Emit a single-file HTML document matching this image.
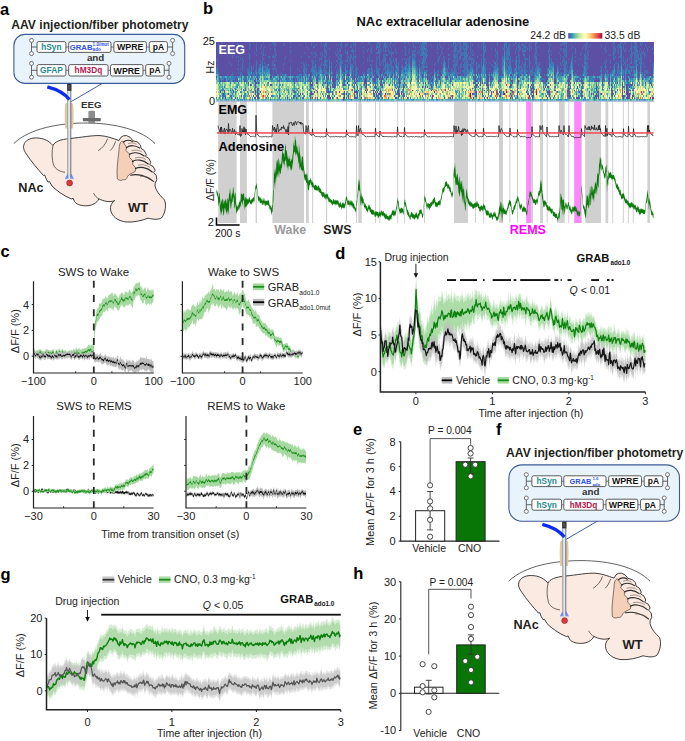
<!DOCTYPE html>
<html><head><meta charset="utf-8"><style>
html,body{margin:0;padding:0;background:#fff;width:685px;height:741px;overflow:hidden}
svg{display:block}
text{font-family:"Liberation Sans",sans-serif}
</style></head><body>
<svg width="685" height="741" viewBox="0 0 685 741">
<text x="0" y="14.6" font-size="16.5" font-weight="bold" fill="#000">a</text><text x="11.3" y="28.6" font-size="12.1" font-weight="bold" fill="#231f20">AAV injection/fiber photometry</text><line x1="102.5" y1="83.3" x2="71.2" y2="101.6" stroke="#2b4f9c" stroke-width="0.9"/><rect x="13.9" y="34.4" width="170.8" height="49" rx="11" fill="#e8f3fc" stroke="#3c5a98" stroke-width="1.1"/><line x1="65.9" y1="47" x2="68.7" y2="47" stroke="#555" stroke-width="0.8"/><line x1="111" y1="47" x2="113.9" y2="47" stroke="#555" stroke-width="0.8"/><line x1="146.4" y1="47" x2="149.3" y2="47" stroke="#555" stroke-width="0.8"/><line x1="31.5" y1="40.4" x2="31.5" y2="53.6" stroke="#555" stroke-width="0.9"/><line x1="31.5" y1="47" x2="37" y2="47" stroke="#555" stroke-width="0.9"/><circle cx="31.5" cy="40.4" r="2" fill="#fff" stroke="#555" stroke-width="0.8"/><circle cx="31.5" cy="53.6" r="2" fill="#fff" stroke="#555" stroke-width="0.8"/><line x1="172.6" y1="40.4" x2="172.6" y2="53.6" stroke="#555" stroke-width="0.9"/><line x1="167.1" y1="47" x2="172.6" y2="47" stroke="#555" stroke-width="0.9"/><circle cx="172.6" cy="40.4" r="2" fill="#fff" stroke="#555" stroke-width="0.8"/><circle cx="172.6" cy="53.6" r="2" fill="#fff" stroke="#555" stroke-width="0.8"/><rect x="37" y="41.6" width="28.9" height="10.8" rx="1.8" fill="#fff" stroke="#4a4a4a" stroke-width="0.9"/><rect x="68.7" y="41.6" width="42.3" height="10.8" rx="1.8" fill="#fff" stroke="#4a4a4a" stroke-width="0.9"/><rect x="113.9" y="41.6" width="32.5" height="10.8" rx="1.8" fill="#fff" stroke="#4a4a4a" stroke-width="0.9"/><rect x="149.3" y="41.6" width="18.1" height="10.8" rx="1.8" fill="#fff" stroke="#4a4a4a" stroke-width="0.9"/><text x="51.4" y="49.8" font-size="8.3" font-weight="bold" text-anchor="middle" fill="#1d8a8e">hSyn</text><text x="69.8" y="49.8" font-size="7.7" font-weight="bold" fill="#2b4ff0">GRAB</text><text x="92.6" y="46" font-size="4.6" font-weight="bold" fill="#2b4ff0">1.0/mut</text><text x="92.6" y="51" font-size="4.6" font-weight="bold" fill="#2b4ff0">ado</text><text x="130.2" y="50.2" font-size="8.8" font-weight="bold" text-anchor="middle" fill="#111">WPRE</text><text x="158.4" y="50" font-size="8.5" font-weight="bold" text-anchor="middle" fill="#111">pA</text><text x="95.6" y="61" font-size="9.8" font-weight="bold" text-anchor="middle" fill="#333">and</text><line x1="65.9" y1="70.3" x2="68.7" y2="70.3" stroke="#555" stroke-width="0.8"/><line x1="108.1" y1="70.3" x2="110.5" y2="70.3" stroke="#555" stroke-width="0.8"/><line x1="143" y1="70.3" x2="145.7" y2="70.3" stroke="#555" stroke-width="0.8"/><line x1="31.5" y1="63.4" x2="31.5" y2="77.2" stroke="#555" stroke-width="0.9"/><line x1="31.5" y1="70.3" x2="37" y2="70.3" stroke="#555" stroke-width="0.9"/><circle cx="31.5" cy="63.4" r="2" fill="#fff" stroke="#555" stroke-width="0.8"/><circle cx="31.5" cy="77.2" r="2" fill="#fff" stroke="#555" stroke-width="0.8"/><line x1="169" y1="63.4" x2="169" y2="77.2" stroke="#555" stroke-width="0.9"/><line x1="163.5" y1="70.3" x2="169" y2="70.3" stroke="#555" stroke-width="0.9"/><circle cx="169" cy="63.4" r="2" fill="#fff" stroke="#555" stroke-width="0.8"/><circle cx="169" cy="77.2" r="2" fill="#fff" stroke="#555" stroke-width="0.8"/><rect x="37" y="64.6" width="28.9" height="11.4" rx="1.8" fill="#fff" stroke="#4a4a4a" stroke-width="0.9"/><rect x="68.7" y="64.6" width="39.4" height="11.4" rx="1.8" fill="#fff" stroke="#4a4a4a" stroke-width="0.9"/><rect x="110.5" y="64.6" width="32.5" height="11.4" rx="1.8" fill="#fff" stroke="#4a4a4a" stroke-width="0.9"/><rect x="145.7" y="64.6" width="18.5" height="11.4" rx="1.8" fill="#fff" stroke="#4a4a4a" stroke-width="0.9"/><text x="51.4" y="73.3" font-size="8.3" font-weight="bold" text-anchor="middle" fill="#1d8a8e">GFAP</text><text x="88.4" y="73.3" font-size="8.3" font-weight="bold" text-anchor="middle" fill="#b5174e">hM3Dq</text><text x="126.8" y="73.6" font-size="8.8" font-weight="bold" text-anchor="middle" fill="#111">WPRE</text><text x="155" y="73.4" font-size="8.5" font-weight="bold" text-anchor="middle" fill="#111">pA</text><g transform="translate(0,0)"><path d="M13.7,143.6 C30,128 60,123 86,123 C115,123 142,130 155,143.6" fill="none" stroke="#3a3a3a" stroke-width="0.8"/><path d="M23.5,147.3 C23.5,142 28,138.6 34,138 C41,137.5 48,139.5 53,145.5 C55,141.5 60,139.5 70,138.5 C82,137.3 92,135.3 100,135.6 C107,136 113,138.5 119,140.5 L121,137.2 Q123,135.2 126.5,135.6 Q130.5,136.5 133,140.8 Q137.8,141 140.6,145.2 L141,148.4 Q145,149.6 146.2,154.4 L145.6,156.4 Q149.8,157.6 150.8,162.4 L149.6,164.6 Q154,165.6 155.2,170.4 L153.6,172.6 Q157.2,174.6 156.8,179.6 L155.2,183 L155,186 C157,193 161,196 164.5,200 C166.5,205 165.5,212 162,217.5 C158,220.5 152,219 148,218.2 C142,220.5 134,222.5 126,222 C119,221 114,218 111.5,213 C109.5,208 110.5,203.5 114.7,200.6 C110,202.5 104,201.5 98.9,198.8 C97,203 92,205.8 85.8,205.8 C80,205.8 76,204 74.5,201.5 L73.1,198.3 L71.5,199 C64,196 57,191 52,186 L49.5,181.7 L48,182 C46.5,180 45.5,177.5 44.7,175 L43.5,175.5 C38,169.5 31,161 27,155 C24.5,151.5 23.5,149 23.5,147.3 Z" fill="#fbeae1" stroke="#2a2a2a" stroke-width="0.9"/><path d="M120.5,142.5 C122,140.5 124,141 124.3,144 L127,147.6 L125.6,150.3 L130,154.3 L129.3,157.2 L133.2,161.2 L132.6,164.3 L136,168.3 L135.2,171.5 C131.5,173.5 128.5,174.5 127.5,176.5 C127,179 125,180.5 123,179.5 C121.5,181 119,180.5 117.3,178.8 C116.3,170 118,160 118.8,152 C119.2,148 119,145 120.5,142.5 Z" fill="#f6cfb8" stroke="#2d2d2d" stroke-width="0.6"/><path d="M123.3,142.2 C126,139.6 130,139.8 132.4,141.6" fill="none" stroke="#2d2d2d" stroke-width="1.15" stroke-linecap="round"/><path d="M126.3,147.6 C130,144.8 135.5,145.2 139.6,148" fill="none" stroke="#2d2d2d" stroke-width="1.15" stroke-linecap="round"/><path d="M129.3,154.4 C133,151.8 139,152.2 144.2,156" fill="none" stroke="#2d2d2d" stroke-width="1.15" stroke-linecap="round"/><path d="M132.4,161.4 C136.5,159 143,159.6 148.3,164" fill="none" stroke="#2d2d2d" stroke-width="1.15" stroke-linecap="round"/><path d="M135.4,168.6 C140,166.2 147,167.2 152.3,172" fill="none" stroke="#2d2d2d" stroke-width="1.15" stroke-linecap="round"/><path d="M130.6,175.2 C137,173.6 146,175.2 153.6,181.4" fill="none" stroke="#2d2d2d" stroke-width="1.15" stroke-linecap="round"/><path d="M128,143.6 C131,142.4 134,142.8 136.5,144.4" fill="none" stroke="#6a5a55" stroke-width="0.6"/><path d="M131.5,150.8 C135,149.4 139,150 141.8,151.8" fill="none" stroke="#6a5a55" stroke-width="0.6"/><path d="M135,158 C139,156.6 143,157.4 146,159.6" fill="none" stroke="#6a5a55" stroke-width="0.6"/><path d="M138,165.2 C142,164 146.5,164.8 150,167.4" fill="none" stroke="#6a5a55" stroke-width="0.6"/><path d="M140,176.4 C145,176 149,177.4 152,179.6" fill="none" stroke="#6a5a55" stroke-width="0.6"/><path d="M53,145.5 C51.5,152 52,160 53.5,165 C56,170 60,171.5 65,172.3" fill="none" stroke="#2d2d2d" stroke-width="0.7"/><path d="M93.6,193.1 C95,196 97,198 98.9,198.8" fill="none" stroke="#2d2d2d" stroke-width="0.7"/><path d="M107.5,138.7 C106,144 102,148.5 98.2,150.6" fill="none" stroke="#2d2d2d" stroke-width="0.7"/><path d="M115.6,141.3 C114.5,145 112.5,148.5 110.2,150.6" fill="none" stroke="#2d2d2d" stroke-width="0.7"/><path d="M65.2,104 C64.5,110 64.6,121 65.3,128.5 L73,128.5 C73.7,121 73.8,110 73,104 C71,101.8 67.2,101.8 65.2,104 Z" fill="#e2c79f"/><rect x="67.6" y="84" width="3.2" height="93" fill="#dbe8f6"/><line x1="67.6" y1="84" x2="67.6" y2="177" stroke="#8a8a8a" stroke-width="0.7"/><line x1="70.8" y1="84" x2="70.8" y2="177" stroke="#3a3a3a" stroke-width="0.7"/><line x1="68.1" y1="128" x2="68.1" y2="176" stroke="#caa878" stroke-width="0.6"/><rect x="67.2" y="83.8" width="4.2" height="7" fill="#2e2e2e"/><rect x="68.3" y="85" width="2" height="4.5" fill="#555"/><path d="M64.8,179 L67.6,173.4 L68.8,178.6 Z M74,179 L71.2,173.4 L70,178.6 Z" fill="#5577f2" opacity="0.8"/><circle cx="69.6" cy="183" r="2.9" fill="#e23a3a" stroke="#7a1a1a" stroke-width="0.6"/><path d="M47.3,86.8 C56,89 64,92.5 69.4,99.5" fill="none" stroke="#0b2cf2" stroke-width="3.3"/></g><text x="91.3" y="108.2" font-size="9.7" font-weight="bold" text-anchor="middle" fill="#333">EEG</text><rect x="88.4" y="110.7" width="6.6" height="13" rx="1.2" fill="#8c8c8c"/><rect x="82.8" y="117.9" width="18" height="3.4" rx="0.8" fill="#6a6a6a"/><text x="18.3" y="191.6" font-size="12.7" font-weight="bold" fill="#231f20">NAc</text><text x="127.9" y="212.1" font-size="13" font-weight="bold" fill="#231f20">WT</text><text x="496" y="435.3" font-size="16.5" font-weight="bold" fill="#000">f</text><text x="506.1" y="457.4" font-size="12.1" font-weight="bold" fill="#231f20">AAV injection/fiber photometry</text><line x1="597.6" y1="521" x2="566.2" y2="539.3" stroke="#2b4f9c" stroke-width="0.9"/><rect x="508.9" y="464.9" width="170.6" height="56.3" rx="13" fill="#e8f3fc" stroke="#3c5a98" stroke-width="1.1"/><line x1="561.6" y1="481.2" x2="563.8" y2="481.2" stroke="#555" stroke-width="0.8"/><line x1="606" y1="481.2" x2="608.7" y2="481.2" stroke="#555" stroke-width="0.8"/><line x1="641.5" y1="481.2" x2="644.2" y2="481.2" stroke="#555" stroke-width="0.8"/><line x1="526.3" y1="474.6" x2="526.3" y2="487.8" stroke="#555" stroke-width="0.9"/><line x1="526.3" y1="481.2" x2="531.8" y2="481.2" stroke="#555" stroke-width="0.9"/><circle cx="526.3" cy="474.6" r="2" fill="#fff" stroke="#555" stroke-width="0.8"/><circle cx="526.3" cy="487.8" r="2" fill="#fff" stroke="#555" stroke-width="0.8"/><line x1="667.5" y1="474.6" x2="667.5" y2="487.8" stroke="#555" stroke-width="0.9"/><line x1="662" y1="481.2" x2="667.5" y2="481.2" stroke="#555" stroke-width="0.9"/><circle cx="667.5" cy="474.6" r="2" fill="#fff" stroke="#555" stroke-width="0.8"/><circle cx="667.5" cy="487.8" r="2" fill="#fff" stroke="#555" stroke-width="0.8"/><rect x="531.9" y="475.8" width="29.7" height="10.8" rx="1.8" fill="#fff" stroke="#4a4a4a" stroke-width="0.9"/><rect x="563.8" y="475.8" width="42.2" height="10.8" rx="1.8" fill="#fff" stroke="#4a4a4a" stroke-width="0.9"/><rect x="608.7" y="475.8" width="32.8" height="10.8" rx="1.8" fill="#fff" stroke="#4a4a4a" stroke-width="0.9"/><rect x="644.2" y="475.8" width="18.6" height="10.8" rx="1.8" fill="#fff" stroke="#4a4a4a" stroke-width="0.9"/><text x="546.7" y="484.1" font-size="8.3" font-weight="bold" text-anchor="middle" fill="#1d8a8e">hSyn</text><text x="569.6" y="484.2" font-size="7.4" font-weight="bold" fill="#2b4ff0">GRAB</text><text x="592.4" y="480.4" font-size="4.4" font-weight="bold" fill="#2b4ff0">1.0</text><text x="592.4" y="485.8" font-size="4.4" font-weight="bold" fill="#2b4ff0">ado</text><text x="625.1" y="484.4" font-size="8.8" font-weight="bold" text-anchor="middle" fill="#111">WPRE</text><text x="653.5" y="484.2" font-size="8.5" font-weight="bold" text-anchor="middle" fill="#111">pA</text><text x="590.7" y="495.3" font-size="9.8" font-weight="bold" text-anchor="middle" fill="#333">and</text><line x1="561.6" y1="504.7" x2="563.8" y2="504.7" stroke="#555" stroke-width="0.8"/><line x1="603.2" y1="504.7" x2="606" y2="504.7" stroke="#555" stroke-width="0.8"/><line x1="637.9" y1="504.7" x2="640.6" y2="504.7" stroke="#555" stroke-width="0.8"/><line x1="526.3" y1="498" x2="526.3" y2="511.4" stroke="#555" stroke-width="0.9"/><line x1="526.3" y1="504.7" x2="531.8" y2="504.7" stroke="#555" stroke-width="0.9"/><circle cx="526.3" cy="498" r="2" fill="#fff" stroke="#555" stroke-width="0.8"/><circle cx="526.3" cy="511.4" r="2" fill="#fff" stroke="#555" stroke-width="0.8"/><line x1="664.2" y1="498" x2="664.2" y2="511.4" stroke="#555" stroke-width="0.9"/><line x1="658.7" y1="504.7" x2="664.2" y2="504.7" stroke="#555" stroke-width="0.9"/><circle cx="664.2" cy="498" r="2" fill="#fff" stroke="#555" stroke-width="0.8"/><circle cx="664.2" cy="511.4" r="2" fill="#fff" stroke="#555" stroke-width="0.8"/><rect x="531.9" y="499.2" width="29.7" height="11" rx="1.8" fill="#fff" stroke="#4a4a4a" stroke-width="0.9"/><rect x="563.8" y="499.2" width="39.4" height="11" rx="1.8" fill="#fff" stroke="#4a4a4a" stroke-width="0.9"/><rect x="606" y="499.2" width="31.9" height="11" rx="1.8" fill="#fff" stroke="#4a4a4a" stroke-width="0.9"/><rect x="640.6" y="499.2" width="19.4" height="11" rx="1.8" fill="#fff" stroke="#4a4a4a" stroke-width="0.9"/><text x="546.7" y="507.6" font-size="8.3" font-weight="bold" text-anchor="middle" fill="#1d8a8e">hSyn</text><text x="583.5" y="507.6" font-size="8.3" font-weight="bold" text-anchor="middle" fill="#b5174e">hM3Dq</text><text x="622" y="507.9" font-size="8.8" font-weight="bold" text-anchor="middle" fill="#111">WPRE</text><text x="650.3" y="507.7" font-size="8.5" font-weight="bold" text-anchor="middle" fill="#111">pA</text><g transform="translate(495,437.6)"><path d="M13.7,143.6 C30,128 60,123 86,123 C115,123 142,130 155,143.6" fill="none" stroke="#3a3a3a" stroke-width="0.8"/><path d="M23.5,147.3 C23.5,142 28,138.6 34,138 C41,137.5 48,139.5 53,145.5 C55,141.5 60,139.5 70,138.5 C82,137.3 92,135.3 100,135.6 C107,136 113,138.5 119,140.5 L121,137.2 Q123,135.2 126.5,135.6 Q130.5,136.5 133,140.8 Q137.8,141 140.6,145.2 L141,148.4 Q145,149.6 146.2,154.4 L145.6,156.4 Q149.8,157.6 150.8,162.4 L149.6,164.6 Q154,165.6 155.2,170.4 L153.6,172.6 Q157.2,174.6 156.8,179.6 L155.2,183 L155,186 C157,193 161,196 164.5,200 C166.5,205 165.5,212 162,217.5 C158,220.5 152,219 148,218.2 C142,220.5 134,222.5 126,222 C119,221 114,218 111.5,213 C109.5,208 110.5,203.5 114.7,200.6 C110,202.5 104,201.5 98.9,198.8 C97,203 92,205.8 85.8,205.8 C80,205.8 76,204 74.5,201.5 L73.1,198.3 L71.5,199 C64,196 57,191 52,186 L49.5,181.7 L48,182 C46.5,180 45.5,177.5 44.7,175 L43.5,175.5 C38,169.5 31,161 27,155 C24.5,151.5 23.5,149 23.5,147.3 Z" fill="#fbeae1" stroke="#2a2a2a" stroke-width="0.9"/><path d="M120.5,142.5 C122,140.5 124,141 124.3,144 L127,147.6 L125.6,150.3 L130,154.3 L129.3,157.2 L133.2,161.2 L132.6,164.3 L136,168.3 L135.2,171.5 C131.5,173.5 128.5,174.5 127.5,176.5 C127,179 125,180.5 123,179.5 C121.5,181 119,180.5 117.3,178.8 C116.3,170 118,160 118.8,152 C119.2,148 119,145 120.5,142.5 Z" fill="#f6cfb8" stroke="#2d2d2d" stroke-width="0.6"/><path d="M123.3,142.2 C126,139.6 130,139.8 132.4,141.6" fill="none" stroke="#2d2d2d" stroke-width="1.15" stroke-linecap="round"/><path d="M126.3,147.6 C130,144.8 135.5,145.2 139.6,148" fill="none" stroke="#2d2d2d" stroke-width="1.15" stroke-linecap="round"/><path d="M129.3,154.4 C133,151.8 139,152.2 144.2,156" fill="none" stroke="#2d2d2d" stroke-width="1.15" stroke-linecap="round"/><path d="M132.4,161.4 C136.5,159 143,159.6 148.3,164" fill="none" stroke="#2d2d2d" stroke-width="1.15" stroke-linecap="round"/><path d="M135.4,168.6 C140,166.2 147,167.2 152.3,172" fill="none" stroke="#2d2d2d" stroke-width="1.15" stroke-linecap="round"/><path d="M130.6,175.2 C137,173.6 146,175.2 153.6,181.4" fill="none" stroke="#2d2d2d" stroke-width="1.15" stroke-linecap="round"/><path d="M128,143.6 C131,142.4 134,142.8 136.5,144.4" fill="none" stroke="#6a5a55" stroke-width="0.6"/><path d="M131.5,150.8 C135,149.4 139,150 141.8,151.8" fill="none" stroke="#6a5a55" stroke-width="0.6"/><path d="M135,158 C139,156.6 143,157.4 146,159.6" fill="none" stroke="#6a5a55" stroke-width="0.6"/><path d="M138,165.2 C142,164 146.5,164.8 150,167.4" fill="none" stroke="#6a5a55" stroke-width="0.6"/><path d="M140,176.4 C145,176 149,177.4 152,179.6" fill="none" stroke="#6a5a55" stroke-width="0.6"/><path d="M53,145.5 C51.5,152 52,160 53.5,165 C56,170 60,171.5 65,172.3" fill="none" stroke="#2d2d2d" stroke-width="0.7"/><path d="M93.6,193.1 C95,196 97,198 98.9,198.8" fill="none" stroke="#2d2d2d" stroke-width="0.7"/><path d="M107.5,138.7 C106,144 102,148.5 98.2,150.6" fill="none" stroke="#2d2d2d" stroke-width="0.7"/><path d="M115.6,141.3 C114.5,145 112.5,148.5 110.2,150.6" fill="none" stroke="#2d2d2d" stroke-width="0.7"/><path d="M65.2,104 C64.5,110 64.6,121 65.3,128.5 L73,128.5 C73.7,121 73.8,110 73,104 C71,101.8 67.2,101.8 65.2,104 Z" fill="#e2c79f"/><rect x="67.6" y="84" width="3.2" height="93" fill="#dbe8f6"/><line x1="67.6" y1="84" x2="67.6" y2="177" stroke="#8a8a8a" stroke-width="0.7"/><line x1="70.8" y1="84" x2="70.8" y2="177" stroke="#3a3a3a" stroke-width="0.7"/><line x1="68.1" y1="128" x2="68.1" y2="176" stroke="#caa878" stroke-width="0.6"/><rect x="67.2" y="83.8" width="4.2" height="7" fill="#2e2e2e"/><rect x="68.3" y="85" width="2" height="4.5" fill="#555"/><path d="M64.8,179 L67.6,173.4 L68.8,178.6 Z M74,179 L71.2,173.4 L70,178.6 Z" fill="#5577f2" opacity="0.8"/><circle cx="69.6" cy="183" r="2.9" fill="#e23a3a" stroke="#7a1a1a" stroke-width="0.6"/><path d="M47.3,86.8 C56,89 64,92.5 69.4,99.5" fill="none" stroke="#0b2cf2" stroke-width="3.3"/></g><text x="513.4" y="629" font-size="12.7" font-weight="bold" fill="#231f20">NAc</text><text x="622.6" y="649.2" font-size="13" font-weight="bold" fill="#231f20">WT</text><text x="203" y="14" font-size="16.5" font-weight="bold" fill="#000">b</text><text x="442.9" y="26.3" font-size="12.9" font-weight="bold" text-anchor="middle" fill="#111">NAc extracellular adenosine</text><text x="566" y="38.6" font-size="10.4" text-anchor="end" fill="#222">24.2 dB</text><defs><linearGradient id="cb" x1="0" x2="1" y1="0" y2="0"><stop offset="0.00" stop-color="#5e4fa2"/><stop offset="0.10" stop-color="#3288bd"/><stop offset="0.20" stop-color="#66c2a5"/><stop offset="0.30" stop-color="#abdda4"/><stop offset="0.40" stop-color="#e6f598"/><stop offset="0.50" stop-color="#ffffbf"/><stop offset="0.60" stop-color="#fee08b"/><stop offset="0.70" stop-color="#fdae61"/><stop offset="0.80" stop-color="#f46d43"/><stop offset="0.90" stop-color="#d53e4f"/><stop offset="1.00" stop-color="#9e0142"/></linearGradient></defs><rect x="568.2" y="33.1" width="34.1" height="5.5" fill="url(#cb)"/><text x="604.5" y="38.6" font-size="10.4" fill="#222">33.5 dB</text><rect x="218.2" y="101.3" width="18.4" height="121.7" fill="#d0d0d0"/><rect x="240" y="101.3" width="6.9" height="121.7" fill="#d0d0d0"/><rect x="255.6" y="101.3" width="1.4" height="121.7" fill="#d0d0d0"/><rect x="272.4" y="101.3" width="31.6" height="121.7" fill="#d0d0d0"/><rect x="306" y="101.3" width="2.8" height="121.7" fill="#d0d0d0"/><rect x="312.1" y="101.3" width="1.1" height="121.7" fill="#d0d0d0"/><rect x="326" y="101.3" width="1.1" height="121.7" fill="#d0d0d0"/><rect x="346" y="101.3" width="1" height="121.7" fill="#d0d0d0"/><rect x="356" y="101.3" width="1" height="121.7" fill="#d0d0d0"/><rect x="358.3" y="101.3" width="3.4" height="121.7" fill="#d0d0d0"/><rect x="375" y="101.3" width="1" height="121.7" fill="#d0d0d0"/><rect x="379.3" y="101.3" width="1" height="121.7" fill="#d0d0d0"/><rect x="397.2" y="101.3" width="1" height="121.7" fill="#d0d0d0"/><rect x="404.1" y="101.3" width="1" height="121.7" fill="#d0d0d0"/><rect x="424" y="101.3" width="1" height="121.7" fill="#d0d0d0"/><rect x="454" y="101.3" width="14" height="121.7" fill="#d0d0d0"/><rect x="475" y="101.3" width="1" height="121.7" fill="#d0d0d0"/><rect x="483.1" y="101.3" width="1" height="121.7" fill="#d0d0d0"/><rect x="499" y="101.3" width="4" height="121.7" fill="#d0d0d0"/><rect x="509.4" y="101.3" width="1" height="121.7" fill="#d0d0d0"/><rect x="517" y="101.3" width="1" height="121.7" fill="#d0d0d0"/><rect x="531" y="101.3" width="2" height="121.7" fill="#d0d0d0"/><rect x="540.1" y="101.3" width="2.9" height="121.7" fill="#d0d0d0"/><rect x="546.7" y="101.3" width="1" height="121.7" fill="#d0d0d0"/><rect x="559" y="101.3" width="5.7" height="121.7" fill="#d0d0d0"/><rect x="568.3" y="101.3" width="1" height="121.7" fill="#d0d0d0"/><rect x="581.1" y="101.3" width="0.9" height="121.7" fill="#d0d0d0"/><rect x="585.2" y="101.3" width="15.8" height="121.7" fill="#d0d0d0"/><rect x="605.5" y="101.3" width="2.7" height="121.7" fill="#d0d0d0"/><rect x="612.2" y="101.3" width="1" height="121.7" fill="#d0d0d0"/><rect x="622.8" y="101.3" width="1" height="121.7" fill="#d0d0d0"/><rect x="627.9" y="101.3" width="1" height="121.7" fill="#d0d0d0"/><rect x="632.8" y="101.3" width="1" height="121.7" fill="#d0d0d0"/><rect x="647.4" y="101.3" width="2.6" height="121.7" fill="#d0d0d0"/><rect x="526.1" y="101.3" width="4.9" height="121.7" fill="#ff88fc"/><rect x="574.2" y="101.3" width="6.8" height="121.7" fill="#ff88fc"/><rect x="216" y="42" width="438" height="59.3" fill="#5b50a3"/><g shape-rendering="crispEdges"><path fill="#85cba1" d="M414 69.7h1v2h-1zM262 73.6h1v2h-1zM320 73.6h1v2h-1zM340 73.6h1v2h-1zM415 73.6h1v2h-1zM539 73.6h1v2h-1zM548 73.6h1v2h-1zM553 73.6h1v2h-1zM640 73.6h1v2h-1zM250 75.6h1v2h-1zM398 75.6h1v2h-1zM406 75.6h1v2h-1zM434 75.6h1v2h-1zM444 75.6h1v2h-1zM477 75.6h1v2h-1zM495 75.6h1v2h-1zM566 75.6h1v2h-1zM321 77.6h1v2h-1zM331 77.6h1v2h-1zM371 77.6h1v2h-1zM378 77.6h1v2h-1zM408 77.6h2v2h-2zM415 77.6h1v2h-1zM419 77.6h1v2h-1zM426 77.6h1v2h-1zM464 77.6h1v2h-1zM470 77.6h1v2h-1zM497 77.6h1v2h-1zM503 77.6h1v2h-1zM529 77.6h1v2h-1zM538 77.6h1v2h-1zM550 77.6h1v2h-1zM557 77.6h1v2h-1zM565 77.6h1v2h-1zM614 77.6h1v2h-1zM265 79.6h1v2h-1zM268 79.6h1v2h-1zM313 79.6h1v2h-1zM315 79.6h1v2h-1zM353 79.6h1v2h-1zM386 79.6h1v2h-1zM439 79.6h1v2h-1zM443 79.6h1v2h-1zM454 79.6h1v2h-1zM464 79.6h1v2h-1zM467 79.6h1v2h-1zM471 79.6h1v2h-1zM493 79.6h1v2h-1zM497 79.6h1v2h-1zM535 79.6h1v2h-1zM539 79.6h1v2h-1zM553 79.6h1v2h-1zM584 79.6h1v2h-1zM653 79.6h1v2h-1zM216 81.5h1v2h-1zM224 81.5h1v2h-1zM236 81.5h1v2h-1zM262 81.5h1v2h-1zM277 81.5h1v2h-1zM295 81.5h1v2h-1zM298 81.5h1v2h-1zM303 81.5h1v2h-1zM318 81.5h1v2h-1zM320 81.5h1v2h-1zM322 81.5h1v2h-1zM359 81.5h1v2h-1zM387 81.5h1v2h-1zM405 81.5h1v2h-1zM407 81.5h1v2h-1zM416 81.5h1v2h-1zM420 81.5h1v2h-1zM422 81.5h1v2h-1zM448 81.5h1v2h-1zM507 81.5h1v2h-1zM519 81.5h1v2h-1zM530 81.5h1v2h-1zM534 81.5h2v2h-2zM595 81.5h1v2h-1zM652 81.5h1v2h-1zM219 83.5h1v2h-1zM221 83.5h1v2h-1zM229 83.5h1v2h-1zM246 83.5h1v2h-1zM259 83.5h1v2h-1zM266 83.5h1v2h-1zM277 83.5h1v2h-1zM283 83.5h1v2h-1zM296 83.5h2v2h-2zM318 83.5h1v2h-1zM326 83.5h1v2h-1zM361 83.5h1v2h-1zM367 83.5h1v2h-1zM388 83.5h1v2h-1zM398 83.5h1v2h-1zM411 83.5h1v2h-1zM417 83.5h1v2h-1zM445 83.5h1v2h-1zM465 83.5h1v2h-1zM479 83.5h1v2h-1zM483 83.5h1v2h-1zM522 83.5h1v2h-1zM527 83.5h1v2h-1zM547 83.5h1v2h-1zM556 83.5h1v2h-1zM565 83.5h1v2h-1zM580 83.5h1v2h-1zM591 83.5h1v2h-1zM593 83.5h1v2h-1zM601 83.5h1v2h-1zM604 83.5h1v2h-1zM230 85.5h1v2h-1zM232 85.5h1v2h-1zM250 85.5h1v2h-1zM253 85.5h1v2h-1zM258 85.5h1v2h-1zM287 85.5h1v2h-1zM298 85.5h1v2h-1zM303 85.5h1v2h-1zM345 85.5h2v2h-2zM352 85.5h1v2h-1zM362 85.5h1v2h-1zM377 85.5h1v2h-1zM394 85.5h1v2h-1zM429 85.5h1v2h-1zM433 85.5h1v2h-1zM447 85.5h1v2h-1zM491 85.5h1v2h-1zM501 85.5h1v2h-1zM513 85.5h1v2h-1zM523 85.5h1v2h-1zM527 85.5h1v2h-1zM534 85.5h1v2h-1zM541 85.5h1v2h-1zM549 85.5h1v2h-1zM558 85.5h1v2h-1zM594 85.5h1v2h-1zM598 85.5h1v2h-1zM613 85.5h1v2h-1zM619 85.5h1v2h-1zM638 85.5h1v2h-1zM644 85.5h1v2h-1zM649 85.5h1v2h-1zM232 87.5h1v2h-1zM239 87.5h1v2h-1zM278 87.5h1v2h-1zM299 87.5h1v2h-1zM303 87.5h1v2h-1zM309 87.5h1v2h-1zM392 87.5h1v2h-1zM399 87.5h2v2h-2zM405 87.5h1v2h-1zM407 87.5h2v2h-2zM438 87.5h1v2h-1zM450 87.5h1v2h-1zM500 87.5h1v2h-1zM547 87.5h1v2h-1zM560 87.5h1v2h-1zM591 87.5h1v2h-1zM619 87.5h1v2h-1zM649 87.5h1v2h-1zM235 89.4h1v2h-1zM248 89.4h1v2h-1zM286 89.4h1v2h-1zM291 89.4h1v2h-1zM384 89.4h1v2h-1zM450 89.4h1v2h-1zM494 89.4h1v2h-1zM515 89.4h1v2h-1zM544 89.4h1v2h-1zM606 89.4h1v2h-1zM608 89.4h1v2h-1zM218 91.4h1v2h-1zM228 91.4h1v2h-1zM234 91.4h1v2h-1zM272 91.4h1v2h-1zM281 91.4h1v2h-1zM289 91.4h1v2h-1zM300 91.4h1v2h-1zM302 91.4h1v2h-1zM312 91.4h1v2h-1zM386 91.4h1v2h-1zM411 91.4h1v2h-1zM447 91.4h1v2h-1zM502 91.4h1v2h-1zM514 91.4h1v2h-1zM530 91.4h1v2h-1zM561 91.4h2v2h-2zM219 93.4h1v2h-1zM231 93.4h1v2h-1zM233 93.4h1v2h-1zM289 93.4h1v2h-1zM292 93.4h1v2h-1zM360 93.4h1v2h-1zM375 93.4h1v2h-1zM402 93.4h1v2h-1zM408 93.4h1v2h-1zM463 93.4h1v2h-1zM484 93.4h1v2h-1zM559 93.4h1v2h-1zM578 93.4h1v2h-1zM584 93.4h1v2h-1zM635 93.4h1v2h-1zM637 93.4h2v2h-2zM307 95.4h1v2h-1zM317 95.4h1v2h-1zM364 95.4h1v2h-1zM375 95.4h1v2h-1zM401 95.4h1v2h-1zM438 95.4h1v2h-1zM461 95.4h1v2h-1zM528 95.4h1v2h-1zM539 95.4h1v2h-1zM548 95.4h1v2h-1zM550 95.4h1v2h-1zM563 95.4h1v2h-1zM600 95.4h1v2h-1zM634 95.4h1v2h-1zM218 97.3h1v2h-1zM227 97.3h1v2h-1zM272 97.3h1v2h-1zM274 97.3h1v2h-1zM288 97.3h1v2h-1zM292 97.3h1v2h-1zM295 97.3h1v2h-1zM376 97.3h1v2h-1zM414 97.3h1v2h-1zM474 97.3h2v2h-2zM493 97.3h1v2h-1zM503 97.3h2v2h-2zM518 97.3h1v2h-1zM523 97.3h1v2h-1zM525 97.3h1v2h-1zM554 97.3h1v2h-1zM560 97.3h1v2h-1zM592 97.3h1v2h-1zM615 97.3h1v2h-1zM216 99.3h1v2h-1zM248 99.3h1v2h-1zM254 99.3h1v2h-1zM269 99.3h1v2h-1zM313 99.3h1v2h-1zM340 99.3h1v2h-1zM395 99.3h2v2h-2zM477 99.3h1v2h-1zM483 99.3h1v2h-1zM553 99.3h1v2h-1zM570 99.3h1v2h-1zM617 99.3h1v2h-1zM621 99.3h1v2h-1zM638 99.3h1v2h-1zM651 99.3h1v2h-1z"/><path fill="#3f85bd" d="M425 42h1v2h-1zM377 46h1v2h-1zM504 46h1v2h-1zM424 47.9h1v2h-1zM483 47.9h1v2h-1zM621 49.9h1v2h-1zM423 51.9h1v2h-1zM621 53.9h1v2h-1zM385 57.8h1v2h-1zM507 57.8h1v2h-1zM413 59.8h1v2h-1zM423 59.8h1v2h-1zM503 59.8h1v2h-1zM636 59.8h1v2h-1zM422 61.8h1v2h-1zM444 61.8h1v2h-1zM495 61.8h1v2h-1zM585 61.8h1v2h-1zM268 63.7h1v2h-1zM315 63.7h1v2h-1zM385 63.7h1v2h-1zM409 63.7h1v2h-1zM618 63.7h1v2h-1zM331 65.7h1v2h-1zM397 65.7h1v2h-1zM405 65.7h1v2h-1zM423 65.7h1v2h-1zM443 65.7h1v2h-1zM448 65.7h1v2h-1zM510 65.7h1v2h-1zM552 65.7h1v2h-1zM570 65.7h1v2h-1zM584 65.7h2v2h-2zM618 65.7h1v2h-1zM217 67.7h1v2h-1zM259 67.7h1v2h-1zM397 67.7h1v2h-1zM445 67.7h1v2h-1zM482 67.7h1v2h-1zM515 67.7h1v2h-1zM537 67.7h3v2h-3zM550 67.7h1v2h-1zM640 67.7h1v2h-1zM351 69.7h1v2h-1zM395 69.7h1v2h-1zM410 69.7h1v2h-1zM434 69.7h1v2h-1zM445 69.7h1v2h-1zM467 69.7h1v2h-1zM482 69.7h1v2h-1zM506 69.7h2v2h-2zM511 69.7h1v2h-1zM564 69.7h1v2h-1zM248 71.7h1v2h-1zM316 71.7h1v2h-1zM321 71.7h1v2h-1zM325 71.7h1v2h-1zM341 71.7h1v2h-1zM388 71.7h1v2h-1zM390 71.7h1v2h-1zM397 71.7h1v2h-1zM417 71.7h1v2h-1zM422 71.7h1v2h-1zM454 71.7h1v2h-1zM469 71.7h1v2h-1zM481 71.7h2v2h-2zM485 71.7h1v2h-1zM570 71.7h1v2h-1zM605 71.7h1v2h-1zM613 71.7h1v2h-1zM617 71.7h1v2h-1zM620 71.7h1v2h-1zM634 71.7h1v2h-1zM355 73.6h1v2h-1zM378 73.6h1v2h-1zM390 73.6h1v2h-1zM425 73.6h1v2h-1zM474 73.6h1v2h-1zM482 73.6h1v2h-1zM534 73.6h1v2h-1zM536 73.6h1v2h-1zM566 73.6h1v2h-1zM573 73.6h1v2h-1zM584 73.6h1v2h-1zM613 73.6h1v2h-1zM620 73.6h1v2h-1zM219 75.6h1v2h-1zM223 75.6h2v2h-2zM229 75.6h1v2h-1zM318 75.6h1v2h-1zM332 75.6h1v2h-1zM407 75.6h1v2h-1zM476 75.6h1v2h-1zM515 75.6h1v2h-1zM548 75.6h1v2h-1zM567 75.6h1v2h-1zM592 75.6h1v2h-1zM222 77.6h1v2h-1zM231 77.6h2v2h-2zM248 77.6h1v2h-1zM276 77.6h1v2h-1zM299 77.6h1v2h-1zM348 77.6h1v2h-1zM392 77.6h1v2h-1zM417 77.6h1v2h-1zM459 77.6h1v2h-1zM534 77.6h1v2h-1zM616 77.6h1v2h-1zM645 77.6h1v2h-1zM241 79.6h1v2h-1zM281 79.6h1v2h-1zM295 79.6h1v2h-1zM361 79.6h1v2h-1zM437 79.6h1v2h-1zM455 79.6h1v2h-1zM330 81.5h1v2h-1zM343 81.5h1v2h-1zM353 81.5h1v2h-1zM651 81.5h1v2h-1zM248 83.5h1v2h-1zM348 83.5h1v2h-1zM405 83.5h1v2h-1zM545 83.5h1v2h-1zM354 85.5h1v2h-1zM395 85.5h1v2h-1zM398 85.5h1v2h-1zM624 85.5h1v2h-1zM630 85.5h1v2h-1zM330 87.5h1v2h-1zM480 87.5h1v2h-1zM598 87.5h1v2h-1zM634 87.5h1v2h-1zM233 89.4h1v2h-1zM245 89.4h1v2h-1zM309 89.4h1v2h-1zM316 89.4h1v2h-1zM399 89.4h1v2h-1zM488 91.4h1v2h-1zM279 93.4h1v2h-1zM527 93.4h1v2h-1zM298 95.4h1v2h-1zM216 97.3h1v2h-1zM388 97.3h1v2h-1zM226 99.3h1v2h-1zM378 99.3h1v2h-1zM457 99.3h1v2h-1zM606 99.3h1v2h-1zM636 99.3h1v2h-1z"/><path fill="#ffcb77" d="M409 85.5h1v2h-1zM494 85.5h1v2h-1zM367 87.5h1v2h-1zM389 87.5h1v2h-1zM391 87.5h1v2h-1zM263 89.4h1v2h-1zM290 89.4h1v2h-1zM349 89.4h1v2h-1zM391 89.4h1v2h-1zM413 89.4h1v2h-1zM460 89.4h1v2h-1zM481 89.4h1v2h-1zM495 89.4h1v2h-1zM552 89.4h1v2h-1zM566 89.4h1v2h-1zM625 89.4h1v2h-1zM637 89.4h1v2h-1zM269 91.4h1v2h-1zM340 91.4h1v2h-1zM415 91.4h1v2h-1zM508 91.4h1v2h-1zM515 91.4h1v2h-1zM642 91.4h1v2h-1zM250 93.4h1v2h-1zM314 93.4h1v2h-1zM355 93.4h1v2h-1zM429 93.4h1v2h-1zM216 95.4h1v2h-1zM408 95.4h1v2h-1zM427 95.4h1v2h-1zM447 95.4h1v2h-1zM471 95.4h1v2h-1zM440 97.3h1v2h-1zM618 97.3h1v2h-1zM631 97.3h1v2h-1z"/><path fill="#f5f5af" d="M260 81.5h1v2h-1zM413 81.5h2v2h-2zM461 81.5h1v2h-1zM541 81.5h1v2h-1zM572 81.5h1v2h-1zM631 81.5h1v2h-1zM640 81.5h1v2h-1zM262 83.5h1v2h-1zM385 83.5h1v2h-1zM408 83.5h1v2h-1zM454 83.5h1v2h-1zM472 83.5h1v2h-1zM504 83.5h1v2h-1zM585 83.5h2v2h-2zM262 85.5h1v2h-1zM304 85.5h2v2h-2zM388 85.5h1v2h-1zM390 85.5h1v2h-1zM393 85.5h1v2h-1zM414 85.5h1v2h-1zM443 85.5h2v2h-2zM466 85.5h1v2h-1zM468 85.5h1v2h-1zM489 85.5h1v2h-1zM505 85.5h1v2h-1zM550 85.5h1v2h-1zM585 85.5h1v2h-1zM639 85.5h1v2h-1zM641 85.5h1v2h-1zM653 85.5h1v2h-1zM301 87.5h1v2h-1zM342 87.5h1v2h-1zM362 87.5h1v2h-1zM384 87.5h1v2h-1zM419 87.5h1v2h-1zM421 87.5h1v2h-1zM439 87.5h1v2h-1zM442 87.5h2v2h-2zM446 87.5h1v2h-1zM466 87.5h1v2h-1zM489 87.5h1v2h-1zM535 87.5h1v2h-1zM572 87.5h1v2h-1zM635 87.5h1v2h-1zM644 87.5h1v2h-1zM260 89.4h1v2h-1zM264 89.4h1v2h-1zM363 89.4h1v2h-1zM393 89.4h1v2h-1zM411 89.4h1v2h-1zM414 89.4h2v2h-2zM432 89.4h1v2h-1zM463 89.4h1v2h-1zM467 89.4h1v2h-1zM469 89.4h1v2h-1zM477 89.4h1v2h-1zM491 89.4h1v2h-1zM508 89.4h2v2h-2zM519 89.4h1v2h-1zM634 89.4h1v2h-1zM636 89.4h1v2h-1zM305 91.4h1v2h-1zM308 91.4h1v2h-1zM345 91.4h1v2h-1zM385 91.4h1v2h-1zM414 91.4h1v2h-1zM425 91.4h1v2h-1zM441 91.4h1v2h-1zM516 91.4h1v2h-1zM573 91.4h1v2h-1zM631 91.4h1v2h-1zM639 91.4h1v2h-1zM645 91.4h1v2h-1zM647 91.4h1v2h-1zM216 93.4h1v2h-1zM240 93.4h1v2h-1zM315 93.4h2v2h-2zM331 93.4h1v2h-1zM383 93.4h1v2h-1zM412 93.4h1v2h-1zM417 93.4h1v2h-1zM445 93.4h1v2h-1zM454 93.4h1v2h-1zM471 93.4h1v2h-1zM486 93.4h1v2h-1zM507 93.4h1v2h-1zM537 93.4h2v2h-2zM554 93.4h1v2h-1zM571 93.4h1v2h-1zM623 93.4h1v2h-1zM645 93.4h1v2h-1zM260 95.4h1v2h-1zM282 95.4h1v2h-1zM336 95.4h1v2h-1zM372 95.4h1v2h-1zM407 95.4h1v2h-1zM435 95.4h1v2h-1zM466 95.4h1v2h-1zM486 95.4h1v2h-1zM559 95.4h1v2h-1zM620 95.4h1v2h-1zM642 95.4h1v2h-1zM242 97.3h1v2h-1zM269 97.3h1v2h-1zM318 97.3h1v2h-1zM341 97.3h1v2h-1zM406 97.3h1v2h-1zM418 97.3h1v2h-1zM429 97.3h1v2h-1zM434 97.3h1v2h-1zM478 97.3h1v2h-1zM509 97.3h1v2h-1zM559 97.3h1v2h-1z"/><path fill="#ffaf5b" d="M653 83.5h1v2h-1zM539 89.4h1v2h-1zM216 91.4h1v2h-1zM388 91.4h1v2h-1zM443 91.4h1v2h-1zM446 91.4h1v2h-1zM489 91.4h1v2h-1zM604 93.4h1v2h-1zM389 95.4h1v2h-1zM651 95.4h1v2h-1zM350 97.3h1v2h-1zM438 97.3h1v2h-1z"/><path fill="#f5ffbd" d="M306 81.5h1v2h-1zM350 81.5h1v2h-1zM495 83.5h1v2h-1zM451 85.5h1v2h-1zM529 85.5h1v2h-1zM385 87.5h1v2h-1zM409 87.5h1v2h-1zM426 87.5h1v2h-1zM452 87.5h1v2h-1zM507 87.5h1v2h-1zM551 87.5h1v2h-1zM601 87.5h1v2h-1zM216 89.4h1v2h-1zM236 89.4h1v2h-1zM324 89.4h1v2h-1zM375 89.4h1v2h-1zM641 89.4h1v2h-1zM217 91.4h1v2h-1zM349 91.4h1v2h-1zM416 91.4h1v2h-1zM440 91.4h1v2h-1zM636 91.4h1v2h-1zM252 93.4h1v2h-1zM262 93.4h1v2h-1zM340 93.4h1v2h-1zM437 93.4h1v2h-1zM442 93.4h1v2h-1zM534 93.4h1v2h-1zM546 93.4h1v2h-1zM564 93.4h1v2h-1zM252 95.4h1v2h-1zM316 95.4h1v2h-1zM434 95.4h1v2h-1zM436 95.4h1v2h-1zM492 95.4h1v2h-1zM535 95.4h1v2h-1zM575 95.4h1v2h-1zM616 95.4h1v2h-1zM238 97.3h1v2h-1zM253 97.3h1v2h-1zM313 97.3h1v2h-1zM363 97.3h1v2h-1zM399 97.3h1v2h-1zM514 97.3h1v2h-1zM556 97.3h1v2h-1zM580 97.3h1v2h-1zM613 97.3h1v2h-1z"/><path fill="#cbe7a1" d="M504 73.6h1v2h-1zM340 77.6h1v2h-1zM483 77.6h1v2h-1zM508 77.6h1v2h-1zM551 77.6h1v2h-1zM413 79.6h1v2h-1zM472 79.6h1v2h-1zM503 79.6h1v2h-1zM506 79.6h1v2h-1zM621 79.6h1v2h-1zM242 81.5h1v2h-1zM280 81.5h2v2h-2zM299 81.5h1v2h-1zM341 81.5h1v2h-1zM349 81.5h1v2h-1zM362 81.5h1v2h-1zM371 81.5h1v2h-1zM421 81.5h1v2h-1zM424 81.5h1v2h-1zM465 81.5h2v2h-2zM471 81.5h2v2h-2zM489 81.5h1v2h-1zM494 81.5h3v2h-3zM536 81.5h1v2h-1zM551 81.5h1v2h-1zM553 81.5h1v2h-1zM590 81.5h1v2h-1zM593 81.5h1v2h-1zM618 81.5h1v2h-1zM621 81.5h1v2h-1zM223 83.5h1v2h-1zM226 83.5h2v2h-2zM249 83.5h1v2h-1zM284 83.5h1v2h-1zM287 83.5h1v2h-1zM291 83.5h1v2h-1zM303 83.5h1v2h-1zM316 83.5h1v2h-1zM339 83.5h1v2h-1zM372 83.5h1v2h-1zM383 83.5h1v2h-1zM442 83.5h1v2h-1zM471 83.5h1v2h-1zM481 83.5h1v2h-1zM503 83.5h1v2h-1zM505 83.5h1v2h-1zM507 83.5h1v2h-1zM524 83.5h3v2h-3zM534 83.5h1v2h-1zM541 83.5h1v2h-1zM552 83.5h1v2h-1zM566 83.5h1v2h-1zM575 83.5h1v2h-1zM578 83.5h1v2h-1zM584 83.5h1v2h-1zM623 83.5h1v2h-1zM644 83.5h1v2h-1zM648 83.5h1v2h-1zM227 85.5h1v2h-1zM238 85.5h1v2h-1zM252 85.5h1v2h-1zM275 85.5h1v2h-1zM300 85.5h1v2h-1zM308 85.5h1v2h-1zM316 85.5h1v2h-1zM324 85.5h1v2h-1zM329 85.5h1v2h-1zM391 85.5h1v2h-1zM411 85.5h1v2h-1zM420 85.5h1v2h-1zM479 85.5h1v2h-1zM535 85.5h1v2h-1zM566 85.5h1v2h-1zM573 85.5h1v2h-1zM576 85.5h1v2h-1zM586 85.5h1v2h-1zM618 85.5h1v2h-1zM642 85.5h1v2h-1zM647 85.5h1v2h-1zM216 87.5h1v2h-1zM221 87.5h1v2h-1zM238 87.5h1v2h-1zM242 87.5h1v2h-1zM252 87.5h1v2h-1zM256 87.5h1v2h-1zM265 87.5h1v2h-1zM332 87.5h1v2h-1zM363 87.5h1v2h-1zM390 87.5h1v2h-1zM402 87.5h1v2h-1zM481 87.5h1v2h-1zM508 87.5h1v2h-1zM514 87.5h1v2h-1zM536 87.5h1v2h-1zM545 87.5h1v2h-1zM579 87.5h1v2h-1zM600 87.5h1v2h-1zM623 87.5h1v2h-1zM638 87.5h1v2h-1zM313 89.4h2v2h-2zM321 89.4h1v2h-1zM335 89.4h1v2h-1zM344 89.4h1v2h-1zM346 89.4h1v2h-1zM379 89.4h1v2h-1zM404 89.4h1v2h-1zM423 89.4h1v2h-1zM502 89.4h1v2h-1zM545 89.4h1v2h-1zM553 89.4h1v2h-1zM570 89.4h1v2h-1zM590 89.4h1v2h-1zM610 89.4h1v2h-1zM643 89.4h1v2h-1zM246 91.4h1v2h-1zM274 91.4h1v2h-1zM309 91.4h1v2h-1zM320 91.4h1v2h-1zM374 91.4h1v2h-1zM383 91.4h1v2h-1zM400 91.4h1v2h-1zM421 91.4h1v2h-1zM432 91.4h1v2h-1zM448 91.4h2v2h-2zM490 91.4h1v2h-1zM534 91.4h1v2h-1zM543 91.4h1v2h-1zM555 91.4h1v2h-1zM584 91.4h1v2h-1zM600 91.4h1v2h-1zM604 91.4h3v2h-3zM613 91.4h1v2h-1zM617 91.4h1v2h-1zM629 91.4h1v2h-1zM234 93.4h1v2h-1zM242 93.4h1v2h-1zM253 93.4h1v2h-1zM263 93.4h1v2h-1zM273 93.4h1v2h-1zM293 93.4h1v2h-1zM364 93.4h1v2h-1zM367 93.4h1v2h-1zM370 93.4h1v2h-1zM466 93.4h1v2h-1zM499 93.4h1v2h-1zM514 93.4h1v2h-1zM520 93.4h1v2h-1zM566 93.4h1v2h-1zM573 93.4h1v2h-1zM278 95.4h1v2h-1zM288 95.4h1v2h-1zM308 95.4h1v2h-1zM313 95.4h1v2h-1zM321 95.4h1v2h-1zM338 95.4h1v2h-1zM382 95.4h1v2h-1zM387 95.4h1v2h-1zM397 95.4h1v2h-1zM431 95.4h1v2h-1zM473 95.4h1v2h-1zM480 95.4h1v2h-1zM536 95.4h1v2h-1zM577 95.4h1v2h-1zM615 95.4h1v2h-1zM641 95.4h1v2h-1zM648 95.4h1v2h-1zM271 97.3h1v2h-1zM273 97.3h1v2h-1zM280 97.3h1v2h-1zM284 97.3h1v2h-1zM299 97.3h1v2h-1zM304 97.3h1v2h-1zM345 97.3h1v2h-1zM413 97.3h1v2h-1zM415 97.3h1v2h-1zM443 97.3h1v2h-1zM445 97.3h1v2h-1zM457 97.3h1v2h-1zM480 97.3h1v2h-1zM520 97.3h1v2h-1zM583 97.3h1v2h-1zM587 97.3h1v2h-1zM591 97.3h1v2h-1zM601 97.3h1v2h-1z"/><path fill="#e7f593" d="M419 79.6h1v2h-1zM270 81.5h1v2h-1zM290 81.5h1v2h-1zM340 81.5h1v2h-1zM385 81.5h1v2h-1zM411 81.5h1v2h-1zM447 81.5h1v2h-1zM456 81.5h1v2h-1zM458 81.5h1v2h-1zM463 81.5h1v2h-1zM503 81.5h1v2h-1zM585 81.5h1v2h-1zM606 81.5h1v2h-1zM623 81.5h1v2h-1zM234 83.5h1v2h-1zM241 83.5h1v2h-1zM265 83.5h1v2h-1zM362 83.5h1v2h-1zM387 83.5h1v2h-1zM455 83.5h1v2h-1zM460 83.5h1v2h-1zM485 83.5h1v2h-1zM508 83.5h1v2h-1zM562 83.5h1v2h-1zM605 83.5h1v2h-1zM216 85.5h1v2h-1zM264 85.5h1v2h-1zM280 85.5h1v2h-1zM290 85.5h1v2h-1zM301 85.5h1v2h-1zM385 85.5h1v2h-1zM389 85.5h1v2h-1zM413 85.5h1v2h-1zM463 85.5h2v2h-2zM561 85.5h1v2h-1zM300 87.5h1v2h-1zM319 87.5h1v2h-1zM324 87.5h1v2h-1zM350 87.5h1v2h-1zM414 87.5h1v2h-1zM441 87.5h1v2h-1zM453 87.5h1v2h-1zM494 87.5h1v2h-1zM511 87.5h1v2h-1zM525 87.5h2v2h-2zM575 87.5h1v2h-1zM617 87.5h1v2h-1zM217 89.4h1v2h-1zM268 89.4h1v2h-1zM340 89.4h1v2h-1zM420 89.4h1v2h-1zM426 89.4h1v2h-1zM446 89.4h1v2h-1zM454 89.4h1v2h-1zM485 89.4h1v2h-1zM498 89.4h1v2h-1zM522 89.4h1v2h-1zM534 89.4h1v2h-1zM604 89.4h1v2h-1zM621 89.4h1v2h-1zM651 89.4h2v2h-2zM226 91.4h1v2h-1zM239 91.4h1v2h-1zM262 91.4h1v2h-1zM285 91.4h1v2h-1zM392 91.4h1v2h-1zM444 91.4h1v2h-1zM464 91.4h1v2h-1zM466 91.4h1v2h-1zM487 91.4h1v2h-1zM571 91.4h1v2h-1zM260 93.4h1v2h-1zM267 93.4h1v2h-1zM305 93.4h1v2h-1zM308 93.4h1v2h-1zM330 93.4h1v2h-1zM337 93.4h1v2h-1zM351 93.4h1v2h-1zM413 93.4h1v2h-1zM421 93.4h1v2h-1zM457 93.4h1v2h-1zM464 93.4h1v2h-1zM481 93.4h1v2h-1zM525 93.4h1v2h-1zM557 93.4h1v2h-1zM583 93.4h1v2h-1zM616 93.4h1v2h-1zM618 93.4h1v2h-1zM620 93.4h2v2h-2zM634 93.4h1v2h-1zM259 95.4h1v2h-1zM268 95.4h1v2h-1zM302 95.4h1v2h-1zM306 95.4h1v2h-1zM358 95.4h1v2h-1zM421 95.4h1v2h-1zM439 95.4h1v2h-1zM449 95.4h1v2h-1zM467 95.4h1v2h-1zM484 95.4h1v2h-1zM610 95.4h1v2h-1zM619 95.4h1v2h-1zM353 97.3h1v2h-1zM508 97.3h1v2h-1zM548 97.3h1v2h-1zM552 97.3h1v2h-1zM616 97.3h1v2h-1zM633 97.3h1v2h-1zM639 97.3h1v2h-1z"/><path fill="#d9f5a1" d="M413 75.6h1v2h-1zM413 77.6h1v2h-1zM506 77.6h1v2h-1zM636 77.6h1v2h-1zM340 79.6h1v2h-1zM483 79.6h1v2h-1zM551 79.6h1v2h-1zM227 81.5h1v2h-1zM240 81.5h1v2h-1zM266 81.5h1v2h-1zM288 81.5h1v2h-1zM368 81.5h1v2h-1zM408 81.5h1v2h-1zM443 81.5h1v2h-1zM457 81.5h1v2h-1zM527 81.5h1v2h-1zM539 81.5h1v2h-1zM564 81.5h1v2h-1zM587 81.5h1v2h-1zM605 81.5h1v2h-1zM607 81.5h1v2h-1zM614 81.5h1v2h-1zM638 81.5h1v2h-1zM216 83.5h2v2h-2zM231 83.5h1v2h-1zM242 83.5h1v2h-1zM252 83.5h1v2h-1zM288 83.5h1v2h-1zM295 83.5h1v2h-1zM301 83.5h1v2h-1zM306 83.5h1v2h-1zM315 83.5h1v2h-1zM393 83.5h1v2h-1zM407 83.5h1v2h-1zM409 83.5h1v2h-1zM419 83.5h1v2h-1zM424 83.5h1v2h-1zM451 83.5h1v2h-1zM466 83.5h1v2h-1zM496 83.5h1v2h-1zM513 83.5h1v2h-1zM529 83.5h1v2h-1zM548 83.5h1v2h-1zM559 83.5h1v2h-1zM599 83.5h1v2h-1zM284 85.5h1v2h-1zM320 85.5h1v2h-1zM358 85.5h1v2h-1zM434 85.5h1v2h-1zM442 85.5h1v2h-1zM465 85.5h1v2h-1zM469 85.5h1v2h-1zM472 85.5h1v2h-1zM481 85.5h1v2h-1zM496 85.5h1v2h-1zM508 85.5h1v2h-1zM514 85.5h2v2h-2zM537 85.5h1v2h-1zM542 85.5h1v2h-1zM551 85.5h1v2h-1zM553 85.5h1v2h-1zM588 85.5h1v2h-1zM590 85.5h1v2h-1zM605 85.5h1v2h-1zM646 85.5h1v2h-1zM217 87.5h1v2h-1zM243 87.5h1v2h-1zM275 87.5h1v2h-1zM352 87.5h1v2h-1zM417 87.5h1v2h-1zM435 87.5h1v2h-1zM460 87.5h1v2h-1zM467 87.5h1v2h-1zM498 87.5h1v2h-1zM515 87.5h1v2h-1zM558 87.5h1v2h-1zM585 87.5h1v2h-1zM603 87.5h1v2h-1zM629 87.5h1v2h-1zM646 87.5h1v2h-1zM650 87.5h2v2h-2zM653 87.5h1v2h-1zM337 89.4h1v2h-1zM343 89.4h1v2h-1zM345 89.4h1v2h-1zM364 89.4h1v2h-1zM401 89.4h1v2h-1zM430 89.4h1v2h-1zM453 89.4h1v2h-1zM528 89.4h1v2h-1zM538 89.4h1v2h-1zM550 89.4h1v2h-1zM229 91.4h1v2h-1zM238 91.4h1v2h-1zM261 91.4h1v2h-1zM319 91.4h1v2h-1zM322 91.4h1v2h-1zM338 91.4h1v2h-1zM351 91.4h1v2h-1zM378 91.4h1v2h-1zM394 91.4h1v2h-1zM412 91.4h1v2h-1zM505 91.4h1v2h-1zM537 91.4h1v2h-1zM564 91.4h1v2h-1zM590 91.4h1v2h-1zM607 91.4h1v2h-1zM237 93.4h1v2h-1zM290 93.4h1v2h-1zM299 93.4h1v2h-1zM327 93.4h1v2h-1zM338 93.4h1v2h-1zM358 93.4h1v2h-1zM392 93.4h1v2h-1zM394 93.4h1v2h-1zM441 93.4h1v2h-1zM487 93.4h1v2h-1zM552 93.4h1v2h-1zM217 95.4h1v2h-1zM228 95.4h1v2h-1zM335 95.4h1v2h-1zM337 95.4h1v2h-1zM365 95.4h1v2h-1zM396 95.4h1v2h-1zM415 95.4h1v2h-1zM417 95.4h1v2h-1zM460 95.4h1v2h-1zM494 95.4h1v2h-1zM521 95.4h1v2h-1zM527 95.4h1v2h-1zM530 95.4h1v2h-1zM586 95.4h1v2h-1zM601 95.4h1v2h-1zM335 97.3h1v2h-1zM338 97.3h1v2h-1zM394 97.3h1v2h-1zM404 97.3h1v2h-1zM426 97.3h1v2h-1zM468 97.3h1v2h-1zM477 97.3h1v2h-1zM490 97.3h1v2h-1zM505 97.3h1v2h-1zM588 97.3h1v2h-1zM606 97.3h1v2h-1z"/><path fill="#69cba1" d="M413 71.7h1v2h-1zM345 73.6h1v2h-1zM367 73.6h1v2h-1zM419 73.6h1v2h-1zM424 73.6h1v2h-1zM443 73.6h1v2h-1zM485 73.6h1v2h-1zM636 73.6h1v2h-1zM276 75.6h1v2h-1zM281 75.6h1v2h-1zM349 75.6h1v2h-1zM393 75.6h1v2h-1zM415 75.6h2v2h-2zM443 75.6h1v2h-1zM539 75.6h1v2h-1zM636 75.6h1v2h-1zM387 77.6h1v2h-1zM407 77.6h1v2h-1zM435 77.6h1v2h-1zM449 77.6h1v2h-1zM484 77.6h1v2h-1zM563 77.6h1v2h-1zM644 77.6h1v2h-1zM216 79.6h1v2h-1zM263 79.6h1v2h-1zM350 79.6h1v2h-1zM371 79.6h1v2h-1zM395 79.6h1v2h-1zM404 79.6h2v2h-2zM407 79.6h1v2h-1zM459 79.6h1v2h-1zM466 79.6h1v2h-1zM473 79.6h1v2h-1zM484 79.6h1v2h-1zM548 79.6h1v2h-1zM565 79.6h1v2h-1zM220 81.5h1v2h-1zM261 81.5h1v2h-1zM293 81.5h1v2h-1zM302 81.5h1v2h-1zM438 81.5h1v2h-1zM576 81.5h1v2h-1zM222 83.5h1v2h-1zM272 83.5h1v2h-1zM438 83.5h1v2h-1zM448 83.5h1v2h-1zM619 83.5h1v2h-1zM643 83.5h1v2h-1zM233 85.5h1v2h-1zM241 85.5h1v2h-1zM278 85.5h1v2h-1zM440 85.5h1v2h-1zM450 85.5h1v2h-1zM539 85.5h1v2h-1zM569 85.5h1v2h-1zM595 85.5h1v2h-1zM615 85.5h1v2h-1zM244 87.5h1v2h-1zM246 87.5h1v2h-1zM274 87.5h1v2h-1zM280 87.5h1v2h-1zM335 87.5h1v2h-1zM510 87.5h1v2h-1zM630 87.5h1v2h-1zM241 89.4h1v2h-1zM256 89.4h1v2h-1zM357 89.4h1v2h-1zM435 89.4h1v2h-1zM452 89.4h1v2h-1zM540 89.4h1v2h-1zM561 89.4h1v2h-1zM563 89.4h1v2h-1zM602 89.4h1v2h-1zM613 89.4h1v2h-1zM219 91.4h1v2h-1zM232 91.4h1v2h-1zM248 91.4h1v2h-1zM323 91.4h1v2h-1zM417 91.4h1v2h-1zM559 91.4h1v2h-1zM565 91.4h1v2h-1zM648 91.4h1v2h-1zM282 93.4h1v2h-1zM320 93.4h1v2h-1zM335 93.4h1v2h-1zM407 93.4h1v2h-1zM428 93.4h1v2h-1zM432 93.4h1v2h-1zM449 93.4h1v2h-1zM478 93.4h1v2h-1zM502 93.4h1v2h-1zM606 93.4h1v2h-1zM648 93.4h1v2h-1zM232 95.4h1v2h-1zM234 95.4h1v2h-1zM275 95.4h2v2h-2zM312 95.4h1v2h-1zM346 95.4h1v2h-1zM355 95.4h1v2h-1zM443 95.4h1v2h-1zM496 95.4h1v2h-1zM541 95.4h1v2h-1zM228 97.3h1v2h-1zM241 97.3h1v2h-1zM246 97.3h1v2h-1zM366 97.3h1v2h-1zM431 97.3h1v2h-1zM489 97.3h1v2h-1zM219 99.3h1v2h-1zM223 99.3h1v2h-1zM236 99.3h1v2h-1zM247 99.3h1v2h-1zM256 99.3h1v2h-1zM267 99.3h1v2h-1zM282 99.3h1v2h-1zM307 99.3h1v2h-1zM309 99.3h1v2h-1zM316 99.3h1v2h-1zM331 99.3h1v2h-1zM379 99.3h1v2h-1zM394 99.3h1v2h-1zM425 99.3h1v2h-1zM434 99.3h2v2h-2zM453 99.3h1v2h-1zM505 99.3h1v2h-1zM527 99.3h1v2h-1zM574 99.3h1v2h-1zM592 99.3h1v2h-1zM607 99.3h1v2h-1zM629 99.3h1v2h-1z"/><path fill="#3f93bd" d="M504 51.9h1v2h-1zM504 53.9h1v2h-1zM412 59.8h1v2h-1zM413 61.8h1v2h-1zM571 61.8h1v2h-1zM413 63.7h2v2h-2zM443 63.7h1v2h-1zM483 63.7h1v2h-1zM549 63.7h1v2h-1zM621 63.7h1v2h-1zM262 65.7h1v2h-1zM329 65.7h1v2h-1zM396 65.7h1v2h-1zM409 65.7h1v2h-1zM483 65.7h1v2h-1zM503 65.7h1v2h-1zM508 65.7h1v2h-1zM516 65.7h1v2h-1zM553 65.7h1v2h-1zM571 65.7h1v2h-1zM636 65.7h1v2h-1zM653 65.7h1v2h-1zM260 67.7h1v2h-1zM329 67.7h1v2h-1zM405 67.7h1v2h-1zM419 67.7h1v2h-1zM497 67.7h1v2h-1zM502 67.7h2v2h-2zM548 67.7h1v2h-1zM571 67.7h2v2h-2zM614 67.7h1v2h-1zM653 67.7h1v2h-1zM268 69.7h1v2h-1zM320 69.7h1v2h-1zM341 69.7h1v2h-1zM350 69.7h1v2h-1zM409 69.7h1v2h-1zM483 69.7h1v2h-1zM495 69.7h3v2h-3zM505 69.7h1v2h-1zM537 69.7h2v2h-2zM550 69.7h1v2h-1zM552 69.7h1v2h-1zM557 69.7h1v2h-1zM613 69.7h1v2h-1zM640 69.7h1v2h-1zM256 71.7h1v2h-1zM259 71.7h1v2h-1zM266 71.7h1v2h-1zM268 71.7h2v2h-2zM371 71.7h1v2h-1zM387 71.7h1v2h-1zM402 71.7h1v2h-1zM405 71.7h3v2h-3zM410 71.7h1v2h-1zM434 71.7h1v2h-1zM483 71.7h1v2h-1zM493 71.7h2v2h-2zM497 71.7h1v2h-1zM506 71.7h1v2h-1zM538 71.7h2v2h-2zM558 71.7h1v2h-1zM614 71.7h1v2h-1zM625 71.7h1v2h-1zM218 73.6h1v2h-1zM249 73.6h1v2h-1zM285 73.6h1v2h-1zM308 73.6h1v2h-1zM324 73.6h1v2h-1zM336 73.6h1v2h-1zM403 73.6h2v2h-2zM406 73.6h1v2h-1zM417 73.6h1v2h-1zM448 73.6h1v2h-1zM451 73.6h1v2h-1zM468 73.6h1v2h-1zM489 73.6h1v2h-1zM505 73.6h1v2h-1zM512 73.6h1v2h-1zM516 73.6h1v2h-1zM601 73.6h1v2h-1zM644 73.6h1v2h-1zM239 75.6h2v2h-2zM249 75.6h1v2h-1zM280 75.6h1v2h-1zM283 75.6h1v2h-1zM285 75.6h2v2h-2zM288 75.6h1v2h-1zM291 75.6h1v2h-1zM296 75.6h1v2h-1zM298 75.6h1v2h-1zM301 75.6h1v2h-1zM308 75.6h1v2h-1zM315 75.6h1v2h-1zM322 75.6h1v2h-1zM327 75.6h1v2h-1zM343 75.6h1v2h-1zM358 75.6h1v2h-1zM363 75.6h1v2h-1zM366 75.6h1v2h-1zM369 75.6h1v2h-1zM381 75.6h1v2h-1zM392 75.6h1v2h-1zM396 75.6h1v2h-1zM400 75.6h1v2h-1zM402 75.6h1v2h-1zM405 75.6h1v2h-1zM408 75.6h1v2h-1zM417 75.6h1v2h-1zM421 75.6h1v2h-1zM442 75.6h1v2h-1zM454 75.6h1v2h-1zM458 75.6h1v2h-1zM461 75.6h1v2h-1zM463 75.6h2v2h-2zM489 75.6h1v2h-1zM503 75.6h1v2h-1zM511 75.6h1v2h-1zM514 75.6h1v2h-1zM523 75.6h1v2h-1zM527 75.6h1v2h-1zM551 75.6h2v2h-2zM557 75.6h1v2h-1zM560 75.6h1v2h-1zM573 75.6h1v2h-1zM578 75.6h1v2h-1zM601 75.6h1v2h-1zM604 75.6h1v2h-1zM634 75.6h1v2h-1zM641 75.6h1v2h-1zM643 75.6h1v2h-1zM216 77.6h1v2h-1zM221 77.6h1v2h-1zM228 77.6h1v2h-1zM265 77.6h1v2h-1zM297 77.6h1v2h-1zM307 77.6h2v2h-2zM338 77.6h1v2h-1zM349 77.6h1v2h-1zM363 77.6h1v2h-1zM376 77.6h1v2h-1zM400 77.6h1v2h-1zM420 77.6h1v2h-1zM437 77.6h1v2h-1zM451 77.6h1v2h-1zM468 77.6h1v2h-1zM481 77.6h1v2h-1zM493 77.6h1v2h-1zM498 77.6h1v2h-1zM558 77.6h2v2h-2zM561 77.6h1v2h-1zM613 77.6h1v2h-1zM631 77.6h1v2h-1zM643 77.6h1v2h-1zM651 77.6h1v2h-1zM226 79.6h1v2h-1zM247 79.6h1v2h-1zM259 79.6h1v2h-1zM271 79.6h1v2h-1zM290 79.6h1v2h-1zM303 79.6h1v2h-1zM322 79.6h1v2h-1zM349 79.6h1v2h-1zM368 79.6h2v2h-2zM372 79.6h1v2h-1zM384 79.6h1v2h-1zM392 79.6h1v2h-1zM400 79.6h1v2h-1zM417 79.6h1v2h-1zM422 79.6h1v2h-1zM451 79.6h1v2h-1zM479 79.6h1v2h-1zM492 79.6h1v2h-1zM501 79.6h1v2h-1zM540 79.6h1v2h-1zM556 79.6h1v2h-1zM560 79.6h2v2h-2zM588 79.6h1v2h-1zM593 79.6h1v2h-1zM607 79.6h1v2h-1zM615 79.6h2v2h-2zM628 79.6h1v2h-1zM632 79.6h1v2h-1zM648 79.6h1v2h-1zM650 79.6h2v2h-2zM246 81.5h1v2h-1zM257 81.5h1v2h-1zM304 81.5h1v2h-1zM324 81.5h1v2h-1zM328 81.5h1v2h-1zM337 81.5h1v2h-1zM339 81.5h1v2h-1zM342 81.5h1v2h-1zM390 81.5h1v2h-1zM429 81.5h1v2h-1zM433 81.5h1v2h-1zM437 81.5h1v2h-1zM488 81.5h1v2h-1zM518 81.5h1v2h-1zM581 81.5h1v2h-1zM612 81.5h1v2h-1zM629 81.5h1v2h-1zM639 81.5h1v2h-1zM642 81.5h1v2h-1zM264 83.5h1v2h-1zM294 83.5h1v2h-1zM328 83.5h1v2h-1zM337 83.5h1v2h-1zM363 83.5h1v2h-1zM368 83.5h1v2h-1zM394 83.5h1v2h-1zM397 83.5h1v2h-1zM404 83.5h1v2h-1zM406 83.5h1v2h-1zM418 83.5h1v2h-1zM425 83.5h1v2h-1zM432 83.5h2v2h-2zM499 83.5h1v2h-1zM589 83.5h1v2h-1zM612 83.5h1v2h-1zM642 83.5h1v2h-1zM236 85.5h1v2h-1zM279 85.5h1v2h-1zM294 85.5h1v2h-1zM302 85.5h1v2h-1zM311 85.5h2v2h-2zM326 85.5h1v2h-1zM348 85.5h1v2h-1zM370 85.5h1v2h-1zM436 85.5h1v2h-1zM511 85.5h1v2h-1zM520 85.5h1v2h-1zM554 85.5h1v2h-1zM631 85.5h1v2h-1zM222 87.5h1v2h-1zM241 87.5h1v2h-1zM344 87.5h1v2h-1zM348 87.5h1v2h-1zM376 87.5h1v2h-1zM380 87.5h1v2h-1zM431 87.5h2v2h-2zM594 87.5h1v2h-1zM221 89.4h1v2h-1zM228 89.4h1v2h-1zM284 89.4h1v2h-1zM310 89.4h1v2h-1zM326 89.4h1v2h-1zM372 89.4h1v2h-1zM416 89.4h1v2h-1zM436 89.4h1v2h-1zM455 89.4h1v2h-1zM457 89.4h1v2h-1zM530 89.4h1v2h-1zM543 89.4h1v2h-1zM569 89.4h1v2h-1zM580 89.4h1v2h-1zM629 89.4h1v2h-1zM648 89.4h1v2h-1zM240 91.4h1v2h-1zM247 91.4h1v2h-1zM271 91.4h1v2h-1zM279 91.4h1v2h-1zM293 91.4h1v2h-1zM298 91.4h1v2h-1zM361 91.4h1v2h-1zM403 91.4h1v2h-1zM459 91.4h1v2h-1zM486 91.4h1v2h-1zM501 91.4h1v2h-1zM578 91.4h1v2h-1zM594 91.4h2v2h-2zM235 93.4h1v2h-1zM244 93.4h1v2h-1zM248 93.4h1v2h-1zM297 93.4h1v2h-1zM307 93.4h1v2h-1zM342 93.4h1v2h-1zM381 93.4h1v2h-1zM404 93.4h1v2h-1zM424 93.4h1v2h-1zM427 93.4h1v2h-1zM436 93.4h1v2h-1zM456 93.4h1v2h-1zM474 93.4h1v2h-1zM547 93.4h1v2h-1zM563 93.4h1v2h-1zM589 93.4h1v2h-1zM273 95.4h1v2h-1zM280 95.4h1v2h-1zM287 95.4h1v2h-1zM304 95.4h1v2h-1zM309 95.4h1v2h-1zM373 95.4h1v2h-1zM459 95.4h1v2h-1zM491 95.4h1v2h-1zM514 95.4h1v2h-1zM561 95.4h1v2h-1zM580 95.4h1v2h-1zM219 97.3h1v2h-1zM237 97.3h1v2h-1zM259 97.3h1v2h-1zM268 97.3h1v2h-1zM285 97.3h1v2h-1zM291 97.3h1v2h-1zM365 97.3h1v2h-1zM379 97.3h1v2h-1zM417 97.3h1v2h-1zM436 97.3h1v2h-1zM568 97.3h1v2h-1zM593 97.3h1v2h-1zM622 97.3h1v2h-1zM634 97.3h1v2h-1zM238 99.3h1v2h-1zM241 99.3h1v2h-1zM252 99.3h1v2h-1zM255 99.3h1v2h-1zM274 99.3h1v2h-1zM277 99.3h1v2h-1zM287 99.3h1v2h-1zM328 99.3h1v2h-1zM344 99.3h1v2h-1zM350 99.3h1v2h-1zM373 99.3h1v2h-1zM376 99.3h1v2h-1zM380 99.3h1v2h-1zM406 99.3h1v2h-1zM411 99.3h2v2h-2zM422 99.3h1v2h-1zM424 99.3h1v2h-1zM429 99.3h1v2h-1zM433 99.3h1v2h-1zM442 99.3h1v2h-1zM450 99.3h1v2h-1zM454 99.3h1v2h-1zM469 99.3h1v2h-1zM479 99.3h1v2h-1zM488 99.3h3v2h-3zM499 99.3h1v2h-1zM523 99.3h1v2h-1zM541 99.3h1v2h-1zM547 99.3h1v2h-1zM550 99.3h1v2h-1zM556 99.3h2v2h-2zM559 99.3h1v2h-1zM588 99.3h1v2h-1zM599 99.3h1v2h-1zM603 99.3h2v2h-2zM611 99.3h2v2h-2zM619 99.3h1v2h-1zM625 99.3h1v2h-1zM627 99.3h1v2h-1zM643 99.3h1v2h-1zM645 99.3h1v2h-1z"/><path fill="#5bafaf" d="M412 65.7h1v2h-1zM340 67.7h1v2h-1zM414 67.7h1v2h-1zM444 67.7h1v2h-1zM553 69.7h1v2h-1zM571 69.7h1v2h-1zM262 71.7h1v2h-1zM350 71.7h1v2h-1zM396 71.7h1v2h-1zM408 71.7h2v2h-2zM516 71.7h1v2h-1zM636 71.7h1v2h-1zM216 73.6h2v2h-2zM342 73.6h1v2h-1zM368 73.6h1v2h-1zM442 73.6h1v2h-1zM493 73.6h1v2h-1zM496 73.6h1v2h-1zM529 73.6h1v2h-1zM564 73.6h1v2h-1zM612 73.6h1v2h-1zM621 73.6h1v2h-1zM220 75.6h1v2h-1zM255 75.6h1v2h-1zM284 75.6h1v2h-1zM290 75.6h1v2h-1zM292 75.6h1v2h-1zM303 75.6h1v2h-1zM331 75.6h1v2h-1zM350 75.6h1v2h-1zM361 75.6h1v2h-1zM364 75.6h1v2h-1zM373 75.6h1v2h-1zM420 75.6h1v2h-1zM466 75.6h1v2h-1zM483 75.6h1v2h-1zM493 75.6h1v2h-1zM496 75.6h1v2h-1zM508 75.6h1v2h-1zM520 75.6h1v2h-1zM575 75.6h1v2h-1zM585 75.6h1v2h-1zM587 75.6h1v2h-1zM610 75.6h1v2h-1zM650 75.6h1v2h-1zM653 75.6h1v2h-1zM240 77.6h1v2h-1zM254 77.6h1v2h-1zM269 77.6h1v2h-1zM282 77.6h1v2h-1zM290 77.6h1v2h-1zM314 77.6h1v2h-1zM350 77.6h1v2h-1zM362 77.6h1v2h-1zM384 77.6h1v2h-1zM393 77.6h1v2h-1zM402 77.6h1v2h-1zM405 77.6h1v2h-1zM441 77.6h1v2h-1zM454 77.6h2v2h-2zM496 77.6h1v2h-1zM501 77.6h1v2h-1zM524 77.6h1v2h-1zM526 77.6h1v2h-1zM552 77.6h1v2h-1zM601 77.6h1v2h-1zM606 77.6h1v2h-1zM620 77.6h1v2h-1zM629 77.6h1v2h-1zM634 77.6h1v2h-1zM649 77.6h1v2h-1zM252 79.6h1v2h-1zM280 79.6h1v2h-1zM306 79.6h1v2h-1zM319 79.6h1v2h-1zM337 79.6h1v2h-1zM342 79.6h1v2h-1zM396 79.6h1v2h-1zM420 79.6h1v2h-1zM448 79.6h1v2h-1zM458 79.6h1v2h-1zM465 79.6h1v2h-1zM489 79.6h1v2h-1zM513 79.6h1v2h-1zM550 79.6h1v2h-1zM562 79.6h2v2h-2zM601 79.6h1v2h-1zM605 79.6h1v2h-1zM610 79.6h1v2h-1zM620 79.6h1v2h-1zM622 79.6h1v2h-1zM646 79.6h1v2h-1zM252 81.5h2v2h-2zM336 81.5h1v2h-1zM352 81.5h1v2h-1zM357 81.5h1v2h-1zM379 81.5h1v2h-1zM382 81.5h1v2h-1zM431 81.5h1v2h-1zM444 81.5h1v2h-1zM477 81.5h1v2h-1zM499 81.5h1v2h-1zM546 81.5h1v2h-1zM589 81.5h1v2h-1zM616 81.5h1v2h-1zM220 83.5h1v2h-1zM225 83.5h1v2h-1zM245 83.5h1v2h-1zM268 83.5h1v2h-1zM323 83.5h1v2h-1zM384 83.5h1v2h-1zM400 83.5h1v2h-1zM402 83.5h1v2h-1zM423 83.5h1v2h-1zM521 83.5h1v2h-1zM557 83.5h1v2h-1zM624 83.5h1v2h-1zM639 83.5h1v2h-1zM221 85.5h1v2h-1zM343 85.5h1v2h-1zM401 85.5h1v2h-1zM423 85.5h1v2h-1zM490 85.5h1v2h-1zM492 85.5h1v2h-1zM557 85.5h1v2h-1zM574 85.5h1v2h-1zM591 85.5h1v2h-1zM616 85.5h1v2h-1zM219 87.5h1v2h-1zM225 87.5h1v2h-1zM286 87.5h1v2h-1zM292 87.5h1v2h-1zM365 87.5h1v2h-1zM373 87.5h1v2h-1zM425 87.5h1v2h-1zM465 87.5h1v2h-1zM518 87.5h1v2h-1zM527 87.5h1v2h-1zM589 87.5h1v2h-1zM597 87.5h1v2h-1zM614 87.5h2v2h-2zM250 89.4h1v2h-1zM274 89.4h1v2h-1zM296 89.4h1v2h-1zM361 89.4h1v2h-1zM382 89.4h1v2h-1zM421 89.4h2v2h-2zM449 89.4h1v2h-1zM476 89.4h1v2h-1zM512 89.4h1v2h-1zM594 89.4h1v2h-1zM607 89.4h1v2h-1zM236 91.4h1v2h-1zM256 91.4h1v2h-1zM331 91.4h1v2h-1zM346 91.4h2v2h-2zM370 91.4h1v2h-1zM406 91.4h1v2h-1zM442 91.4h1v2h-1zM539 91.4h1v2h-1zM550 91.4h1v2h-1zM593 91.4h1v2h-1zM225 93.4h1v2h-1zM259 93.4h1v2h-1zM294 93.4h1v2h-1zM465 93.4h1v2h-1zM469 93.4h1v2h-1zM597 93.4h1v2h-1zM649 93.4h1v2h-1zM247 95.4h1v2h-1zM360 95.4h1v2h-1zM406 95.4h1v2h-1zM425 95.4h1v2h-1zM462 95.4h1v2h-1zM488 95.4h1v2h-1zM572 95.4h1v2h-1zM591 95.4h1v2h-1zM643 95.4h1v2h-1zM652 95.4h1v2h-1zM239 97.3h1v2h-1zM270 97.3h1v2h-1zM359 97.3h1v2h-1zM562 97.3h1v2h-1zM567 97.3h1v2h-1zM571 97.3h1v2h-1zM642 97.3h1v2h-1zM227 99.3h1v2h-1zM261 99.3h3v2h-3zM271 99.3h2v2h-2zM275 99.3h2v2h-2zM279 99.3h1v2h-1zM291 99.3h1v2h-1zM295 99.3h1v2h-1zM297 99.3h1v2h-1zM303 99.3h1v2h-1zM311 99.3h2v2h-2zM319 99.3h2v2h-2zM330 99.3h1v2h-1zM341 99.3h1v2h-1zM352 99.3h1v2h-1zM355 99.3h1v2h-1zM368 99.3h1v2h-1zM382 99.3h1v2h-1zM386 99.3h1v2h-1zM391 99.3h1v2h-1zM397 99.3h1v2h-1zM409 99.3h1v2h-1zM417 99.3h4v2h-4zM438 99.3h1v2h-1zM441 99.3h1v2h-1zM449 99.3h1v2h-1zM452 99.3h1v2h-1zM463 99.3h2v2h-2zM467 99.3h1v2h-1zM474 99.3h1v2h-1zM480 99.3h1v2h-1zM484 99.3h1v2h-1zM487 99.3h1v2h-1zM493 99.3h1v2h-1zM498 99.3h1v2h-1zM500 99.3h1v2h-1zM509 99.3h1v2h-1zM524 99.3h1v2h-1zM526 99.3h1v2h-1zM530 99.3h1v2h-1zM536 99.3h1v2h-1zM538 99.3h1v2h-1zM563 99.3h1v2h-1zM582 99.3h1v2h-1zM586 99.3h1v2h-1zM598 99.3h1v2h-1zM605 99.3h1v2h-1zM608 99.3h1v2h-1zM614 99.3h1v2h-1zM616 99.3h1v2h-1zM628 99.3h1v2h-1zM650 99.3h1v2h-1z"/><path fill="#3185bd" d="M423 42h1v2h-1zM453 42h1v2h-1zM483 42h1v2h-1zM506 42h1v2h-1zM483 44h1v2h-1zM504 44h1v2h-1zM506 46h1v2h-1zM422 49.9h1v2h-1zM504 49.9h1v2h-1zM347 51.9h1v2h-1zM549 53.9h1v2h-1zM355 55.8h1v2h-1zM483 55.8h1v2h-1zM516 55.8h1v2h-1zM549 55.8h1v2h-1zM412 57.8h1v2h-1zM414 57.8h1v2h-1zM425 57.8h1v2h-1zM506 57.8h1v2h-1zM516 57.8h1v2h-1zM549 57.8h1v2h-1zM325 59.8h1v2h-1zM414 59.8h2v2h-2zM549 59.8h1v2h-1zM329 61.8h1v2h-1zM340 61.8h1v2h-1zM396 61.8h1v2h-1zM476 61.8h1v2h-1zM483 61.8h1v2h-1zM516 61.8h1v2h-1zM549 61.8h1v2h-1zM566 61.8h1v2h-1zM621 61.8h1v2h-1zM262 63.7h1v2h-1zM329 63.7h1v2h-1zM340 63.7h1v2h-1zM345 63.7h1v2h-1zM396 63.7h1v2h-1zM406 63.7h1v2h-1zM470 63.7h1v2h-1zM516 63.7h1v2h-1zM550 63.7h1v2h-1zM553 63.7h1v2h-1zM572 63.7h1v2h-1zM614 63.7h1v2h-1zM640 63.7h1v2h-1zM260 65.7h1v2h-1zM345 65.7h1v2h-1zM391 65.7h1v2h-1zM406 65.7h1v2h-1zM408 65.7h1v2h-1zM415 65.7h1v2h-1zM482 65.7h1v2h-1zM484 65.7h1v2h-1zM495 65.7h1v2h-1zM497 65.7h1v2h-1zM502 65.7h1v2h-1zM537 65.7h1v2h-1zM550 65.7h1v2h-1zM572 65.7h1v2h-1zM614 65.7h1v2h-1zM633 65.7h1v2h-1zM251 67.7h1v2h-1zM267 67.7h1v2h-1zM320 67.7h1v2h-1zM371 67.7h1v2h-1zM387 67.7h1v2h-1zM393 67.7h1v2h-1zM402 67.7h1v2h-1zM406 67.7h3v2h-3zM470 67.7h3v2h-3zM484 67.7h1v2h-1zM494 67.7h3v2h-3zM506 67.7h1v2h-1zM508 67.7h1v2h-1zM511 67.7h1v2h-1zM516 67.7h1v2h-1zM549 67.7h1v2h-1zM557 67.7h1v2h-1zM564 67.7h1v2h-1zM570 67.7h1v2h-1zM585 67.7h1v2h-1zM260 69.7h1v2h-1zM263 69.7h2v2h-2zM266 69.7h2v2h-2zM312 69.7h2v2h-2zM321 69.7h1v2h-1zM331 69.7h1v2h-1zM345 69.7h2v2h-2zM376 69.7h1v2h-1zM378 69.7h1v2h-1zM387 69.7h2v2h-2zM397 69.7h1v2h-1zM405 69.7h3v2h-3zM416 69.7h1v2h-1zM471 69.7h1v2h-1zM484 69.7h2v2h-2zM502 69.7h1v2h-1zM509 69.7h1v2h-1zM516 69.7h1v2h-1zM521 69.7h1v2h-1zM547 69.7h1v2h-1zM570 69.7h1v2h-1zM584 69.7h2v2h-2zM617 69.7h1v2h-1zM625 69.7h1v2h-1zM631 69.7h1v2h-1zM216 71.7h2v2h-2zM249 71.7h1v2h-1zM253 71.7h1v2h-1zM263 71.7h1v2h-1zM265 71.7h1v2h-1zM304 71.7h1v2h-1zM314 71.7h1v2h-1zM345 71.7h2v2h-2zM351 71.7h1v2h-1zM372 71.7h1v2h-1zM376 71.7h1v2h-1zM385 71.7h1v2h-1zM389 71.7h1v2h-1zM395 71.7h1v2h-1zM401 71.7h1v2h-1zM403 71.7h2v2h-2zM442 71.7h1v2h-1zM447 71.7h1v2h-1zM449 71.7h1v2h-1zM452 71.7h2v2h-2zM484 71.7h1v2h-1zM489 71.7h1v2h-1zM498 71.7h1v2h-1zM502 71.7h1v2h-1zM508 71.7h2v2h-2zM511 71.7h1v2h-1zM514 71.7h2v2h-2zM524 71.7h1v2h-1zM548 71.7h1v2h-1zM564 71.7h1v2h-1zM585 71.7h1v2h-1zM612 71.7h1v2h-1zM623 71.7h1v2h-1zM628 71.7h2v2h-2zM635 71.7h1v2h-1zM240 73.6h1v2h-1zM242 73.6h1v2h-1zM248 73.6h1v2h-1zM250 73.6h1v2h-1zM254 73.6h1v2h-1zM256 73.6h1v2h-1zM259 73.6h1v2h-1zM261 73.6h1v2h-1zM264 73.6h1v2h-1zM277 73.6h1v2h-1zM282 73.6h1v2h-1zM290 73.6h1v2h-1zM299 73.6h1v2h-1zM301 73.6h1v2h-1zM313 73.6h1v2h-1zM319 73.6h1v2h-1zM325 73.6h1v2h-1zM331 73.6h1v2h-1zM353 73.6h1v2h-1zM364 73.6h1v2h-1zM379 73.6h1v2h-1zM411 73.6h1v2h-1zM416 73.6h1v2h-1zM420 73.6h1v2h-1zM446 73.6h1v2h-1zM453 73.6h2v2h-2zM464 73.6h1v2h-1zM472 73.6h1v2h-1zM479 73.6h1v2h-1zM503 73.6h1v2h-1zM513 73.6h1v2h-1zM519 73.6h1v2h-1zM532 73.6h1v2h-1zM537 73.6h1v2h-1zM546 73.6h1v2h-1zM575 73.6h1v2h-1zM585 73.6h1v2h-1zM607 73.6h2v2h-2zM611 73.6h1v2h-1zM616 73.6h1v2h-1zM623 73.6h1v2h-1zM632 73.6h1v2h-1zM222 75.6h1v2h-1zM227 75.6h2v2h-2zM231 75.6h4v2h-4zM248 75.6h1v2h-1zM256 75.6h1v2h-1zM273 75.6h1v2h-1zM293 75.6h1v2h-1zM299 75.6h1v2h-1zM311 75.6h1v2h-1zM342 75.6h1v2h-1zM351 75.6h1v2h-1zM367 75.6h1v2h-1zM371 75.6h1v2h-1zM426 75.6h1v2h-1zM437 75.6h1v2h-1zM452 75.6h1v2h-1zM478 75.6h1v2h-1zM484 75.6h1v2h-1zM492 75.6h1v2h-1zM498 75.6h1v2h-1zM507 75.6h1v2h-1zM519 75.6h1v2h-1zM541 75.6h1v2h-1zM554 75.6h1v2h-1zM565 75.6h1v2h-1zM586 75.6h1v2h-1zM598 75.6h1v2h-1zM607 75.6h1v2h-1zM611 75.6h1v2h-1zM613 75.6h1v2h-1zM616 75.6h1v2h-1zM625 75.6h1v2h-1zM635 75.6h1v2h-1zM234 77.6h1v2h-1zM241 77.6h1v2h-1zM243 77.6h1v2h-1zM250 77.6h2v2h-2zM264 77.6h1v2h-1zM266 77.6h2v2h-2zM272 77.6h1v2h-1zM280 77.6h1v2h-1zM287 77.6h1v2h-1zM289 77.6h1v2h-1zM300 77.6h1v2h-1zM302 77.6h2v2h-2zM312 77.6h1v2h-1zM318 77.6h2v2h-2zM323 77.6h2v2h-2zM336 77.6h1v2h-1zM360 77.6h1v2h-1zM377 77.6h1v2h-1zM433 77.6h1v2h-1zM438 77.6h1v2h-1zM440 77.6h1v2h-1zM452 77.6h1v2h-1zM473 77.6h1v2h-1zM478 77.6h1v2h-1zM523 77.6h1v2h-1zM530 77.6h1v2h-1zM540 77.6h1v2h-1zM576 77.6h1v2h-1zM579 77.6h1v2h-1zM591 77.6h2v2h-2zM604 77.6h1v2h-1zM612 77.6h1v2h-1zM630 77.6h1v2h-1zM632 77.6h1v2h-1zM221 79.6h1v2h-1zM227 79.6h1v2h-1zM229 79.6h1v2h-1zM236 79.6h1v2h-1zM278 79.6h1v2h-1zM286 79.6h1v2h-1zM288 79.6h2v2h-2zM292 79.6h1v2h-1zM298 79.6h1v2h-1zM305 79.6h1v2h-1zM308 79.6h1v2h-1zM316 79.6h1v2h-1zM326 79.6h1v2h-1zM338 79.6h1v2h-1zM345 79.6h1v2h-1zM377 79.6h1v2h-1zM380 79.6h1v2h-1zM398 79.6h1v2h-1zM428 79.6h1v2h-1zM430 79.6h1v2h-1zM435 79.6h1v2h-1zM477 79.6h1v2h-1zM592 79.6h1v2h-1zM603 79.6h1v2h-1zM626 79.6h1v2h-1zM630 79.6h1v2h-1zM219 81.5h1v2h-1zM238 81.5h1v2h-1zM329 81.5h1v2h-1zM335 81.5h1v2h-1zM344 81.5h1v2h-1zM374 81.5h1v2h-1zM376 81.5h1v2h-1zM430 81.5h1v2h-1zM432 81.5h1v2h-1zM445 81.5h1v2h-1zM532 81.5h1v2h-1zM544 81.5h1v2h-1zM596 81.5h1v2h-1zM609 81.5h1v2h-1zM627 81.5h1v2h-1zM649 81.5h1v2h-1zM279 83.5h1v2h-1zM282 83.5h1v2h-1zM322 83.5h1v2h-1zM345 83.5h1v2h-1zM395 83.5h1v2h-1zM430 83.5h1v2h-1zM532 83.5h1v2h-1zM546 83.5h1v2h-1zM603 83.5h1v2h-1zM614 83.5h1v2h-1zM629 83.5h1v2h-1zM637 83.5h1v2h-1zM317 85.5h1v2h-1zM335 85.5h1v2h-1zM361 85.5h1v2h-1zM376 85.5h1v2h-1zM509 85.5h1v2h-1zM528 85.5h1v2h-1zM597 85.5h1v2h-1zM279 87.5h1v2h-1zM295 87.5h1v2h-1zM334 87.5h1v2h-1zM343 87.5h1v2h-1zM378 87.5h1v2h-1zM486 87.5h1v2h-1zM520 87.5h1v2h-1zM581 87.5h1v2h-1zM595 87.5h1v2h-1zM631 87.5h1v2h-1zM645 87.5h1v2h-1zM220 89.4h1v2h-1zM232 89.4h1v2h-1zM243 89.4h1v2h-1zM278 89.4h1v2h-1zM294 89.4h1v2h-1zM330 89.4h1v2h-1zM352 89.4h1v2h-1zM397 89.4h1v2h-1zM475 89.4h1v2h-1zM488 89.4h1v2h-1zM496 89.4h1v2h-1zM241 91.4h1v2h-1zM253 91.4h1v2h-1zM288 91.4h1v2h-1zM310 91.4h1v2h-1zM326 91.4h1v2h-1zM330 91.4h1v2h-1zM395 91.4h1v2h-1zM456 91.4h1v2h-1zM465 91.4h1v2h-1zM224 93.4h1v2h-1zM245 93.4h1v2h-1zM322 93.4h1v2h-1zM475 93.4h1v2h-1zM496 93.4h1v2h-1zM531 93.4h1v2h-1zM542 93.4h1v2h-1zM548 93.4h1v2h-1zM576 93.4h1v2h-1zM580 93.4h1v2h-1zM600 93.4h1v2h-1zM630 93.4h1v2h-1zM222 95.4h1v2h-1zM244 95.4h1v2h-1zM267 95.4h1v2h-1zM272 95.4h1v2h-1zM295 95.4h1v2h-1zM310 95.4h1v2h-1zM334 95.4h1v2h-1zM378 95.4h1v2h-1zM381 95.4h1v2h-1zM490 95.4h1v2h-1zM611 95.4h1v2h-1zM614 95.4h1v2h-1zM244 97.3h1v2h-1zM377 97.3h1v2h-1zM382 97.3h1v2h-1zM553 97.3h1v2h-1zM609 97.3h1v2h-1zM638 97.3h1v2h-1zM234 99.3h1v2h-1zM242 99.3h1v2h-1zM270 99.3h1v2h-1zM364 99.3h1v2h-1zM369 99.3h1v2h-1zM403 99.3h1v2h-1zM413 99.3h1v2h-1zM436 99.3h1v2h-1zM472 99.3h1v2h-1zM478 99.3h1v2h-1zM485 99.3h1v2h-1zM533 99.3h1v2h-1zM544 99.3h1v2h-1zM560 99.3h2v2h-2zM565 99.3h2v2h-2zM585 99.3h1v2h-1zM594 99.3h1v2h-1zM610 99.3h1v2h-1zM623 99.3h1v2h-1zM630 99.3h1v2h-1z"/><path fill="#3f77af" d="M249 42h1v2h-1zM263 42h1v2h-1zM311 42h1v2h-1zM325 42h1v2h-1zM341 42h1v2h-1zM355 42h1v2h-1zM369 42h1v2h-1zM378 42h1v2h-1zM384 42h2v2h-2zM405 42h1v2h-1zM420 42h1v2h-1zM455 42h1v2h-1zM463 42h1v2h-1zM466 42h1v2h-1zM470 42h1v2h-1zM497 42h1v2h-1zM515 42h1v2h-1zM548 42h1v2h-1zM562 42h4v2h-4zM613 42h1v2h-1zM621 42h1v2h-1zM642 42h1v2h-1zM249 44h1v2h-1zM321 44h1v2h-1zM325 44h2v2h-2zM338 44h1v2h-1zM341 44h1v2h-1zM345 44h2v2h-2zM379 44h1v2h-1zM384 44h2v2h-2zM393 44h1v2h-1zM413 44h1v2h-1zM421 44h1v2h-1zM424 44h1v2h-1zM453 44h1v2h-1zM455 44h1v2h-1zM460 44h1v2h-1zM464 44h3v2h-3zM509 44h1v2h-1zM518 44h1v2h-1zM522 44h1v2h-1zM529 44h1v2h-1zM535 44h1v2h-1zM550 44h1v2h-1zM566 44h1v2h-1zM620 44h1v2h-1zM631 44h1v2h-1zM635 44h2v2h-2zM313 46h1v2h-1zM324 46h1v2h-1zM345 46h1v2h-1zM351 46h1v2h-1zM363 46h1v2h-1zM376 46h1v2h-1zM379 46h1v2h-1zM384 46h2v2h-2zM390 46h1v2h-1zM405 46h1v2h-1zM413 46h1v2h-1zM421 46h2v2h-2zM424 46h1v2h-1zM437 46h1v2h-1zM440 46h1v2h-1zM454 46h2v2h-2zM470 46h1v2h-1zM484 46h2v2h-2zM518 46h2v2h-2zM524 46h2v2h-2zM617 46h1v2h-1zM619 46h1v2h-1zM631 46h1v2h-1zM635 46h2v2h-2zM249 47.9h1v2h-1zM256 47.9h1v2h-1zM274 47.9h1v2h-1zM371 47.9h1v2h-1zM376 47.9h1v2h-1zM378 47.9h1v2h-1zM380 47.9h1v2h-1zM385 47.9h1v2h-1zM422 47.9h2v2h-2zM425 47.9h2v2h-2zM442 47.9h1v2h-1zM448 47.9h1v2h-1zM455 47.9h1v2h-1zM460 47.9h1v2h-1zM463 47.9h4v2h-4zM470 47.9h1v2h-1zM485 47.9h1v2h-1zM495 47.9h1v2h-1zM507 47.9h2v2h-2zM516 47.9h1v2h-1zM519 47.9h2v2h-2zM529 47.9h1v2h-1zM535 47.9h1v2h-1zM549 47.9h1v2h-1zM613 47.9h1v2h-1zM615 47.9h1v2h-1zM630 47.9h2v2h-2zM634 47.9h1v2h-1zM636 47.9h1v2h-1zM652 47.9h1v2h-1zM256 49.9h1v2h-1zM290 49.9h1v2h-1zM324 49.9h1v2h-1zM340 49.9h1v2h-1zM345 49.9h1v2h-1zM351 49.9h3v2h-3zM355 49.9h1v2h-1zM367 49.9h1v2h-1zM379 49.9h1v2h-1zM415 49.9h1v2h-1zM425 49.9h1v2h-1zM454 49.9h2v2h-2zM457 49.9h1v2h-1zM464 49.9h1v2h-1zM466 49.9h1v2h-1zM472 49.9h1v2h-1zM483 49.9h3v2h-3zM495 49.9h1v2h-1zM506 49.9h1v2h-1zM522 49.9h1v2h-1zM524 49.9h1v2h-1zM536 49.9h1v2h-1zM549 49.9h1v2h-1zM564 49.9h1v2h-1zM566 49.9h1v2h-1zM605 49.9h1v2h-1zM613 49.9h1v2h-1zM615 49.9h1v2h-1zM618 49.9h1v2h-1zM631 49.9h1v2h-1zM635 49.9h2v2h-2zM242 51.9h1v2h-1zM275 51.9h1v2h-1zM315 51.9h1v2h-1zM338 51.9h1v2h-1zM353 51.9h1v2h-1zM377 51.9h1v2h-1zM393 51.9h1v2h-1zM396 51.9h1v2h-1zM405 51.9h1v2h-1zM412 51.9h1v2h-1zM421 51.9h2v2h-2zM424 51.9h1v2h-1zM426 51.9h1v2h-1zM437 51.9h1v2h-1zM464 51.9h3v2h-3zM468 51.9h1v2h-1zM497 51.9h1v2h-1zM506 51.9h2v2h-2zM523 51.9h1v2h-1zM535 51.9h1v2h-1zM566 51.9h1v2h-1zM575 51.9h1v2h-1zM587 51.9h1v2h-1zM613 51.9h2v2h-2zM631 51.9h1v2h-1zM635 51.9h1v2h-1zM642 51.9h1v2h-1zM653 51.9h1v2h-1zM249 53.9h1v2h-1zM256 53.9h1v2h-1zM263 53.9h1v2h-1zM273 53.9h1v2h-1zM326 53.9h1v2h-1zM340 53.9h2v2h-2zM379 53.9h1v2h-1zM386 53.9h1v2h-1zM391 53.9h1v2h-1zM412 53.9h3v2h-3zM421 53.9h1v2h-1zM423 53.9h4v2h-4zM448 53.9h1v2h-1zM454 53.9h1v2h-1zM460 53.9h1v2h-1zM464 53.9h1v2h-1zM466 53.9h2v2h-2zM483 53.9h1v2h-1zM497 53.9h1v2h-1zM507 53.9h3v2h-3zM523 53.9h2v2h-2zM564 53.9h1v2h-1zM613 53.9h1v2h-1zM620 53.9h1v2h-1zM630 53.9h1v2h-1zM635 53.9h1v2h-1zM637 53.9h2v2h-2zM640 53.9h1v2h-1zM644 53.9h1v2h-1zM249 55.8h1v2h-1zM269 55.8h1v2h-1zM272 55.8h1v2h-1zM313 55.8h1v2h-1zM324 55.8h2v2h-2zM340 55.8h2v2h-2zM348 55.8h1v2h-1zM353 55.8h1v2h-1zM412 55.8h1v2h-1zM423 55.8h1v2h-1zM443 55.8h1v2h-1zM455 55.8h2v2h-2zM460 55.8h1v2h-1zM465 55.8h2v2h-2zM477 55.8h1v2h-1zM497 55.8h1v2h-1zM502 55.8h1v2h-1zM507 55.8h2v2h-2zM535 55.8h2v2h-2zM566 55.8h1v2h-1zM572 55.8h1v2h-1zM575 55.8h1v2h-1zM613 55.8h1v2h-1zM615 55.8h1v2h-1zM620 55.8h1v2h-1zM630 55.8h2v2h-2zM637 55.8h1v2h-1zM242 57.8h1v2h-1zM325 57.8h1v2h-1zM339 57.8h1v2h-1zM347 57.8h1v2h-1zM350 57.8h1v2h-1zM379 57.8h1v2h-1zM383 57.8h1v2h-1zM390 57.8h1v2h-1zM409 57.8h1v2h-1zM413 57.8h1v2h-1zM457 57.8h1v2h-1zM464 57.8h1v2h-1zM466 57.8h1v2h-1zM468 57.8h1v2h-1zM470 57.8h1v2h-1zM473 57.8h1v2h-1zM484 57.8h1v2h-1zM497 57.8h1v2h-1zM502 57.8h1v2h-1zM510 57.8h1v2h-1zM519 57.8h1v2h-1zM525 57.8h1v2h-1zM527 57.8h1v2h-1zM529 57.8h1v2h-1zM536 57.8h1v2h-1zM571 57.8h2v2h-2zM584 57.8h2v2h-2zM631 57.8h1v2h-1zM634 57.8h1v2h-1zM636 57.8h1v2h-1zM638 57.8h3v2h-3zM238 59.8h1v2h-1zM262 59.8h1v2h-1zM274 59.8h1v2h-1zM315 59.8h1v2h-1zM324 59.8h1v2h-1zM326 59.8h1v2h-1zM341 59.8h1v2h-1zM347 59.8h1v2h-1zM350 59.8h1v2h-1zM383 59.8h2v2h-2zM390 59.8h2v2h-2zM396 59.8h1v2h-1zM406 59.8h1v2h-1zM409 59.8h1v2h-1zM419 59.8h1v2h-1zM424 59.8h2v2h-2zM453 59.8h1v2h-1zM457 59.8h1v2h-1zM463 59.8h1v2h-1zM466 59.8h2v2h-2zM483 59.8h1v2h-1zM496 59.8h1v2h-1zM505 59.8h1v2h-1zM518 59.8h2v2h-2zM529 59.8h1v2h-1zM536 59.8h1v2h-1zM551 59.8h1v2h-1zM563 59.8h1v2h-1zM566 59.8h1v2h-1zM571 59.8h1v2h-1zM585 59.8h1v2h-1zM610 59.8h1v2h-1zM623 59.8h1v2h-1zM631 59.8h1v2h-1zM635 59.8h1v2h-1zM637 59.8h1v2h-1zM641 59.8h1v2h-1zM249 61.8h1v2h-1zM262 61.8h1v2h-1zM264 61.8h1v2h-1zM324 61.8h1v2h-1zM331 61.8h1v2h-1zM341 61.8h1v2h-1zM350 61.8h1v2h-1zM355 61.8h1v2h-1zM376 61.8h1v2h-1zM379 61.8h1v2h-1zM385 61.8h1v2h-1zM387 61.8h1v2h-1zM390 61.8h1v2h-1zM398 61.8h1v2h-1zM405 61.8h2v2h-2zM408 61.8h1v2h-1zM415 61.8h1v2h-1zM423 61.8h2v2h-2zM426 61.8h1v2h-1zM435 61.8h1v2h-1zM464 61.8h1v2h-1zM473 61.8h1v2h-1zM481 61.8h1v2h-1zM484 61.8h1v2h-1zM486 61.8h1v2h-1zM494 61.8h1v2h-1zM497 61.8h1v2h-1zM505 61.8h1v2h-1zM508 61.8h1v2h-1zM515 61.8h1v2h-1zM519 61.8h1v2h-1zM522 61.8h1v2h-1zM529 61.8h1v2h-1zM536 61.8h1v2h-1zM551 61.8h3v2h-3zM560 61.8h1v2h-1zM564 61.8h1v2h-1zM584 61.8h1v2h-1zM604 61.8h1v2h-1zM610 61.8h1v2h-1zM624 61.8h1v2h-1zM631 61.8h1v2h-1zM634 61.8h1v2h-1zM639 61.8h2v2h-2zM653 61.8h1v2h-1zM238 63.7h1v2h-1zM242 63.7h1v2h-1zM256 63.7h1v2h-1zM259 63.7h1v2h-1zM267 63.7h1v2h-1zM274 63.7h1v2h-1zM283 63.7h1v2h-1zM304 63.7h1v2h-1zM306 63.7h1v2h-1zM312 63.7h1v2h-1zM321 63.7h1v2h-1zM323 63.7h3v2h-3zM331 63.7h1v2h-1zM352 63.7h1v2h-1zM370 63.7h1v2h-1zM376 63.7h1v2h-1zM383 63.7h1v2h-1zM387 63.7h1v2h-1zM389 63.7h1v2h-1zM395 63.7h1v2h-1zM398 63.7h1v2h-1zM407 63.7h1v2h-1zM422 63.7h2v2h-2zM426 63.7h1v2h-1zM448 63.7h1v2h-1zM453 63.7h3v2h-3zM463 63.7h2v2h-2zM466 63.7h2v2h-2zM479 63.7h1v2h-1zM481 63.7h1v2h-1zM496 63.7h1v2h-1zM502 63.7h2v2h-2zM506 63.7h2v2h-2zM509 63.7h2v2h-2zM515 63.7h1v2h-1zM518 63.7h1v2h-1zM524 63.7h2v2h-2zM529 63.7h1v2h-1zM551 63.7h2v2h-2zM564 63.7h2v2h-2zM605 63.7h1v2h-1zM625 63.7h1v2h-1zM627 63.7h1v2h-1zM249 65.7h1v2h-1zM251 65.7h1v2h-1zM259 65.7h1v2h-1zM263 65.7h2v2h-2zM304 65.7h1v2h-1zM314 65.7h1v2h-1zM319 65.7h2v2h-2zM324 65.7h1v2h-1zM326 65.7h1v2h-1zM347 65.7h1v2h-1zM351 65.7h1v2h-1zM353 65.7h1v2h-1zM356 65.7h1v2h-1zM371 65.7h1v2h-1zM384 65.7h2v2h-2zM387 65.7h2v2h-2zM392 65.7h1v2h-1zM398 65.7h1v2h-1zM401 65.7h2v2h-2zM410 65.7h1v2h-1zM416 65.7h1v2h-1zM421 65.7h1v2h-1zM424 65.7h1v2h-1zM445 65.7h1v2h-1zM454 65.7h1v2h-1zM460 65.7h1v2h-1zM465 65.7h1v2h-1zM472 65.7h1v2h-1zM476 65.7h1v2h-1zM481 65.7h1v2h-1zM493 65.7h1v2h-1zM496 65.7h1v2h-1zM509 65.7h1v2h-1zM519 65.7h1v2h-1zM524 65.7h1v2h-1zM532 65.7h1v2h-1zM557 65.7h1v2h-1zM565 65.7h1v2h-1zM588 65.7h1v2h-1zM600 65.7h1v2h-1zM605 65.7h1v2h-1zM613 65.7h1v2h-1zM620 65.7h1v2h-1zM630 65.7h3v2h-3zM635 65.7h1v2h-1zM242 67.7h1v2h-1zM266 67.7h1v2h-1zM268 67.7h1v2h-1zM272 67.7h1v2h-1zM304 67.7h1v2h-1zM313 67.7h1v2h-1zM315 67.7h1v2h-1zM321 67.7h1v2h-1zM324 67.7h1v2h-1zM331 67.7h1v2h-1zM339 67.7h1v2h-1zM352 67.7h1v2h-1zM355 67.7h2v2h-2zM368 67.7h2v2h-2zM376 67.7h1v2h-1zM379 67.7h1v2h-1zM385 67.7h1v2h-1zM396 67.7h1v2h-1zM398 67.7h1v2h-1zM403 67.7h1v2h-1zM410 67.7h2v2h-2zM417 67.7h1v2h-1zM420 67.7h1v2h-1zM423 67.7h1v2h-1zM434 67.7h1v2h-1zM449 67.7h1v2h-1zM454 67.7h1v2h-1zM464 67.7h1v2h-1zM466 67.7h1v2h-1zM485 67.7h1v2h-1zM498 67.7h1v2h-1zM505 67.7h1v2h-1zM510 67.7h1v2h-1zM521 67.7h2v2h-2zM524 67.7h1v2h-1zM529 67.7h1v2h-1zM535 67.7h1v2h-1zM540 67.7h1v2h-1zM547 67.7h1v2h-1zM560 67.7h1v2h-1zM586 67.7h1v2h-1zM605 67.7h1v2h-1zM617 67.7h1v2h-1zM622 67.7h1v2h-1zM626 67.7h2v2h-2zM631 67.7h1v2h-1zM216 69.7h1v2h-1zM255 69.7h1v2h-1zM258 69.7h1v2h-1zM269 69.7h1v2h-1zM304 69.7h1v2h-1zM306 69.7h1v2h-1zM311 69.7h1v2h-1zM314 69.7h1v2h-1zM316 69.7h1v2h-1zM319 69.7h1v2h-1zM324 69.7h1v2h-1zM326 69.7h1v2h-1zM339 69.7h1v2h-1zM349 69.7h1v2h-1zM353 69.7h1v2h-1zM355 69.7h2v2h-2zM367 69.7h1v2h-1zM369 69.7h1v2h-1zM371 69.7h2v2h-2zM377 69.7h1v2h-1zM385 69.7h2v2h-2zM391 69.7h1v2h-1zM421 69.7h2v2h-2zM424 69.7h1v2h-1zM426 69.7h1v2h-1zM438 69.7h1v2h-1zM451 69.7h1v2h-1zM454 69.7h1v2h-1zM463 69.7h2v2h-2zM466 69.7h1v2h-1zM468 69.7h1v2h-1zM473 69.7h1v2h-1zM476 69.7h1v2h-1zM481 69.7h1v2h-1zM510 69.7h1v2h-1zM514 69.7h1v2h-1zM522 69.7h1v2h-1zM530 69.7h3v2h-3zM540 69.7h1v2h-1zM558 69.7h1v2h-1zM566 69.7h1v2h-1zM569 69.7h1v2h-1zM600 69.7h1v2h-1zM607 69.7h1v2h-1zM612 69.7h1v2h-1zM618 69.7h2v2h-2zM622 69.7h1v2h-1zM626 69.7h1v2h-1zM628 69.7h1v2h-1zM633 69.7h1v2h-1zM238 71.7h1v2h-1zM247 71.7h1v2h-1zM250 71.7h1v2h-1zM258 71.7h1v2h-1zM306 71.7h1v2h-1zM313 71.7h1v2h-1zM315 71.7h1v2h-1zM317 71.7h1v2h-1zM326 71.7h2v2h-2zM336 71.7h1v2h-1zM338 71.7h1v2h-1zM347 71.7h1v2h-1zM353 71.7h1v2h-1zM364 71.7h1v2h-1zM377 71.7h1v2h-1zM382 71.7h1v2h-1zM384 71.7h1v2h-1zM391 71.7h1v2h-1zM421 71.7h1v2h-1zM435 71.7h1v2h-1zM458 71.7h1v2h-1zM460 71.7h1v2h-1zM463 71.7h2v2h-2zM467 71.7h2v2h-2zM473 71.7h1v2h-1zM478 71.7h1v2h-1zM507 71.7h1v2h-1zM518 71.7h2v2h-2zM522 71.7h1v2h-1zM529 71.7h1v2h-1zM532 71.7h1v2h-1zM534 71.7h1v2h-1zM540 71.7h1v2h-1zM547 71.7h1v2h-1zM566 71.7h1v2h-1zM568 71.7h1v2h-1zM583 71.7h1v2h-1zM607 71.7h1v2h-1zM618 71.7h1v2h-1zM626 71.7h1v2h-1zM633 71.7h1v2h-1zM637 71.7h1v2h-1zM639 71.7h1v2h-1zM642 71.7h1v2h-1zM646 71.7h1v2h-1zM231 73.6h2v2h-2zM278 73.6h1v2h-1zM280 73.6h1v2h-1zM284 73.6h1v2h-1zM304 73.6h1v2h-1zM317 73.6h1v2h-1zM323 73.6h1v2h-1zM328 73.6h1v2h-1zM338 73.6h2v2h-2zM358 73.6h1v2h-1zM369 73.6h1v2h-1zM374 73.6h1v2h-1zM382 73.6h1v2h-1zM388 73.6h1v2h-1zM418 73.6h1v2h-1zM421 73.6h1v2h-1zM429 73.6h1v2h-1zM438 73.6h2v2h-2zM456 73.6h2v2h-2zM461 73.6h1v2h-1zM488 73.6h1v2h-1zM523 73.6h2v2h-2zM544 73.6h1v2h-1zM560 73.6h2v2h-2zM563 73.6h1v2h-1zM580 73.6h1v2h-1zM582 73.6h1v2h-1zM593 73.6h1v2h-1zM602 73.6h1v2h-1zM604 73.6h1v2h-1zM633 73.6h1v2h-1zM637 73.6h1v2h-1zM642 73.6h1v2h-1zM244 75.6h1v2h-1zM246 75.6h1v2h-1zM282 75.6h1v2h-1zM295 75.6h1v2h-1zM305 75.6h1v2h-1zM316 75.6h1v2h-1zM324 75.6h1v2h-1zM334 75.6h1v2h-1zM337 75.6h1v2h-1zM344 75.6h1v2h-1zM346 75.6h1v2h-1zM352 75.6h1v2h-1zM355 75.6h2v2h-2zM388 75.6h1v2h-1zM390 75.6h1v2h-1zM423 75.6h1v2h-1zM425 75.6h1v2h-1zM430 75.6h1v2h-1zM474 75.6h1v2h-1zM486 75.6h1v2h-1zM499 75.6h2v2h-2zM526 75.6h1v2h-1zM534 75.6h1v2h-1zM547 75.6h1v2h-1zM589 75.6h1v2h-1zM591 75.6h1v2h-1zM596 75.6h1v2h-1zM615 75.6h1v2h-1zM620 75.6h1v2h-1zM637 75.6h1v2h-1zM642 75.6h1v2h-1zM647 75.6h2v2h-2zM220 77.6h1v2h-1zM223 77.6h1v2h-1zM233 77.6h1v2h-1zM246 77.6h1v2h-1zM271 77.6h1v2h-1zM295 77.6h1v2h-1zM298 77.6h1v2h-1zM311 77.6h1v2h-1zM347 77.6h1v2h-1zM358 77.6h2v2h-2zM364 77.6h1v2h-1zM394 77.6h1v2h-1zM401 77.6h1v2h-1zM431 77.6h1v2h-1zM479 77.6h1v2h-1zM522 77.6h1v2h-1zM533 77.6h1v2h-1zM542 77.6h2v2h-2zM575 77.6h1v2h-1zM599 77.6h1v2h-1zM623 77.6h1v2h-1zM219 79.6h1v2h-1zM232 79.6h1v2h-1zM239 79.6h1v2h-1zM287 79.6h1v2h-1zM300 79.6h1v2h-1zM307 79.6h1v2h-1zM312 79.6h1v2h-1zM330 79.6h1v2h-1zM343 79.6h1v2h-1zM356 79.6h1v2h-1zM394 79.6h1v2h-1zM410 79.6h1v2h-1zM429 79.6h1v2h-1zM510 79.6h1v2h-1zM541 79.6h1v2h-1zM544 79.6h1v2h-1zM591 79.6h1v2h-1zM608 79.6h1v2h-1zM611 79.6h1v2h-1zM381 81.5h1v2h-1zM383 81.5h1v2h-1zM398 81.5h1v2h-1zM423 81.5h1v2h-1zM474 81.5h1v2h-1zM498 81.5h1v2h-1zM628 81.5h1v2h-1zM333 83.5h1v2h-1zM352 83.5h1v2h-1zM373 83.5h1v2h-1zM392 83.5h1v2h-1zM632 83.5h1v2h-1zM645 83.5h1v2h-1zM237 85.5h1v2h-1zM332 85.5h1v2h-1zM374 85.5h1v2h-1zM475 85.5h1v2h-1zM487 85.5h1v2h-1zM581 85.5h2v2h-2zM596 85.5h1v2h-1zM254 87.5h1v2h-1zM313 87.5h1v2h-1zM577 87.5h1v2h-1zM237 89.4h1v2h-1zM374 89.4h1v2h-1zM474 89.4h1v2h-1zM482 89.4h1v2h-1zM627 89.4h1v2h-1zM632 89.4h1v2h-1zM235 91.4h1v2h-1zM295 91.4h1v2h-1zM500 91.4h1v2h-1zM611 91.4h1v2h-1zM222 93.4h1v2h-1zM232 93.4h1v2h-1zM268 93.4h1v2h-1zM354 93.4h1v2h-1zM357 93.4h1v2h-1zM359 93.4h1v2h-1zM374 93.4h1v2h-1zM397 93.4h1v2h-1zM568 93.4h1v2h-1zM224 95.4h1v2h-1zM256 95.4h1v2h-1zM293 95.4h1v2h-1zM403 95.4h1v2h-1zM422 95.4h1v2h-1zM597 95.4h1v2h-1zM222 97.3h1v2h-1zM320 97.3h1v2h-1zM398 97.3h1v2h-1zM403 97.3h1v2h-1zM573 97.3h1v2h-1zM244 99.3h1v2h-1zM289 99.3h1v2h-1zM317 99.3h1v2h-1zM374 99.3h1v2h-1zM540 99.3h1v2h-1zM639 99.3h1v2h-1zM644 99.3h1v2h-1zM652 99.3h1v2h-1z"/><path fill="#3f69af" d="M437 42h1v2h-1zM509 42h1v2h-1zM525 42h1v2h-1zM575 42h1v2h-1zM315 44h1v2h-1zM370 44h1v2h-1zM377 44h1v2h-1zM420 44h1v2h-1zM492 44h1v2h-1zM519 44h1v2h-1zM548 44h1v2h-1zM263 46h1v2h-1zM456 46h2v2h-2zM464 46h1v2h-1zM502 46h1v2h-1zM530 46h1v2h-1zM549 46h1v2h-1zM564 46h1v2h-1zM618 46h1v2h-1zM325 47.9h1v2h-1zM391 47.9h1v2h-1zM415 47.9h1v2h-1zM437 47.9h1v2h-1zM481 47.9h1v2h-1zM491 47.9h1v2h-1zM506 47.9h1v2h-1zM371 49.9h1v2h-1zM408 49.9h2v2h-2zM420 49.9h2v2h-2zM426 49.9h1v2h-1zM461 49.9h1v2h-1zM465 49.9h1v2h-1zM535 49.9h1v2h-1zM560 49.9h1v2h-1zM634 49.9h1v2h-1zM254 51.9h1v2h-1zM290 51.9h1v2h-1zM384 51.9h1v2h-1zM418 51.9h1v2h-1zM455 51.9h2v2h-2zM564 51.9h1v2h-1zM572 51.9h1v2h-1zM581 51.9h1v2h-1zM634 51.9h1v2h-1zM636 51.9h1v2h-1zM312 53.9h1v2h-1zM384 53.9h1v2h-1zM402 53.9h1v2h-1zM502 53.9h1v2h-1zM636 53.9h1v2h-1zM354 55.8h1v2h-1zM413 55.8h1v2h-1zM560 55.8h1v2h-1zM341 57.8h1v2h-1zM405 57.8h1v2h-1zM422 57.8h1v2h-1zM437 57.8h1v2h-1zM606 57.8h1v2h-1zM635 57.8h1v2h-1zM319 59.8h1v2h-1zM402 59.8h1v2h-1zM408 59.8h1v2h-1zM455 59.8h1v2h-1zM513 59.8h1v2h-1zM564 59.8h1v2h-1zM639 59.8h1v2h-1zM314 61.8h1v2h-1zM337 61.8h1v2h-1zM420 61.8h1v2h-1zM467 61.8h1v2h-1zM601 61.8h1v2h-1zM615 61.8h1v2h-1zM320 63.7h1v2h-1zM347 63.7h1v2h-1zM371 63.7h1v2h-1zM416 63.7h1v2h-1zM537 63.7h1v2h-1zM557 63.7h1v2h-1zM643 63.7h1v2h-1zM216 65.7h1v2h-1zM303 65.7h1v2h-1zM342 65.7h1v2h-1zM377 65.7h1v2h-1zM511 65.7h1v2h-1zM525 65.7h1v2h-1zM539 65.7h1v2h-1zM586 65.7h1v2h-1zM604 65.7h1v2h-1zM216 67.7h1v2h-1zM249 67.7h1v2h-1zM314 67.7h1v2h-1zM316 67.7h1v2h-1zM319 67.7h1v2h-1zM391 67.7h1v2h-1zM481 67.7h1v2h-1zM534 67.7h1v2h-1zM634 67.7h1v2h-1zM238 69.7h1v2h-1zM250 69.7h1v2h-1zM261 69.7h1v2h-1zM383 69.7h1v2h-1zM404 69.7h1v2h-1zM423 69.7h1v2h-1zM440 69.7h2v2h-2zM452 69.7h1v2h-1zM303 71.7h1v2h-1zM370 71.7h1v2h-1zM392 71.7h1v2h-1zM624 71.7h1v2h-1zM343 73.6h1v2h-1zM428 73.6h1v2h-1zM433 73.6h1v2h-1zM619 73.6h1v2h-1zM622 73.6h1v2h-1zM652 75.6h1v2h-1zM225 77.6h1v2h-1zM499 77.6h1v2h-1zM593 77.6h1v2h-1zM491 79.6h1v2h-1zM589 79.6h1v2h-1zM651 83.5h1v2h-1zM491 91.4h1v2h-1zM360 99.3h1v2h-1z"/><path fill="#5bbdaf" d="M504 61.8h1v2h-1zM504 65.7h1v2h-1zM413 67.7h1v2h-1zM340 69.7h1v2h-1zM415 71.7h1v2h-1zM444 71.7h1v2h-1zM551 71.7h3v2h-3zM621 71.7h1v2h-1zM267 73.6h1v2h-1zM402 73.6h1v2h-1zM408 73.6h1v2h-1zM473 73.6h1v2h-1zM481 73.6h1v2h-1zM483 73.6h1v2h-1zM495 73.6h1v2h-1zM497 73.6h1v2h-1zM568 73.6h1v2h-1zM261 75.6h1v2h-1zM263 75.6h1v2h-1zM267 75.6h1v2h-1zM312 75.6h1v2h-1zM341 75.6h1v2h-1zM441 75.6h1v2h-1zM457 75.6h1v2h-1zM467 75.6h1v2h-1zM494 75.6h1v2h-1zM537 75.6h1v2h-1zM563 75.6h1v2h-1zM574 75.6h1v2h-1zM242 77.6h1v2h-1zM263 77.6h1v2h-1zM268 77.6h1v2h-1zM304 77.6h1v2h-1zM485 77.6h1v2h-1zM509 77.6h1v2h-1zM521 77.6h1v2h-1zM539 77.6h1v2h-1zM562 77.6h1v2h-1zM584 77.6h1v2h-1zM586 77.6h1v2h-1zM610 77.6h1v2h-1zM217 79.6h1v2h-1zM242 79.6h1v2h-1zM256 79.6h1v2h-1zM270 79.6h1v2h-1zM275 79.6h1v2h-1zM314 79.6h1v2h-1zM320 79.6h1v2h-1zM329 79.6h1v2h-1zM347 79.6h1v2h-1zM385 79.6h1v2h-1zM388 79.6h1v2h-1zM457 79.6h1v2h-1zM460 79.6h1v2h-1zM525 79.6h1v2h-1zM578 79.6h1v2h-1zM600 79.6h1v2h-1zM629 79.6h1v2h-1zM631 79.6h1v2h-1zM644 79.6h1v2h-1zM235 81.5h1v2h-1zM307 81.5h1v2h-1zM386 81.5h1v2h-1zM392 81.5h1v2h-1zM446 81.5h1v2h-1zM449 81.5h1v2h-1zM452 81.5h1v2h-1zM493 81.5h1v2h-1zM500 81.5h1v2h-1zM505 81.5h1v2h-1zM540 81.5h1v2h-1zM561 81.5h1v2h-1zM565 81.5h1v2h-1zM594 81.5h1v2h-1zM630 81.5h1v2h-1zM634 81.5h1v2h-1zM643 81.5h1v2h-1zM230 83.5h1v2h-1zM258 83.5h1v2h-1zM338 83.5h1v2h-1zM357 83.5h1v2h-1zM544 83.5h1v2h-1zM594 83.5h1v2h-1zM620 83.5h1v2h-1zM638 83.5h1v2h-1zM239 85.5h1v2h-1zM281 85.5h1v2h-1zM309 85.5h1v2h-1zM364 85.5h1v2h-1zM380 85.5h1v2h-1zM418 85.5h1v2h-1zM482 85.5h1v2h-1zM499 85.5h1v2h-1zM565 85.5h1v2h-1zM608 85.5h1v2h-1zM248 87.5h1v2h-1zM273 87.5h1v2h-1zM293 87.5h1v2h-1zM311 87.5h1v2h-1zM346 87.5h1v2h-1zM543 87.5h1v2h-1zM259 89.4h1v2h-1zM267 89.4h1v2h-1zM360 89.4h1v2h-1zM418 89.4h1v2h-1zM458 89.4h1v2h-1zM576 89.4h1v2h-1zM592 89.4h1v2h-1zM614 89.4h1v2h-1zM230 91.4h1v2h-1zM244 91.4h1v2h-1zM296 91.4h1v2h-1zM463 91.4h1v2h-1zM474 91.4h1v2h-1zM511 91.4h1v2h-1zM528 91.4h1v2h-1zM546 91.4h1v2h-1zM580 91.4h1v2h-1zM591 91.4h1v2h-1zM616 91.4h1v2h-1zM630 91.4h1v2h-1zM227 93.4h1v2h-1zM230 93.4h1v2h-1zM276 93.4h1v2h-1zM288 93.4h1v2h-1zM325 93.4h1v2h-1zM382 93.4h1v2h-1zM440 93.4h1v2h-1zM582 93.4h1v2h-1zM641 93.4h1v2h-1zM274 95.4h1v2h-1zM296 95.4h1v2h-1zM311 95.4h1v2h-1zM347 95.4h1v2h-1zM540 95.4h1v2h-1zM594 95.4h1v2h-1zM607 95.4h1v2h-1zM638 95.4h1v2h-1zM224 97.3h1v2h-1zM230 97.3h1v2h-1zM278 97.3h1v2h-1zM311 97.3h1v2h-1zM360 97.3h1v2h-1zM423 97.3h1v2h-1zM427 97.3h1v2h-1zM455 97.3h1v2h-1zM561 97.3h1v2h-1zM636 97.3h1v2h-1zM217 99.3h1v2h-1zM230 99.3h1v2h-1zM239 99.3h1v2h-1zM250 99.3h2v2h-2zM264 99.3h1v2h-1zM281 99.3h1v2h-1zM284 99.3h1v2h-1zM299 99.3h1v2h-1zM318 99.3h1v2h-1zM327 99.3h1v2h-1zM332 99.3h1v2h-1zM356 99.3h2v2h-2zM371 99.3h1v2h-1zM389 99.3h1v2h-1zM393 99.3h1v2h-1zM410 99.3h1v2h-1zM414 99.3h1v2h-1zM430 99.3h1v2h-1zM491 99.3h1v2h-1zM514 99.3h1v2h-1zM518 99.3h1v2h-1zM521 99.3h1v2h-1zM531 99.3h1v2h-1zM542 99.3h1v2h-1zM576 99.3h1v2h-1zM589 99.3h1v2h-1zM601 99.3h1v2h-1zM609 99.3h1v2h-1zM620 99.3h1v2h-1zM624 99.3h1v2h-1zM634 99.3h1v2h-1z"/><path fill="#ffffbd" d="M412 81.5h1v2h-1zM506 81.5h1v2h-1zM524 81.5h1v2h-1zM529 81.5h1v2h-1zM552 81.5h1v2h-1zM563 81.5h1v2h-1zM260 83.5h1v2h-1zM249 85.5h1v2h-1zM336 85.5h1v2h-1zM350 85.5h1v2h-1zM367 85.5h1v2h-1zM408 85.5h1v2h-1zM485 85.5h1v2h-1zM536 85.5h1v2h-1zM556 85.5h1v2h-1zM571 85.5h2v2h-2zM260 87.5h1v2h-1zM316 87.5h1v2h-1zM393 87.5h1v2h-1zM415 87.5h1v2h-1zM449 87.5h1v2h-1zM493 87.5h1v2h-1zM505 87.5h1v2h-1zM516 87.5h1v2h-1zM610 87.5h1v2h-1zM620 87.5h1v2h-1zM643 87.5h1v2h-1zM242 89.4h1v2h-1zM262 89.4h1v2h-1zM301 89.4h1v2h-1zM319 89.4h1v2h-1zM323 89.4h1v2h-1zM342 89.4h1v2h-1zM362 89.4h1v2h-1zM368 89.4h1v2h-1zM387 89.4h1v2h-1zM427 89.4h1v2h-1zM525 89.4h1v2h-1zM542 89.4h1v2h-1zM571 89.4h1v2h-1zM575 89.4h1v2h-1zM616 89.4h1v2h-1zM638 89.4h1v2h-1zM650 89.4h1v2h-1zM372 91.4h1v2h-1zM384 91.4h1v2h-1zM498 91.4h1v2h-1zM523 91.4h1v2h-1zM538 91.4h1v2h-1zM619 91.4h1v2h-1zM621 91.4h1v2h-1zM264 93.4h1v2h-1zM334 93.4h1v2h-1zM430 93.4h1v2h-1zM485 93.4h1v2h-1zM493 93.4h1v2h-1zM515 93.4h1v2h-1zM585 93.4h1v2h-1zM218 95.4h1v2h-1zM270 95.4h1v2h-1zM305 95.4h1v2h-1zM322 95.4h1v2h-1zM342 95.4h1v2h-1zM362 95.4h1v2h-1zM392 95.4h1v2h-1zM409 95.4h1v2h-1zM414 95.4h1v2h-1zM424 95.4h1v2h-1zM503 95.4h1v2h-1zM507 95.4h1v2h-1zM522 95.4h1v2h-1zM606 95.4h1v2h-1zM608 95.4h1v2h-1zM631 95.4h1v2h-1zM217 97.3h1v2h-1zM256 97.3h1v2h-1zM261 97.3h1v2h-1zM264 97.3h1v2h-1zM290 97.3h1v2h-1zM334 97.3h1v2h-1zM351 97.3h2v2h-2zM393 97.3h1v2h-1zM430 97.3h1v2h-1zM437 97.3h1v2h-1zM446 97.3h1v2h-1zM485 97.3h1v2h-1zM495 97.3h1v2h-1zM526 97.3h1v2h-1zM539 97.3h1v2h-1zM566 97.3h1v2h-1zM572 97.3h1v2h-1zM610 97.3h1v2h-1z"/><path fill="#fff5af" d="M504 79.6h1v2h-1zM269 81.5h1v2h-1zM434 81.5h1v2h-1zM550 81.5h1v2h-1zM340 83.5h2v2h-2zM535 83.5h1v2h-1zM551 83.5h1v2h-1zM493 85.5h1v2h-1zM538 85.5h1v2h-1zM621 85.5h1v2h-1zM262 87.5h1v2h-1zM269 87.5h1v2h-1zM304 87.5h1v2h-1zM320 87.5h1v2h-1zM478 87.5h1v2h-1zM522 87.5h1v2h-1zM524 87.5h1v2h-1zM529 87.5h1v2h-1zM636 87.5h1v2h-1zM652 87.5h1v2h-1zM240 89.4h1v2h-1zM283 89.4h1v2h-1zM322 89.4h1v2h-1zM339 89.4h1v2h-1zM369 89.4h1v2h-1zM440 89.4h1v2h-1zM448 89.4h1v2h-1zM518 89.4h1v2h-1zM558 89.4h1v2h-1zM584 89.4h1v2h-1zM639 89.4h1v2h-1zM301 91.4h1v2h-1zM325 91.4h1v2h-1zM341 91.4h1v2h-1zM363 91.4h1v2h-1zM418 91.4h1v2h-1zM429 91.4h1v2h-1zM431 91.4h1v2h-1zM435 91.4h1v2h-1zM454 91.4h1v2h-1zM467 91.4h1v2h-1zM477 91.4h1v2h-1zM494 91.4h1v2h-1zM585 91.4h1v2h-1zM637 91.4h1v2h-1zM217 93.4h1v2h-1zM269 93.4h1v2h-1zM304 93.4h1v2h-1zM391 93.4h1v2h-1zM433 93.4h2v2h-2zM495 93.4h1v2h-1zM506 93.4h1v2h-1zM524 93.4h1v2h-1zM535 93.4h1v2h-1zM266 95.4h1v2h-1zM324 95.4h1v2h-1zM368 95.4h1v2h-1zM371 95.4h1v2h-1zM413 95.4h1v2h-1zM423 95.4h1v2h-1zM441 95.4h1v2h-1zM446 95.4h1v2h-1zM571 95.4h1v2h-1zM585 95.4h1v2h-1zM247 97.3h1v2h-1zM319 97.3h1v2h-1zM322 97.3h1v2h-1zM362 97.3h1v2h-1zM424 97.3h1v2h-1zM441 97.3h1v2h-1zM453 97.3h1v2h-1zM497 97.3h1v2h-1zM513 97.3h1v2h-1zM531 97.3h1v2h-1z"/><path fill="#e7f5a1" d="M412 79.6h1v2h-1zM636 79.6h1v2h-1zM640 79.6h1v2h-1zM264 81.5h1v2h-1zM275 81.5h1v2h-1zM284 81.5h1v2h-1zM415 81.5h1v2h-1zM460 81.5h1v2h-1zM467 81.5h1v2h-1zM479 81.5h1v2h-1zM653 81.5h1v2h-1zM269 83.5h1v2h-1zM319 83.5h2v2h-2zM350 83.5h1v2h-1zM386 83.5h1v2h-1zM434 83.5h1v2h-1zM443 83.5h1v2h-1zM458 83.5h1v2h-1zM464 83.5h1v2h-1zM467 83.5h1v2h-1zM478 83.5h1v2h-1zM509 83.5h1v2h-1zM515 83.5h1v2h-1zM537 83.5h1v2h-1zM542 83.5h1v2h-1zM564 83.5h1v2h-1zM600 83.5h1v2h-1zM606 83.5h1v2h-1zM217 85.5h1v2h-1zM226 85.5h1v2h-1zM231 85.5h1v2h-1zM276 85.5h1v2h-1zM297 85.5h1v2h-1zM314 85.5h1v2h-1zM319 85.5h1v2h-1zM338 85.5h1v2h-1zM349 85.5h1v2h-1zM368 85.5h1v2h-1zM386 85.5h1v2h-1zM452 85.5h1v2h-1zM455 85.5h1v2h-1zM502 85.5h1v2h-1zM524 85.5h1v2h-1zM552 85.5h1v2h-1zM575 85.5h1v2h-1zM584 85.5h1v2h-1zM250 87.5h1v2h-1zM267 87.5h2v2h-2zM281 87.5h1v2h-1zM322 87.5h1v2h-1zM387 87.5h1v2h-1zM406 87.5h1v2h-1zM423 87.5h1v2h-1zM427 87.5h1v2h-1zM447 87.5h1v2h-1zM490 87.5h1v2h-1zM492 87.5h1v2h-1zM565 87.5h1v2h-1zM606 87.5h1v2h-1zM621 87.5h1v2h-1zM218 89.4h1v2h-1zM252 89.4h1v2h-1zM273 89.4h1v2h-1zM347 89.4h1v2h-1zM465 89.4h1v2h-1zM507 89.4h1v2h-1zM523 89.4h1v2h-1zM564 89.4h1v2h-1zM600 89.4h1v2h-1zM649 89.4h1v2h-1zM227 91.4h1v2h-1zM334 91.4h1v2h-1zM337 91.4h1v2h-1zM365 91.4h1v2h-1zM427 91.4h1v2h-1zM433 91.4h1v2h-1zM495 91.4h1v2h-1zM525 91.4h1v2h-1zM544 91.4h1v2h-1zM239 93.4h1v2h-1zM270 93.4h1v2h-1zM301 93.4h1v2h-1zM319 93.4h1v2h-1zM339 93.4h1v2h-1zM365 93.4h1v2h-1zM418 93.4h1v2h-1zM508 93.4h1v2h-1zM526 93.4h1v2h-1zM558 93.4h1v2h-1zM614 93.4h1v2h-1zM292 95.4h1v2h-1zM314 95.4h1v2h-1zM383 95.4h1v2h-1zM388 95.4h1v2h-1zM418 95.4h1v2h-1zM442 95.4h1v2h-1zM477 95.4h2v2h-2zM523 95.4h1v2h-1zM544 95.4h1v2h-1zM547 95.4h1v2h-1zM553 95.4h1v2h-1zM592 95.4h1v2h-1zM604 95.4h2v2h-2zM221 97.3h1v2h-1zM251 97.3h1v2h-1zM325 97.3h1v2h-1zM331 97.3h1v2h-1zM339 97.3h1v2h-1zM342 97.3h1v2h-1zM373 97.3h1v2h-1zM387 97.3h1v2h-1zM390 97.3h1v2h-1zM416 97.3h1v2h-1zM454 97.3h1v2h-1zM462 97.3h1v2h-1zM464 97.3h1v2h-1zM488 97.3h1v2h-1zM498 97.3h1v2h-1zM536 97.3h1v2h-1zM545 97.3h1v2h-1zM602 97.3h1v2h-1zM619 97.3h1v2h-1zM621 97.3h1v2h-1z"/><path fill="#a1d9a1" d="M504 71.7h1v2h-1zM414 73.6h1v2h-1zM329 75.6h1v2h-1zM409 75.6h1v2h-1zM504 75.6h1v2h-1zM572 75.6h1v2h-1zM444 77.6h1v2h-1zM463 77.6h1v2h-1zM466 77.6h1v2h-1zM537 77.6h1v2h-1zM585 77.6h1v2h-1zM621 77.6h1v2h-1zM321 79.6h1v2h-1zM331 79.6h1v2h-1zM341 79.6h1v2h-1zM382 79.6h1v2h-1zM387 79.6h1v2h-1zM408 79.6h1v2h-1zM426 79.6h1v2h-1zM444 79.6h1v2h-1zM469 79.6h1v2h-1zM505 79.6h1v2h-1zM524 79.6h1v2h-1zM529 79.6h1v2h-1zM552 79.6h1v2h-1zM635 79.6h1v2h-1zM637 79.6h1v2h-1zM217 81.5h1v2h-1zM223 81.5h1v2h-1zM250 81.5h1v2h-1zM263 81.5h1v2h-1zM272 81.5h1v2h-1zM274 81.5h1v2h-1zM276 81.5h1v2h-1zM282 81.5h2v2h-2zM287 81.5h1v2h-1zM369 81.5h1v2h-1zM391 81.5h1v2h-1zM439 81.5h1v2h-1zM441 81.5h1v2h-1zM459 81.5h1v2h-1zM462 81.5h1v2h-1zM476 81.5h1v2h-1zM492 81.5h1v2h-1zM508 81.5h1v2h-1zM522 81.5h1v2h-1zM579 81.5h1v2h-1zM584 81.5h1v2h-1zM599 81.5h1v2h-1zM604 81.5h1v2h-1zM610 81.5h1v2h-1zM641 81.5h1v2h-1zM644 81.5h1v2h-1zM235 83.5h1v2h-1zM299 83.5h1v2h-1zM307 83.5h2v2h-2zM331 83.5h1v2h-1zM376 83.5h1v2h-1zM390 83.5h1v2h-1zM413 83.5h1v2h-1zM421 83.5h2v2h-2zM463 83.5h1v2h-1zM468 83.5h1v2h-1zM473 83.5h1v2h-1zM482 83.5h1v2h-1zM494 83.5h1v2h-1zM498 83.5h1v2h-1zM502 83.5h1v2h-1zM519 83.5h1v2h-1zM540 83.5h1v2h-1zM576 83.5h1v2h-1zM583 83.5h1v2h-1zM590 83.5h1v2h-1zM610 83.5h1v2h-1zM633 83.5h1v2h-1zM646 83.5h1v2h-1zM247 85.5h2v2h-2zM269 85.5h1v2h-1zM291 85.5h1v2h-1zM306 85.5h1v2h-1zM315 85.5h1v2h-1zM325 85.5h1v2h-1zM372 85.5h1v2h-1zM405 85.5h1v2h-1zM441 85.5h1v2h-1zM453 85.5h1v2h-1zM480 85.5h1v2h-1zM486 85.5h1v2h-1zM516 85.5h1v2h-1zM518 85.5h2v2h-2zM521 85.5h1v2h-1zM540 85.5h1v2h-1zM592 85.5h1v2h-1zM607 85.5h1v2h-1zM634 85.5h1v2h-1zM643 85.5h1v2h-1zM648 85.5h1v2h-1zM229 87.5h1v2h-1zM272 87.5h1v2h-1zM283 87.5h1v2h-1zM285 87.5h1v2h-1zM287 87.5h1v2h-1zM290 87.5h2v2h-2zM317 87.5h1v2h-1zM331 87.5h1v2h-1zM339 87.5h1v2h-1zM347 87.5h1v2h-1zM355 87.5h1v2h-1zM394 87.5h1v2h-1zM418 87.5h1v2h-1zM437 87.5h1v2h-1zM445 87.5h1v2h-1zM455 87.5h1v2h-1zM459 87.5h1v2h-1zM463 87.5h1v2h-1zM469 87.5h1v2h-1zM476 87.5h2v2h-2zM483 87.5h1v2h-1zM509 87.5h1v2h-1zM574 87.5h1v2h-1zM590 87.5h1v2h-1zM593 87.5h1v2h-1zM225 89.4h1v2h-1zM239 89.4h1v2h-1zM331 89.4h1v2h-1zM381 89.4h1v2h-1zM383 89.4h1v2h-1zM410 89.4h1v2h-1zM461 89.4h1v2h-1zM472 89.4h1v2h-1zM483 89.4h1v2h-1zM486 89.4h1v2h-1zM524 89.4h1v2h-1zM526 89.4h1v2h-1zM572 89.4h1v2h-1zM579 89.4h1v2h-1zM595 89.4h1v2h-1zM609 89.4h1v2h-1zM615 89.4h1v2h-1zM221 91.4h1v2h-1zM273 91.4h1v2h-1zM275 91.4h1v2h-1zM291 91.4h1v2h-1zM304 91.4h1v2h-1zM306 91.4h1v2h-1zM352 91.4h1v2h-1zM369 91.4h1v2h-1zM420 91.4h1v2h-1zM458 91.4h1v2h-1zM480 91.4h1v2h-1zM520 91.4h1v2h-1zM574 91.4h1v2h-1zM588 91.4h1v2h-1zM592 91.4h1v2h-1zM599 91.4h1v2h-1zM608 91.4h1v2h-1zM614 91.4h1v2h-1zM644 91.4h1v2h-1zM238 93.4h1v2h-1zM247 93.4h1v2h-1zM251 93.4h1v2h-1zM256 93.4h1v2h-1zM347 93.4h1v2h-1zM411 93.4h1v2h-1zM414 93.4h1v2h-1zM521 93.4h1v2h-1zM540 93.4h1v2h-1zM560 93.4h1v2h-1zM575 93.4h1v2h-1zM236 95.4h1v2h-1zM286 95.4h1v2h-1zM290 95.4h1v2h-1zM301 95.4h1v2h-1zM361 95.4h1v2h-1zM379 95.4h1v2h-1zM386 95.4h1v2h-1zM400 95.4h1v2h-1zM472 95.4h1v2h-1zM489 95.4h1v2h-1zM525 95.4h1v2h-1zM542 95.4h1v2h-1zM583 95.4h2v2h-2zM587 95.4h1v2h-1zM653 95.4h1v2h-1zM226 97.3h1v2h-1zM236 97.3h1v2h-1zM240 97.3h1v2h-1zM286 97.3h1v2h-1zM323 97.3h1v2h-1zM358 97.3h1v2h-1zM370 97.3h1v2h-1zM400 97.3h1v2h-1zM412 97.3h1v2h-1zM439 97.3h1v2h-1zM482 97.3h1v2h-1zM494 97.3h1v2h-1zM519 97.3h1v2h-1zM541 97.3h1v2h-1zM549 97.3h1v2h-1zM555 97.3h1v2h-1zM557 97.3h1v2h-1zM563 97.3h1v2h-1zM565 97.3h1v2h-1zM603 97.3h1v2h-1z"/><path fill="#77cba1" d="M504 67.7h1v2h-1zM412 69.7h1v2h-1zM504 69.7h1v2h-1zM340 71.7h1v2h-1zM414 71.7h1v2h-1zM329 73.6h1v2h-1zM509 73.6h1v2h-1zM572 73.6h1v2h-1zM266 75.6h1v2h-1zM269 75.6h1v2h-1zM321 75.6h1v2h-1zM389 75.6h1v2h-1zM516 75.6h1v2h-1zM217 77.6h1v2h-1zM259 77.6h1v2h-1zM315 77.6h1v2h-1zM329 77.6h1v2h-1zM389 77.6h1v2h-1zM434 77.6h1v2h-1zM460 77.6h1v2h-1zM471 77.6h1v2h-1zM505 77.6h1v2h-1zM515 77.6h1v2h-1zM518 77.6h1v2h-1zM548 77.6h1v2h-1zM566 77.6h1v2h-1zM619 77.6h1v2h-1zM641 77.6h1v2h-1zM249 79.6h1v2h-1zM264 79.6h1v2h-1zM324 79.6h1v2h-1zM351 79.6h1v2h-1zM370 79.6h1v2h-1zM378 79.6h2v2h-2zM391 79.6h1v2h-1zM401 79.6h1v2h-1zM425 79.6h1v2h-1zM434 79.6h1v2h-1zM445 79.6h1v2h-1zM447 79.6h1v2h-1zM452 79.6h1v2h-1zM494 79.6h1v2h-1zM509 79.6h1v2h-1zM558 79.6h1v2h-1zM566 79.6h1v2h-1zM570 79.6h1v2h-1zM613 79.6h1v2h-1zM625 79.6h1v2h-1zM639 79.6h1v2h-1zM641 79.6h1v2h-1zM643 79.6h1v2h-1zM251 81.5h1v2h-1zM273 81.5h1v2h-1zM291 81.5h2v2h-2zM345 81.5h2v2h-2zM361 81.5h1v2h-1zM393 81.5h1v2h-1zM402 81.5h1v2h-1zM481 81.5h1v2h-1zM509 81.5h1v2h-1zM516 81.5h1v2h-1zM520 81.5h1v2h-1zM526 81.5h1v2h-1zM603 81.5h1v2h-1zM620 81.5h1v2h-1zM648 81.5h1v2h-1zM239 83.5h1v2h-1zM247 83.5h1v2h-1zM256 83.5h1v2h-1zM261 83.5h1v2h-1zM274 83.5h1v2h-1zM286 83.5h1v2h-1zM293 83.5h1v2h-1zM305 83.5h1v2h-1zM314 83.5h1v2h-1zM324 83.5h1v2h-1zM329 83.5h1v2h-1zM336 83.5h1v2h-1zM359 83.5h1v2h-1zM378 83.5h1v2h-1zM401 83.5h1v2h-1zM410 83.5h1v2h-1zM439 83.5h1v2h-1zM450 83.5h1v2h-1zM462 83.5h1v2h-1zM491 83.5h1v2h-1zM512 83.5h1v2h-1zM588 83.5h1v2h-1zM618 83.5h1v2h-1zM652 83.5h1v2h-1zM225 85.5h1v2h-1zM244 85.5h1v2h-1zM246 85.5h1v2h-1zM261 85.5h1v2h-1zM272 85.5h1v2h-1zM288 85.5h1v2h-1zM293 85.5h1v2h-1zM295 85.5h1v2h-1zM299 85.5h1v2h-1zM313 85.5h1v2h-1zM328 85.5h1v2h-1zM356 85.5h1v2h-1zM360 85.5h1v2h-1zM383 85.5h1v2h-1zM396 85.5h1v2h-1zM410 85.5h1v2h-1zM430 85.5h1v2h-1zM449 85.5h1v2h-1zM477 85.5h1v2h-1zM512 85.5h1v2h-1zM526 85.5h1v2h-1zM531 85.5h1v2h-1zM593 85.5h1v2h-1zM599 85.5h1v2h-1zM617 85.5h1v2h-1zM220 87.5h1v2h-1zM227 87.5h2v2h-2zM231 87.5h1v2h-1zM251 87.5h1v2h-1zM276 87.5h2v2h-2zM314 87.5h1v2h-1zM318 87.5h1v2h-1zM325 87.5h1v2h-1zM374 87.5h1v2h-1zM440 87.5h1v2h-1zM473 87.5h2v2h-2zM495 87.5h2v2h-2zM541 87.5h1v2h-1zM546 87.5h1v2h-1zM555 87.5h1v2h-1zM588 87.5h1v2h-1zM599 87.5h1v2h-1zM231 89.4h1v2h-1zM246 89.4h1v2h-1zM280 89.4h1v2h-1zM289 89.4h1v2h-1zM300 89.4h1v2h-1zM308 89.4h1v2h-1zM311 89.4h1v2h-1zM329 89.4h1v2h-1zM334 89.4h1v2h-1zM348 89.4h1v2h-1zM355 89.4h1v2h-1zM359 89.4h1v2h-1zM406 89.4h1v2h-1zM428 89.4h1v2h-1zM438 89.4h1v2h-1zM466 89.4h1v2h-1zM468 89.4h1v2h-1zM547 89.4h1v2h-1zM593 89.4h1v2h-1zM251 91.4h1v2h-1zM259 91.4h1v2h-1zM283 91.4h2v2h-2zM292 91.4h1v2h-1zM333 91.4h1v2h-1zM358 91.4h1v2h-1zM364 91.4h1v2h-1zM376 91.4h1v2h-1zM405 91.4h1v2h-1zM407 91.4h1v2h-1zM507 91.4h1v2h-1zM510 91.4h1v2h-1zM521 91.4h1v2h-1zM540 91.4h1v2h-1zM552 91.4h1v2h-1zM558 91.4h1v2h-1zM577 91.4h1v2h-1zM620 91.4h1v2h-1zM635 91.4h1v2h-1zM246 93.4h1v2h-1zM280 93.4h1v2h-1zM285 93.4h1v2h-1zM296 93.4h1v2h-1zM303 93.4h1v2h-1zM317 93.4h1v2h-1zM345 93.4h1v2h-1zM388 93.4h1v2h-1zM431 93.4h1v2h-1zM435 93.4h1v2h-1zM447 93.4h1v2h-1zM458 93.4h1v2h-1zM522 93.4h1v2h-1zM555 93.4h1v2h-1zM562 93.4h1v2h-1zM570 93.4h1v2h-1zM574 93.4h1v2h-1zM592 93.4h1v2h-1zM646 93.4h1v2h-1zM221 95.4h1v2h-1zM239 95.4h1v2h-1zM331 95.4h2v2h-2zM395 95.4h1v2h-1zM428 95.4h1v2h-1zM450 95.4h1v2h-1zM457 95.4h1v2h-1zM474 95.4h1v2h-1zM501 95.4h1v2h-1zM516 95.4h1v2h-1zM545 95.4h1v2h-1zM558 95.4h1v2h-1zM573 95.4h1v2h-1zM588 95.4h1v2h-1zM220 97.3h1v2h-1zM245 97.3h1v2h-1zM275 97.3h1v2h-1zM277 97.3h1v2h-1zM282 97.3h1v2h-1zM298 97.3h1v2h-1zM326 97.3h1v2h-1zM456 97.3h1v2h-1zM458 97.3h1v2h-1zM460 97.3h1v2h-1zM492 97.3h1v2h-1zM499 97.3h1v2h-1zM501 97.3h1v2h-1zM229 99.3h1v2h-1zM253 99.3h1v2h-1zM259 99.3h1v2h-1zM288 99.3h1v2h-1zM293 99.3h1v2h-1zM305 99.3h1v2h-1zM323 99.3h1v2h-1zM325 99.3h1v2h-1zM336 99.3h1v2h-1zM339 99.3h1v2h-1zM353 99.3h1v2h-1zM361 99.3h1v2h-1zM363 99.3h1v2h-1zM375 99.3h1v2h-1zM405 99.3h1v2h-1zM421 99.3h1v2h-1zM426 99.3h1v2h-1zM444 99.3h1v2h-1zM466 99.3h1v2h-1zM476 99.3h1v2h-1zM486 99.3h1v2h-1zM497 99.3h1v2h-1zM508 99.3h1v2h-1zM516 99.3h2v2h-2zM520 99.3h1v2h-1zM537 99.3h1v2h-1zM549 99.3h1v2h-1zM555 99.3h1v2h-1zM573 99.3h1v2h-1zM590 99.3h1v2h-1zM597 99.3h1v2h-1zM613 99.3h1v2h-1zM626 99.3h1v2h-1zM648 99.3h1v2h-1z"/><path fill="#5bbda1" d="M217 75.6h1v2h-1zM253 75.6h1v2h-1zM385 77.6h1v2h-1zM472 77.6h1v2h-1zM588 77.6h1v2h-1zM523 79.6h1v2h-1zM634 79.6h1v2h-1zM382 87.5h1v2h-1zM550 87.5h1v2h-1zM478 89.4h1v2h-1zM410 91.4h1v2h-1zM570 91.4h1v2h-1zM309 93.4h1v2h-1zM511 93.4h1v2h-1zM624 97.3h1v2h-1zM232 99.3h1v2h-1zM390 99.3h1v2h-1zM400 99.3h1v2h-1zM575 99.3h1v2h-1zM579 99.3h1v2h-1z"/><path fill="#3f77bd" d="M326 42h1v2h-1zM390 42h1v2h-1zM422 42h1v2h-1zM424 42h1v2h-1zM464 42h1v2h-1zM535 42h2v2h-2zM566 42h1v2h-1zM634 42h1v2h-1zM636 42h1v2h-1zM640 42h1v2h-1zM261 44h1v2h-1zM324 44h1v2h-1zM423 44h1v2h-1zM472 44h1v2h-1zM506 44h1v2h-1zM618 44h1v2h-1zM249 46h1v2h-1zM423 46h1v2h-1zM466 46h1v2h-1zM483 46h1v2h-1zM566 46h1v2h-1zM620 46h2v2h-2zM634 46h1v2h-1zM329 47.9h1v2h-1zM405 47.9h1v2h-1zM421 47.9h1v2h-1zM454 47.9h1v2h-1zM504 47.9h1v2h-1zM527 47.9h1v2h-1zM575 47.9h1v2h-1zM620 47.9h1v2h-1zM635 47.9h1v2h-1zM640 47.9h1v2h-1zM378 49.9h1v2h-1zM385 49.9h1v2h-1zM423 49.9h1v2h-1zM508 49.9h1v2h-1zM525 49.9h1v2h-1zM529 49.9h1v2h-1zM548 49.9h1v2h-1zM637 49.9h1v2h-1zM325 51.9h1v2h-1zM376 51.9h1v2h-1zM378 51.9h2v2h-2zM483 51.9h1v2h-1zM508 51.9h2v2h-2zM618 51.9h1v2h-1zM621 51.9h1v2h-1zM422 53.9h1v2h-1zM465 53.9h1v2h-1zM506 53.9h1v2h-1zM566 53.9h1v2h-1zM584 53.9h1v2h-1zM610 53.9h1v2h-1zM425 55.8h2v2h-2zM454 55.8h1v2h-1zM464 55.8h1v2h-1zM510 55.8h1v2h-1zM529 55.8h1v2h-1zM585 55.8h1v2h-1zM621 55.8h1v2h-1zM636 55.8h1v2h-1zM641 55.8h1v2h-1zM249 57.8h1v2h-1zM340 57.8h1v2h-1zM396 57.8h1v2h-1zM423 57.8h1v2h-1zM483 57.8h1v2h-1zM503 57.8h1v2h-1zM508 57.8h1v2h-1zM524 57.8h1v2h-1zM535 57.8h1v2h-1zM551 57.8h1v2h-1zM614 57.8h1v2h-1zM621 57.8h1v2h-1zM627 57.8h1v2h-1zM312 59.8h1v2h-1zM329 59.8h1v2h-1zM336 59.8h1v2h-1zM340 59.8h1v2h-1zM393 59.8h1v2h-1zM444 59.8h1v2h-1zM502 59.8h1v2h-1zM509 59.8h1v2h-1zM572 59.8h1v2h-1zM621 59.8h1v2h-1zM256 61.8h1v2h-1zM391 61.8h1v2h-1zM409 61.8h1v2h-1zM443 61.8h1v2h-1zM466 61.8h1v2h-1zM471 61.8h1v2h-1zM502 61.8h2v2h-2zM506 61.8h1v2h-1zM525 61.8h1v2h-1zM535 61.8h1v2h-1zM572 61.8h1v2h-1zM618 61.8h1v2h-1zM636 61.8h1v2h-1zM641 61.8h1v2h-1zM260 63.7h1v2h-1zM326 63.7h1v2h-1zM350 63.7h2v2h-2zM388 63.7h1v2h-1zM408 63.7h1v2h-1zM415 63.7h1v2h-1zM419 63.7h1v2h-1zM434 63.7h1v2h-1zM476 63.7h1v2h-1zM485 63.7h1v2h-1zM495 63.7h1v2h-1zM570 63.7h1v2h-1zM585 63.7h1v2h-1zM637 63.7h1v2h-1zM653 63.7h1v2h-1zM256 65.7h1v2h-1zM266 65.7h2v2h-2zM312 65.7h1v2h-1zM376 65.7h1v2h-1zM419 65.7h1v2h-1zM426 65.7h1v2h-1zM455 65.7h1v2h-1zM466 65.7h2v2h-2zM471 65.7h1v2h-1zM494 65.7h1v2h-1zM505 65.7h1v2h-1zM518 65.7h1v2h-1zM529 65.7h1v2h-1zM538 65.7h1v2h-1zM564 65.7h1v2h-1zM256 67.7h1v2h-1zM263 67.7h1v2h-1zM265 67.7h1v2h-1zM269 67.7h1v2h-1zM306 67.7h1v2h-1zM312 67.7h1v2h-1zM341 67.7h1v2h-1zM351 67.7h1v2h-1zM404 67.7h1v2h-1zM467 67.7h1v2h-1zM476 67.7h1v2h-1zM518 67.7h1v2h-1zM525 67.7h1v2h-1zM532 67.7h1v2h-1zM565 67.7h2v2h-2zM601 67.7h1v2h-1zM633 67.7h1v2h-1zM217 69.7h1v2h-1zM251 69.7h1v2h-1zM256 69.7h1v2h-1zM265 69.7h1v2h-1zM303 69.7h1v2h-1zM315 69.7h1v2h-1zM338 69.7h1v2h-1zM347 69.7h1v2h-1zM396 69.7h1v2h-1zM398 69.7h1v2h-1zM401 69.7h1v2h-1zM403 69.7h1v2h-1zM425 69.7h1v2h-1zM447 69.7h1v2h-1zM453 69.7h1v2h-1zM469 69.7h1v2h-1zM493 69.7h1v2h-1zM508 69.7h1v2h-1zM515 69.7h1v2h-1zM524 69.7h2v2h-2zM535 69.7h2v2h-2zM539 69.7h1v2h-1zM548 69.7h1v2h-1zM565 69.7h1v2h-1zM601 69.7h1v2h-1zM620 69.7h1v2h-1zM623 69.7h1v2h-1zM635 69.7h1v2h-1zM255 71.7h1v2h-1zM261 71.7h1v2h-1zM312 71.7h1v2h-1zM318 71.7h1v2h-1zM328 71.7h1v2h-1zM342 71.7h1v2h-1zM349 71.7h1v2h-1zM355 71.7h2v2h-2zM367 71.7h3v2h-3zM386 71.7h1v2h-1zM398 71.7h1v2h-1zM411 71.7h1v2h-1zM426 71.7h1v2h-1zM441 71.7h1v2h-1zM446 71.7h1v2h-1zM451 71.7h1v2h-1zM466 71.7h1v2h-1zM476 71.7h1v2h-1zM517 71.7h1v2h-1zM520 71.7h2v2h-2zM535 71.7h2v2h-2zM556 71.7h1v2h-1zM565 71.7h1v2h-1zM601 71.7h1v2h-1zM619 71.7h1v2h-1zM622 71.7h1v2h-1zM644 71.7h1v2h-1zM252 73.6h1v2h-1zM263 73.6h1v2h-1zM270 73.6h1v2h-1zM300 73.6h1v2h-1zM306 73.6h1v2h-1zM346 73.6h1v2h-1zM371 73.6h1v2h-1zM383 73.6h1v2h-1zM391 73.6h1v2h-1zM395 73.6h1v2h-1zM466 73.6h1v2h-1zM484 73.6h1v2h-1zM508 73.6h1v2h-1zM527 73.6h1v2h-1zM576 73.6h1v2h-1zM586 73.6h1v2h-1zM614 73.6h1v2h-1zM618 73.6h1v2h-1zM630 73.6h1v2h-1zM238 75.6h1v2h-1zM251 75.6h2v2h-2zM287 75.6h1v2h-1zM294 75.6h1v2h-1zM302 75.6h1v2h-1zM307 75.6h1v2h-1zM359 75.6h1v2h-1zM386 75.6h1v2h-1zM395 75.6h1v2h-1zM435 75.6h1v2h-1zM450 75.6h1v2h-1zM501 75.6h1v2h-1zM510 75.6h1v2h-1zM530 75.6h1v2h-1zM579 75.6h1v2h-1zM590 75.6h1v2h-1zM629 75.6h1v2h-1zM646 75.6h1v2h-1zM651 75.6h1v2h-1zM227 77.6h1v2h-1zM229 77.6h2v2h-2zM244 77.6h1v2h-1zM270 77.6h1v2h-1zM281 77.6h1v2h-1zM285 77.6h1v2h-1zM291 77.6h2v2h-2zM353 77.6h1v2h-1zM372 77.6h1v2h-1zM383 77.6h1v2h-1zM398 77.6h1v2h-1zM422 77.6h1v2h-1zM428 77.6h1v2h-1zM446 77.6h1v2h-1zM477 77.6h1v2h-1zM590 77.6h1v2h-1zM234 79.6h1v2h-1zM257 79.6h1v2h-1zM297 79.6h1v2h-1zM302 79.6h1v2h-1zM309 79.6h1v2h-1zM359 79.6h1v2h-1zM474 79.6h1v2h-1zM482 79.6h1v2h-1zM580 79.6h1v2h-1zM604 79.6h1v2h-1zM624 79.6h1v2h-1zM230 81.5h1v2h-1zM268 81.5h1v2h-1zM323 81.5h1v2h-1zM397 81.5h1v2h-1zM435 81.5h1v2h-1zM450 81.5h1v2h-1zM478 81.5h1v2h-1zM486 81.5h1v2h-1zM543 81.5h1v2h-1zM615 81.5h1v2h-1zM251 83.5h1v2h-1zM403 83.5h1v2h-1zM609 83.5h1v2h-1zM224 85.5h1v2h-1zM310 85.5h1v2h-1zM353 85.5h1v2h-1zM432 85.5h1v2h-1zM474 85.5h1v2h-1zM530 85.5h1v2h-1zM568 85.5h1v2h-1zM570 85.5h1v2h-1zM602 85.5h1v2h-1zM499 87.5h1v2h-1zM544 87.5h1v2h-1zM602 87.5h1v2h-1zM628 87.5h1v2h-1zM633 87.5h1v2h-1zM222 89.4h1v2h-1zM276 89.4h1v2h-1zM328 89.4h1v2h-1zM617 89.4h1v2h-1zM493 91.4h1v2h-1zM518 91.4h1v2h-1zM348 93.4h1v2h-1zM425 93.4h1v2h-1zM225 95.4h1v2h-1zM377 95.4h1v2h-1zM578 95.4h1v2h-1zM266 97.3h1v2h-1zM302 97.3h1v2h-1zM327 97.3h1v2h-1zM410 97.3h1v2h-1zM584 97.3h1v2h-1zM280 99.3h1v2h-1zM351 99.3h1v2h-1zM367 99.3h1v2h-1zM437 99.3h1v2h-1zM583 99.3h1v2h-1z"/><path fill="#4d69af" d="M221 42h1v2h-1zM237 42h1v2h-1zM253 42h1v2h-1zM256 42h1v2h-1zM272 42h4v2h-4zM283 42h1v2h-1zM290 42h1v2h-1zM305 42h1v2h-1zM313 42h1v2h-1zM321 42h1v2h-1zM347 42h1v2h-1zM353 42h1v2h-1zM362 42h1v2h-1zM368 42h1v2h-1zM377 42h1v2h-1zM379 42h2v2h-2zM387 42h1v2h-1zM391 42h1v2h-1zM395 42h1v2h-1zM404 42h1v2h-1zM408 42h1v2h-1zM412 42h1v2h-1zM415 42h2v2h-2zM418 42h1v2h-1zM426 42h1v2h-1zM439 42h1v2h-1zM444 42h1v2h-1zM454 42h1v2h-1zM457 42h4v2h-4zM465 42h1v2h-1zM467 42h1v2h-1zM484 42h1v2h-1zM504 42h2v2h-2zM516 42h1v2h-1zM519 42h1v2h-1zM522 42h1v2h-1zM526 42h1v2h-1zM529 42h1v2h-1zM531 42h1v2h-1zM586 42h2v2h-2zM606 42h1v2h-1zM614 42h1v2h-1zM620 42h1v2h-1zM624 42h2v2h-2zM631 42h1v2h-1zM635 42h1v2h-1zM238 44h1v2h-1zM240 44h1v2h-1zM250 44h1v2h-1zM256 44h1v2h-1zM270 44h1v2h-1zM273 44h4v2h-4zM283 44h2v2h-2zM299 44h1v2h-1zM311 44h1v2h-1zM316 44h1v2h-1zM336 44h1v2h-1zM340 44h1v2h-1zM347 44h1v2h-1zM351 44h1v2h-1zM353 44h3v2h-3zM376 44h1v2h-1zM380 44h1v2h-1zM386 44h1v2h-1zM389 44h1v2h-1zM409 44h1v2h-1zM422 44h1v2h-1zM426 44h1v2h-1zM430 44h1v2h-1zM437 44h1v2h-1zM439 44h1v2h-1zM448 44h1v2h-1zM451 44h1v2h-1zM456 44h2v2h-2zM459 44h1v2h-1zM463 44h1v2h-1zM467 44h1v2h-1zM470 44h1v2h-1zM478 44h1v2h-1zM481 44h1v2h-1zM485 44h1v2h-1zM497 44h1v2h-1zM505 44h1v2h-1zM510 44h1v2h-1zM513 44h2v2h-2zM521 44h1v2h-1zM523 44h2v2h-2zM560 44h2v2h-2zM563 44h2v2h-2zM584 44h4v2h-4zM590 44h1v2h-1zM601 44h1v2h-1zM612 44h1v2h-1zM614 44h1v2h-1zM619 44h1v2h-1zM623 44h1v2h-1zM625 44h1v2h-1zM640 44h2v2h-2zM645 44h1v2h-1zM241 46h1v2h-1zM256 46h1v2h-1zM261 46h1v2h-1zM264 46h1v2h-1zM274 46h1v2h-1zM290 46h1v2h-1zM306 46h1v2h-1zM314 46h1v2h-1zM326 46h1v2h-1zM341 46h1v2h-1zM350 46h1v2h-1zM355 46h1v2h-1zM371 46h1v2h-1zM378 46h1v2h-1zM383 46h1v2h-1zM386 46h2v2h-2zM404 46h1v2h-1zM415 46h1v2h-1zM419 46h1v2h-1zM426 46h1v2h-1zM431 46h1v2h-1zM442 46h1v2h-1zM459 46h5v2h-5zM467 46h2v2h-2zM478 46h1v2h-1zM481 46h1v2h-1zM508 46h2v2h-2zM516 46h1v2h-1zM520 46h1v2h-1zM523 46h1v2h-1zM526 46h1v2h-1zM529 46h1v2h-1zM531 46h1v2h-1zM535 46h2v2h-2zM538 46h1v2h-1zM572 46h1v2h-1zM583 46h1v2h-1zM585 46h2v2h-2zM588 46h1v2h-1zM601 46h1v2h-1zM605 46h1v2h-1zM613 46h2v2h-2zM623 46h1v2h-1zM633 46h1v2h-1zM637 46h1v2h-1zM646 46h1v2h-1zM649 46h1v2h-1zM653 46h1v2h-1zM221 47.9h1v2h-1zM242 47.9h1v2h-1zM260 47.9h1v2h-1zM263 47.9h1v2h-1zM270 47.9h1v2h-1zM275 47.9h1v2h-1zM308 47.9h1v2h-1zM324 47.9h1v2h-1zM337 47.9h1v2h-1zM339 47.9h2v2h-2zM352 47.9h1v2h-1zM355 47.9h1v2h-1zM368 47.9h1v2h-1zM383 47.9h1v2h-1zM388 47.9h1v2h-1zM395 47.9h1v2h-1zM409 47.9h1v2h-1zM420 47.9h1v2h-1zM438 47.9h1v2h-1zM456 47.9h1v2h-1zM459 47.9h1v2h-1zM461 47.9h1v2h-1zM467 47.9h1v2h-1zM502 47.9h2v2h-2zM509 47.9h1v2h-1zM522 47.9h2v2h-2zM525 47.9h1v2h-1zM531 47.9h1v2h-1zM536 47.9h1v2h-1zM560 47.9h2v2h-2zM563 47.9h4v2h-4zM571 47.9h1v2h-1zM582 47.9h1v2h-1zM585 47.9h2v2h-2zM604 47.9h2v2h-2zM614 47.9h1v2h-1zM618 47.9h1v2h-1zM621 47.9h1v2h-1zM623 47.9h1v2h-1zM625 47.9h1v2h-1zM644 47.9h1v2h-1zM647 47.9h1v2h-1zM221 49.9h1v2h-1zM229 49.9h1v2h-1zM231 49.9h1v2h-1zM242 49.9h1v2h-1zM263 49.9h1v2h-1zM274 49.9h2v2h-2zM325 49.9h2v2h-2zM337 49.9h1v2h-1zM339 49.9h1v2h-1zM347 49.9h1v2h-1zM363 49.9h1v2h-1zM370 49.9h1v2h-1zM380 49.9h1v2h-1zM383 49.9h1v2h-1zM386 49.9h1v2h-1zM388 49.9h2v2h-2zM391 49.9h1v2h-1zM395 49.9h1v2h-1zM402 49.9h1v2h-1zM405 49.9h1v2h-1zM412 49.9h3v2h-3zM419 49.9h1v2h-1zM427 49.9h1v2h-1zM441 49.9h1v2h-1zM453 49.9h1v2h-1zM458 49.9h3v2h-3zM470 49.9h1v2h-1zM497 49.9h1v2h-1zM507 49.9h1v2h-1zM509 49.9h1v2h-1zM515 49.9h1v2h-1zM518 49.9h2v2h-2zM523 49.9h1v2h-1zM551 49.9h1v2h-1zM563 49.9h1v2h-1zM565 49.9h1v2h-1zM575 49.9h1v2h-1zM585 49.9h1v2h-1zM587 49.9h2v2h-2zM606 49.9h1v2h-1zM620 49.9h1v2h-1zM624 49.9h2v2h-2zM629 49.9h1v2h-1zM639 49.9h1v2h-1zM641 49.9h1v2h-1zM643 49.9h1v2h-1zM647 49.9h1v2h-1zM248 51.9h1v2h-1zM261 51.9h1v2h-1zM263 51.9h1v2h-1zM304 51.9h1v2h-1zM311 51.9h1v2h-1zM313 51.9h1v2h-1zM320 51.9h1v2h-1zM322 51.9h1v2h-1zM326 51.9h1v2h-1zM335 51.9h1v2h-1zM345 51.9h2v2h-2zM363 51.9h1v2h-1zM371 51.9h1v2h-1zM389 51.9h4v2h-4zM408 51.9h1v2h-1zM414 51.9h1v2h-1zM417 51.9h1v2h-1zM419 51.9h1v2h-1zM425 51.9h1v2h-1zM441 51.9h2v2h-2zM454 51.9h1v2h-1zM457 51.9h2v2h-2zM460 51.9h4v2h-4zM471 51.9h1v2h-1zM473 51.9h1v2h-1zM484 51.9h1v2h-1zM496 51.9h1v2h-1zM515 51.9h1v2h-1zM518 51.9h1v2h-1zM536 51.9h1v2h-1zM548 51.9h1v2h-1zM550 51.9h1v2h-1zM559 51.9h1v2h-1zM563 51.9h1v2h-1zM565 51.9h1v2h-1zM580 51.9h1v2h-1zM585 51.9h1v2h-1zM605 51.9h1v2h-1zM620 51.9h1v2h-1zM632 51.9h2v2h-2zM637 51.9h1v2h-1zM639 51.9h1v2h-1zM641 51.9h1v2h-1zM643 51.9h2v2h-2zM232 53.9h1v2h-1zM240 53.9h1v2h-1zM262 53.9h1v2h-1zM265 53.9h1v2h-1zM275 53.9h2v2h-2zM315 53.9h2v2h-2zM320 53.9h1v2h-1zM322 53.9h1v2h-1zM324 53.9h1v2h-1zM336 53.9h2v2h-2zM339 53.9h1v2h-1zM347 53.9h1v2h-1zM350 53.9h2v2h-2zM353 53.9h1v2h-1zM355 53.9h1v2h-1zM369 53.9h1v2h-1zM383 53.9h1v2h-1zM385 53.9h1v2h-1zM387 53.9h1v2h-1zM405 53.9h2v2h-2zM415 53.9h1v2h-1zM420 53.9h1v2h-1zM427 53.9h1v2h-1zM440 53.9h1v2h-1zM449 53.9h1v2h-1zM453 53.9h1v2h-1zM455 53.9h3v2h-3zM461 53.9h3v2h-3zM470 53.9h1v2h-1zM472 53.9h2v2h-2zM481 53.9h1v2h-1zM484 53.9h1v2h-1zM495 53.9h1v2h-1zM518 53.9h2v2h-2zM529 53.9h1v2h-1zM534 53.9h2v2h-2zM537 53.9h1v2h-1zM551 53.9h1v2h-1zM560 53.9h1v2h-1zM565 53.9h1v2h-1zM572 53.9h1v2h-1zM580 53.9h1v2h-1zM585 53.9h1v2h-1zM587 53.9h2v2h-2zM608 53.9h1v2h-1zM631 53.9h2v2h-2zM634 53.9h1v2h-1zM641 53.9h1v2h-1zM645 53.9h1v2h-1zM232 55.8h1v2h-1zM236 55.8h1v2h-1zM238 55.8h1v2h-1zM262 55.8h1v2h-1zM268 55.8h1v2h-1zM273 55.8h3v2h-3zM285 55.8h1v2h-1zM301 55.8h1v2h-1zM308 55.8h2v2h-2zM315 55.8h1v2h-1zM321 55.8h1v2h-1zM329 55.8h1v2h-1zM337 55.8h2v2h-2zM347 55.8h1v2h-1zM350 55.8h2v2h-2zM363 55.8h1v2h-1zM369 55.8h1v2h-1zM376 55.8h1v2h-1zM378 55.8h2v2h-2zM383 55.8h3v2h-3zM391 55.8h1v2h-1zM409 55.8h2v2h-2zM414 55.8h2v2h-2zM424 55.8h1v2h-1zM438 55.8h2v2h-2zM444 55.8h1v2h-1zM453 55.8h1v2h-1zM457 55.8h1v2h-1zM459 55.8h1v2h-1zM467 55.8h1v2h-1zM469 55.8h2v2h-2zM495 55.8h1v2h-1zM503 55.8h1v2h-1zM505 55.8h2v2h-2zM518 55.8h2v2h-2zM524 55.8h1v2h-1zM534 55.8h1v2h-1zM548 55.8h1v2h-1zM562 55.8h2v2h-2zM565 55.8h1v2h-1zM584 55.8h1v2h-1zM586 55.8h2v2h-2zM618 55.8h2v2h-2zM623 55.8h1v2h-1zM634 55.8h2v2h-2zM638 55.8h1v2h-1zM640 55.8h1v2h-1zM644 55.8h1v2h-1zM217 57.8h1v2h-1zM240 57.8h1v2h-1zM262 57.8h2v2h-2zM274 57.8h1v2h-1zM284 57.8h1v2h-1zM319 57.8h3v2h-3zM328 57.8h1v2h-1zM338 57.8h1v2h-1zM349 57.8h1v2h-1zM352 57.8h2v2h-2zM355 57.8h1v2h-1zM367 57.8h1v2h-1zM369 57.8h1v2h-1zM376 57.8h2v2h-2zM384 57.8h1v2h-1zM389 57.8h1v2h-1zM393 57.8h1v2h-1zM395 57.8h1v2h-1zM402 57.8h1v2h-1zM404 57.8h1v2h-1zM407 57.8h2v2h-2zM421 57.8h1v2h-1zM424 57.8h1v2h-1zM438 57.8h2v2h-2zM442 57.8h1v2h-1zM444 57.8h1v2h-1zM448 57.8h2v2h-2zM454 57.8h2v2h-2zM459 57.8h2v2h-2zM462 57.8h2v2h-2zM465 57.8h1v2h-1zM469 57.8h1v2h-1zM471 57.8h2v2h-2zM481 57.8h1v2h-1zM485 57.8h1v2h-1zM505 57.8h1v2h-1zM509 57.8h1v2h-1zM526 57.8h1v2h-1zM537 57.8h1v2h-1zM548 57.8h1v2h-1zM556 57.8h1v2h-1zM560 57.8h1v2h-1zM563 57.8h2v2h-2zM568 57.8h1v2h-1zM580 57.8h1v2h-1zM586 57.8h3v2h-3zM613 57.8h1v2h-1zM623 57.8h1v2h-1zM629 57.8h1v2h-1zM641 57.8h2v2h-2zM217 59.8h1v2h-1zM243 59.8h1v2h-1zM256 59.8h1v2h-1zM260 59.8h1v2h-1zM272 59.8h1v2h-1zM276 59.8h1v2h-1zM290 59.8h1v2h-1zM311 59.8h1v2h-1zM327 59.8h1v2h-1zM337 59.8h1v2h-1zM342 59.8h1v2h-1zM345 59.8h2v2h-2zM349 59.8h1v2h-1zM353 59.8h1v2h-1zM355 59.8h1v2h-1zM367 59.8h1v2h-1zM369 59.8h1v2h-1zM371 59.8h2v2h-2zM376 59.8h1v2h-1zM379 59.8h1v2h-1zM382 59.8h1v2h-1zM385 59.8h1v2h-1zM395 59.8h1v2h-1zM422 59.8h1v2h-1zM437 59.8h2v2h-2zM443 59.8h1v2h-1zM448 59.8h1v2h-1zM454 59.8h1v2h-1zM456 59.8h1v2h-1zM464 59.8h1v2h-1zM471 59.8h1v2h-1zM473 59.8h2v2h-2zM481 59.8h1v2h-1zM484 59.8h2v2h-2zM493 59.8h1v2h-1zM507 59.8h1v2h-1zM510 59.8h1v2h-1zM512 59.8h1v2h-1zM515 59.8h1v2h-1zM525 59.8h1v2h-1zM535 59.8h1v2h-1zM562 59.8h1v2h-1zM565 59.8h1v2h-1zM575 59.8h1v2h-1zM584 59.8h1v2h-1zM605 59.8h2v2h-2zM620 59.8h1v2h-1zM625 59.8h1v2h-1zM627 59.8h1v2h-1zM634 59.8h1v2h-1zM640 59.8h1v2h-1zM650 59.8h1v2h-1zM229 61.8h1v2h-1zM242 61.8h1v2h-1zM261 61.8h1v2h-1zM272 61.8h2v2h-2zM284 61.8h1v2h-1zM301 61.8h1v2h-1zM303 61.8h1v2h-1zM305 61.8h1v2h-1zM312 61.8h2v2h-2zM321 61.8h1v2h-1zM325 61.8h2v2h-2zM339 61.8h1v2h-1zM342 61.8h1v2h-1zM348 61.8h1v2h-1zM353 61.8h1v2h-1zM363 61.8h1v2h-1zM381 61.8h1v2h-1zM383 61.8h1v2h-1zM394 61.8h1v2h-1zM421 61.8h1v2h-1zM438 61.8h1v2h-1zM441 61.8h1v2h-1zM445 61.8h1v2h-1zM448 61.8h1v2h-1zM454 61.8h4v2h-4zM461 61.8h1v2h-1zM465 61.8h1v2h-1zM468 61.8h1v2h-1zM472 61.8h1v2h-1zM489 61.8h1v2h-1zM509 61.8h2v2h-2zM518 61.8h1v2h-1zM524 61.8h1v2h-1zM530 61.8h1v2h-1zM537 61.8h1v2h-1zM539 61.8h1v2h-1zM550 61.8h1v2h-1zM562 61.8h1v2h-1zM565 61.8h1v2h-1zM586 61.8h2v2h-2zM606 61.8h1v2h-1zM616 61.8h1v2h-1zM625 61.8h1v2h-1zM630 61.8h1v2h-1zM635 61.8h1v2h-1zM643 61.8h1v2h-1zM217 63.7h1v2h-1zM231 63.7h1v2h-1zM249 63.7h1v2h-1zM265 63.7h1v2h-1zM272 63.7h2v2h-2zM275 63.7h1v2h-1zM303 63.7h1v2h-1zM308 63.7h1v2h-1zM336 63.7h1v2h-1zM339 63.7h1v2h-1zM341 63.7h1v2h-1zM355 63.7h1v2h-1zM379 63.7h2v2h-2zM386 63.7h1v2h-1zM390 63.7h2v2h-2zM402 63.7h1v2h-1zM424 63.7h1v2h-1zM445 63.7h1v2h-1zM456 63.7h2v2h-2zM460 63.7h2v2h-2zM465 63.7h1v2h-1zM468 63.7h2v2h-2zM471 63.7h1v2h-1zM473 63.7h1v2h-1zM478 63.7h1v2h-1zM484 63.7h1v2h-1zM491 63.7h2v2h-2zM497 63.7h1v2h-1zM505 63.7h1v2h-1zM521 63.7h1v2h-1zM523 63.7h1v2h-1zM534 63.7h1v2h-1zM536 63.7h1v2h-1zM538 63.7h2v2h-2zM560 63.7h2v2h-2zM563 63.7h1v2h-1zM566 63.7h1v2h-1zM578 63.7h1v2h-1zM582 63.7h1v2h-1zM584 63.7h1v2h-1zM586 63.7h2v2h-2zM623 63.7h1v2h-1zM629 63.7h1v2h-1zM633 63.7h1v2h-1zM635 63.7h1v2h-1zM641 63.7h1v2h-1zM652 63.7h1v2h-1zM242 65.7h2v2h-2zM253 65.7h1v2h-1zM265 65.7h1v2h-1zM274 65.7h1v2h-1zM290 65.7h1v2h-1zM301 65.7h1v2h-1zM305 65.7h1v2h-1zM313 65.7h1v2h-1zM315 65.7h2v2h-2zM335 65.7h1v2h-1zM339 65.7h1v2h-1zM341 65.7h1v2h-1zM352 65.7h1v2h-1zM386 65.7h1v2h-1zM389 65.7h1v2h-1zM393 65.7h1v2h-1zM395 65.7h1v2h-1zM404 65.7h1v2h-1zM422 65.7h1v2h-1zM425 65.7h1v2h-1zM427 65.7h1v2h-1zM453 65.7h1v2h-1zM458 65.7h1v2h-1zM461 65.7h1v2h-1zM463 65.7h2v2h-2zM470 65.7h1v2h-1zM477 65.7h3v2h-3zM485 65.7h1v2h-1zM506 65.7h1v2h-1zM520 65.7h2v2h-2zM523 65.7h1v2h-1zM527 65.7h1v2h-1zM536 65.7h1v2h-1zM558 65.7h1v2h-1zM562 65.7h1v2h-1zM567 65.7h1v2h-1zM583 65.7h1v2h-1zM587 65.7h1v2h-1zM601 65.7h1v2h-1zM606 65.7h1v2h-1zM610 65.7h1v2h-1zM617 65.7h1v2h-1zM625 65.7h1v2h-1zM627 65.7h1v2h-1zM629 65.7h1v2h-1zM634 65.7h1v2h-1zM641 65.7h1v2h-1zM644 65.7h1v2h-1zM237 67.7h2v2h-2zM240 67.7h1v2h-1zM247 67.7h2v2h-2zM253 67.7h1v2h-1zM258 67.7h1v2h-1zM261 67.7h1v2h-1zM273 67.7h4v2h-4zM283 67.7h1v2h-1zM290 67.7h1v2h-1zM297 67.7h1v2h-1zM303 67.7h1v2h-1zM305 67.7h1v2h-1zM311 67.7h1v2h-1zM318 67.7h1v2h-1zM325 67.7h1v2h-1zM337 67.7h1v2h-1zM357 67.7h1v2h-1zM372 67.7h1v2h-1zM377 67.7h2v2h-2zM383 67.7h2v2h-2zM388 67.7h3v2h-3zM416 67.7h1v2h-1zM421 67.7h2v2h-2zM442 67.7h1v2h-1zM446 67.7h2v2h-2zM451 67.7h2v2h-2zM455 67.7h1v2h-1zM458 67.7h1v2h-1zM460 67.7h1v2h-1zM465 67.7h1v2h-1zM468 67.7h1v2h-1zM473 67.7h1v2h-1zM477 67.7h1v2h-1zM486 67.7h1v2h-1zM489 67.7h1v2h-1zM514 67.7h1v2h-1zM519 67.7h1v2h-1zM536 67.7h1v2h-1zM558 67.7h1v2h-1zM563 67.7h1v2h-1zM587 67.7h1v2h-1zM613 67.7h1v2h-1zM618 67.7h2v2h-2zM625 67.7h1v2h-1zM630 67.7h1v2h-1zM641 67.7h1v2h-1zM242 69.7h1v2h-1zM247 69.7h3v2h-3zM273 69.7h1v2h-1zM276 69.7h1v2h-1zM290 69.7h1v2h-1zM299 69.7h1v2h-1zM305 69.7h1v2h-1zM318 69.7h1v2h-1zM322 69.7h2v2h-2zM325 69.7h1v2h-1zM336 69.7h1v2h-1zM368 69.7h1v2h-1zM374 69.7h1v2h-1zM389 69.7h2v2h-2zM392 69.7h2v2h-2zM417 69.7h1v2h-1zM420 69.7h1v2h-1zM427 69.7h1v2h-1zM437 69.7h1v2h-1zM442 69.7h1v2h-1zM455 69.7h2v2h-2zM460 69.7h1v2h-1zM462 69.7h1v2h-1zM465 69.7h1v2h-1zM477 69.7h1v2h-1zM498 69.7h1v2h-1zM518 69.7h3v2h-3zM523 69.7h1v2h-1zM526 69.7h2v2h-2zM529 69.7h1v2h-1zM567 69.7h1v2h-1zM573 69.7h1v2h-1zM577 69.7h1v2h-1zM583 69.7h1v2h-1zM586 69.7h1v2h-1zM604 69.7h1v2h-1zM606 69.7h1v2h-1zM615 69.7h1v2h-1zM624 69.7h1v2h-1zM627 69.7h1v2h-1zM637 69.7h1v2h-1zM644 69.7h4v2h-4zM218 71.7h1v2h-1zM232 71.7h1v2h-1zM240 71.7h2v2h-2zM257 71.7h1v2h-1zM273 71.7h1v2h-1zM276 71.7h1v2h-1zM281 71.7h1v2h-1zM290 71.7h1v2h-1zM305 71.7h1v2h-1zM322 71.7h1v2h-1zM324 71.7h1v2h-1zM332 71.7h1v2h-1zM337 71.7h1v2h-1zM343 71.7h2v2h-2zM357 71.7h1v2h-1zM362 71.7h1v2h-1zM423 71.7h1v2h-1zM431 71.7h1v2h-1zM437 71.7h2v2h-2zM448 71.7h1v2h-1zM455 71.7h3v2h-3zM465 71.7h1v2h-1zM491 71.7h1v2h-1zM512 71.7h1v2h-1zM530 71.7h2v2h-2zM533 71.7h1v2h-1zM560 71.7h2v2h-2zM563 71.7h1v2h-1zM569 71.7h1v2h-1zM575 71.7h1v2h-1zM586 71.7h2v2h-2zM610 71.7h2v2h-2zM630 71.7h1v2h-1zM641 71.7h1v2h-1zM647 71.7h1v2h-1zM649 71.7h1v2h-1zM227 73.6h1v2h-1zM253 73.6h1v2h-1zM257 73.6h1v2h-1zM272 73.6h1v2h-1zM283 73.6h1v2h-1zM286 73.6h1v2h-1zM297 73.6h1v2h-1zM303 73.6h1v2h-1zM312 73.6h1v2h-1zM315 73.6h1v2h-1zM351 73.6h1v2h-1zM356 73.6h1v2h-1zM370 73.6h1v2h-1zM377 73.6h1v2h-1zM384 73.6h1v2h-1zM394 73.6h1v2h-1zM397 73.6h1v2h-1zM405 73.6h1v2h-1zM423 73.6h1v2h-1zM435 73.6h1v2h-1zM447 73.6h1v2h-1zM475 73.6h1v2h-1zM480 73.6h1v2h-1zM501 73.6h1v2h-1zM531 73.6h1v2h-1zM600 73.6h1v2h-1zM606 73.6h1v2h-1zM639 73.6h1v2h-1zM645 73.6h1v2h-1zM235 75.6h2v2h-2zM241 75.6h1v2h-1zM245 75.6h1v2h-1zM300 75.6h1v2h-1zM309 75.6h1v2h-1zM313 75.6h1v2h-1zM348 75.6h1v2h-1zM375 75.6h1v2h-1zM378 75.6h1v2h-1zM384 75.6h1v2h-1zM387 75.6h1v2h-1zM440 75.6h1v2h-1zM465 75.6h1v2h-1zM512 75.6h1v2h-1zM568 75.6h1v2h-1zM570 75.6h1v2h-1zM581 75.6h1v2h-1zM595 75.6h1v2h-1zM602 75.6h1v2h-1zM608 75.6h1v2h-1zM612 75.6h1v2h-1zM626 75.6h1v2h-1zM631 75.6h1v2h-1zM633 75.6h1v2h-1zM639 75.6h1v2h-1zM644 75.6h1v2h-1zM236 77.6h1v2h-1zM288 77.6h1v2h-1zM305 77.6h1v2h-1zM343 77.6h1v2h-1zM361 77.6h1v2h-1zM369 77.6h1v2h-1zM380 77.6h1v2h-1zM386 77.6h1v2h-1zM418 77.6h1v2h-1zM447 77.6h1v2h-1zM528 77.6h1v2h-1zM532 77.6h1v2h-1zM541 77.6h1v2h-1zM544 77.6h1v2h-1zM577 77.6h1v2h-1zM589 77.6h1v2h-1zM594 77.6h2v2h-2zM597 77.6h1v2h-1zM223 79.6h1v2h-1zM230 79.6h1v2h-1zM246 79.6h1v2h-1zM277 79.6h1v2h-1zM293 79.6h1v2h-1zM327 79.6h1v2h-1zM440 79.6h1v2h-1zM498 79.6h1v2h-1zM530 79.6h1v2h-1zM567 79.6h1v2h-1zM576 79.6h1v2h-1zM638 79.6h1v2h-1zM380 81.5h1v2h-1zM484 81.5h1v2h-1zM490 81.5h1v2h-1zM356 83.5h1v2h-1zM382 83.5h1v2h-1zM550 83.5h1v2h-1zM602 83.5h1v2h-1zM634 83.5h1v2h-1zM397 85.5h1v2h-1zM404 85.5h1v2h-1zM533 85.5h1v2h-1zM623 85.5h1v2h-1zM235 87.5h1v2h-1zM245 87.5h1v2h-1zM302 87.5h1v2h-1zM357 87.5h1v2h-1zM361 87.5h1v2h-1zM569 87.5h1v2h-1zM258 89.4h1v2h-1zM327 89.4h1v2h-1zM356 89.4h1v2h-1zM445 89.4h1v2h-1zM381 91.4h1v2h-1zM496 91.4h1v2h-1zM589 91.4h1v2h-1zM396 93.4h1v2h-1zM488 93.4h1v2h-1zM491 93.4h1v2h-1zM567 93.4h1v2h-1zM230 95.4h2v2h-2zM271 95.4h1v2h-1zM359 95.4h1v2h-1zM482 95.4h1v2h-1zM554 95.4h1v2h-1zM279 97.3h1v2h-1zM357 97.3h1v2h-1zM512 97.3h1v2h-1zM579 97.3h1v2h-1zM249 99.3h1v2h-1z"/><path fill="#69bda1" d="M504 63.7h1v2h-1zM412 67.7h1v2h-1zM413 69.7h1v2h-1zM549 69.7h1v2h-1zM549 71.7h1v2h-1zM572 71.7h1v2h-1zM269 73.6h1v2h-1zM396 73.6h1v2h-1zM401 73.6h1v2h-1zM409 73.6h1v2h-1zM426 73.6h1v2h-1zM434 73.6h1v2h-1zM471 73.6h1v2h-1zM476 73.6h1v2h-1zM506 73.6h1v2h-1zM514 73.6h1v2h-1zM526 73.6h1v2h-1zM242 75.6h1v2h-1zM247 75.6h1v2h-1zM314 75.6h1v2h-1zM460 75.6h1v2h-1zM469 75.6h1v2h-1zM472 75.6h1v2h-1zM497 75.6h1v2h-1zM505 75.6h1v2h-1zM521 75.6h1v2h-1zM524 75.6h2v2h-2zM540 75.6h1v2h-1zM550 75.6h1v2h-1zM564 75.6h1v2h-1zM249 77.6h1v2h-1zM256 77.6h1v2h-1zM273 77.6h2v2h-2zM306 77.6h1v2h-1zM355 77.6h1v2h-1zM368 77.6h1v2h-1zM388 77.6h1v2h-1zM406 77.6h1v2h-1zM410 77.6h1v2h-1zM469 77.6h1v2h-1zM511 77.6h1v2h-1zM571 77.6h1v2h-1zM248 79.6h1v2h-1zM251 79.6h1v2h-1zM269 79.6h1v2h-1zM304 79.6h1v2h-1zM339 79.6h1v2h-1zM390 79.6h1v2h-1zM409 79.6h1v2h-1zM424 79.6h1v2h-1zM427 79.6h1v2h-1zM441 79.6h1v2h-1zM485 79.6h1v2h-1zM508 79.6h1v2h-1zM521 79.6h1v2h-1zM586 79.6h1v2h-1zM623 79.6h1v2h-1zM241 81.5h1v2h-1zM247 81.5h1v2h-1zM254 81.5h1v2h-1zM297 81.5h1v2h-1zM309 81.5h1v2h-1zM313 81.5h1v2h-1zM331 81.5h1v2h-1zM403 81.5h1v2h-1zM418 81.5h1v2h-1zM469 81.5h1v2h-1zM514 81.5h1v2h-1zM521 81.5h1v2h-1zM523 81.5h1v2h-1zM547 81.5h1v2h-1zM557 81.5h1v2h-1zM567 81.5h1v2h-1zM218 83.5h1v2h-1zM224 83.5h1v2h-1zM244 83.5h1v2h-1zM292 83.5h1v2h-1zM317 83.5h1v2h-1zM346 83.5h1v2h-1zM369 83.5h1v2h-1zM426 83.5h1v2h-1zM428 83.5h2v2h-2zM539 83.5h1v2h-1zM573 83.5h1v2h-1zM220 85.5h1v2h-1zM235 85.5h1v2h-1zM254 85.5h1v2h-1zM257 85.5h1v2h-1zM339 85.5h1v2h-1zM342 85.5h1v2h-1zM378 85.5h2v2h-2zM400 85.5h1v2h-1zM402 85.5h1v2h-1zM407 85.5h1v2h-1zM417 85.5h1v2h-1zM419 85.5h1v2h-1zM498 85.5h1v2h-1zM589 85.5h1v2h-1zM603 85.5h1v2h-1zM611 85.5h1v2h-1zM632 85.5h1v2h-1zM645 85.5h1v2h-1zM226 87.5h1v2h-1zM236 87.5h1v2h-1zM284 87.5h1v2h-1zM288 87.5h1v2h-1zM297 87.5h1v2h-1zM345 87.5h1v2h-1zM359 87.5h1v2h-1zM379 87.5h1v2h-1zM424 87.5h1v2h-1zM479 87.5h1v2h-1zM562 87.5h2v2h-2zM578 87.5h1v2h-1zM612 87.5h1v2h-1zM648 87.5h1v2h-1zM219 89.4h1v2h-1zM303 89.4h1v2h-1zM407 89.4h1v2h-1zM441 89.4h1v2h-1zM480 89.4h1v2h-1zM532 89.4h1v2h-1zM598 89.4h1v2h-1zM222 91.4h1v2h-1zM250 91.4h1v2h-1zM335 91.4h1v2h-1zM359 91.4h1v2h-1zM457 91.4h1v2h-1zM575 91.4h1v2h-1zM221 93.4h1v2h-1zM241 93.4h1v2h-1zM328 93.4h1v2h-1zM333 93.4h1v2h-1zM461 93.4h1v2h-1zM480 93.4h1v2h-1zM235 95.4h1v2h-1zM246 95.4h1v2h-1zM248 95.4h1v2h-1zM297 95.4h1v2h-1zM300 95.4h1v2h-1zM356 95.4h1v2h-1zM458 95.4h1v2h-1zM510 95.4h1v2h-1zM512 95.4h1v2h-1zM543 95.4h1v2h-1zM576 95.4h1v2h-1zM232 97.3h1v2h-1zM461 97.3h1v2h-1zM465 97.3h1v2h-1zM511 97.3h1v2h-1zM218 99.3h1v2h-1zM221 99.3h1v2h-1zM243 99.3h1v2h-1zM266 99.3h1v2h-1zM273 99.3h1v2h-1zM286 99.3h1v2h-1zM294 99.3h1v2h-1zM301 99.3h1v2h-1zM304 99.3h1v2h-1zM324 99.3h1v2h-1zM326 99.3h1v2h-1zM333 99.3h1v2h-1zM337 99.3h1v2h-1zM347 99.3h1v2h-1zM354 99.3h1v2h-1zM362 99.3h1v2h-1zM366 99.3h1v2h-1zM372 99.3h1v2h-1zM383 99.3h1v2h-1zM404 99.3h1v2h-1zM415 99.3h1v2h-1zM427 99.3h1v2h-1zM440 99.3h1v2h-1zM443 99.3h1v2h-1zM445 99.3h1v2h-1zM458 99.3h1v2h-1zM460 99.3h1v2h-1zM462 99.3h1v2h-1zM470 99.3h1v2h-1zM473 99.3h1v2h-1zM495 99.3h2v2h-2zM510 99.3h2v2h-2zM534 99.3h1v2h-1zM539 99.3h1v2h-1zM548 99.3h1v2h-1zM569 99.3h1v2h-1zM572 99.3h1v2h-1zM580 99.3h1v2h-1zM632 99.3h2v2h-2zM646 99.3h1v2h-1z"/><path fill="#bde7a1" d="M412 73.6h2v2h-2zM262 75.6h1v2h-1zM414 75.6h1v2h-1zM262 77.6h1v2h-1zM345 77.6h1v2h-1zM412 77.6h1v2h-1zM443 77.6h1v2h-1zM564 77.6h1v2h-1zM572 77.6h1v2h-1zM262 79.6h1v2h-1zM267 79.6h1v2h-1zM393 79.6h1v2h-1zM557 79.6h1v2h-1zM571 79.6h2v2h-2zM226 81.5h1v2h-1zM228 81.5h2v2h-2zM232 81.5h1v2h-1zM243 81.5h1v2h-1zM245 81.5h1v2h-1zM278 81.5h1v2h-1zM285 81.5h1v2h-1zM300 81.5h1v2h-1zM319 81.5h1v2h-1zM351 81.5h1v2h-1zM388 81.5h1v2h-1zM395 81.5h1v2h-1zM426 81.5h1v2h-1zM451 81.5h1v2h-1zM483 81.5h1v2h-1zM528 81.5h1v2h-1zM542 81.5h1v2h-1zM562 81.5h1v2h-1zM573 81.5h1v2h-1zM588 81.5h1v2h-1zM597 81.5h1v2h-1zM600 81.5h1v2h-1zM240 83.5h1v2h-1zM243 83.5h1v2h-1zM263 83.5h1v2h-1zM275 83.5h1v2h-1zM278 83.5h1v2h-1zM281 83.5h1v2h-1zM321 83.5h1v2h-1zM325 83.5h1v2h-1zM379 83.5h1v2h-1zM416 83.5h1v2h-1zM420 83.5h1v2h-1zM437 83.5h1v2h-1zM453 83.5h1v2h-1zM456 83.5h2v2h-2zM461 83.5h1v2h-1zM530 83.5h1v2h-1zM558 83.5h1v2h-1zM607 83.5h1v2h-1zM613 83.5h1v2h-1zM650 83.5h1v2h-1zM228 85.5h1v2h-1zM242 85.5h1v2h-1zM251 85.5h1v2h-1zM259 85.5h1v2h-1zM267 85.5h1v2h-1zM270 85.5h1v2h-1zM273 85.5h1v2h-1zM277 85.5h1v2h-1zM347 85.5h1v2h-1zM355 85.5h1v2h-1zM392 85.5h1v2h-1zM421 85.5h1v2h-1zM458 85.5h4v2h-4zM473 85.5h1v2h-1zM503 85.5h1v2h-1zM522 85.5h1v2h-1zM546 85.5h1v2h-1zM559 85.5h1v2h-1zM562 85.5h1v2h-1zM600 85.5h1v2h-1zM610 85.5h1v2h-1zM247 87.5h1v2h-1zM337 87.5h1v2h-1zM353 87.5h1v2h-1zM372 87.5h1v2h-1zM401 87.5h1v2h-1zM404 87.5h1v2h-1zM420 87.5h1v2h-1zM464 87.5h1v2h-1zM491 87.5h1v2h-1zM502 87.5h1v2h-1zM540 87.5h1v2h-1zM542 87.5h1v2h-1zM553 87.5h1v2h-1zM586 87.5h1v2h-1zM604 87.5h1v2h-1zM613 87.5h1v2h-1zM616 87.5h1v2h-1zM625 87.5h1v2h-1zM642 87.5h1v2h-1zM647 87.5h1v2h-1zM229 89.4h1v2h-1zM266 89.4h1v2h-1zM277 89.4h1v2h-1zM282 89.4h1v2h-1zM307 89.4h1v2h-1zM312 89.4h1v2h-1zM332 89.4h1v2h-1zM405 89.4h1v2h-1zM429 89.4h1v2h-1zM471 89.4h1v2h-1zM473 89.4h1v2h-1zM516 89.4h1v2h-1zM520 89.4h1v2h-1zM537 89.4h1v2h-1zM551 89.4h1v2h-1zM582 89.4h1v2h-1zM588 89.4h1v2h-1zM623 89.4h1v2h-1zM653 89.4h1v2h-1zM237 91.4h1v2h-1zM245 91.4h1v2h-1zM276 91.4h1v2h-1zM297 91.4h1v2h-1zM313 91.4h1v2h-1zM396 91.4h1v2h-1zM445 91.4h1v2h-1zM452 91.4h1v2h-1zM478 91.4h1v2h-1zM484 91.4h1v2h-1zM583 91.4h1v2h-1zM602 91.4h2v2h-2zM638 91.4h1v2h-1zM218 93.4h1v2h-1zM220 93.4h1v2h-1zM243 93.4h1v2h-1zM277 93.4h1v2h-1zM281 93.4h1v2h-1zM287 93.4h1v2h-1zM324 93.4h1v2h-1zM352 93.4h1v2h-1zM386 93.4h1v2h-1zM443 93.4h1v2h-1zM532 93.4h1v2h-1zM565 93.4h1v2h-1zM594 93.4h1v2h-1zM609 93.4h1v2h-1zM226 95.4h1v2h-1zM237 95.4h1v2h-1zM281 95.4h1v2h-1zM285 95.4h1v2h-1zM318 95.4h1v2h-1zM320 95.4h1v2h-1zM349 95.4h1v2h-1zM353 95.4h1v2h-1zM366 95.4h1v2h-1zM411 95.4h2v2h-2zM448 95.4h1v2h-1zM455 95.4h1v2h-1zM463 95.4h1v2h-1zM498 95.4h1v2h-1zM502 95.4h1v2h-1zM602 95.4h1v2h-1zM636 95.4h2v2h-2zM645 95.4h1v2h-1zM234 97.3h1v2h-1zM309 97.3h1v2h-1zM316 97.3h1v2h-1zM321 97.3h1v2h-1zM389 97.3h1v2h-1zM392 97.3h1v2h-1zM405 97.3h1v2h-1zM428 97.3h1v2h-1zM451 97.3h1v2h-1zM463 97.3h1v2h-1zM546 97.3h1v2h-1zM599 97.3h1v2h-1zM607 97.3h1v2h-1zM614 97.3h1v2h-1zM644 97.3h1v2h-1z"/><path fill="#93cba1" d="M325 77.6h1v2h-1zM442 77.6h1v2h-1zM553 77.6h1v2h-1zM266 79.6h1v2h-1zM402 79.6h1v2h-1zM564 79.6h1v2h-1zM618 79.6h1v2h-1zM401 81.5h1v2h-1zM468 81.5h1v2h-1zM513 81.5h1v2h-1zM253 83.5h1v2h-1zM313 83.5h1v2h-1zM563 83.5h1v2h-1zM240 85.5h1v2h-1zM282 85.5h1v2h-1zM337 85.5h1v2h-1zM437 85.5h1v2h-1zM567 85.5h1v2h-1zM218 87.5h1v2h-1zM433 87.5h1v2h-1zM557 87.5h1v2h-1zM561 87.5h1v2h-1zM227 89.4h1v2h-1zM317 89.4h1v2h-1zM377 89.4h1v2h-1zM243 91.4h1v2h-1zM266 91.4h1v2h-1zM280 91.4h1v2h-1zM462 91.4h1v2h-1zM226 93.4h1v2h-1zM266 93.4h1v2h-1zM595 93.4h1v2h-1zM229 95.4h1v2h-1zM440 95.4h1v2h-1zM289 97.3h1v2h-1zM380 97.3h1v2h-1zM428 99.3h1v2h-1zM481 99.3h1v2h-1zM591 99.3h1v2h-1z"/><path fill="#93d9a1" d="M412 71.7h1v2h-1zM350 73.6h1v2h-1zM653 73.6h1v2h-1zM268 75.6h1v2h-1zM325 75.6h1v2h-1zM340 75.6h1v2h-1zM412 75.6h1v2h-1zM506 75.6h1v2h-1zM553 75.6h1v2h-1zM238 77.6h1v2h-1zM260 77.6h1v2h-1zM424 77.6h1v2h-1zM467 77.6h1v2h-1zM494 77.6h2v2h-2zM502 77.6h1v2h-1zM516 77.6h1v2h-1zM519 77.6h1v2h-1zM525 77.6h1v2h-1zM605 77.6h1v2h-1zM618 77.6h1v2h-1zM653 77.6h1v2h-1zM389 79.6h1v2h-1zM416 79.6h1v2h-1zM453 79.6h1v2h-1zM496 79.6h1v2h-1zM515 79.6h1v2h-1zM522 79.6h1v2h-1zM536 79.6h1v2h-1zM538 79.6h1v2h-1zM549 79.6h1v2h-1zM585 79.6h1v2h-1zM225 81.5h1v2h-1zM233 81.5h1v2h-1zM237 81.5h1v2h-1zM296 81.5h1v2h-1zM348 81.5h1v2h-1zM360 81.5h1v2h-1zM363 81.5h1v2h-1zM378 81.5h1v2h-1zM389 81.5h1v2h-1zM427 81.5h1v2h-1zM442 81.5h1v2h-1zM501 81.5h1v2h-1zM578 81.5h1v2h-1zM591 81.5h1v2h-1zM633 81.5h1v2h-1zM635 81.5h1v2h-1zM647 81.5h1v2h-1zM228 83.5h1v2h-1zM257 83.5h1v2h-1zM300 83.5h1v2h-1zM302 83.5h1v2h-1zM351 83.5h1v2h-1zM427 83.5h1v2h-1zM441 83.5h1v2h-1zM446 83.5h1v2h-1zM484 83.5h1v2h-1zM493 83.5h1v2h-1zM501 83.5h1v2h-1zM554 83.5h1v2h-1zM574 83.5h1v2h-1zM581 83.5h1v2h-1zM595 83.5h1v2h-1zM218 85.5h1v2h-1zM223 85.5h1v2h-1zM229 85.5h1v2h-1zM234 85.5h1v2h-1zM243 85.5h1v2h-1zM266 85.5h1v2h-1zM286 85.5h1v2h-1zM289 85.5h1v2h-1zM331 85.5h1v2h-1zM344 85.5h1v2h-1zM359 85.5h1v2h-1zM373 85.5h1v2h-1zM424 85.5h1v2h-1zM428 85.5h1v2h-1zM456 85.5h1v2h-1zM462 85.5h1v2h-1zM525 85.5h1v2h-1zM580 85.5h1v2h-1zM625 85.5h1v2h-1zM635 85.5h1v2h-1zM224 87.5h1v2h-1zM237 87.5h1v2h-1zM240 87.5h1v2h-1zM266 87.5h1v2h-1zM282 87.5h1v2h-1zM308 87.5h1v2h-1zM329 87.5h1v2h-1zM356 87.5h1v2h-1zM364 87.5h1v2h-1zM386 87.5h1v2h-1zM397 87.5h1v2h-1zM410 87.5h1v2h-1zM422 87.5h1v2h-1zM428 87.5h1v2h-1zM436 87.5h1v2h-1zM457 87.5h1v2h-1zM461 87.5h1v2h-1zM512 87.5h1v2h-1zM519 87.5h1v2h-1zM528 87.5h1v2h-1zM549 87.5h1v2h-1zM637 87.5h1v2h-1zM226 89.4h1v2h-1zM271 89.4h2v2h-2zM295 89.4h1v2h-1zM302 89.4h1v2h-1zM370 89.4h1v2h-1zM417 89.4h1v2h-1zM456 89.4h1v2h-1zM459 89.4h1v2h-1zM499 89.4h1v2h-1zM505 89.4h1v2h-1zM559 89.4h1v2h-1zM585 89.4h1v2h-1zM619 89.4h1v2h-1zM624 89.4h1v2h-1zM646 89.4h1v2h-1zM223 91.4h1v2h-1zM225 91.4h1v2h-1zM254 91.4h1v2h-1zM278 91.4h1v2h-1zM299 91.4h1v2h-1zM343 91.4h1v2h-1zM404 91.4h1v2h-1zM423 91.4h1v2h-1zM519 91.4h1v2h-1zM236 93.4h1v2h-1zM254 93.4h1v2h-1zM278 93.4h1v2h-1zM283 93.4h1v2h-1zM350 93.4h1v2h-1zM366 93.4h1v2h-1zM460 93.4h1v2h-1zM462 93.4h1v2h-1zM505 93.4h1v2h-1zM579 93.4h1v2h-1zM599 93.4h1v2h-1zM625 93.4h1v2h-1zM632 93.4h1v2h-1zM240 95.4h1v2h-1zM255 95.4h1v2h-1zM284 95.4h1v2h-1zM289 95.4h1v2h-1zM333 95.4h1v2h-1zM343 95.4h1v2h-1zM419 95.4h1v2h-1zM468 95.4h1v2h-1zM515 95.4h1v2h-1zM520 95.4h1v2h-1zM534 95.4h1v2h-1zM557 95.4h1v2h-1zM560 95.4h1v2h-1zM590 95.4h1v2h-1zM599 95.4h1v2h-1zM630 95.4h1v2h-1zM262 97.3h1v2h-1zM267 97.3h1v2h-1zM301 97.3h1v2h-1zM306 97.3h1v2h-1zM324 97.3h1v2h-1zM349 97.3h1v2h-1zM374 97.3h1v2h-1zM419 97.3h1v2h-1zM421 97.3h1v2h-1zM466 97.3h2v2h-2zM534 97.3h1v2h-1zM597 97.3h1v2h-1zM635 97.3h1v2h-1zM648 97.3h1v2h-1zM321 99.3h1v2h-1zM334 99.3h2v2h-2zM402 99.3h1v2h-1zM471 99.3h1v2h-1zM571 99.3h1v2h-1zM635 99.3h1v2h-1zM653 99.3h1v2h-1z"/><path fill="#afd9a1" d="M551 73.6h1v2h-1zM260 75.6h1v2h-1zM345 75.6h1v2h-1zM453 75.6h1v2h-1zM640 75.6h1v2h-1zM351 77.6h1v2h-1zM549 77.6h1v2h-1zM640 77.6h1v2h-1zM260 79.6h1v2h-1zM415 79.6h1v2h-1zM502 79.6h1v2h-1zM537 79.6h1v2h-1zM218 81.5h1v2h-1zM221 81.5h1v2h-1zM231 81.5h1v2h-1zM239 81.5h1v2h-1zM265 81.5h1v2h-1zM271 81.5h1v2h-1zM286 81.5h1v2h-1zM289 81.5h1v2h-1zM308 81.5h1v2h-1zM314 81.5h2v2h-2zM338 81.5h1v2h-1zM358 81.5h1v2h-1zM406 81.5h1v2h-1zM453 81.5h1v2h-1zM538 81.5h1v2h-1zM549 81.5h1v2h-1zM580 81.5h1v2h-1zM586 81.5h1v2h-1zM592 81.5h1v2h-1zM646 81.5h1v2h-1zM233 83.5h1v2h-1zM273 83.5h1v2h-1zM285 83.5h1v2h-1zM289 83.5h1v2h-1zM304 83.5h1v2h-1zM459 83.5h1v2h-1zM489 83.5h1v2h-1zM516 83.5h1v2h-1zM560 83.5h2v2h-2zM617 83.5h1v2h-1zM641 83.5h1v2h-1zM271 85.5h1v2h-1zM274 85.5h1v2h-1zM283 85.5h1v2h-1zM285 85.5h1v2h-1zM296 85.5h1v2h-1zM318 85.5h1v2h-1zM321 85.5h1v2h-1zM341 85.5h1v2h-1zM363 85.5h1v2h-1zM384 85.5h1v2h-1zM426 85.5h1v2h-1zM435 85.5h1v2h-1zM446 85.5h1v2h-1zM454 85.5h1v2h-1zM467 85.5h1v2h-1zM544 85.5h1v2h-1zM563 85.5h1v2h-1zM620 85.5h1v2h-1zM637 85.5h1v2h-1zM651 85.5h1v2h-1zM233 87.5h1v2h-1zM259 87.5h1v2h-1zM270 87.5h2v2h-2zM289 87.5h1v2h-1zM306 87.5h1v2h-1zM321 87.5h1v2h-1zM333 87.5h1v2h-1zM336 87.5h1v2h-1zM338 87.5h1v2h-1zM381 87.5h1v2h-1zM383 87.5h1v2h-1zM395 87.5h1v2h-1zM458 87.5h1v2h-1zM484 87.5h1v2h-1zM501 87.5h1v2h-1zM503 87.5h1v2h-1zM580 87.5h1v2h-1zM281 89.4h1v2h-1zM285 89.4h1v2h-1zM298 89.4h2v2h-2zM304 89.4h1v2h-1zM395 89.4h1v2h-1zM400 89.4h1v2h-1zM425 89.4h1v2h-1zM541 89.4h1v2h-1zM586 89.4h1v2h-1zM589 89.4h1v2h-1zM601 89.4h1v2h-1zM267 91.4h1v2h-1zM286 91.4h2v2h-2zM316 91.4h1v2h-1zM348 91.4h1v2h-1zM350 91.4h1v2h-1zM419 91.4h1v2h-1zM436 91.4h1v2h-1zM461 91.4h1v2h-1zM485 91.4h1v2h-1zM541 91.4h1v2h-1zM586 91.4h2v2h-2zM632 91.4h1v2h-1zM652 91.4h1v2h-1zM229 93.4h1v2h-1zM272 93.4h1v2h-1zM275 93.4h1v2h-1zM377 93.4h1v2h-1zM455 93.4h1v2h-1zM509 93.4h1v2h-1zM577 93.4h1v2h-1zM586 93.4h1v2h-1zM588 93.4h1v2h-1zM590 93.4h1v2h-1zM602 93.4h1v2h-1zM617 93.4h1v2h-1zM647 93.4h1v2h-1zM261 95.4h1v2h-1zM283 95.4h1v2h-1zM291 95.4h1v2h-1zM410 95.4h1v2h-1zM456 95.4h1v2h-1zM481 95.4h1v2h-1zM565 95.4h1v2h-1zM609 95.4h1v2h-1zM626 95.4h1v2h-1zM276 97.3h1v2h-1zM281 97.3h1v2h-1zM283 97.3h1v2h-1zM422 97.3h1v2h-1zM425 97.3h1v2h-1zM522 97.3h1v2h-1zM620 97.3h1v2h-1zM625 97.3h1v2h-1zM630 97.3h1v2h-1zM235 99.3h1v2h-1zM260 99.3h1v2h-1z"/><path fill="#4da1af" d="M504 59.8h1v2h-1zM414 61.8h1v2h-1zM412 63.7h1v2h-1zM340 65.7h1v2h-1zM413 65.7h1v2h-1zM621 65.7h1v2h-1zM409 67.7h1v2h-1zM415 67.7h1v2h-1zM443 67.7h1v2h-1zM483 67.7h1v2h-1zM552 67.7h2v2h-2zM621 67.7h1v2h-1zM329 69.7h1v2h-1zM419 69.7h1v2h-1zM503 69.7h1v2h-1zM551 69.7h1v2h-1zM653 69.7h1v2h-1zM251 71.7h1v2h-1zM260 71.7h1v2h-1zM264 71.7h1v2h-1zM267 71.7h1v2h-1zM329 71.7h1v2h-1zM419 71.7h1v2h-1zM424 71.7h1v2h-1zM443 71.7h1v2h-1zM445 71.7h1v2h-1zM470 71.7h2v2h-2zM496 71.7h1v2h-1zM503 71.7h1v2h-1zM505 71.7h1v2h-1zM510 71.7h1v2h-1zM537 71.7h1v2h-1zM550 71.7h1v2h-1zM571 71.7h1v2h-1zM640 71.7h1v2h-1zM260 73.6h1v2h-1zM305 73.6h1v2h-1zM309 73.6h1v2h-1zM337 73.6h1v2h-1zM381 73.6h1v2h-1zM387 73.6h1v2h-1zM407 73.6h1v2h-1zM410 73.6h1v2h-1zM437 73.6h1v2h-1zM450 73.6h1v2h-1zM452 73.6h1v2h-1zM467 73.6h1v2h-1zM469 73.6h1v2h-1zM478 73.6h1v2h-1zM494 73.6h1v2h-1zM515 73.6h1v2h-1zM522 73.6h1v2h-1zM535 73.6h1v2h-1zM538 73.6h1v2h-1zM552 73.6h1v2h-1zM557 73.6h1v2h-1zM635 73.6h1v2h-1zM221 75.6h1v2h-1zM226 75.6h1v2h-1zM265 75.6h1v2h-1zM277 75.6h2v2h-2zM306 75.6h1v2h-1zM320 75.6h1v2h-1zM323 75.6h1v2h-1zM338 75.6h1v2h-1zM347 75.6h1v2h-1zM368 75.6h1v2h-1zM372 75.6h1v2h-1zM379 75.6h1v2h-1zM385 75.6h1v2h-1zM401 75.6h1v2h-1zM404 75.6h1v2h-1zM449 75.6h1v2h-1zM451 75.6h1v2h-1zM459 75.6h1v2h-1zM468 75.6h1v2h-1zM481 75.6h1v2h-1zM485 75.6h1v2h-1zM522 75.6h1v2h-1zM528 75.6h1v2h-1zM549 75.6h1v2h-1zM556 75.6h1v2h-1zM558 75.6h1v2h-1zM561 75.6h1v2h-1zM571 75.6h1v2h-1zM577 75.6h1v2h-1zM584 75.6h1v2h-1zM593 75.6h1v2h-1zM597 75.6h1v2h-1zM600 75.6h1v2h-1zM605 75.6h2v2h-2zM614 75.6h1v2h-1zM617 75.6h3v2h-3zM649 75.6h1v2h-1zM275 77.6h1v2h-1zM283 77.6h1v2h-1zM301 77.6h1v2h-1zM313 77.6h1v2h-1zM322 77.6h1v2h-1zM357 77.6h1v2h-1zM370 77.6h1v2h-1zM390 77.6h1v2h-1zM397 77.6h1v2h-1zM403 77.6h1v2h-1zM416 77.6h1v2h-1zM445 77.6h1v2h-1zM453 77.6h1v2h-1zM456 77.6h2v2h-2zM513 77.6h1v2h-1zM556 77.6h1v2h-1zM560 77.6h1v2h-1zM567 77.6h1v2h-1zM600 77.6h1v2h-1zM607 77.6h1v2h-1zM635 77.6h1v2h-1zM639 77.6h1v2h-1zM647 77.6h1v2h-1zM652 77.6h1v2h-1zM218 79.6h1v2h-1zM231 79.6h1v2h-1zM240 79.6h1v2h-1zM258 79.6h1v2h-1zM272 79.6h1v2h-1zM274 79.6h1v2h-1zM283 79.6h1v2h-1zM299 79.6h1v2h-1zM301 79.6h1v2h-1zM318 79.6h1v2h-1zM325 79.6h1v2h-1zM352 79.6h1v2h-1zM355 79.6h1v2h-1zM362 79.6h2v2h-2zM383 79.6h1v2h-1zM397 79.6h1v2h-1zM406 79.6h1v2h-1zM442 79.6h1v2h-1zM446 79.6h1v2h-1zM461 79.6h1v2h-1zM463 79.6h1v2h-1zM478 79.6h1v2h-1zM507 79.6h1v2h-1zM520 79.6h1v2h-1zM526 79.6h2v2h-2zM531 79.6h1v2h-1zM534 79.6h1v2h-1zM573 79.6h3v2h-3zM587 79.6h1v2h-1zM590 79.6h1v2h-1zM617 79.6h1v2h-1zM619 79.6h1v2h-1zM642 79.6h1v2h-1zM234 81.5h1v2h-1zM244 81.5h1v2h-1zM267 81.5h1v2h-1zM279 81.5h1v2h-1zM332 81.5h1v2h-1zM356 81.5h1v2h-1zM372 81.5h1v2h-1zM377 81.5h1v2h-1zM396 81.5h1v2h-1zM419 81.5h1v2h-1zM436 81.5h1v2h-1zM491 81.5h1v2h-1zM556 81.5h1v2h-1zM566 81.5h1v2h-1zM569 81.5h1v2h-1zM613 81.5h1v2h-1zM619 81.5h1v2h-1zM624 81.5h3v2h-3zM238 83.5h1v2h-1zM254 83.5h1v2h-1zM267 83.5h1v2h-1zM276 83.5h1v2h-1zM342 83.5h1v2h-1zM360 83.5h1v2h-1zM396 83.5h1v2h-1zM447 83.5h1v2h-1zM500 83.5h1v2h-1zM649 83.5h1v2h-1zM245 85.5h1v2h-1zM307 85.5h1v2h-1zM406 85.5h1v2h-1zM448 85.5h1v2h-1zM579 85.5h1v2h-1zM583 85.5h1v2h-1zM609 85.5h1v2h-1zM234 87.5h1v2h-1zM255 87.5h1v2h-1zM296 87.5h1v2h-1zM307 87.5h1v2h-1zM360 87.5h1v2h-1zM448 87.5h1v2h-1zM462 87.5h1v2h-1zM530 87.5h1v2h-1zM554 87.5h1v2h-1zM573 87.5h1v2h-1zM576 87.5h1v2h-1zM624 87.5h1v2h-1zM632 87.5h1v2h-1zM251 89.4h1v2h-1zM254 89.4h1v2h-1zM287 89.4h1v2h-1zM333 89.4h1v2h-1zM366 89.4h1v2h-1zM394 89.4h1v2h-1zM424 89.4h1v2h-1zM462 89.4h1v2h-1zM501 89.4h1v2h-1zM548 89.4h1v2h-1zM597 89.4h1v2h-1zM277 91.4h1v2h-1zM321 91.4h1v2h-1zM360 91.4h1v2h-1zM379 91.4h1v2h-1zM399 91.4h1v2h-1zM455 91.4h1v2h-1zM576 91.4h1v2h-1zM291 93.4h1v2h-1zM298 93.4h1v2h-1zM313 93.4h1v2h-1zM329 93.4h1v2h-1zM349 93.4h1v2h-1zM459 93.4h1v2h-1zM498 93.4h1v2h-1zM501 93.4h1v2h-1zM512 93.4h1v2h-1zM561 93.4h1v2h-1zM233 95.4h1v2h-1zM243 95.4h1v2h-1zM277 95.4h1v2h-1zM430 95.4h1v2h-1zM579 95.4h1v2h-1zM589 95.4h1v2h-1zM646 95.4h1v2h-1zM223 97.3h1v2h-1zM229 97.3h1v2h-1zM294 97.3h1v2h-1zM297 97.3h1v2h-1zM381 97.3h1v2h-1zM401 97.3h1v2h-1zM408 97.3h1v2h-1zM420 97.3h1v2h-1zM476 97.3h1v2h-1zM502 97.3h1v2h-1zM533 97.3h1v2h-1zM558 97.3h1v2h-1zM570 97.3h1v2h-1zM574 97.3h1v2h-1zM585 97.3h1v2h-1zM590 97.3h1v2h-1zM600 97.3h1v2h-1zM612 97.3h1v2h-1zM220 99.3h1v2h-1zM222 99.3h1v2h-1zM225 99.3h1v2h-1zM231 99.3h1v2h-1zM246 99.3h1v2h-1zM257 99.3h2v2h-2zM265 99.3h1v2h-1zM283 99.3h1v2h-1zM292 99.3h1v2h-1zM300 99.3h1v2h-1zM306 99.3h1v2h-1zM314 99.3h2v2h-2zM329 99.3h1v2h-1zM338 99.3h1v2h-1zM345 99.3h2v2h-2zM358 99.3h2v2h-2zM365 99.3h1v2h-1zM370 99.3h1v2h-1zM381 99.3h1v2h-1zM384 99.3h1v2h-1zM387 99.3h1v2h-1zM392 99.3h1v2h-1zM399 99.3h1v2h-1zM439 99.3h1v2h-1zM447 99.3h2v2h-2zM451 99.3h1v2h-1zM455 99.3h1v2h-1zM459 99.3h1v2h-1zM465 99.3h1v2h-1zM468 99.3h1v2h-1zM475 99.3h1v2h-1zM492 99.3h1v2h-1zM503 99.3h2v2h-2zM506 99.3h2v2h-2zM512 99.3h2v2h-2zM515 99.3h1v2h-1zM522 99.3h1v2h-1zM525 99.3h1v2h-1zM528 99.3h1v2h-1zM535 99.3h1v2h-1zM543 99.3h1v2h-1zM552 99.3h1v2h-1zM568 99.3h1v2h-1zM577 99.3h2v2h-2zM584 99.3h1v2h-1zM587 99.3h1v2h-1zM595 99.3h1v2h-1zM600 99.3h1v2h-1zM631 99.3h1v2h-1zM641 99.3h1v2h-1z"/><path fill="#4dafaf" d="M414 65.7h1v2h-1zM636 67.7h1v2h-1zM262 69.7h1v2h-1zM415 69.7h1v2h-1zM443 69.7h2v2h-2zM572 69.7h1v2h-1zM636 69.7h1v2h-1zM331 71.7h1v2h-1zM495 71.7h1v2h-1zM557 71.7h1v2h-1zM653 71.7h1v2h-1zM265 73.6h1v2h-1zM268 73.6h1v2h-1zM321 73.6h1v2h-1zM389 73.6h1v2h-1zM393 73.6h1v2h-1zM445 73.6h1v2h-1zM470 73.6h1v2h-1zM567 73.6h1v2h-1zM571 73.6h1v2h-1zM605 73.6h1v2h-1zM634 73.6h1v2h-1zM641 73.6h1v2h-1zM225 75.6h1v2h-1zM243 75.6h1v2h-1zM264 75.6h1v2h-1zM289 75.6h1v2h-1zM304 75.6h1v2h-1zM336 75.6h1v2h-1zM383 75.6h1v2h-1zM424 75.6h1v2h-1zM448 75.6h1v2h-1zM471 75.6h1v2h-1zM509 75.6h1v2h-1zM536 75.6h1v2h-1zM538 75.6h1v2h-1zM562 75.6h1v2h-1zM588 75.6h1v2h-1zM594 75.6h1v2h-1zM599 75.6h1v2h-1zM623 75.6h1v2h-1zM218 77.6h1v2h-1zM239 77.6h1v2h-1zM247 77.6h1v2h-1zM253 77.6h1v2h-1zM278 77.6h1v2h-1zM284 77.6h1v2h-1zM341 77.6h1v2h-1zM367 77.6h1v2h-1zM395 77.6h1v2h-1zM421 77.6h1v2h-1zM423 77.6h1v2h-1zM425 77.6h1v2h-1zM465 77.6h1v2h-1zM482 77.6h1v2h-1zM489 77.6h1v2h-1zM514 77.6h1v2h-1zM527 77.6h1v2h-1zM535 77.6h2v2h-2zM573 77.6h2v2h-2zM580 77.6h1v2h-1zM587 77.6h1v2h-1zM617 77.6h1v2h-1zM633 77.6h1v2h-1zM637 77.6h1v2h-1zM648 77.6h1v2h-1zM238 79.6h1v2h-1zM243 79.6h1v2h-1zM250 79.6h1v2h-1zM253 79.6h1v2h-1zM261 79.6h1v2h-1zM276 79.6h1v2h-1zM336 79.6h1v2h-1zM346 79.6h1v2h-1zM376 79.6h1v2h-1zM421 79.6h1v2h-1zM423 79.6h1v2h-1zM438 79.6h1v2h-1zM449 79.6h1v2h-1zM456 79.6h1v2h-1zM481 79.6h1v2h-1zM514 79.6h1v2h-1zM606 79.6h1v2h-1zM614 79.6h1v2h-1zM645 79.6h1v2h-1zM647 79.6h1v2h-1zM652 79.6h1v2h-1zM222 81.5h1v2h-1zM326 81.5h1v2h-1zM417 81.5h1v2h-1zM533 81.5h1v2h-1zM598 81.5h1v2h-1zM236 83.5h1v2h-1zM298 83.5h1v2h-1zM309 83.5h1v2h-1zM365 83.5h1v2h-1zM435 83.5h1v2h-1zM469 83.5h1v2h-1zM518 83.5h1v2h-1zM555 83.5h1v2h-1zM570 83.5h1v2h-1zM608 83.5h1v2h-1zM625 83.5h1v2h-1zM256 85.5h1v2h-1zM445 85.5h1v2h-1zM633 85.5h1v2h-1zM430 87.5h1v2h-1zM487 87.5h1v2h-1zM592 87.5h1v2h-1zM607 87.5h1v2h-1zM275 89.4h1v2h-1zM562 89.4h1v2h-1zM603 89.4h1v2h-1zM258 91.4h1v2h-1zM527 91.4h1v2h-1zM556 91.4h1v2h-1zM596 91.4h1v2h-1zM633 91.4h1v2h-1zM650 91.4h1v2h-1zM326 93.4h1v2h-1zM395 93.4h1v2h-1zM406 93.4h1v2h-1zM530 93.4h1v2h-1zM541 93.4h1v2h-1zM543 93.4h1v2h-1zM545 93.4h1v2h-1zM550 93.4h1v2h-1zM219 95.4h1v2h-1zM251 95.4h1v2h-1zM303 95.4h1v2h-1zM340 95.4h1v2h-1zM444 95.4h1v2h-1zM485 95.4h1v2h-1zM562 95.4h1v2h-1zM593 95.4h1v2h-1zM603 95.4h1v2h-1zM625 95.4h1v2h-1zM307 97.3h1v2h-1zM333 97.3h1v2h-1zM449 97.3h1v2h-1zM459 97.3h1v2h-1zM471 97.3h1v2h-1zM500 97.3h1v2h-1zM530 97.3h1v2h-1zM582 97.3h1v2h-1zM224 99.3h1v2h-1zM233 99.3h1v2h-1zM245 99.3h1v2h-1zM268 99.3h1v2h-1zM285 99.3h1v2h-1zM290 99.3h1v2h-1zM298 99.3h1v2h-1zM302 99.3h1v2h-1zM308 99.3h1v2h-1zM322 99.3h1v2h-1zM349 99.3h1v2h-1zM377 99.3h1v2h-1zM385 99.3h1v2h-1zM388 99.3h1v2h-1zM407 99.3h2v2h-2zM446 99.3h1v2h-1zM456 99.3h1v2h-1zM482 99.3h1v2h-1zM501 99.3h2v2h-2zM545 99.3h1v2h-1zM551 99.3h1v2h-1zM554 99.3h1v2h-1zM562 99.3h1v2h-1zM564 99.3h1v2h-1zM581 99.3h1v2h-1zM596 99.3h1v2h-1zM615 99.3h1v2h-1zM622 99.3h1v2h-1zM640 99.3h1v2h-1z"/><path fill="#3fa1af" d="M504 57.8h1v2h-1zM412 61.8h1v2h-1zM444 65.7h1v2h-1zM549 65.7h1v2h-1zM408 69.7h1v2h-1zM472 69.7h1v2h-1zM621 69.7h1v2h-1zM425 71.7h1v2h-1zM472 71.7h1v2h-1zM316 73.6h1v2h-1zM341 73.6h1v2h-1zM372 73.6h1v2h-1zM444 73.6h1v2h-1zM491 73.6h1v2h-1zM547 73.6h1v2h-1zM550 73.6h1v2h-1zM565 73.6h1v2h-1zM583 73.6h1v2h-1zM218 75.6h1v2h-1zM230 75.6h1v2h-1zM272 75.6h1v2h-1zM275 75.6h1v2h-1zM319 75.6h1v2h-1zM362 75.6h1v2h-1zM403 75.6h1v2h-1zM411 75.6h1v2h-1zM479 75.6h1v2h-1zM482 75.6h1v2h-1zM502 75.6h1v2h-1zM535 75.6h1v2h-1zM576 75.6h1v2h-1zM628 75.6h1v2h-1zM226 77.6h1v2h-1zM320 77.6h1v2h-1zM448 77.6h1v2h-1zM458 77.6h1v2h-1zM461 77.6h2v2h-2zM476 77.6h1v2h-1zM507 77.6h1v2h-1zM512 77.6h1v2h-1zM520 77.6h1v2h-1zM625 77.6h1v2h-1zM273 79.6h1v2h-1zM284 79.6h1v2h-1zM323 79.6h1v2h-1zM360 79.6h1v2h-1zM367 79.6h1v2h-1zM411 79.6h1v2h-1zM433 79.6h1v2h-1zM462 79.6h1v2h-1zM468 79.6h1v2h-1zM519 79.6h1v2h-1zM547 79.6h1v2h-1zM559 79.6h1v2h-1zM583 79.6h1v2h-1zM633 79.6h1v2h-1zM354 81.5h1v2h-1zM485 81.5h1v2h-1zM611 81.5h1v2h-1zM637 81.5h1v2h-1zM237 83.5h1v2h-1zM280 83.5h1v2h-1zM330 83.5h1v2h-1zM349 83.5h1v2h-1zM377 83.5h1v2h-1zM492 83.5h1v2h-1zM543 83.5h1v2h-1zM616 83.5h1v2h-1zM219 85.5h1v2h-1zM222 85.5h1v2h-1zM438 85.5h2v2h-2zM500 85.5h1v2h-1zM614 85.5h1v2h-1zM628 85.5h1v2h-1zM223 87.5h1v2h-1zM230 87.5h1v2h-1zM294 87.5h1v2h-1zM377 87.5h1v2h-1zM567 87.5h1v2h-1zM583 87.5h1v2h-1zM587 87.5h1v2h-1zM292 89.4h1v2h-1zM402 89.4h1v2h-1zM587 89.4h1v2h-1zM591 89.4h1v2h-1zM231 91.4h1v2h-1zM307 91.4h1v2h-1zM422 91.4h1v2h-1zM295 93.4h1v2h-1zM356 93.4h1v2h-1zM615 93.4h1v2h-1zM323 95.4h1v2h-1zM325 95.4h1v2h-1zM402 95.4h1v2h-1zM483 95.4h1v2h-1zM531 95.4h1v2h-1zM243 97.3h1v2h-1zM250 97.3h1v2h-1zM300 97.3h1v2h-1zM397 97.3h1v2h-1zM515 97.3h2v2h-2zM521 97.3h1v2h-1zM542 97.3h1v2h-1zM595 97.3h1v2h-1zM611 97.3h1v2h-1zM228 99.3h1v2h-1zM237 99.3h1v2h-1zM278 99.3h1v2h-1zM310 99.3h1v2h-1zM342 99.3h1v2h-1zM348 99.3h1v2h-1zM398 99.3h1v2h-1zM416 99.3h1v2h-1zM423 99.3h1v2h-1zM431 99.3h1v2h-1zM461 99.3h1v2h-1zM529 99.3h1v2h-1zM558 99.3h1v2h-1zM567 99.3h1v2h-1zM593 99.3h1v2h-1zM602 99.3h1v2h-1zM647 99.3h1v2h-1zM649 99.3h1v2h-1z"/><path fill="#3fa1bd" d="M262 67.7h1v2h-1zM350 67.7h1v2h-1zM363 73.6h1v2h-1zM398 73.6h1v2h-1zM556 73.6h1v2h-1zM610 73.6h1v2h-1zM254 75.6h1v2h-1zM419 75.6h1v2h-1zM513 75.6h1v2h-1zM342 77.6h1v2h-1zM285 79.6h1v2h-1zM328 79.6h1v2h-1zM511 81.5h1v2h-1zM534 87.5h1v2h-1zM288 89.4h1v2h-1zM643 91.4h1v2h-1zM607 93.4h1v2h-1zM220 95.4h1v2h-1zM432 99.3h1v2h-1zM618 99.3h1v2h-1zM642 99.3h1v2h-1z"/><path fill="#3193bd" d="M504 55.8h1v2h-1zM516 59.8h1v2h-1zM444 63.7h1v2h-1zM571 63.7h1v2h-1zM636 63.7h1v2h-1zM350 65.7h1v2h-1zM551 65.7h1v2h-1zM640 65.7h1v2h-1zM345 67.7h1v2h-1zM509 67.7h1v2h-1zM551 67.7h1v2h-1zM584 67.7h1v2h-1zM259 69.7h1v2h-1zM402 69.7h1v2h-1zM470 69.7h1v2h-1zM494 69.7h1v2h-1zM614 69.7h1v2h-1zM629 69.7h1v2h-1zM634 69.7h1v2h-1zM319 71.7h2v2h-2zM378 71.7h1v2h-1zM393 71.7h1v2h-1zM416 71.7h1v2h-1zM420 71.7h1v2h-1zM525 71.7h1v2h-1zM584 71.7h1v2h-1zM266 73.6h1v2h-1zM314 73.6h1v2h-1zM322 73.6h1v2h-1zM492 73.6h1v2h-1zM498 73.6h1v2h-1zM507 73.6h1v2h-1zM521 73.6h1v2h-1zM525 73.6h1v2h-1zM549 73.6h1v2h-1zM559 73.6h1v2h-1zM625 73.6h1v2h-1zM237 75.6h1v2h-1zM258 75.6h2v2h-2zM274 75.6h1v2h-1zM297 75.6h1v2h-1zM360 75.6h1v2h-1zM410 75.6h1v2h-1zM432 75.6h1v2h-1zM455 75.6h1v2h-1zM462 75.6h1v2h-1zM559 75.6h1v2h-1zM252 77.6h1v2h-1zM261 77.6h1v2h-1zM277 77.6h1v2h-1zM326 77.6h1v2h-1zM339 77.6h1v2h-1zM396 77.6h1v2h-1zM582 77.6h2v2h-2zM646 77.6h1v2h-1zM282 79.6h1v2h-1zM291 79.6h1v2h-1zM358 79.6h1v2h-1zM403 79.6h1v2h-1zM528 79.6h1v2h-1zM259 81.5h1v2h-1zM305 81.5h1v2h-1zM373 81.5h1v2h-1zM510 81.5h1v2h-1zM440 83.5h1v2h-1zM520 83.5h1v2h-1zM598 83.5h1v2h-1zM323 85.5h1v2h-1zM381 85.5h1v2h-1zM478 85.5h1v2h-1zM652 85.5h1v2h-1zM548 87.5h1v2h-1zM223 89.4h1v2h-1zM354 89.4h1v2h-1zM392 89.4h1v2h-1zM402 91.4h1v2h-1zM387 93.4h1v2h-1zM613 93.4h1v2h-1zM245 95.4h1v2h-1zM252 97.3h1v2h-1zM581 97.3h1v2h-1zM589 97.3h1v2h-1zM240 99.3h1v2h-1zM296 99.3h1v2h-1zM401 99.3h1v2h-1zM494 99.3h1v2h-1zM519 99.3h1v2h-1zM532 99.3h1v2h-1zM546 99.3h1v2h-1zM637 99.3h1v2h-1z"/><path fill="#ffe7a1" d="M502 81.5h1v2h-1zM572 83.5h1v2h-1zM263 85.5h1v2h-1zM601 85.5h1v2h-1zM636 85.5h1v2h-1zM264 87.5h1v2h-1zM315 87.5h1v2h-1zM413 87.5h1v2h-1zM416 87.5h1v2h-1zM639 87.5h1v2h-1zM306 89.4h1v2h-1zM325 89.4h1v2h-1zM353 89.4h1v2h-1zM437 89.4h1v2h-1zM503 89.4h1v2h-1zM560 89.4h1v2h-1zM635 89.4h1v2h-1zM282 91.4h1v2h-1zM408 91.4h1v2h-1zM450 91.4h1v2h-1zM469 91.4h1v2h-1zM542 91.4h1v2h-1zM554 91.4h1v2h-1zM618 91.4h1v2h-1zM448 93.4h1v2h-1zM453 93.4h1v2h-1zM467 93.4h1v2h-1zM479 93.4h1v2h-1zM490 93.4h1v2h-1zM523 93.4h1v2h-1zM553 93.4h1v2h-1zM605 93.4h1v2h-1zM640 93.4h1v2h-1zM227 95.4h1v2h-1zM367 95.4h1v2h-1zM369 95.4h1v2h-1zM391 95.4h1v2h-1zM426 95.4h1v2h-1zM437 95.4h1v2h-1zM524 95.4h1v2h-1zM639 95.4h1v2h-1zM447 97.3h1v2h-1zM551 97.3h1v2h-1zM608 97.3h1v2h-1z"/><path fill="#afe7a1" d="M470 75.6h1v2h-1zM529 75.6h1v2h-1zM391 77.6h1v2h-1zM414 79.6h1v2h-1zM470 79.6h1v2h-1zM516 79.6h1v2h-1zM311 81.5h1v2h-1zM321 81.5h1v2h-1zM515 81.5h1v2h-1zM531 81.5h1v2h-1zM537 81.5h1v2h-1zM559 81.5h2v2h-2zM577 81.5h1v2h-1zM232 83.5h1v2h-1zM353 83.5h1v2h-1zM358 83.5h1v2h-1zM370 83.5h1v2h-1zM374 83.5h1v2h-1zM414 83.5h1v2h-1zM474 83.5h1v2h-1zM567 83.5h1v2h-1zM587 83.5h1v2h-1zM592 83.5h1v2h-1zM597 83.5h1v2h-1zM615 83.5h1v2h-1zM621 83.5h1v2h-1zM369 85.5h1v2h-1zM507 85.5h1v2h-1zM650 85.5h1v2h-1zM305 87.5h1v2h-1zM370 87.5h1v2h-1zM456 87.5h1v2h-1zM513 87.5h1v2h-1zM571 87.5h1v2h-1zM608 87.5h1v2h-1zM234 89.4h1v2h-1zM389 89.4h1v2h-1zM529 89.4h1v2h-1zM573 89.4h1v2h-1zM599 89.4h1v2h-1zM242 91.4h1v2h-1zM268 91.4h1v2h-1zM560 91.4h1v2h-1zM646 91.4h1v2h-1zM284 93.4h1v2h-1zM306 93.4h1v2h-1zM587 93.4h1v2h-1zM608 93.4h1v2h-1zM465 95.4h1v2h-1zM518 95.4h1v2h-1zM552 95.4h1v2h-1zM647 95.4h1v2h-1zM314 97.3h1v2h-1zM347 97.3h1v2h-1zM527 97.3h1v2h-1zM605 97.3h1v2h-1zM617 97.3h1v2h-1z"/><path fill="#f5ffaf" d="M249 81.5h1v2h-1zM409 81.5h1v2h-1zM464 81.5h1v2h-1zM525 81.5h1v2h-1zM575 81.5h1v2h-1zM412 83.5h1v2h-1zM444 83.5h1v2h-1zM514 83.5h1v2h-1zM571 83.5h1v2h-1zM268 85.5h1v2h-1zM457 85.5h1v2h-1zM471 85.5h1v2h-1zM495 85.5h1v2h-1zM506 85.5h1v2h-1zM323 87.5h1v2h-1zM468 87.5h1v2h-1zM618 87.5h1v2h-1zM513 89.4h1v2h-1zM557 89.4h1v2h-1zM605 89.4h1v2h-1zM353 91.4h1v2h-1zM391 91.4h1v2h-1zM524 91.4h1v2h-1zM529 91.4h1v2h-1zM563 91.4h1v2h-1zM610 91.4h1v2h-1zM438 93.4h1v2h-1zM444 93.4h1v2h-1zM489 93.4h1v2h-1zM518 93.4h1v2h-1zM603 93.4h1v2h-1zM644 93.4h1v2h-1zM652 93.4h1v2h-1zM330 95.4h1v2h-1zM341 95.4h1v2h-1zM405 95.4h1v2h-1zM556 95.4h1v2h-1zM233 97.3h1v2h-1zM433 97.3h1v2h-1zM491 97.3h1v2h-1zM538 97.3h1v2h-1zM645 97.3h2v2h-2z"/><path fill="#ffe793" d="M504 77.6h1v2h-1zM367 81.5h1v2h-1zM470 83.5h1v2h-1zM538 83.5h1v2h-1zM635 83.5h1v2h-1zM260 85.5h1v2h-1zM371 85.5h1v2h-1zM412 85.5h1v2h-1zM415 85.5h1v2h-1zM497 85.5h1v2h-1zM263 87.5h1v2h-1zM341 87.5h1v2h-1zM351 87.5h1v2h-1zM369 87.5h1v2h-1zM434 87.5h1v2h-1zM444 87.5h1v2h-1zM451 87.5h1v2h-1zM504 87.5h1v2h-1zM506 87.5h1v2h-1zM552 87.5h1v2h-1zM556 87.5h1v2h-1zM564 87.5h1v2h-1zM265 89.4h1v2h-1zM270 89.4h1v2h-1zM305 89.4h1v2h-1zM320 89.4h1v2h-1zM336 89.4h1v2h-1zM419 89.4h1v2h-1zM451 89.4h1v2h-1zM464 89.4h1v2h-1zM479 89.4h1v2h-1zM583 89.4h1v2h-1zM318 91.4h1v2h-1zM342 91.4h1v2h-1zM368 91.4h1v2h-1zM371 91.4h1v2h-1zM389 91.4h2v2h-2zM438 91.4h2v2h-2zM451 91.4h1v2h-1zM472 91.4h1v2h-1zM566 91.4h1v2h-1zM601 91.4h1v2h-1zM623 91.4h1v2h-1zM653 91.4h1v2h-1zM265 93.4h1v2h-1zM393 93.4h1v2h-1zM405 93.4h1v2h-1zM410 93.4h1v2h-1zM415 93.4h1v2h-1zM450 93.4h1v2h-1zM483 93.4h1v2h-1zM619 93.4h1v2h-1zM631 93.4h1v2h-1zM650 93.4h1v2h-1zM238 95.4h1v2h-1zM250 95.4h1v2h-1zM319 95.4h1v2h-1zM345 95.4h1v2h-1zM393 95.4h1v2h-1zM429 95.4h1v2h-1zM487 95.4h1v2h-1zM493 95.4h1v2h-1zM504 95.4h1v2h-1zM526 95.4h1v2h-1zM537 95.4h2v2h-2zM574 95.4h1v2h-1zM613 95.4h1v2h-1zM248 97.3h1v2h-1zM260 97.3h1v2h-1zM305 97.3h1v2h-1zM371 97.3h1v2h-1zM442 97.3h1v2h-1zM472 97.3h1v2h-1zM507 97.3h1v2h-1zM524 97.3h1v2h-1zM540 97.3h1v2h-1zM543 97.3h2v2h-2z"/><path fill="#ffcb85" d="M238 89.4h1v2h-1z"/><path fill="#fff5a1" d="M415 83.5h1v2h-1zM497 83.5h1v2h-1zM340 85.5h1v2h-1zM470 85.5h1v2h-1zM564 85.5h1v2h-1zM523 87.5h1v2h-1zM253 89.4h1v2h-1zM269 89.4h1v2h-1zM492 89.4h1v2h-1zM556 89.4h1v2h-1zM618 89.4h1v2h-1zM631 89.4h1v2h-1zM645 89.4h1v2h-1zM367 91.4h1v2h-1zM413 91.4h1v2h-1zM460 91.4h1v2h-1zM522 91.4h1v2h-1zM625 91.4h1v2h-1zM249 93.4h1v2h-1zM274 93.4h1v2h-1zM321 93.4h1v2h-1zM400 93.4h1v2h-1zM451 93.4h1v2h-1zM468 93.4h1v2h-1zM643 93.4h1v2h-1zM242 95.4h1v2h-1zM254 95.4h1v2h-1zM269 95.4h1v2h-1zM617 95.4h1v2h-1zM383 97.3h1v2h-1zM411 97.3h1v2h-1zM435 97.3h1v2h-1zM586 97.3h1v2h-1zM643 97.3h1v2h-1z"/><path fill="#d9e7a1" d="M621 75.6h1v2h-1zM414 77.6h1v2h-1zM495 79.6h1v2h-1zM455 81.5h1v2h-1zM571 81.5h1v2h-1zM636 81.5h1v2h-1zM347 83.5h1v2h-1zM449 83.5h1v2h-1zM292 85.5h1v2h-1zM351 85.5h1v2h-1zM560 85.5h1v2h-1zM411 87.5h1v2h-1zM247 89.4h1v2h-1zM447 89.4h1v2h-1zM303 91.4h1v2h-1zM430 91.4h1v2h-1zM483 91.4h1v2h-1zM609 91.4h1v2h-1zM318 93.4h1v2h-1zM544 93.4h1v2h-1zM610 93.4h1v2h-1zM651 93.4h1v2h-1zM391 97.3h1v2h-1zM537 97.3h1v2h-1z"/><path fill="#ffbd77" d="M442 89.4h2v2h-2zM426 91.4h1v2h-1zM473 91.4h1v2h-1zM640 91.4h1v2h-1zM423 93.4h1v2h-1zM439 93.4h1v2h-1zM492 93.4h1v2h-1zM390 95.4h1v2h-1zM249 97.3h1v2h-1zM369 97.3h1v2h-1zM469 97.3h1v2h-1z"/><path fill="#f5693f" d="M265 91.4h1v2h-1zM481 91.4h1v2h-1zM513 93.4h1v2h-1zM642 93.4h1v2h-1zM249 95.4h1v2h-1zM420 95.4h1v2h-1zM497 95.4h1v2h-1zM637 97.3h1v2h-1zM640 97.3h1v2h-1z"/><path fill="#ffd985" d="M497 81.5h1v2h-1zM504 81.5h1v2h-1zM636 83.5h1v2h-1zM483 85.5h1v2h-1zM249 87.5h1v2h-1zM253 87.5h1v2h-1zM340 87.5h1v2h-1zM388 87.5h1v2h-1zM454 87.5h1v2h-1zM497 87.5h1v2h-1zM640 87.5h1v2h-1zM341 89.4h1v2h-1zM350 89.4h1v2h-1zM439 89.4h1v2h-1zM504 89.4h1v2h-1zM521 89.4h1v2h-1zM535 89.4h1v2h-1zM640 89.4h1v2h-1zM642 89.4h1v2h-1zM249 91.4h1v2h-1zM270 91.4h1v2h-1zM315 91.4h1v2h-1zM509 91.4h1v2h-1zM362 93.4h2v2h-2zM372 93.4h1v2h-1zM416 93.4h1v2h-1zM420 93.4h1v2h-1zM422 93.4h1v2h-1zM494 93.4h1v2h-1zM636 93.4h1v2h-1zM264 95.4h1v2h-1zM454 95.4h1v2h-1zM513 95.4h1v2h-1zM519 95.4h1v2h-1zM566 95.4h1v2h-1zM635 95.4h1v2h-1zM644 95.4h1v2h-1zM481 97.3h1v2h-1zM483 97.3h1v2h-1zM535 97.3h1v2h-1zM564 97.3h1v2h-1zM641 97.3h1v2h-1zM649 97.3h1v2h-1zM651 97.3h1v2h-1z"/><path fill="#ffa15b" d="M265 85.5h1v2h-1zM249 89.4h1v2h-1zM386 97.3h1v2h-1z"/><path fill="#e75b4d" d="M497 89.4h1v2h-1zM252 91.4h1v2h-1zM336 91.4h1v2h-1zM384 95.4h1v2h-1zM451 95.4h1v2h-1zM469 95.4h1v2h-1zM495 95.4h1v2h-1zM506 95.4h1v2h-1zM470 97.3h1v2h-1z"/><path fill="#f5a15b" d="M385 89.4h1v2h-1zM390 89.4h1v2h-1zM489 89.4h1v2h-1zM437 91.4h1v2h-1zM468 91.4h1v2h-1zM535 91.4h1v2h-1zM572 91.4h1v2h-1zM261 93.4h1v2h-1zM353 93.4h1v2h-1zM556 93.4h1v2h-1zM416 95.4h1v2h-1zM618 95.4h1v2h-1zM385 97.3h1v2h-1zM486 97.3h1v2h-1zM604 97.3h1v2h-1z"/><path fill="#ffbd69" d="M640 85.5h1v2h-1zM470 87.5h1v2h-1zM261 89.4h1v2h-1zM386 89.4h1v2h-1zM514 89.4h1v2h-1zM565 89.4h1v2h-1zM324 91.4h1v2h-1zM393 91.4h1v2h-1zM409 91.4h1v2h-1zM424 91.4h1v2h-1zM470 91.4h1v2h-1zM651 91.4h1v2h-1zM323 93.4h1v2h-1zM352 95.4h1v2h-1zM363 95.4h1v2h-1zM453 95.4h1v2h-1zM508 95.4h1v2h-1zM551 95.4h1v2h-1zM621 95.4h1v2h-1zM640 95.4h1v2h-1zM372 97.3h1v2h-1zM384 97.3h1v2h-1zM402 97.3h1v2h-1z"/><path fill="#fff5bd" d="M470 81.5h1v2h-1zM640 83.5h1v2h-1zM416 85.5h1v2h-1zM504 85.5h1v2h-1zM261 87.5h1v2h-1zM349 87.5h1v2h-1zM471 87.5h1v2h-1zM566 87.5h1v2h-1zM641 87.5h1v2h-1zM318 89.4h1v2h-1zM577 89.4h1v2h-1zM644 89.4h1v2h-1zM387 91.4h1v2h-1zM553 91.4h1v2h-1zM368 93.4h1v2h-1zM529 93.4h1v2h-1zM551 93.4h1v2h-1zM572 93.4h1v2h-1zM326 95.4h1v2h-1zM370 95.4h1v2h-1zM650 95.4h1v2h-1zM409 97.3h1v2h-1zM575 97.3h1v2h-1z"/><path fill="#f5774d" d="M336 93.4h1v2h-1zM409 93.4h1v2h-1zM262 95.4h1v2h-1zM265 95.4h1v2h-1zM350 95.4h1v2h-1zM385 95.4h1v2h-1zM509 95.4h1v2h-1zM479 97.3h1v2h-1z"/><path fill="#f5935b" d="M315 89.4h1v2h-1zM388 89.4h1v2h-1zM408 89.4h1v2h-1zM444 89.4h1v2h-1zM390 93.4h1v2h-1zM653 93.4h1v2h-1zM263 97.3h1v2h-1zM506 97.3h1v2h-1z"/><path fill="#cb3f4d" d="M371 89.4h1v2h-1zM536 89.4h1v2h-1zM263 95.4h1v2h-1z"/><path fill="#f5854d" d="M351 89.4h1v2h-1zM620 89.4h1v2h-1zM263 91.4h1v2h-1zM551 91.4h1v2h-1zM341 93.4h1v2h-1zM426 93.4h1v2h-1zM446 93.4h1v2h-1zM339 95.4h1v2h-1zM336 97.3h1v2h-1zM364 97.3h1v2h-1zM367 97.3h1v2h-1z"/><path fill="#ffe785" d="M485 87.5h1v2h-1zM264 91.4h1v2h-1zM453 91.4h1v2h-1zM368 97.3h1v2h-1z"/><path fill="#f5934d" d="M409 89.4h1v2h-1zM433 89.4h1v2h-1zM265 97.3h1v2h-1z"/><path fill="#f5f5a1" d="M301 81.5h1v2h-1zM454 81.5h1v2h-1zM290 83.5h1v2h-1zM355 83.5h1v2h-1zM371 83.5h1v2h-1zM391 83.5h1v2h-1zM536 83.5h1v2h-1zM549 83.5h1v2h-1zM553 83.5h1v2h-1zM577 83.5h1v2h-1zM647 83.5h1v2h-1zM322 85.5h1v2h-1zM484 85.5h1v2h-1zM604 85.5h1v2h-1zM606 85.5h1v2h-1zM358 87.5h1v2h-1zM368 87.5h1v2h-1zM371 87.5h1v2h-1zM412 87.5h1v2h-1zM521 87.5h1v2h-1zM539 87.5h1v2h-1zM559 87.5h1v2h-1zM584 87.5h1v2h-1zM605 87.5h1v2h-1zM396 89.4h1v2h-1zM493 89.4h1v2h-1zM647 89.4h1v2h-1zM290 91.4h1v2h-1zM362 91.4h1v2h-1zM382 91.4h1v2h-1zM634 91.4h1v2h-1zM271 93.4h1v2h-1zM286 93.4h1v2h-1zM369 93.4h1v2h-1zM384 93.4h1v2h-1zM452 93.4h1v2h-1zM477 93.4h1v2h-1zM516 93.4h1v2h-1zM539 93.4h1v2h-1zM624 93.4h1v2h-1zM351 95.4h1v2h-1zM445 95.4h1v2h-1zM464 95.4h1v2h-1zM555 95.4h1v2h-1zM564 95.4h1v2h-1zM649 95.4h1v2h-1zM647 97.3h1v2h-1z"/><path fill="#ffaf69" d="M538 87.5h1v2h-1zM434 89.4h1v2h-1zM428 91.4h1v2h-1zM471 91.4h1v2h-1zM492 91.4h1v2h-1zM504 91.4h1v2h-1zM371 93.4h1v2h-1zM639 93.4h1v2h-1zM315 95.4h1v2h-1zM479 95.4h1v2h-1zM505 95.4h1v2h-1zM308 97.3h1v2h-1z"/><path fill="#e74d4d" d="M367 89.4h1v2h-1zM470 89.4h1v2h-1zM479 91.4h1v2h-1zM315 97.3h1v2h-1zM529 97.3h1v2h-1z"/><path fill="#d9f593" d="M601 81.5h1v2h-1zM523 83.5h1v2h-1zM387 85.5h1v2h-1zM578 85.5h1v2h-1zM587 85.5h1v2h-1zM537 87.5h1v2h-1zM338 89.4h1v2h-1zM545 91.4h1v2h-1zM340 97.3h1v2h-1z"/><path fill="#af154d" d="M506 91.4h1v2h-1zM536 91.4h1v2h-1zM385 93.4h1v2h-1z"/><path fill="#d94d4d" d="M506 89.4h1v2h-1zM497 91.4h1v2h-1zM513 91.4h1v2h-1zM389 93.4h1v2h-1zM433 95.4h1v2h-1zM448 97.3h1v2h-1z"/><path fill="#a1073f" d="M434 91.4h1v2h-1zM470 93.4h1v2h-1zM504 93.4h1v2h-1zM536 93.4h1v2h-1zM470 95.4h1v2h-1z"/><path fill="#cb314d" d="M641 91.4h1v2h-1zM497 93.4h1v2h-1z"/><path fill="#d93f4d" d="M506 83.5h1v2h-1z"/><path fill="#f5773f" d="M519 93.4h1v2h-1z"/><path fill="#bd234d" d="M529 95.4h1v2h-1zM652 97.3h1v2h-1z"/></g><rect x="216" y="100.6" width="438" height="0.9" fill="#a9c4e4"/><text x="218.6" y="54" font-size="12.5" font-weight="bold" fill="#fff">EEG</text><text x="215" y="45.3" font-size="11" text-anchor="end" fill="#111">25</text><text x="215" y="105.2" font-size="11" text-anchor="end" fill="#111">0</text><text transform="translate(213.5,67) rotate(-90)" font-size="10.5" text-anchor="middle" fill="#222">Hz</text><text x="218.6" y="113.6" font-size="12.5" font-weight="bold" fill="#000">EMG</text><polyline points="218,125.5 218.5,128.4 219,129.2 219.5,131 220,132.2 220.5,127.4 221,133.4 221.5,126.9 222,130.1 222.5,131.8 223,133.3 223.5,130.3 224,130.2 224.5,128.1 225,134.1 225.5,130.5 226,129.9 226.5,128.9 227,130.3 227.5,129.8 228,133.7 228.5,123.5 229,131.8 229.5,129.5 230,129.1 230.5,129.5 231,131.5 231.5,133.3 232,132.7 232.5,128.3 233,132.2 233.5,132 234,132.2 234.5,129.5 235,132.3 235.5,134.6 236,131.6 236.5,132.9 237,134 237.5,134.2 238,134.9 238.5,134.7 239,135.1 239.5,135.3 240,125.5 240.5,136.5 241,135.3 241.5,135.5 242,128.4 242.5,131.8 243,130.3 243.5,132.1 244,126.7 244.5,132 245,128.4 245.5,134.8 246,129.1 246.5,131.6 247,132.8 247.5,134.2 248,133.9 248.5,134.5 249,134.9 249.5,135.3 250,136 250.5,136.7 251,136.4 251.5,136.6 252,136.9 252.5,136.4 253,136.6 253.5,136.2 254,136.6 254.5,136.8 255,136.7 255.5,136.7 256,115.2 256.5,128 257,133.8 257.5,134.8 258,134.5 258.5,135.7 259,136.1 259.5,136.6 260,136.9 260.5,136.7 261,136.7 261.5,136.9 262,136.8 262.5,136.7 263,136.7 263.5,136.7 264,136.7 264.5,136.6 265,136.5 265.5,136.2 266,136.7 266.5,136.7 267,136.9 267.5,136.8 268,136.9 268.5,137 269,136.7 269.5,136.5 270,136.9 270.5,136.6 271,136.6 271.5,137 272,136.8 272.5,125.5 273,128.3 273.5,130.4 274,128.6 274.5,127.1 275,132.1 275.5,130.2 276,128.6 276.5,133 277,127.4 277.5,124.1 278,127.3 278.5,131.6 279,131.6 279.5,130.1 280,129.1 280.5,128.9 281,130.1 281.5,126.9 282,127.9 282.5,127.5 283,128.5 283.5,125.6 284,128.5 284.5,127.7 285,129.7 285.5,129.9 286,133.4 286.5,129.4 287,129.8 287.5,133.7 288,126.5 288.5,134.8 289,122.7 289.5,123.1 290,123.4 290.5,122.4 291,122.7 291.5,122.1 292,124.9 292.5,125.7 293,124.3 293.5,122.7 294,125.5 294.5,123.4 295,121.7 295.5,121.2 296,123.4 296.5,124.8 297,122.4 297.5,122 298,122.4 298.5,121.7 299,122.1 299.5,123.1 300,122.1 300.5,124.2 301,122.1 301.5,124.3 302,124.1 302.5,123.4 303,123.7 303.5,130.5 304,132.8 304.5,133.6 305,134 305.5,134.1 306,125.5 306.5,128.2 307,132.8 307.5,128.9 308,127.6 308.5,125.5 309,133.3 309.5,133.9 310,133.7 310.5,134.5 311,134.4 311.5,135.4 312,135.5 312.5,128.8 313,134 313.5,134.9 314,134.9 314.5,135.5 315,136.3 315.5,136.8 316,136.7 316.5,136.5 317,136.4 317.5,136.9 318,136.9 318.5,136.6 319,137 319.5,136.7 320,136.8 320.5,137 321,136.6 321.5,136.5 322,136.4 322.5,136.8 323,136.8 323.5,136.9 324,136.8 324.5,136.7 325,136.9 325.5,136.5 326,136.8 326.5,128.5 327,134.1 327.5,134.5 328,134.9 328.5,135.8 329,136.2 329.5,136.7 330,137.1 330.5,136.9 331,136.7 331.5,136.7 332,136.5 332.5,136.7 333,136.7 333.5,136.7 334,136.6 334.5,136.8 335,136.7 335.5,136.4 336,136.6 336.5,136.5 337,136.4 337.5,136.7 338,136.9 338.5,136.5 339,136.3 339.5,136.7 340,137.3 340.5,136.6 341,136.8 341.5,136.6 342,136.9 342.5,137 343,136.7 343.5,136.9 344,136.5 344.5,136.7 345,136.4 345.5,136.7 346,136.6 346.5,129.9 347,134.4 347.5,134.5 348,134.9 348.5,135.5 349,136 349.5,136.5 350,136.6 350.5,136.8 351,136.7 351.5,136.7 352,137 352.5,136.6 353,136.8 353.5,136.9 354,136.8 354.5,136.8 355,136.7 355.5,137.1 356,136.7 356.5,125.7 357,134.5 357.5,134.7 358,135.8 358.5,125.5 359,132 359.5,132 360,128.9 360.5,128.3 361,130.4 361.5,133.1 362,133.5 362.5,134.4 363,134.1 363.5,134.7 364,134.8 364.5,135.8 365,136.5 365.5,136.4 366,136.7 366.5,137.2 367,136.4 367.5,136.4 368,136.9 368.5,136.8 369,136.3 369.5,136.7 370,136.8 370.5,136.4 371,136.9 371.5,136.4 372,136.9 372.5,136.7 373,136.6 373.5,136.4 374,136.6 374.5,136.7 375,136.7 375.5,128.2 376,134.3 376.5,134.4 377,135.4 377.5,135.6 378,136 378.5,136.7 379,136.9 379.5,137 380,131 380.5,134 381,134.8 381.5,135.2 382,135.9 382.5,136.2 383,137 383.5,136.3 384,137 384.5,136.6 385,136.5 385.5,136.6 386,136.7 386.5,136.5 387,136.4 387.5,136.6 388,136.9 388.5,136.8 389,137 389.5,136.6 390,136.6 390.5,136.6 391,136.7 391.5,136.8 392,137.1 392.5,136.8 393,136.7 393.5,137 394,136.5 394.5,136.4 395,136.8 395.5,136.7 396,136.7 396.5,136.9 397,136.6 397.5,126.9 398,134.1 398.5,134.7 399,135.2 399.5,135.6 400,136.7 400.5,136.2 401,136.9 401.5,136.4 402,136.7 402.5,137.2 403,136.6 403.5,136.4 404,137 404.5,127.5 405,134.1 405.5,134.6 406,134.8 406.5,135.3 407,136.4 407.5,136.9 408,136.5 408.5,136.8 409,136.6 409.5,136.8 410,136.6 410.5,136.6 411,137 411.5,136.5 412,136.5 412.5,136.8 413,136.6 413.5,136.6 414,136.7 414.5,137.1 415,136.5 415.5,136.6 416,136.7 416.5,136.5 417,136.7 417.5,136.8 418,136.5 418.5,136.9 419,136.5 419.5,136.7 420,136.8 420.5,137.3 421,136.4 421.5,136.8 422,137.2 422.5,136.6 423,136.9 423.5,136.7 424,136.4 424.5,129.6 425,134.1 425.5,134.1 426,135 426.5,135.7 427,136.4 427.5,136.7 428,137 428.5,136.8 429,136.6 429.5,136.7 430,136.6 430.5,137.2 431,136.7 431.5,136.7 432,136.6 432.5,136.6 433,136.8 433.5,136.6 434,136.5 434.5,136.6 435,136.6 435.5,136.7 436,136.6 436.5,136.7 437,136.6 437.5,136.9 438,136.7 438.5,136.6 439,136.8 439.5,136.7 440,136.4 440.5,136.7 441,137 441.5,136.8 442,136.9 442.5,136.6 443,136.4 443.5,136.6 444,137 444.5,136.5 445,136.5 445.5,136.9 446,136.6 446.5,136.7 447,136.8 447.5,136.7 448,136.6 448.5,136.8 449,136.6 449.5,136.7 450,136.8 450.5,136.5 451,136.7 451.5,136.5 452,136.8 452.5,136.8 453,136.9 453.5,136.9 454,125.5 454.5,129 455,131.6 455.5,133.6 456,126 456.5,134 457,129.8 457.5,131.9 458,131.8 458.5,126.5 459,129.8 459.5,131.4 460,131.4 460.5,132 461,131.1 461.5,135.6 462,129.9 462.5,134.7 463,128.5 463.5,131.6 464,131 464.5,128.6 465,129.9 465.5,129.3 466,132.4 466.5,132.5 467,129.8 467.5,129.7 468,132.4 468.5,133.2 469,134.1 469.5,133.9 470,135.1 470.5,135.1 471,135.8 471.5,136 472,136.4 472.5,136.7 473,136.8 473.5,136.5 474,136.7 474.5,136.6 475,136.4 475.5,129.3 476,134 476.5,134.7 477,134.5 477.5,135.8 478,135.7 478.5,136.9 479,136.9 479.5,136.8 480,136.7 480.5,136.4 481,136.7 481.5,136.8 482,136.6 482.5,136.5 483,136.9 483.5,128 484,134.2 484.5,134.5 485,135.2 485.5,135.7 486,136.2 486.5,136.8 487,136.4 487.5,136.7 488,136.8 488.5,136.5 489,137 489.5,136.3 490,136.8 490.5,136.3 491,136.4 491.5,136.4 492,136.8 492.5,136.6 493,136.6 493.5,136.5 494,136.4 494.5,136.5 495,136.5 495.5,136.6 496,136.6 496.5,136.2 497,136.6 497.5,136.9 498,136.6 498.5,136.7 499,125.5 499.5,130.5 500,132.9 500.5,130.9 501,128.9 501.5,128.6 502,130.1 502.5,131.5 503,133.3 503.5,133.3 504,134 504.5,134.5 505,134.7 505.5,135.4 506,136.1 506.5,136.5 507,136.6 507.5,136.9 508,136.3 508.5,136.8 509,136.7 509.5,136.6 510,128 510.5,134.8 511,134.7 511.5,135 512,135.4 512.5,135.9 513,136.6 513.5,136.6 514,136.6 514.5,136.9 515,137.1 515.5,136.8 516,136.3 516.5,136.9 517,136.6 517.5,129.6 518,133.2 518.5,134.5 519,134.7 519.5,135.6 520,136.1 520.5,136.8 521,137.1 521.5,136.1 522,136.5 522.5,136.6 523,136.8 523.5,136.7 524,136.8 524.5,136.4 525,136.6 525.5,136.8 526,137.5 526.5,137.9 527,137.4 527.5,137.8 528,137.8 528.5,137.5 529,137.9 529.5,137.1 530,137.6 530.5,137.6 531,136.9 531.5,136.5 532,126.6 532.5,133.7 533,134.9 533.5,134.9 534,135.6 534.5,136.1 535,136.6 535.5,136.9 536,136.6 536.5,136.5 537,136.7 537.5,136.7 538,136.5 538.5,136.8 539,136.7 539.5,136.8 540,125.5 540.5,129.1 541,129.8 541.5,128.8 542,126.2 542.5,125.4 543,133.2 543.5,133.5 544,133.8 544.5,134.2 545,134.7 545.5,135.6 546,136.2 546.5,136.8 547,127 547.5,134 548,134.6 548.5,135 549,135.3 549.5,136.8 550,136.7 550.5,136.5 551,136.6 551.5,136.8 552,137 552.5,136.4 553,136.6 553.5,136.8 554,136.6 554.5,136.6 555,137.1 555.5,136.5 556,136.8 556.5,136.6 557,136.7 557.5,136.2 558,136.9 558.5,136.6 559,125.5 559.5,128.7 560,131.5 560.5,133.2 561,130.2 561.5,130.5 562,132.4 562.5,134 563,134.6 563.5,134.5 564,125.6 564.5,133.2 565,133.6 565.5,134.3 566,134.2 566.5,134.8 567,135.3 567.5,135.3 568,136.9 568.5,136.6 569,125.5 569.5,133.7 570,134.5 570.5,134.6 571,135.7 571.5,136 572,136.7 572.5,136.3 573,136.9 573.5,136.4 574,137.6 574.5,137.8 575,137.5 575.5,137.6 576,137.8 576.5,137.6 577,137.4 577.5,137.7 578,137.6 578.5,137.5 579,137.7 579.5,137.4 580,137.4 580.5,137.5 581,136.2 581.5,128.6 582,134.1 582.5,134.6 583,135.1 583.5,135.6 584,136.3 584.5,136.7 585,125.5 585.5,128 586,127.6 586.5,128.1 587,130 587.5,128.9 588,127.1 588.5,126.5 589,130 589.5,126.6 590,130 590.5,130 591,130 591.5,125.8 592,128.9 592.5,127.5 593,127.3 593.5,127.9 594,130 594.5,124.9 595,129.7 595.5,130 596,129.5 596.5,127.7 597,130 597.5,130 598,130 598.5,125.7 599,130 599.5,124.9 600,130 600.5,128.6 601,133.5 601.5,133.5 602,133.7 602.5,134.4 603,134.7 603.5,136 604,135.8 604.5,136.1 605,136.5 605.5,125.5 606,136.5 606.5,129.5 607,128.3 607.5,135.6 608,132.5 608.5,133.8 609,134.2 609.5,134.5 610,135.1 610.5,134.3 611,135.6 611.5,136.3 612,136.8 612.5,128.7 613,133.9 613.5,134.6 614,134.9 614.5,135.4 615,135.8 615.5,136.9 616,137.1 616.5,136.8 617,136.6 617.5,137 618,136.5 618.5,136.9 619,136.8 619.5,136.5 620,136.5 620.5,136.6 621,136.8 621.5,137 622,136.7 622.5,137.1 623,136.9 623.5,128.7 624,133.8 624.5,134.4 625,135.5 625.5,135.6 626,136.2 626.5,136.7 627,136.9 627.5,136.6 628,136.5 628.5,126.2 629,133.9 629.5,134.9 630,135.3 630.5,135.6 631,136.1 631.5,137.1 632,136.5 632.5,136.6 633,136.6 633.5,128.6 634,134.2 634.5,134.5 635,134.4 635.5,136.2 636,136.5 636.5,137.1 637,136.5 637.5,136.7 638,136.7 638.5,136.8 639,136.4 639.5,136.8 640,136.8 640.5,136.6 641,136.2 641.5,136.6 642,136.6 642.5,136.8 643,136.6 643.5,136.5 644,136.8 644.5,136.8 645,136.8 645.5,136.7 646,136.9 646.5,136.8 647,136.3 647.5,125.5 648,132.6 648.5,125.4 649,131.8 649.5,130 650,133.2 650.5,133.6 651,133.8 651.5,134.5 652,134.8 652.5,134.6 653,136.1" fill="none" stroke="#1a1a1a" stroke-width="0.75" stroke-linejoin="round"/><rect x="217" y="132.2" width="436.5" height="1.5" fill="#ef4a55"/><text x="218.6" y="151.2" font-size="12.8" font-weight="bold" fill="#000">Adenosine</text><polygon points="216.5,188.8 217,191 217.5,191.4 218,193.7 218.5,197.6 219,193.2 219.5,193 220,198 220.5,205.4 221,202.8 221.5,201.6 222,198.6 222.5,200.7 223,198.1 223.5,203.2 224,204 224.5,200.3 225,201.1 225.5,199.7 226,198.3 226.5,202.7 227,203.8 227.5,198.4 228,198 228.5,200.9 229,194 229.5,193.2 230,187.5 230.5,192.9 231,200.4 231.5,196 232,192.9 232.5,194.5 233,187.1 233.5,188.2 234,193.4 234.5,196.8 235,192.6 235.5,193.1 236,203 236.5,207.1 237,204.1 237.5,207 238,206.2 238.5,204.8 239,202.1 239.5,202.6 240,199.2 240.5,202.7 241,192.8 241.5,194.3 242,193.4 242.5,195 243,194.4 243.5,193.6 244,192.7 244.5,200.6 245,197.2 245.5,196.9 246,200 246.5,197.8 247,197.8 247.5,199.6 248,199.4 248.5,199.6 249,197.6 249.5,196.9 250,199.1 250.5,200.8 251,200.1 251.5,199.6 252,198.7 252.5,198.6 253,197.8 253.5,196.8 254,198.8 254.5,193.7 255,190.6 255.5,186.3 256,184.9 256.5,182.9 257,186.2 257.5,190.7 258,195.3 258.5,196.5 259,195.9 259.5,198.1 260,196.3 260.5,198.8 261,198.3 261.5,198.8 262,201.1 262.5,200.6 263,197.8 263.5,201.3 264,197.2 264.5,200.1 265,201.6 265.5,200.7 266,200.5 266.5,200.7 267,201.4 267.5,199.7 268,201.3 268.5,199.6 269,201.4 269.5,204.3 270,206.3 270.5,205.1 271,207 271.5,208.5 272,204.6 272.5,206 273,191.7 273.5,189.1 274,168.5 274.5,172.6 275,174.8 275.5,166.4 276,173 276.5,159.8 277,164.1 277.5,160.3 278,159.8 278.5,157.5 279,167.3 279.5,159.5 280,166.1 280.5,163.4 281,164.3 281.5,161.3 282,154.8 282.5,147.8 283,154.2 283.5,153.4 284,152.4 284.5,158.8 285,147 285.5,143.2 286,150 286.5,150.3 287,152.3 287.5,156.6 288,158.7 288.5,159.8 289,155.2 289.5,159.2 290,157.6 290.5,162 291,161 291.5,158.6 292,160.6 292.5,154.9 293,152.6 293.5,141.3 294,146 294.5,145.5 295,134.9 295.5,140.1 296,140.7 296.5,148.1 297,144.9 297.5,148.3 298,151.5 298.5,154.7 299,143.7 299.5,150.7 300,154.3 300.5,157 301,163.9 301.5,159.8 302,155.9 302.5,156.6 303,157.6 303.5,164.2 304,167.8 304.5,171.8 305,175.5 305.5,173.9 306,174 306.5,175.3 307,172.7 307.5,176.3 308,181.8 308.5,180.3 309,179.6 309.5,180.6 310,180 310.5,177.4 311,180.5 311.5,180.1 312,182.7 312.5,180.9 313,183 313.5,183 314,186.5 314.5,185.5 315,184.9 315.5,185 316,184.6 316.5,186.5 317,185.1 317.5,187.5 318,186.1 318.5,185.1 319,186.6 319.5,187.6 320,188.6 320.5,188.8 321,189.2 321.5,191.8 322,191.7 322.5,192.5 323,191.7 323.5,192.1 324,193.1 324.5,194.7 325,191.6 325.5,195.1 326,194.5 326.5,194.2 327,192.9 327.5,194.3 328,194.5 328.5,197.3 329,197.5 329.5,197.7 330,199.7 330.5,198.4 331,199.4 331.5,200 332,200.3 332.5,202 333,199.2 333.5,198.7 334,200.4 334.5,199.7 335,201.4 335.5,199.7 336,199.9 336.5,200.7 337,200 337.5,200.7 338,199.7 338.5,201.7 339,203 339.5,203.4 340,203.4 340.5,202.1 341,202.6 341.5,205.7 342,203.2 342.5,203.1 343,202.3 343.5,202.8 344,204.3 344.5,203.4 345,203.2 345.5,200.2 346,197 346.5,196.2 347,197.1 347.5,200.6 348,201.2 348.5,200.1 349,200.6 349.5,200.7 350,203 350.5,200.2 351,200.4 351.5,200.5 352,202.8 352.5,200.6 353,204.1 353.5,203.2 354,203.1 354.5,206.3 355,207.1 355.5,207.8 356,208.2 356.5,201.1 357,199.5 357.5,194.3 358,186.3 358.5,181.4 359,179.1 359.5,181 360,186.2 360.5,194 361,197.3 361.5,192.2 362,197.7 362.5,195.8 363,199 363.5,198.6 364,203.1 364.5,202.2 365,205.5 365.5,203.3 366,205.3 366.5,206.6 367,205.8 367.5,209.1 368,207.3 368.5,205.3 369,204.3 369.5,205.4 370,207 370.5,207.3 371,208.9 371.5,209.5 372,209.3 372.5,209.8 373,210.2 373.5,210.8 374,209.7 374.5,212.2 375,212.4 375.5,210.8 376,212.4 376.5,211.2 377,211.2 377.5,212.2 378,211.4 378.5,213.9 379,211.7 379.5,211.3 380,212.5 380.5,213 381,209.7 381.5,210.4 382,211.7 382.5,212.1 383,210.9 383.5,211.1 384,213.2 384.5,213.1 385,213.2 385.5,214.9 386,213 386.5,214.6 387,215.4 387.5,216.1 388,215.5 388.5,216.7 389,216.3 389.5,214.7 390,215.8 390.5,214.3 391,215.1 391.5,212.9 392,211.4 392.5,210.4 393,210 393.5,211 394,209.2 394.5,211.2 395,212 395.5,211.1 396,208.1 396.5,206.3 397,202.4 397.5,197.3 398,200.5 398.5,201 399,206 399.5,208.6 400,209.4 400.5,208.8 401,207.2 401.5,207.9 402,207.8 402.5,209 403,208.2 403.5,211 404,204.3 404.5,200.4 405,199.2 405.5,202.3 406,203.2 406.5,206.1 407,208.4 407.5,210.3 408,210.1 408.5,212.7 409,212.1 409.5,214.9 410,216.1 410.5,214.8 411,212.4 411.5,212.3 412,211.5 412.5,213.6 413,213.6 413.5,214.2 414,214.7 414.5,215.1 415,214.3 415.5,214.3 416,211.7 416.5,212.7 417,214 417.5,216.1 418,213.6 418.5,214 419,212.2 419.5,209.5 420,209.8 420.5,210 421,208.7 421.5,209.7 422,212.4 422.5,213.6 423,214 423.5,207.8 424,201.8 424.5,195.1 425,197.1 425.5,197.5 426,200.2 426.5,202.5 427,205.3 427.5,203.4 428,202.9 428.5,203.2 429,203.7 429.5,204.3 430,204.1 430.5,202.3 431,202.7 431.5,201.2 432,202.4 432.5,200.5 433,199 433.5,199.3 434,197.7 434.5,196.8 435,198.6 435.5,202.3 436,201.7 436.5,202.6 437,203.1 437.5,202.6 438,201.6 438.5,200.9 439,200.8 439.5,199.5 440,202 440.5,199.5 441,197.3 441.5,195.3 442,191.7 442.5,188.8 443,187 443.5,188.1 444,187.5 444.5,186 445,182.4 445.5,181.9 446,181.5 446.5,180.9 447,182.6 447.5,183.7 448,185.6 448.5,184 449,184.6 449.5,186.3 450,187.8 450.5,186.4 451,191 451.5,191.9 452,193.9 452.5,192.2 453,189.3 453.5,176 454,166.9 454.5,169 455,163.1 455.5,169.5 456,177.7 456.5,176.2 457,173.6 457.5,173.9 458,178.1 458.5,183 459,178.2 459.5,175.8 460,185.4 460.5,180.2 461,185.1 461.5,181.5 462,180.1 462.5,190.7 463,185 463.5,189.4 464,189.2 464.5,195 465,203.2 465.5,201.6 466,193.9 466.5,188.2 467,191 467.5,195.4 468,197.6 468.5,198.7 469,199.6 469.5,201.3 470,202.7 470.5,201.4 471,201.6 471.5,202.9 472,203 472.5,204.3 473,203.1 473.5,204.5 474,204.1 474.5,203.1 475,203.2 475.5,202.1 476,204.1 476.5,200.4 477,203.8 477.5,200.5 478,203.9 478.5,203.2 479,204.5 479.5,206.9 480,206.8 480.5,206.6 481,205.9 481.5,206.1 482,204.6 482.5,207 483,205.9 483.5,203.5 484,204.3 484.5,206.3 485,204.8 485.5,208.2 486,209.5 486.5,211.1 487,209.7 487.5,210.3 488,211.6 488.5,210.5 489,213.1 489.5,214.4 490,211.6 490.5,213.7 491,212.9 491.5,212 492,215.2 492.5,214.7 493,213.9 493.5,213.2 494,211.7 494.5,211.6 495,214.3 495.5,212.1 496,215.2 496.5,217.1 497,216.6 497.5,216.9 498,215.1 498.5,212.7 499,208.6 499.5,204.7 500,208 500.5,202.2 501,201.7 501.5,203.3 502,210.1 502.5,207.4 503,203.1 503.5,208.1 504,208.1 504.5,210.1 505,208.8 505.5,210.4 506,210.9 506.5,210.6 507,207.7 507.5,207.6 508,204.3 508.5,203 509,200.9 509.5,199.7 510,200.6 510.5,201 511,201.9 511.5,206.3 512,210.1 512.5,209.9 513,210.4 513.5,207.2 514,205.4 514.5,205.2 515,204.8 515.5,201.7 516,201.3 516.5,198.7 517,198.2 517.5,196 518,196.2 518.5,198.1 519,200.4 519.5,202.6 520,205.4 520.5,204.7 521,203.8 521.5,203.7 522,206.3 522.5,208.7 523,207.8 523.5,206 524,206.4 524.5,207 525,207.9 525.5,207.6 526,209.1 526.5,211 527,211.2 527.5,205.5 528,201.2 528.5,200.7 529,197.4 529.5,191.9 530,191.5 530.5,192 531,191.4 531.5,193.5 532,195 532.5,196.4 533,198.1 533.5,198.9 534,199.7 534.5,198.5 535,199.8 535.5,200 536,200.4 536.5,198 537,200.2 537.5,198.7 538,194.5 538.5,192 539,190.7 539.5,191 540,185.9 540.5,179 541,184.8 541.5,179.4 542,189.1 542.5,193.7 543,194.8 543.5,201.4 544,200.1 544.5,201.3 545,199.8 545.5,201.4 546,202 546.5,202.3 547,206.1 547.5,205.1 548,204.7 548.5,207.6 549,205.9 549.5,206.3 550,207.6 550.5,207.2 551,209.8 551.5,208 552,209.6 552.5,208.3 553,212.5 553.5,210.9 554,212.1 554.5,212.6 555,211.9 555.5,213.7 556,214 556.5,213.8 557,214.3 557.5,216.6 558,218.1 558.5,212.6 559,213.2 559.5,210.4 560,205.8 560.5,194.1 561,193.6 561.5,196.9 562,197.5 562.5,200.2 563,200.1 563.5,199.1 564,200.8 564.5,206.2 565,206.4 565.5,203.2 566,201.8 566.5,204.4 567,205 567.5,206 568,202.3 568.5,201.8 569,204.4 569.5,207.3 570,204.9 570.5,207.2 571,209.1 571.5,210 572,209.2 572.5,206.5 573,206.3 573.5,207.2 574,207.8 574.5,205.5 575,206.3 575.5,206.5 576,206.8 576.5,208 577,209.4 577.5,211.4 578,210.3 578.5,211.6 579,212.4 579.5,211 580,211.8 580.5,203.3 581,195.2 581.5,184.9 582,190.3 582.5,196.5 583,203.2 583.5,205.7 584,205.4 584.5,206.7 585,209.5 585.5,209.2 586,204.4 586.5,197.2 587,194.3 587.5,197.3 588,194.8 588.5,201.2 589,192.4 589.5,197.3 590,185.3 590.5,190 591,195.3 591.5,185.8 592,186.3 592.5,187.7 593,193.1 593.5,188.8 594,190.1 594.5,187.4 595,182 595.5,184.3 596,180.8 596.5,186.5 597,177.9 597.5,172.9 598,173.6 598.5,175.5 599,164.8 599.5,162.6 600,156.3 600.5,159.9 601,156.4 601.5,163.9 602,164.6 602.5,164.8 603,167.1 603.5,169.8 604,172.2 604.5,174.2 605,172.5 605.5,167.4 606,166.2 606.5,164.4 607,174.9 607.5,176.2 608,181.4 608.5,169.7 609,172.4 609.5,173.1 610,172.6 610.5,172.3 611,172.2 611.5,174.2 612,175.6 612.5,175.1 613,175.3 613.5,174.7 614,175.2 614.5,177.1 615,177.9 615.5,179.6 616,183.1 616.5,183.5 617,185.2 617.5,183.2 618,185.9 618.5,186.8 619,186.9 619.5,189.8 620,190.6 620.5,189.3 621,192.6 621.5,195.6 622,193.4 622.5,193.7 623,193.5 623.5,193.3 624,193.7 624.5,195.9 625,197.8 625.5,199.9 626,197.9 626.5,199.3 627,200 627.5,200.3 628,201.5 628.5,200.9 629,203.5 629.5,202.8 630,204.6 630.5,202.4 631,202.9 631.5,202 632,202.2 632.5,203.1 633,204.4 633.5,204.5 634,202.9 634.5,205.6 635,205.3 635.5,204.4 636,206.8 636.5,207.5 637,208.6 637.5,205.6 638,207 638.5,206.4 639,209 639.5,209.1 640,210.4 640.5,208.1 641,209.4 641.5,208 642,209.4 642.5,208.4 643,209.4 643.5,209.3 644,210.4 644.5,209.6 645,210.5 645.5,205.7 646,200.8 646.5,198.4 647,194.8 647.5,189.4 648,193.8 648.5,198.7 649,203.4 649.5,197.9 650,199.8 650.5,203.9 651,207.6 651.5,210.5 652,210.9 652.5,212.1 653,213 653.5,213.9 653.5,218.4 653,217.6 652.5,215.7 652,214.7 651.5,215.5 651,213 650.5,209.9 650,206.1 649.5,203.9 649,210.7 648.5,203.8 648,202 647.5,196.6 647,202.9 646.5,202.4 646,204.5 645.5,210.5 645,214.1 644.5,213.9 644,214.3 643.5,214 643,213.4 642.5,213.3 642,212.9 641.5,212.4 641,214.3 640.5,213.4 640,215.4 639.5,214 639,214.6 638.5,211.5 638,212.3 637.5,209.8 637,212.5 636.5,212.4 636,211.6 635.5,209.2 635,209.7 634.5,209.3 634,206.9 633.5,209.7 633,208.4 632.5,207.3 632,206.4 631.5,206.7 631,207.7 630.5,207.5 630,208.9 629.5,207.1 629,207.4 628.5,205.8 628,205.4 627.5,204.3 627,204.9 626.5,203.2 626,202.9 625.5,203.5 625,202.2 624.5,200.9 624,199.2 623.5,197.8 623,198.3 622.5,198.7 622,198.8 621.5,199.7 621,197.5 620.5,195.5 620,194.7 619.5,195.4 619,192.1 618.5,192 618,189.5 617.5,189.8 617,189.2 616.5,187.7 616,187.4 615.5,184.6 615,182.2 614.5,180.9 614,179.3 613.5,178.7 613,179.7 612.5,178.7 612,179.7 611.5,179.3 611,177.6 610.5,177.9 610,177.7 609.5,177.4 609,179.2 608.5,179.4 608,186.5 607.5,181.9 607,193.8 606.5,172 606,172 605.5,177.3 605,178.6 604.5,178.6 604,176.3 603.5,173.4 603,172.4 602.5,168.8 602,170 601.5,170.8 601,162.6 600.5,170.7 600,167 599.5,174.2 599,176.3 598.5,187.9 598,186.4 597.5,184.1 597,195.5 596.5,191.8 596,187.9 595.5,194.4 595,192.5 594.5,194.3 594,203 593.5,197.3 593,200.5 592.5,198.1 592,194.9 591.5,194.7 591,204.6 590.5,205.7 590,195.5 589.5,204.3 589,207.4 588.5,208.7 588,204.9 587.5,205 587,206.2 586.5,209.3 586,218.7 585.5,217.2 585,215.5 584.5,213.5 584,209.5 583.5,209.3 583,207.2 582.5,201.3 582,196 581.5,189.2 581,198.6 580.5,207 580,216.8 579.5,215.6 579,216.6 578.5,216.5 578,213.8 577.5,215.9 577,215.2 576.5,211.8 576,211.5 575.5,211.1 575,211.7 574.5,210.2 574,213.1 573.5,211.8 573,210.5 572.5,211.7 572,214.5 571.5,214.3 571,212.5 570.5,212.5 570,210.2 569.5,210.7 569,209.1 568.5,206.2 568,205.8 567.5,209.5 567,209.3 566.5,209 566,205.6 565.5,208.3 565,211.7 564.5,215.4 564,206.9 563.5,210.9 563,216.6 562.5,211.5 562,208.7 561.5,210.3 561,202.1 560.5,205.9 560,212.3 559.5,219.2 559,217.7 558.5,218.4 558,223.7 557.5,220.7 557,218.6 556.5,217.6 556,218.1 555.5,218.1 555,217.1 554.5,216.9 554,216 553.5,215.9 553,216.8 552.5,211.8 552,213.4 551.5,213 551,214.5 550.5,210.9 550,212 549.5,210.7 549,210 548.5,212 548,209.6 547.5,210.1 547,210.5 546.5,207.1 546,206.5 545.5,205.5 545,203.9 544.5,207.1 544,206.8 543.5,207.8 543,203.9 542.5,200.2 542,198.4 541.5,192.4 541,190.7 540.5,193.4 540,193.9 539.5,196.7 539,194.7 538.5,196.5 538,199.8 537.5,203.2 537,204.9 536.5,201.8 536,204.2 535.5,205 535,205.1 534.5,202.6 534,203.6 533.5,203.3 533,202.1 532.5,199.9 532,199.1 531.5,197.5 531,195.1 530.5,196.8 530,197 529.5,196.7 529,200.9 528.5,204.4 528,205.8 527.5,209.9 527,215.9 526.5,214.7 526,213.5 525.5,211.6 525,211.6 524.5,212 524,210.5 523.5,211.8 523,212 522.5,212.4 522,210.3 521.5,207.3 521,208.3 520.5,209.3 520,210.3 519.5,207.4 519,204.9 518.5,201.8 518,201.1 517.5,200 517,203.5 516.5,202.8 516,204.8 515.5,206.5 515,209.5 514.5,209.6 514,209.7 513.5,211.8 513,214.4 512.5,214.4 512,214 511.5,210.6 511,207.4 510.5,205.4 510,206.3 509.5,203.9 509,204.9 508.5,208.5 508,208.5 507.5,211 507,211.5 506.5,215.1 506,214.9 505.5,214.3 505,213.8 504.5,213.9 504,213.5 503.5,214.8 503,211.2 502.5,218.2 502,223.4 501.5,213 501,212.1 500.5,210.7 500,217.3 499.5,213.9 499,214.3 498.5,218.9 498,219.5 497.5,221.1 497,220.1 496.5,221.1 496,219.1 495.5,217 495,217.9 494.5,216.2 494,215.8 493.5,217 493,217.8 492.5,220.2 492,219 491.5,216.4 491,216.7 490.5,218.3 490,217.5 489.5,218.1 489,217.3 488.5,214.2 488,215.9 487.5,215.3 487,214.7 486.5,215.9 486,214.2 485.5,212.3 485,208.9 484.5,210.4 484,208.1 483.5,209.4 483,211.2 482.5,211.5 482,209 481.5,210.2 481,209.7 480.5,211.5 480,211.4 479.5,211.3 479,208.8 478.5,207.7 478,208.3 477.5,205.3 477,207.6 476.5,206.2 476,208.3 475.5,206.5 475,207.3 474.5,207.9 474,208.1 473.5,208.9 473,208.4 472.5,208.5 472,206.5 471.5,206.5 471,207.2 470.5,205.4 470,207.1 469.5,205.6 469,204.8 468.5,204.1 468,203.2 467.5,201 467,198.6 466.5,197.8 466,203.2 465.5,210.6 465,210.5 464.5,202.1 464,204.4 463.5,199.9 463,194.8 462.5,203.1 462,197.6 461.5,192 461,192.4 460.5,188.6 460,195.4 459.5,196.8 459,193.5 458.5,192.4 458,185.5 457.5,185.1 457,184.6 456.5,185.4 456,182.9 455.5,186.3 455,177 454.5,178.6 454,175.3 453.5,182.2 453,194.1 452.5,196.3 452,198.2 451.5,196.1 451,194.4 450.5,192.1 450,191.9 449.5,191.1 449,189.1 448.5,187.9 448,188.8 447.5,188.8 447,186.3 446.5,186.1 446,186.5 445.5,186.9 445,186.9 444.5,190.1 444,191.8 443.5,193 443,191.3 442.5,194 442,196.3 441.5,199.7 441,200.8 440.5,204.5 440,206.4 439.5,204.8 439,204.7 438.5,204.9 438,205.5 437.5,206.7 437,207.6 436.5,207 436,206 435.5,207.2 435,204.7 434.5,202.3 434,202.7 433.5,204.9 433,203.1 432.5,205.1 432,205.8 431.5,206 431,207.3 430.5,208 430,207.6 429.5,210.9 429,208.3 428.5,208.6 428,206.2 427.5,207.3 427,210.1 426.5,206.8 426,204.2 425.5,202.1 425,201.1 424.5,199.6 424,205.8 423.5,211.3 423,217.8 422.5,217.9 422,216.5 421.5,213.4 421,213.8 420.5,213.4 420,213.6 419.5,216.3 419,215.6 418.5,219.1 418,218.6 417.5,220.4 417,217.6 416.5,218.2 416,216.6 415.5,218.7 415,218.1 414.5,219.8 414,219.4 413.5,218.3 413,218.2 412.5,218.5 412,216.5 411.5,217.4 411,216.3 410.5,219 410,220.6 409.5,218.3 409,215.8 408.5,217.2 408,215.1 407.5,215.1 407,213.1 406.5,211.1 406,207.3 405.5,206.9 405,204 404.5,204.8 404,207.9 403.5,215.3 403,213.8 402.5,212.5 402,212.6 401.5,212.6 401,213.5 400.5,212.5 400,214.7 399.5,212.1 399,210.3 398.5,208 398,204.3 397.5,202.3 397,207.6 396.5,210.3 396,213 395.5,215 395,216.4 394.5,215.4 394,214.5 393.5,216.4 393,215.2 392.5,214.9 392,215.6 391.5,218.7 391,219.8 390.5,218.3 390,221.2 389.5,219.1 389,221.4 388.5,220 388,219.2 387.5,219.8 387,219.2 386.5,219.1 386,217.9 385.5,219.2 385,219.4 384.5,217.3 384,217.3 383.5,215.8 383,215.3 382.5,216.1 382,216.4 381.5,214.4 381,214.4 380.5,217.4 380,216.3 379.5,216 379,216.6 378.5,217.7 378,218.4 377.5,215.7 377,215.5 376.5,215.3 376,216.6 375.5,216.2 375,217.4 374.5,216.1 374,213.3 373.5,215.3 373,214.6 372.5,214.9 372,213.8 371.5,214.7 371,213.3 370.5,212.1 370,212.2 369.5,210.3 369,208.8 368.5,209.4 368,211.1 367.5,212.9 367,210.9 366.5,211 366,209.5 365.5,207.6 365,209.7 364.5,207.2 364,207.2 363.5,202.7 363,203.6 362.5,202.9 362,206.7 361.5,200.8 361,203.7 360.5,205.8 360,192.6 359.5,190.2 359,190.4 358.5,189.8 358,196.1 357.5,198.6 357,204.4 356.5,205.8 356,213.2 355.5,211.3 355,210.7 354.5,209.8 354,207.6 353.5,208.7 353,208.8 352.5,205.6 352,208 351.5,205.1 351,205.4 350.5,204.3 350,207.8 349.5,204.7 349,204.5 348.5,204.6 348,205.1 347.5,204.9 347,201 346.5,200.1 346,202.4 345.5,204.8 345,207.3 344.5,207.7 344,208.9 343.5,207.7 343,207.6 342.5,207.9 342,207.6 341.5,210.2 341,206.9 340.5,206.7 340,206.8 339.5,208.2 339,207.2 338.5,206.5 338,204 337.5,204.7 337,204.2 336.5,205.1 336,203.7 335.5,204.5 335,206 334.5,203.4 334,204.4 333.5,203.3 333,204.5 332.5,205.6 332,204.4 331.5,204.1 331,203.1 330.5,202.1 330,203.1 329.5,201.6 329,201.9 328.5,201.5 328,199.4 327.5,199.2 327,196.9 326.5,199.6 326,198.3 325.5,200 325,197.1 324.5,198.8 324,197.4 323.5,196.2 323,196.6 322.5,197.7 322,196.2 321.5,196 321,192.7 320.5,193.7 320,193 319.5,192 319,192.4 318.5,190.7 318,189.8 317.5,191.1 317,190.1 316.5,190.7 316,190.1 315.5,190.2 315,190.6 314.5,189.2 314,189.8 313.5,187.2 313,187.2 312.5,186.5 312,188.8 311.5,185 311,184.8 310.5,182.1 310,185 309.5,185.1 309,189.5 308.5,190.1 308,190.8 307.5,185.2 307,183 306.5,182.8 306,182.3 305.5,179.3 305,181.2 304.5,178.7 304,176.8 303.5,171.1 303,169.7 302.5,172.6 302,169.5 301.5,169.7 301,170.8 300.5,166.4 300,167.4 299.5,170.2 299,160.8 298.5,165.3 298,158.2 297.5,156.6 297,154.1 296.5,154.5 296,152.1 295.5,156.4 295,152 294.5,151.5 294,153.3 293.5,154.6 293,162.6 292.5,164.7 292,169.9 291.5,170.5 291,167.6 290.5,170.8 290,165.9 289.5,166.7 289,165.2 288.5,166.4 288,171.3 287.5,165.3 287,168.4 286.5,164.2 286,158.5 285.5,161.3 285,160.2 284.5,168.3 284,161.1 283.5,163.5 283,165.3 282.5,159 282,167.7 281.5,168 281,171.2 280.5,174.1 280,174 279.5,170 279,179 278.5,169.7 278,177.7 277.5,172.4 277,178.2 276.5,174.5 276,183.2 275.5,177.6 275,190.4 274.5,184 274,181.9 273.5,200.8 273,204.3 272.5,212.4 272,211.8 271.5,215.3 271,212.4 270.5,209.3 270,209.8 269.5,208.9 269,205.8 268.5,205.4 268,205.8 267.5,204.2 267,205.3 266.5,205.4 266,203.9 265.5,205.9 265,206.2 264.5,204.5 264,202.3 263.5,205.4 263,202.9 262.5,205.3 262,205.1 261.5,203.1 261,202.5 260.5,203.2 260,203 259.5,201.8 259,199.8 258.5,202 258,199.5 257.5,195 257,190.3 256.5,187.8 256,189.2 255.5,190.1 255,194.5 254.5,199.9 254,203.7 253.5,200.3 253,202.1 252.5,202.7 252,202.6 251.5,205 251,203.7 250.5,204.7 250,202.8 249.5,201.7 249,203 248.5,203.9 248,203.5 247.5,204.7 247,205.7 246.5,206.1 246,207.3 245.5,207.5 245,206 244.5,210.5 244,200.6 243.5,200.1 243,201.8 242.5,206.1 242,202.5 241.5,201.2 241,204.1 240.5,207.5 240,205.5 239.5,210.5 239,206.9 238.5,210 238,210.3 237.5,211.1 237,212.4 236.5,214.2 236,209.8 235.5,203.7 235,207.5 234.5,208.5 234,203 233.5,196.2 233,198.2 232.5,201.9 232,201.9 231.5,204.8 231,209.5 230.5,207.6 230,200.4 229.5,200.7 229,208.5 228.5,215.2 228,211.1 227.5,210.1 227,215.6 226.5,212.1 226,212.4 225.5,208.9 225,208.1 224.5,208.4 224,214.6 223.5,216.1 223,212.1 222.5,207.6 222,212.3 221.5,213 221,215.9 220.5,211.7 220,209.4 219.5,202 219,203.4 218.5,206.7 218,199 217.5,195.9 217,195.2 216.5,193.1" fill="#0b7b0b"/><text transform="translate(213.8,180) rotate(-90)" font-size="10.5" text-anchor="middle" fill="#222">ΔF/F (%)</text><path d="M216.5,217.5 V225 H239.6" fill="none" stroke="#000" stroke-width="1.6"/><text x="213.8" y="225.6" font-size="11" text-anchor="end" fill="#111">2</text><text x="215" y="237.2" font-size="10.4" fill="#111">200 s</text><text x="274.3" y="234" font-size="12.4" font-weight="bold" fill="#9a9a9a">Wake</text><text x="323.2" y="234" font-size="12.4" font-weight="bold" fill="#231f20">SWS</text><text x="509.8" y="233.8" font-size="12.5" font-weight="bold" fill="#ff00ff">REMS</text><text x="0.4" y="257.3" font-size="16.5" font-weight="bold" fill="#000">c</text><text x="93.5" y="276" font-size="11.5" text-anchor="middle" fill="#222">SWS to Wake</text><text x="243.5" y="276" font-size="11.5" text-anchor="middle" fill="#222">Wake to SWS</text><text x="94" y="410.4" font-size="11.5" text-anchor="middle" fill="#222">SWS to REMS</text><text x="246.3" y="410.4" font-size="11.5" text-anchor="middle" fill="#222">REMS to Wake</text><text transform="translate(18.6,331.2) rotate(-90)" font-size="11" text-anchor="middle" fill="#222">ΔF/F (%)</text><text transform="translate(18.6,465.3) rotate(-90)" font-size="11" text-anchor="middle" fill="#222">ΔF/F (%)</text><polygon points="34,349.6 34.5,348.6 35,350.2 35.5,350.7 36,351.8 36.5,350.4 37,350.6 37.5,350.3 38,350.1 38.5,349.8 39,349.7 39.5,349.5 40,348.4 40.5,349.3 41,349.8 41.5,350.2 42,350.6 42.5,350.9 43,351 43.5,351.6 44,351.8 44.5,350.9 45,350.7 45.5,349.9 46,349.1 46.5,349.1 47,349.7 47.5,349.5 48,349.6 48.5,350 49,349.7 49.5,351 50,350.4 50.5,350.7 51,349.7 51.5,351.1 52,350.5 52.5,349.5 53,348.6 53.5,349.2 54,351.4 54.5,354.7 55,352.9 55.5,350.9 56,348.9 56.5,349.4 57,349.3 57.5,351.1 58,350.2 58.5,349.7 59,347.9 59.5,348.2 60,349.6 60.5,350.7 61,351.4 61.5,349.6 62,349.1 62.5,348.5 63,349 63.5,350.6 64,351.1 64.5,350.3 65,350.4 65.5,350 66,350.1 66.5,351.7 67,352.2 67.5,353.5 68,352.7 68.5,351.1 69,350.2 69.5,349.5 70,351.4 70.5,351.3 71,349.7 71.5,350.3 72,349.5 72.5,351.3 73,349.5 73.5,349.5 74,348.3 74.5,349.9 75,349.8 75.5,349.7 76,347.6 76.5,348 77,349.1 77.5,349.2 78,349.6 78.5,348.6 79,347.7 79.5,348.6 80,349.9 80.5,350.1 81,349.3 81.5,349.4 82,348.5 82.5,348.3 83,349.5 83.5,348.8 84,348 84.5,348.4 85,348.4 85.5,348.1 86,348 86.5,347.7 87,347.6 87.5,346.3 88,345.6 88.5,344.7 89,344.4 89.5,346 90,343.5 90.5,345.9 91,345.4 91.5,345.7 92,345.3 92.5,344.1 93,345.2 93.5,345.9 94,337 94.5,325.3 95,320.9 95.5,317.2 96,314.5 96.5,310.2 97,309.7 97.5,308.1 98,308.6 98.5,307.7 99,303.4 99.5,303.3 100,304.1 100.5,303.1 101,303.4 101.5,302.5 102,301.2 102.5,299.5 103,298.2 103.5,298.7 104,299.2 104.5,298.1 105,298.4 105.5,295.9 106,296.7 106.5,297.3 107,298.7 107.5,298.2 108,295 108.5,296 109,295.6 109.5,294.2 110,294.1 110.5,294.4 111,294.4 111.5,292.5 112,293.4 112.5,292.5 113,293.8 113.5,295.8 114,295.4 114.5,293 115,292.9 115.5,294.1 116,295.5 116.5,296 117,294 117.5,297.3 118,297.6 118.5,298.3 119,296.9 119.5,295.2 120,294.3 120.5,294.4 121,292.9 121.5,293.1 122,291.6 122.5,293.6 123,293.3 123.5,294.5 124,295.6 124.5,293.5 125,292.1 125.5,291.3 126,291.7 126.5,291.8 127,291.9 127.5,293.4 128,292.6 128.5,292.4 129,289.8 129.5,289.6 130,288.9 130.5,291.3 131,292.1 131.5,293 132,292.5 132.5,291.2 133,290.7 133.5,287.3 134,286.3 134.5,284.8 135,286 135.5,283.1 136,282.8 136.5,283.3 137,283.2 137.5,283.4 138,282.9 138.5,282.8 139,281.6 139.5,281.9 140,283.3 140.5,287 141,286.2 141.5,287.9 142,286.1 142.5,289.3 143,290 143.5,289.7 144,288.6 144.5,287.9 145,287.7 145.5,286.5 146,291.7 146.5,291.6 147,290.4 147.5,288.3 148,287.3 148.5,288.9 149,290.5 149.5,289.1 150,290.9 150.5,289.3 151,291.6 151.5,288.7 152,290.4 152.5,290 153,289 153.5,289 153.5,301.5 153,301.8 152.5,302.9 152,302.5 151.5,305.9 151,304 150.5,304.1 150,302.6 149.5,305.5 149,304.5 148.5,303.3 148,303.3 147.5,304.2 147,304.1 146.5,306.2 146,303.9 145.5,304.9 145,299.6 144.5,299.8 144,301.6 143.5,303.4 143,303.1 142.5,303.7 142,302.7 141.5,300.6 141,300.9 140.5,300.1 140,297.2 139.5,296.3 139,295 138.5,294.8 138,295.5 137.5,295.5 137,297.6 136.5,295.7 136,295.8 135.5,297.6 135,298.5 134.5,300.6 134,299.5 133.5,300.3 133,306.8 132.5,308 132,308.6 131.5,304.7 131,307.1 130.5,303 130,304.3 129.5,303.7 129,304.5 128.5,305.7 128,305 127.5,306.6 127,304 126.5,305.5 126,305.5 125.5,305.5 125,307.6 124.5,306.8 124,307.3 123.5,307.2 123,306.4 122.5,305.7 122,304.5 121.5,305 121,305.5 120.5,306.9 120,308.2 119.5,308.6 119,309.9 118.5,310.2 118,311.3 117.5,309.4 117,310 116.5,308.1 116,307.7 115.5,307.3 115,306.2 114.5,306 114,308.1 113.5,309.7 113,311.6 112.5,309.5 112,307.2 111.5,309.9 111,308.1 110.5,307.9 110,307.4 109.5,308.9 109,307.9 108.5,307.9 108,312.2 107.5,310.8 107,311 106.5,309.2 106,309.9 105.5,310.8 105,311.4 104.5,311.9 104,312.9 103.5,310.7 103,312.7 102.5,313.4 102,316.7 101.5,315.7 101,316.7 100.5,316.4 100,318 99.5,319.2 99,321.2 98.5,320.3 98,321.4 97.5,322.4 97,321.4 96.5,325 96,326.7 95.5,329.8 95,333.3 94.5,339.3 94,350.3 93.5,356.3 93,355.9 92.5,358.6 92,356.9 91.5,357.5 91,354.9 90.5,354.5 90,356.4 89.5,355.5 89,355.5 88.5,355.8 88,354.1 87.5,356.7 87,356.4 86.5,358.1 86,356.2 85.5,356 85,356.6 84.5,356.6 84,356.9 83.5,356.5 83,356.8 82.5,356.1 82,357 81.5,357.2 81,359 80.5,358.2 80,357.7 79.5,358.3 79,357.7 78.5,357.6 78,356.4 77.5,357.7 77,355.9 76.5,356.7 76,355.8 75.5,356.6 75,357.7 74.5,357.6 74,355.6 73.5,355.4 73,355.9 72.5,358.1 72,357.2 71.5,358.1 71,356.7 70.5,357.4 70,356.9 69.5,355.5 69,356.7 68.5,357 68,358.5 67.5,358.8 67,358.2 66.5,357.9 66,355.7 65.5,355.1 65,356.1 64.5,356.5 64,356.5 63.5,356.2 63,356.5 62.5,354.5 62,355 61.5,356.5 61,357.8 60.5,356.4 60,355.5 59.5,354.5 59,354.8 58.5,355.8 58,356 57.5,356.4 57,356.7 56.5,355.6 56,354.9 55.5,357.7 55,359.5 54.5,360.2 54,357 53.5,355.4 53,354 52.5,356 52,356.3 51.5,356.7 51,355.7 50.5,356.3 50,356.5 49.5,356.5 49,356 48.5,355.2 48,356.7 47.5,356.2 47,355.5 46.5,355.3 46,356.8 45.5,356 45,356.3 44.5,358 44,358.1 43.5,357.7 43,356.4 42.5,356.3 42,356.8 41.5,356 41,355.4 40.5,354.7 40,354.4 39.5,354.8 39,356.8 38.5,357.3 38,356.2 37.5,355.5 37,356.5 36.5,356.2 36,357.3 35.5,356.5 35,357 34.5,355.5 34,354.8" fill="#a6d9a0"/><polygon points="34,351.4 34.5,350.9 35,352.4 35.5,352.1 36,354 36.5,352.3 37,353.3 37.5,352.5 38,352.1 38.5,353 39,353 39.5,351.7 40,351.2 40.5,350.9 41,352.3 41.5,353.2 42,353 42.5,352.4 43,353.1 43.5,354.5 44,354.5 44.5,353.3 45,353.1 45.5,351.7 46,352.5 46.5,351.6 47,351.4 47.5,352.5 48,352.5 48.5,351.7 49,352.1 49.5,353 50,352.3 50.5,352.6 51,352.3 51.5,353.3 52,352.4 52.5,351.7 53,350.7 53.5,351.7 54,353.5 54.5,356.8 55,355.3 55.5,353.5 56,350.7 56.5,351.1 57,352.7 57.5,353.2 58,352.2 58.5,352 59,350.7 59.5,351 60,351.6 60.5,352.8 61,353.2 61.5,352.7 62,351.2 62.5,350.4 63,352 63.5,352.4 64,352.8 64.5,352.3 65,352.9 65.5,352.8 66,351.7 66.5,354 67,354.2 67.5,355.3 68,354.5 68.5,353.1 69,352.7 69.5,351.9 70,354.1 70.5,353.1 71,352.6 71.5,354.5 72,352.6 72.5,353.7 73,352 73.5,351.9 74,351.6 74.5,352.6 75,352.6 75.5,352.7 76,351.8 76.5,351.7 77,350.6 77.5,352.5 78,352.2 78.5,352.4 79,352.1 79.5,352.9 80,353.6 80.5,353.4 81,353.7 81.5,352.3 82,352.3 82.5,351.8 83,352.5 83.5,351.6 84,351.9 84.5,351.8 85,351.1 85.5,351 86,350.8 86.5,351.8 87,350.1 87.5,350.6 88,349.5 88.5,348.9 89,349.6 89.5,349.7 90,348.4 90.5,348.7 91,348.6 91.5,351.1 92,350.9 92.5,351.5 93,350.5 93.5,350 94,341.7 94.5,331.5 95,326.4 95.5,323.2 96,319.4 96.5,316.5 97,313.7 97.5,314.5 98,313.6 98.5,313.7 99,312 99.5,310.1 100,310.6 100.5,309.2 101,309.2 101.5,308.2 102,307.9 102.5,305.2 103,304.9 103.5,303.7 104,305.5 104.5,304.6 105,303.8 105.5,302.5 106,302.4 106.5,302.1 107,304.2 107.5,303.5 108,302.9 108.5,300.9 109,301.2 109.5,300.3 110,300.4 110.5,300.3 111,300.7 111.5,300.4 112,299.9 112.5,300.9 113,302.2 113.5,302.4 114,301.2 114.5,298.8 115,299.1 115.5,299.1 116,300.6 116.5,301.4 117,300.8 117.5,302.2 118,303.2 118.5,303.1 119,303.4 119.5,300.7 120,301.1 120.5,299.8 121,298.6 121.5,297.3 122,296.5 122.5,299 123,299.3 123.5,299.3 124,300.5 124.5,298.5 125,298.9 125.5,296.9 126,297.4 126.5,297.8 127,297.1 127.5,298.4 128,298.2 128.5,298.8 129,295.9 129.5,296.8 130,295.7 130.5,296.1 131,298.9 131.5,297 132,300.4 132.5,299.2 133,297.7 133.5,292.6 134,291.1 134.5,292 135,291.6 135.5,288.6 136,287.9 136.5,289 137,289.9 137.5,289.4 138,288.3 138.5,287.9 139,287.3 139.5,288.3 140,289.7 140.5,293.3 141,293.7 141.5,293.5 142,293.5 142.5,296.1 143,295.4 143.5,295 144,294.1 144.5,294.1 145,292.5 145.5,295.3 146,296.8 146.5,297.2 147,296.7 147.5,296.2 148,294.4 148.5,295.8 149,297 149.5,296.1 150,296.3 150.5,296.2 151,297.1 151.5,296.6 152,295.3 152.5,295.2 153,294.3 153.5,294.6 153.5,296.3 153,296.5 152.5,296.5 152,297.4 151.5,298.1 151,298.4 150.5,298.1 150,298.1 149.5,297.9 149,298.4 148.5,296.8 148,295.8 147.5,297.8 147,298.1 146.5,299 146,298.5 145.5,296.7 145,294.7 144.5,295.5 144,295.8 143.5,297.2 143,296.4 142.5,297.6 142,295.4 141.5,294.9 141,294.6 140.5,294.8 140,291 139.5,289.8 139,289.3 138.5,289.3 138,289.8 137.5,290.4 137,291.6 136.5,291 136,290.2 135.5,290.4 135,293 134.5,293.6 134,293.8 133.5,294.4 133,298.9 132.5,300.6 132,301.6 131.5,299.5 131,300.4 130.5,297.9 130,297.4 129.5,298.2 129,297.3 128.5,300.4 128,299.5 127.5,300.1 127,299 126.5,299.2 126,298.8 125.5,298.5 125,301.5 124.5,300.3 124,302.3 123.5,301.5 123,301.4 122.5,301 122,299.4 121.5,299.9 121,299.7 120.5,301.5 120,303.1 119.5,303.1 119,305 118.5,304.7 118,305.2 117.5,304.7 117,302.4 116.5,302.9 116,302.3 115.5,301.2 115,300.7 114.5,299.7 114,303 113.5,303.8 113,303.5 112.5,302.2 112,301.2 111.5,301.6 111,302 110.5,301.7 110,302.4 109.5,301.3 109,302.8 108.5,302.4 108,304.1 107.5,304.8 107,306.1 106.5,303.8 106,303.9 105.5,303.6 105,305.6 104.5,306.2 104,307.1 103.5,305.2 103,307.2 102.5,307.2 102,309.6 101.5,309.7 101,311.2 100.5,311 100,311.6 99.5,312.4 99,313.1 98.5,315.1 98,315.9 97.5,315.9 97,315.6 96.5,318.3 96,321.7 95.5,324.7 95,327.6 94.5,333 94,344.2 93.5,351.6 93,351.6 92.5,353.6 92,352.4 91.5,352.5 91,350.8 90.5,350.2 90,350.6 89.5,351.9 89,351.1 88.5,350.7 88,350.6 87.5,352.5 87,351.7 86.5,353.3 86,352.8 85.5,352.3 85,353.1 84.5,354 84,353.6 83.5,354.2 83,354.2 82.5,353.6 82,353.4 81.5,354 81,355.1 80.5,355 80,354.9 79.5,354.8 79,353.3 78.5,354.1 78,353.7 77.5,354.4 77,352.1 76.5,354.2 76,353.4 75.5,353.7 75,354.4 74.5,355.1 74,353.7 73.5,353.5 73,353.3 72.5,355.5 72,354 71.5,355.7 71,354.1 70.5,354.7 70,355.7 69.5,353.4 69,354.7 68.5,354.6 68,356 67.5,357.2 67,356.1 66.5,355.7 66,354 65.5,355.2 65,354.1 64.5,353.6 64,355 63.5,354.2 63,353.7 62.5,352.2 62,352.8 61.5,354.3 61,354.8 60.5,354.1 60,353 59.5,352.2 59,352.2 58.5,354 58,353.9 57.5,354.8 57,354 56.5,353.4 56,352.3 55.5,354.9 55,356.9 54.5,358.5 54,355.3 53.5,353.1 53,352.7 52.5,354 52,354 51.5,354.7 51,353.4 50.5,353.8 50,353.3 49.5,354.5 49,353.7 48.5,353.1 48,354 47.5,353.9 47,352.9 46.5,353 46,353.8 45.5,353.1 45,354.9 44.5,355.1 44,356.2 43.5,355.8 43,354.4 42.5,353.9 42,354.5 41.5,355.1 41,353.8 40.5,353.2 40,352.4 39.5,353.1 39,354.1 38.5,354.9 38,353.9 37.5,354.6 37,354.9 36.5,353.6 36,355.4 35.5,354.3 35,353.7 34.5,352.8 34,353" fill="#1b8f1b"/><polygon points="34,351.3 34.5,350.7 35,352.5 35.5,353 36,351.4 36.5,351 37,351.7 37.5,351.9 38,350.5 38.5,351.1 39,353.6 39.5,354.7 40,353 40.5,354.8 41,355.2 41.5,352.4 42,354 42.5,353.1 43,350.6 43.5,352.8 44,353.3 44.5,352.3 45,353.2 45.5,353.6 46,353.1 46.5,351.6 47,350.8 47.5,351.5 48,352.8 48.5,353.5 49,353 49.5,353 50,354.3 50.5,352.8 51,353.6 51.5,354.9 52,353.8 52.5,353.5 53,352.9 53.5,354.8 54,353.8 54.5,352.1 55,352.5 55.5,352.9 56,353.4 56.5,353.4 57,354.6 57.5,354.4 58,350.5 58.5,350 59,352 59.5,352 60,352.2 60.5,351.1 61,351.1 61.5,352.5 62,351.6 62.5,353.1 63,352.7 63.5,352.3 64,351.9 64.5,353 65,351.4 65.5,351.7 66,351.4 66.5,352 67,350.9 67.5,352 68,351.2 68.5,351.8 69,351.1 69.5,350.7 70,350.8 70.5,351.3 71,353.6 71.5,353.3 72,352.3 72.5,352.4 73,352.2 73.5,351.5 74,351.9 74.5,355 75,354.3 75.5,353.6 76,353.5 76.5,352.5 77,350.3 77.5,352.1 78,354.7 78.5,353.5 79,354 79.5,354.7 80,351.5 80.5,352.1 81,353.2 81.5,352 82,353.7 82.5,354.4 83,353.2 83.5,353.2 84,353.6 84.5,353.2 85,352.5 85.5,351.9 86,353.1 86.5,353 87,354.1 87.5,354.1 88,352 88.5,352.6 89,353.9 89.5,351.6 90,352.3 90.5,352 91,351.9 91.5,352.8 92,353.2 92.5,352.1 93,351.8 93.5,351.8 94,353.3 94.5,354 95,353.1 95.5,354.3 96,354.9 96.5,354.7 97,354.1 97.5,354.6 98,354.2 98.5,355.5 99,355 99.5,354 100,353.6 100.5,352.5 101,355.1 101.5,355.3 102,355.4 102.5,355.6 103,356.6 103.5,356.6 104,355.9 104.5,355.8 105,353.5 105.5,354.5 106,355.7 106.5,356.2 107,356.4 107.5,357.1 108,356.1 108.5,357 109,356.2 109.5,356.5 110,356.9 110.5,357.6 111,357.4 111.5,357.3 112,357.5 112.5,358.1 113,356.5 113.5,356.4 114,358.4 114.5,358.5 115,357.5 115.5,357.5 116,358.8 116.5,358.4 117,355.7 117.5,356.2 118,355.7 118.5,359.3 119,360.3 119.5,359.8 120,358.1 120.5,355.8 121,358.5 121.5,359 122,359.3 122.5,359.6 123,360.2 123.5,359.6 124,360.9 124.5,361.4 125,362.6 125.5,363.7 126,361.7 126.5,359.6 127,359.1 127.5,360.7 128,362.1 128.5,360 129,361.1 129.5,359.3 130,360.8 130.5,360.7 131,361.7 131.5,361.4 132,361.4 132.5,359.7 133,359.9 133.5,360.7 134,360.9 134.5,363.2 135,363.8 135.5,361.5 136,362.5 136.5,361.2 137,359.2 137.5,362.2 138,361.2 138.5,359.1 139,361.2 139.5,359.6 140,358 140.5,357.5 141,356.5 141.5,358.7 142,356.6 142.5,357.9 143,358.7 143.5,357.8 144,357.5 144.5,358.1 145,357.4 145.5,359.3 146,358.3 146.5,355.6 147,358.8 147.5,359.1 148,359.1 148.5,358.9 149,358.8 149.5,359 150,360.7 150.5,360.2 151,357.4 151.5,359.8 152,360.1 152.5,361.4 153,360.7 153.5,361.1 153.5,372.3 153,372.6 152.5,372 152,374.1 151.5,371.8 151,372 150.5,371.3 150,371.5 149.5,370.7 149,369.7 148.5,369.1 148,369.9 147.5,370.9 147,369.6 146.5,372 146,371.2 145.5,369.9 145,371.4 144.5,371.2 144,369.4 143.5,369.4 143,369.4 142.5,368.8 142,370.8 141.5,369.5 141,370.1 140.5,369 140,370.5 139.5,370.8 139,371 138.5,373 138,371.4 137.5,371.6 137,371.2 136.5,372 136,372.1 135.5,372.6 135,373.3 134.5,373.4 134,373.3 133.5,371.7 133,371.4 132.5,372.2 132,370.5 131.5,370.5 131,370.6 130.5,370.6 130,370.6 129.5,371.7 129,370.5 128.5,372.9 128,371.9 127.5,370.3 127,368.2 126.5,368.8 126,370.5 125.5,373.1 125,371.9 124.5,371.1 124,370.4 123.5,369.2 123,370.3 122.5,370.8 122,369.5 121.5,370 121,369.7 120.5,369 120,367.6 119.5,370.5 119,369.1 118.5,367.8 118,370 117.5,364.3 117,365.7 116.5,366.9 116,367.3 115.5,367.4 115,365.9 114.5,367.1 114,366.7 113.5,366.8 113,366.8 112.5,366.1 112,366.7 111.5,365.8 111,365.1 110.5,366.3 110,366.1 109.5,364 109,364.9 108.5,364.8 108,365.6 107.5,364.7 107,364.9 106.5,364.3 106,364.7 105.5,362.2 105,362.4 104.5,363.2 104,363.6 103.5,364.1 103,364.2 102.5,364.4 102,363.5 101.5,363.9 101,363.2 100.5,362.3 100,361.2 99.5,361.2 99,362 98.5,362.3 98,363.3 97.5,361.6 97,361.1 96.5,361.9 96,361.9 95.5,362.6 95,362.8 94.5,361.3 94,360.9 93.5,357.9 93,357.9 92.5,359.1 92,358.7 91.5,358.7 91,357.6 90.5,357.4 90,358.8 89.5,360.5 89,359.4 88.5,359.3 88,358.1 87.5,360 87,359.8 86.5,359 86,358.7 85.5,359.1 85,360.1 84.5,360.7 84,359.3 83.5,358.4 83,358.6 82.5,359.7 82,359 81.5,358.3 81,358.7 80.5,357.9 80,359.4 79.5,360.1 79,359.7 78.5,359.6 78,360.2 77.5,357.4 77,356.3 76.5,357.9 76,358.7 75.5,358.8 75,359.5 74.5,360.4 74,358.9 73.5,357.4 73,358.1 72.5,357.8 72,359 71.5,360 71,359.3 70.5,358.4 70,358 69.5,357.6 69,357.8 68.5,357.6 68,357.7 67.5,357.2 67,357.9 66.5,357.5 66,358.4 65.5,358.1 65,359.6 64.5,358.4 64,358.1 63.5,357.6 63,359 62.5,358.7 62,360.3 61.5,359.5 61,357.9 60.5,358.5 60,357.5 59.5,358.2 59,360.2 58.5,359.4 58,358.1 57.5,359.6 57,360.3 56.5,358.8 56,359.3 55.5,358.8 55,358.1 54.5,358.6 54,359.1 53.5,360.3 53,361 52.5,358.8 52,359.1 51.5,360.2 51,359.9 50.5,359.5 50,359.6 49.5,358.6 49,358.9 48.5,359.1 48,358.8 47.5,360.1 47,358.6 46.5,357.3 46,358.8 45.5,359.8 45,359.7 44.5,359.9 44,360.2 43.5,358.2 43,356.4 42.5,358.7 42,359.5 41.5,359.3 41,361.1 40.5,360.1 40,359.6 39.5,360.2 39,359 38.5,359 38,358.2 37.5,358.3 37,358 36.5,356.2 36,358.5 35.5,359 35,357.9 34.5,357.5 34,357.4" fill="#bdbdbd"/><polygon points="34,353.2 34.5,352.9 35,354.5 35.5,355 36,355 36.5,352.9 37,353.8 37.5,353.8 38,353.3 38.5,353.8 39,355.4 39.5,356.8 40,354.5 40.5,356.9 41,357.1 41.5,355.3 42,356 42.5,355.1 43,353.1 43.5,354.6 44,356 44.5,355.3 45,355.6 45.5,356.2 46,355 46.5,353.1 47,354.3 47.5,354.4 48,354.5 48.5,355.2 49,355.5 49.5,354.6 50,355.4 50.5,355.6 51,356.5 51.5,356.9 52,355.3 52.5,355.2 53,356.3 53.5,357 54,355.7 54.5,354.3 55,355 55.5,355.4 56,355.1 56.5,355.2 57,356.4 57.5,356.5 58,353.9 58.5,353.7 59,355.2 59.5,354.3 60,353.4 60.5,354.5 61,354.1 61.5,356 62,355.3 62.5,355.2 63,355.8 63.5,354.8 64,354.5 64.5,355.3 65,354.6 65.5,354.3 66,354.1 66.5,354.2 67,353.1 67.5,353.9 68,352.9 68.5,353.9 69,353.9 69.5,353.5 70,353.4 70.5,354.5 71,356 71.5,356.3 72,354.4 72.5,354.6 73,354.1 73.5,353.6 74,354 74.5,356.9 75,356.1 75.5,355.3 76,355.2 76.5,354.2 77,352.6 77.5,354.5 78,356.1 78.5,355.7 79,356 79.5,356.5 80,354.8 80.5,354.8 81,354.8 81.5,354.6 82,355.9 82.5,355.8 83,355.3 83.5,354.2 84,354.6 84.5,356.2 85,355.8 85.5,354.8 86,354.6 86.5,355.6 87,356.1 87.5,356.6 88,354.7 88.5,355.2 89,356.1 89.5,354.8 90,355.4 90.5,354.3 91,354 91.5,355.4 92,355.2 92.5,354.9 93,354 93.5,353.1 94,356.3 94.5,357.1 95,357.1 95.5,358.3 96,358 96.5,357.6 97,356.7 97.5,356.2 98,358.5 98.5,357.9 99,357.8 99.5,356.7 100,356.7 100.5,356.6 101,358.3 101.5,358.3 102,359.1 102.5,358.8 103,359.2 103.5,359.5 104,359.2 104.5,357.9 105,357.7 105.5,357.5 106,359.8 106.5,359.7 107,359 107.5,358.6 108,360 108.5,360.6 109,359.7 109.5,359.5 110,360.4 110.5,361.1 111,359.4 111.5,360.6 112,360.9 112.5,361.7 113,360.6 113.5,360.9 114,362 114.5,361.6 115,361.9 115.5,361.4 116,362.5 116.5,362.4 117,359.4 117.5,358.8 118,362.6 118.5,362.9 119,363.1 119.5,364.1 120,362.2 120.5,361.7 121,363.3 121.5,363.8 122,364.1 122.5,365.1 123,365.1 123.5,364 124,364.6 124.5,365.6 125,366 125.5,367.5 126,364.6 126.5,363 127,362.5 127.5,364.9 128,365.7 128.5,365.4 129,364.8 129.5,365.2 130,365.1 130.5,365.1 131,365.7 131.5,364.9 132,365.5 132.5,364.9 133,364.7 133.5,365.1 134,366.5 134.5,367.6 135,367.6 135.5,366.4 136,366.2 136.5,365.2 137,364.6 137.5,365.8 138,365.4 138.5,365.2 139,365.1 139.5,364.6 140,363 140.5,362.9 141,362.2 141.5,363.2 142,362 142.5,362.4 143,363 143.5,362.8 144,363.2 144.5,364.6 145,363.8 145.5,364.2 146,364 146.5,362.8 147,363.1 147.5,364.7 148,364 148.5,363.4 149,363.7 149.5,364.1 150,365.8 150.5,364.7 151,363.6 151.5,365 152,367.1 152.5,366.3 153,365 153.5,366.4 153.5,367.9 153,367.2 152.5,367.4 152,368.5 151.5,366.8 151,365.8 150.5,366.3 150,367.9 149.5,365.6 149,366 148.5,365.8 148,365.8 147.5,365.8 147,364.3 146.5,364.2 146,365.8 145.5,365.6 145,365.2 144.5,365.7 144,364.6 143.5,364 143,364.2 142.5,364 142,363.6 141.5,364.8 141,364.7 140.5,365 140,364.2 139.5,365.5 139,367.5 138.5,366.5 138,367.5 137.5,367.2 137,366 136.5,367.9 136,368.8 135.5,367.4 135,368.8 134.5,368.7 134,367.9 133.5,367.3 133,366.4 132.5,366.2 132,366.7 131.5,366.3 131,367.3 130.5,366.1 130,366.5 129.5,366.3 129,366.3 128.5,366.6 128,367.6 127.5,366.5 127,363.8 126.5,364.7 126,366.3 125.5,369.1 125,368.2 124.5,367.5 124,365.7 123.5,365.7 123,366.4 122.5,366.5 122,365.5 121.5,365.4 121,364.6 120.5,363.3 120,363.6 119.5,365.2 119,365.4 118.5,364.2 118,363.8 117.5,360.9 117,360.9 116.5,364 116,364.3 115.5,362.6 115,363.3 114.5,363.5 114,363.6 113.5,362.6 113,362.8 112.5,363.1 112,362.6 111.5,362 111,361.2 110.5,363.1 110,362 109.5,360.7 109,361.6 108.5,362.3 108,361.8 107.5,360.7 107,361.5 106.5,361.3 106,361.1 105.5,359.7 105,359 104.5,359.5 104,360.4 103.5,361.7 103,361.3 102.5,359.9 102,360.8 101.5,359.5 101,359.5 100.5,358.5 100,358.3 99.5,359.2 99,359.3 98.5,359.6 98,359.9 97.5,358.2 97,358.1 96.5,359 96,359.2 95.5,359.9 95,358.2 94.5,358.4 94,358 93.5,355 93,355.1 92.5,356 92,356.3 91.5,357 91,355.9 90.5,355.9 90,356.6 89.5,356.2 89,357.6 88.5,356.8 88,356.5 87.5,358.6 87,357.7 86.5,356.6 86,355.9 85.5,356.1 85,357.3 84.5,357.7 84,356.3 83.5,356 83,356.4 82.5,358 82,357.6 81.5,355.6 81,357 80.5,356.7 80,356.3 79.5,357.9 79,357.5 78.5,357.8 78,358 77.5,356.4 77,354 76.5,355.9 76,356.9 75.5,357.8 75,357.1 74.5,358.7 74,356 73.5,355.5 73,355.9 72.5,355.7 72,355.9 71.5,357.5 71,358 70.5,355.9 70,355.2 69.5,355.3 69,355.2 68.5,355 68,354.9 67.5,355.2 67,355 66.5,355.3 66,355.6 65.5,355.7 65,356 64.5,357 64,356.1 63.5,356.1 63,356.9 62.5,356.5 62,356.8 61.5,357.3 61,355.5 60.5,356.4 60,355.4 59.5,355.6 59,357.2 58.5,355.6 58,355.4 57.5,357.6 57,358.1 56.5,357 56,357.7 55.5,356.9 55,356 54.5,355.6 54,357 53.5,358.3 53,357.9 52.5,357 52,357.1 51.5,358.8 51,358.3 50.5,357.3 50,356.8 49.5,356.4 49,357.3 48.5,356.5 48,356.8 47.5,356.4 47,355.5 46.5,354.5 46,356.5 45.5,357.8 45,357.6 44.5,356.6 44,358.1 43.5,356.1 43,354.9 42.5,356.7 42,358 41.5,356.4 41,358.7 40.5,358.5 40,356.5 39.5,358.4 39,357.4 38.5,355.2 38,354.9 37.5,355.7 37,355.1 36.5,354 36,357 35.5,356.1 35,355.7 34.5,354.2 34,354.8" fill="#111111"/><path d="M33.5,281.2 V373 H153.8" fill="none" stroke="#222" stroke-width="1.2"/><line x1="31.7" y1="356.2" x2="33.5" y2="356.2" stroke="#222" stroke-width="1"/><text x="29" y="360.1" font-size="11" text-anchor="end" fill="#222">0</text><line x1="31.7" y1="330.4" x2="33.5" y2="330.4" stroke="#222" stroke-width="1"/><text x="29" y="334.3" font-size="11" text-anchor="end" fill="#222">2</text><line x1="31.7" y1="304.6" x2="33.5" y2="304.6" stroke="#222" stroke-width="1"/><text x="29" y="308.5" font-size="11" text-anchor="end" fill="#222">4</text><text x="33.5" y="385.4" font-size="11" text-anchor="middle" fill="#222">−100</text><text x="93.8" y="385.4" font-size="11" text-anchor="middle" fill="#222">0</text><text x="153.8" y="385.4" font-size="11" text-anchor="middle" fill="#222">100</text><line x1="75.7" y1="371.2" x2="75.7" y2="373" stroke="#222" stroke-width="0.9"/><line x1="111.9" y1="371.2" x2="111.9" y2="373" stroke="#222" stroke-width="0.9"/><line x1="93.8" y1="280.7" x2="93.8" y2="373" stroke="#2a2a2a" stroke-width="1.8" stroke-dasharray="7,7.3"/><polygon points="182.9,314.6 183.4,311.6 183.9,309.3 184.4,310.9 184.9,312.9 185.4,312 185.9,309.1 186.4,310.7 186.9,309.6 187.4,308 187.9,311.1 188.4,309.4 188.9,308.7 189.4,310 189.9,310.8 190.4,309.8 190.9,309.7 191.4,307 191.9,305.2 192.4,305.2 192.9,304.5 193.4,303.5 193.9,306.3 194.4,305.7 194.9,306.9 195.4,305.5 195.9,308.2 196.4,305.5 196.9,304.3 197.4,301.5 197.9,303.1 198.4,304.3 198.9,305.2 199.4,303 199.9,300.1 200.4,300.8 200.9,303.7 201.4,300.6 201.9,299.4 202.4,297.9 202.9,295.6 203.4,299 203.9,298.2 204.4,297.5 204.9,294.8 205.4,295.7 205.9,294.9 206.4,294.6 206.9,293 207.4,293.4 207.9,294.3 208.4,291.8 208.9,291.3 209.4,294.1 209.9,291 210.4,289.7 210.9,290.8 211.4,289.2 211.9,287.1 212.4,285.5 212.9,282.7 213.4,288.5 213.9,289.4 214.4,287.9 214.9,290.1 215.4,291.2 215.9,290.5 216.4,289.3 216.9,289 217.4,290.1 217.9,289.7 218.4,289 218.9,289.9 219.4,292.3 219.9,290.4 220.4,288.7 220.9,288.6 221.4,290.1 221.9,290.6 222.4,291.2 222.9,290.1 223.4,289.1 223.9,290 224.4,292.9 224.9,291.9 225.4,292.1 225.9,291.9 226.4,291.8 226.9,290.6 227.4,292.6 227.9,289.7 228.4,288.9 228.9,291.5 229.4,290.7 229.9,293 230.4,290.6 230.9,292.2 231.4,290.8 231.9,291.9 232.4,293.7 232.9,296 233.4,294.5 233.9,292.6 234.4,291.9 234.9,292.4 235.4,294.7 235.9,294.2 236.4,295 236.9,292.7 237.4,292 237.9,294.4 238.4,296.6 238.9,295.3 239.4,293.1 239.9,295.5 240.4,291.7 240.9,295.5 241.4,293.6 241.9,291.4 242.4,289.9 242.9,289.9 243.4,289.9 243.9,293.6 244.4,294.6 244.9,293.1 245.4,297 245.9,299.1 246.4,301.2 246.9,301.4 247.4,301.6 247.9,300.1 248.4,299.2 248.9,300.4 249.4,302 249.9,303.5 250.4,304.6 250.9,304.5 251.4,306.6 251.9,307.8 252.4,308.8 252.9,308.2 253.4,309.7 253.9,310.5 254.4,311.9 254.9,311.7 255.4,311 255.9,309.4 256.4,312 256.9,314.6 257.4,314.8 257.9,313.2 258.4,315.3 258.9,313.8 259.4,315.7 259.9,317.1 260.4,319.2 260.9,319.3 261.4,319.9 261.9,321.4 262.4,321.8 262.9,324 263.4,322.8 263.9,322.4 264.4,323.5 264.9,323.2 265.4,323.2 265.9,322.6 266.4,325.4 266.9,324.9 267.4,325.6 267.9,328.7 268.4,328.2 268.9,326.9 269.4,327.9 269.9,328.7 270.4,330.8 270.9,328.8 271.4,329.7 271.9,329.6 272.4,329.9 272.9,329.3 273.4,330.1 273.9,331.1 274.4,335 274.9,335.6 275.4,337 275.9,335.9 276.4,336.9 276.9,336.2 277.4,337 277.9,337 278.4,335.8 278.9,337.7 279.4,338.4 279.9,338.1 280.4,337 280.9,337.4 281.4,338.3 281.9,340 282.4,340.5 282.9,342.4 283.4,344.5 283.9,344.1 284.4,344.1 284.9,343.7 285.4,343 285.9,343.5 286.4,342.8 286.9,342.8 287.4,343.1 287.9,344.4 288.4,345.7 288.9,345.9 289.4,346 289.9,345.2 290.4,347.5 290.9,348.4 291.4,350.2 291.9,350 292.4,350.1 292.9,349 293.4,349 293.9,350.8 294.4,350.2 294.9,352.6 295.4,350.7 295.9,351.9 296.4,352.7 296.9,353 297.4,352 297.9,353.4 298.4,354 298.9,353.4 299.4,351.7 299.9,349.3 300.4,351.1 300.9,350.9 301.4,352 301.9,351.1 302.4,351.3 302.4,355.3 301.9,355.5 301.4,357.6 300.9,355.9 300.4,355.5 299.9,355 299.4,356.4 298.9,358.1 298.4,359 297.9,358.7 297.4,358.5 296.9,357.9 296.4,357.6 295.9,359.6 295.4,357.8 294.9,358 294.4,355.4 293.9,356.2 293.4,354.6 292.9,357 292.4,355.6 291.9,355.9 291.4,355.8 290.9,354.2 290.4,353.6 289.9,352 289.4,352.2 288.9,352.1 288.4,351.8 287.9,350.5 287.4,349.2 286.9,350.4 286.4,351.1 285.9,350.4 285.4,349.9 284.9,350.7 284.4,351.4 283.9,352.6 283.4,352.1 282.9,350.3 282.4,349.9 281.9,347 281.4,346.8 280.9,344.9 280.4,345.1 279.9,345 279.4,346.2 278.9,345.2 278.4,345.7 277.9,344.3 277.4,344.5 276.9,347 276.4,347 275.9,345.3 275.4,344.7 274.9,343.6 274.4,343 273.9,341 273.4,338.8 272.9,338.8 272.4,338.4 271.9,339 271.4,339.6 270.9,340 270.4,339.3 269.9,338.4 269.4,337.3 268.9,338.3 268.4,337.1 267.9,337.3 267.4,336.3 266.9,335.7 266.4,335.3 265.9,335.5 265.4,335.7 264.9,334.8 264.4,333 263.9,333.8 263.4,332.9 262.9,333.9 262.4,332.6 261.9,332 261.4,331.2 260.9,331.3 260.4,329.5 259.9,329.4 259.4,328.6 258.9,327.5 258.4,326.1 257.9,327 257.4,325.5 256.9,327 256.4,326.3 255.9,327.4 255.4,321.9 254.9,324.6 254.4,323.3 253.9,324.3 253.4,322.9 252.9,323.9 252.4,321.6 251.9,319.4 251.4,319.1 250.9,316.3 250.4,316.6 249.9,316.2 249.4,317 248.9,315.1 248.4,315 247.9,314.5 247.4,314.5 246.9,314.4 246.4,314.7 245.9,312.9 245.4,310.9 244.9,309 244.4,307.9 243.9,307.4 243.4,308.5 242.9,305.4 242.4,303.9 241.9,306.6 241.4,308.2 240.9,308.7 240.4,313.4 239.9,312 239.4,315.5 238.9,314.1 238.4,310.2 237.9,308.1 237.4,309.1 236.9,307.4 236.4,308.3 235.9,309.7 235.4,308.5 234.9,308.1 234.4,307.7 233.9,307.7 233.4,308.9 232.9,310.7 232.4,308 231.9,308.9 231.4,306.2 230.9,306.7 230.4,308.4 229.9,306.8 229.4,308.6 228.9,305.4 228.4,306.3 227.9,308.5 227.4,307.6 226.9,310.3 226.4,310.1 225.9,309.1 225.4,308.1 224.9,307.8 224.4,307.2 223.9,308.4 223.4,306.3 222.9,305 222.4,307.4 221.9,310 221.4,307.9 220.9,304.7 220.4,304.6 219.9,305.1 219.4,306.8 218.9,306.7 218.4,308.9 217.9,306.8 217.4,305.5 216.9,303.5 216.4,304 215.9,306.4 215.4,305.8 214.9,306.5 214.4,306.1 213.9,304.8 213.4,302.8 212.9,307 212.4,302.5 211.9,304.3 211.4,304.6 210.9,305.4 210.4,308.2 209.9,310.8 209.4,309.3 208.9,313.3 208.4,311.8 207.9,308.8 207.4,308.5 206.9,308.4 206.4,309.4 205.9,312 205.4,311.2 204.9,312.4 204.4,312.3 203.9,314.6 203.4,315.5 202.9,319.9 202.4,316 201.9,319.4 201.4,318.3 200.9,319.8 200.4,319.2 199.9,319.5 199.4,318.9 198.9,321.1 198.4,321.2 197.9,319.3 197.4,319.3 196.9,319.4 196.4,323.9 195.9,323.2 195.4,326.6 194.9,323.2 194.4,323.5 193.9,324 193.4,325 192.9,321.7 192.4,319.9 191.9,323.3 191.4,323.2 190.9,324.4 190.4,324.3 189.9,326.5 189.4,326 188.9,328.6 188.4,327.6 187.9,326 187.4,330.4 186.9,329.1 186.4,330.1 185.9,332.6 185.4,330.4 184.9,328 184.4,329.7 183.9,330.8 183.4,331.3 182.9,331.1" fill="#a6d9a0"/><polygon points="182.9,322.7 183.4,320.9 183.9,319.2 184.4,319.5 184.9,319.8 185.4,320.5 185.9,320.3 186.4,319.6 186.9,318.1 187.4,318.7 187.9,317.6 188.4,318.2 188.9,317.4 189.4,317.6 189.9,318.1 190.4,316.3 190.9,316 191.4,314.6 191.9,312.4 192.4,311.5 192.9,313.3 193.4,312.9 193.9,315 194.4,313.6 194.9,314.7 195.4,315.1 195.9,315.5 196.4,313.9 196.9,310.5 197.4,309.1 197.9,310.8 198.4,311.6 198.9,312.5 199.4,310.4 199.9,309 200.4,309.4 200.9,311.1 201.4,307.7 201.9,309.2 202.4,305.2 202.9,307.6 203.4,305.8 203.9,305.8 204.4,304.2 204.9,302.9 205.4,302.6 205.9,302.9 206.4,300.9 206.9,299.5 207.4,299.5 207.9,301.3 208.4,301.1 208.9,301.5 209.4,300.8 209.9,300.5 210.4,297.8 210.9,297.6 211.4,296.7 211.9,294.2 212.4,293.2 212.9,294.3 213.4,294.2 213.9,295 214.4,295.7 214.9,297.5 215.4,297.9 215.9,297.9 216.4,296.3 216.9,295.3 217.4,297.5 217.9,298.1 218.4,297.6 218.9,297.4 219.4,298.7 219.9,297 220.4,296.2 220.9,295.2 221.4,298.8 221.9,299.5 222.4,298.4 222.9,296.1 223.4,296.2 223.9,298.3 224.4,299.6 224.9,299.4 225.4,299.1 225.9,299.7 226.4,298.6 226.9,299.3 227.4,298.7 227.9,298.3 228.4,296.7 228.9,298.1 229.4,299 229.9,299.5 230.4,299.4 230.9,298.7 231.4,298 231.9,299.3 232.4,300.1 232.9,303 233.4,300.9 233.9,299.6 234.4,299 234.9,299.4 235.4,301.5 235.9,302.6 236.4,300.9 236.9,299.5 237.4,299.5 237.9,300.6 238.4,303.4 238.9,303.9 239.4,303.6 239.9,303.1 240.4,302 240.9,301.6 241.4,300.5 241.9,297.9 242.4,295.8 242.9,297.3 243.4,298 243.9,299.1 244.4,301.1 244.9,300.6 245.4,303.8 245.9,304.5 246.4,307.2 246.9,306.7 247.4,307 247.9,306.3 248.4,307 248.9,306.7 249.4,308.6 249.9,309.2 250.4,310.1 250.9,308.8 251.4,312.1 251.9,312.9 252.4,314.6 252.9,315.1 253.4,316.3 253.9,317.5 254.4,316.8 254.9,316.7 255.4,316.2 255.9,317.5 256.4,318.5 256.9,320.8 257.4,319.4 257.9,318.5 258.4,319.7 258.9,319.5 259.4,321.7 259.9,322.4 260.4,323.3 260.9,324.6 261.4,325.3 261.9,326 262.4,326.3 262.9,328.2 263.4,327.3 263.9,327.4 264.4,327 264.9,327.5 265.4,328.5 265.9,328.9 266.4,329.3 266.9,329.7 267.4,330.1 267.9,331.5 268.4,332.5 268.9,331.7 269.4,332.1 269.9,332.9 270.4,334.3 270.9,334.1 271.4,334.3 271.9,333.9 272.4,333 272.9,331.8 273.4,333.8 273.9,334.4 274.4,338.4 274.9,338.5 275.4,339.7 275.9,339.8 276.4,340.7 276.9,340.5 277.4,339.4 277.9,340.4 278.4,340.4 278.9,340.2 279.4,341.2 279.9,341.3 280.4,340.8 280.9,340.7 281.4,340.9 281.9,342 282.4,344.8 282.9,344.8 283.4,348.5 283.9,347.9 284.4,347.4 284.9,345.8 285.4,345.2 285.9,346.1 286.4,346.2 286.9,345.7 287.4,345.5 287.9,346.2 288.4,348.4 288.9,347.9 289.4,348.6 289.9,347.9 290.4,350.3 290.9,350.3 291.4,352.7 291.9,352.1 292.4,352.5 292.9,352.6 293.4,351.1 293.9,351.8 294.4,351.9 294.9,355 295.4,353 295.9,355 296.4,354.2 296.9,354.7 297.4,355.3 297.9,355.2 298.4,355.6 298.9,355.9 299.4,353.1 299.9,351.8 300.4,352.7 300.9,352.3 301.4,353.8 301.9,352.5 302.4,352.5 302.4,353.7 301.9,354 301.4,356 300.9,354.2 300.4,353.7 299.9,352.9 299.4,354.8 298.9,357.3 298.4,357.1 297.9,356.7 297.4,356.7 296.9,356.6 296.4,355.5 295.9,356.7 295.4,354.8 294.9,356.8 294.4,354.1 293.9,355.2 293.4,352.1 292.9,354.5 292.4,353.5 291.9,353.6 291.4,353.7 290.9,351.8 290.4,351.7 289.9,349.7 289.4,349.9 288.9,349.8 288.4,349.9 287.9,348.5 287.4,346.8 286.9,347.4 286.4,347.2 285.9,347.3 285.4,346.6 284.9,347.9 284.4,348.7 283.9,348.9 283.4,350.3 282.9,347.7 282.4,346.3 281.9,343.9 281.4,342.3 280.9,343 280.4,342.2 279.9,343.3 279.4,343 278.9,341.8 278.4,341.8 277.9,341.7 277.4,341.5 276.9,342.3 276.4,342.8 275.9,341.1 275.4,340.8 274.9,340.3 274.4,340 273.9,336.2 273.4,335.2 272.9,334.2 272.4,334.3 271.9,335 271.4,336 270.9,335.7 270.4,336.7 269.9,334.7 269.4,333.8 268.9,332.9 268.4,334.3 267.9,333.4 267.4,332.3 266.9,331.3 266.4,330.6 265.9,330.9 265.4,329.9 264.9,329.9 264.4,328.6 263.9,328.7 263.4,328.9 262.9,329.5 262.4,328.1 261.9,327.8 261.4,327.4 260.9,325.7 260.4,324.7 259.9,324.2 259.4,322.9 258.9,321.5 258.4,320.8 257.9,320.7 257.4,321.6 256.9,322.1 256.4,320.1 255.9,318.9 255.4,317.7 254.9,318.8 254.4,317.9 253.9,319 253.4,317.8 252.9,316.5 252.4,316.2 251.9,314.7 251.4,314.4 250.9,311.1 250.4,311.1 249.9,310.5 249.4,309.9 248.9,307.7 248.4,308.4 247.9,308.2 247.4,308.1 246.9,308.4 246.4,309 245.9,305.7 245.4,305.1 244.9,302.5 244.4,302.3 243.9,300.9 243.4,299.4 242.9,298.8 242.4,297.6 241.9,299.5 241.4,302.1 240.9,302.7 240.4,303.3 239.9,304.9 239.4,305.3 238.9,305.1 238.4,304.7 237.9,301.9 237.4,301.8 236.9,301.3 236.4,302.5 235.9,303.6 235.4,302.5 234.9,301 234.4,300.5 233.9,300.6 233.4,302.1 232.9,304.5 232.4,301.6 231.9,300.4 231.4,299.4 230.9,299.9 230.4,300.4 229.9,301.2 229.4,301.3 228.9,299.9 228.4,298.3 227.9,299.8 227.4,300.8 226.9,300.9 226.4,300.4 225.9,301.1 225.4,301 224.9,300.9 224.4,300.9 223.9,299.8 223.4,298.9 222.9,298.3 222.4,299.8 221.9,300.9 221.4,300.2 220.9,296.9 220.4,297.8 219.9,298.6 219.4,300 218.9,300.8 218.4,299.5 217.9,299.5 217.4,299 216.9,296.7 216.4,297.4 215.9,299.4 215.4,299.6 214.9,298.9 214.4,297.5 213.9,297 213.4,295.7 212.9,295.6 212.4,294.9 211.9,295.9 211.4,298.1 210.9,298.5 210.4,299.5 209.9,302.8 209.4,302.5 208.9,302.8 208.4,302.8 207.9,302.6 207.4,301.8 206.9,301.9 206.4,302.1 205.9,305.2 205.4,304.3 204.9,304.5 204.4,305.6 203.9,306.9 203.4,308.4 202.9,309.4 202.4,306.7 201.9,310.4 201.4,309.8 200.9,312.5 200.4,310.7 199.9,310.5 199.4,312.4 198.9,313.7 198.4,313.3 197.9,312.5 197.4,310.5 196.9,312 196.4,315.4 195.9,316.8 195.4,317.1 194.9,315.8 194.4,315.2 193.9,316.2 193.4,314.5 192.9,316 192.4,313.7 191.9,314.4 191.4,317.5 190.9,317.5 190.4,318.2 189.9,320.3 189.4,319 188.9,319.6 188.4,319.8 187.9,320.3 187.4,320.1 186.9,320.2 186.4,320.8 185.9,322 185.4,322.2 184.9,321 184.4,320.9 183.9,321.7 183.4,322.8 182.9,324.2" fill="#1b8f1b"/><polygon points="182.9,353.1 183.4,352.4 183.9,355 184.4,354 184.9,352.6 185.4,353.1 185.9,354.8 186.4,354.1 186.9,353 187.4,353.4 187.9,354.7 188.4,352.9 188.9,353 189.4,353.6 189.9,354.4 190.4,353.8 190.9,353.5 191.4,353.4 191.9,352.6 192.4,351.1 192.9,351.9 193.4,352.7 193.9,353.6 194.4,354.8 194.9,353 195.4,352.6 195.9,352.5 196.4,352 196.9,352.7 197.4,353.2 197.9,354.1 198.4,354.7 198.9,354.3 199.4,353 199.9,352.6 200.4,352.5 200.9,353.8 201.4,354.1 201.9,352.9 202.4,352.3 202.9,351.4 203.4,351.1 203.9,351.3 204.4,352.6 204.9,352.9 205.4,352.5 205.9,351.8 206.4,353 206.9,352.3 207.4,352.2 207.9,353.2 208.4,352.7 208.9,354 209.4,353.6 209.9,350.3 210.4,350.9 210.9,352 211.4,350.9 211.9,352 212.4,352.6 212.9,351.5 213.4,352 213.9,352.6 214.4,352.4 214.9,352.6 215.4,352.1 215.9,352.2 216.4,352.6 216.9,352.6 217.4,352.6 217.9,352.1 218.4,352.7 218.9,353 219.4,353.7 219.9,354.8 220.4,353.8 220.9,351 221.4,352 221.9,352.9 222.4,353.7 222.9,353.7 223.4,352.3 223.9,352.3 224.4,353 224.9,351.7 225.4,351.9 225.9,352.3 226.4,351.9 226.9,353.3 227.4,351 227.9,351.5 228.4,352 228.9,354.1 229.4,354 229.9,353.7 230.4,354.6 230.9,354.2 231.4,354.8 231.9,353.9 232.4,353.6 232.9,353.7 233.4,352.7 233.9,354 234.4,354.3 234.9,353.2 235.4,352.4 235.9,353.3 236.4,354.5 236.9,355.6 237.4,355.1 237.9,354.8 238.4,354.9 238.9,355.7 239.4,356.1 239.9,355.2 240.4,356.1 240.9,356.3 241.4,355.5 241.9,356.7 242.4,356.8 242.9,356.7 243.4,357.2 243.9,357.3 244.4,356.6 244.9,355.4 245.4,354.6 245.9,355.5 246.4,357.1 246.9,357.9 247.4,357.1 247.9,355 248.4,354.7 248.9,355.2 249.4,356.1 249.9,354.6 250.4,354 250.9,355 251.4,357.4 251.9,357.1 252.4,355.4 252.9,354.5 253.4,354.3 253.9,355.1 254.4,354.3 254.9,351.9 255.4,353.8 255.9,354.4 256.4,353.9 256.9,354.6 257.4,354.6 257.9,354 258.4,355.5 258.9,355.1 259.4,353.5 259.9,352.5 260.4,352.7 260.9,353.4 261.4,354.1 261.9,354.8 262.4,355.7 262.9,354.6 263.4,354.7 263.9,353 264.4,352.4 264.9,353.9 265.4,353.1 265.9,352 266.4,352.6 266.9,353.2 267.4,353.9 267.9,353.6 268.4,353.9 268.9,353 269.4,352.2 269.9,352.5 270.4,353.5 270.9,353.6 271.4,354.3 271.9,353.6 272.4,353.8 272.9,354.7 273.4,354.6 273.9,354.3 274.4,353 274.9,352.4 275.4,353.3 275.9,354.3 276.4,355.2 276.9,354.5 277.4,351.9 277.9,352.3 278.4,353.1 278.9,353 279.4,353.4 279.9,353 280.4,351.1 280.9,353.4 281.4,354.5 281.9,352.1 282.4,352.5 282.9,353.1 283.4,353.4 283.9,352.9 284.4,352.8 284.9,352.8 285.4,353.6 285.9,352 286.4,349.7 286.9,350.3 287.4,351.7 287.9,351.4 288.4,350.9 288.9,351.7 289.4,352.4 289.9,351.3 290.4,352 290.9,353.1 291.4,351.5 291.9,350.9 292.4,351.5 292.9,350.9 293.4,351.6 293.9,350.7 294.4,350.6 294.9,350.9 295.4,351.2 295.9,351.4 296.4,349.9 296.9,351.2 297.4,351.3 297.9,349.8 298.4,349.2 298.9,350.5 299.4,350.5 299.9,349.5 300.4,349.4 300.9,351.9 301.4,351.8 301.9,351 302.4,349 302.4,355.5 301.9,356.2 301.4,357.7 300.9,357.5 300.4,356.1 299.9,354.3 299.4,356.1 298.9,356.7 298.4,356 297.9,355.2 297.4,356.2 296.9,356.4 296.4,356 295.9,356.2 295.4,357 294.9,356.8 294.4,355.7 293.9,355.4 293.4,356.7 292.9,355.7 292.4,356.5 291.9,358.4 291.4,357.2 290.9,358.2 290.4,357.3 289.9,357.1 289.4,357.2 288.9,357.5 288.4,357.5 287.9,356.4 287.4,356.6 286.9,355.7 286.4,354.3 285.9,356.8 285.4,358.4 284.9,358.8 284.4,357.8 283.9,358.1 283.4,358.2 282.9,358.4 282.4,357.4 281.9,358.3 281.4,359.6 280.9,358.4 280.4,357.6 279.9,358.1 279.4,359.7 278.9,358.9 278.4,358.7 277.9,357.6 277.4,357.8 276.9,359.2 276.4,359.9 275.9,359.2 275.4,358.6 274.9,358.2 274.4,357.9 273.9,359.2 273.4,359.7 272.9,360 272.4,359.8 271.9,358.7 271.4,359.8 270.9,360 270.4,358.9 269.9,358 269.4,357 268.9,358.7 268.4,359.6 267.9,359 267.4,358.7 266.9,358.4 266.4,358 265.9,358.6 265.4,358.6 264.9,358.6 264.4,357.5 263.9,359.2 263.4,359.5 262.9,359.7 262.4,361 261.9,361.4 261.4,358.9 260.9,358.5 260.4,358.4 259.9,358.3 259.4,359.1 258.9,360 258.4,360.9 257.9,360.8 257.4,360.6 256.9,359.6 256.4,358.8 255.9,359.4 255.4,358.9 254.9,359.4 254.4,359.1 253.9,360.2 253.4,359 252.9,359.5 252.4,361.6 251.9,363.1 251.4,362.6 250.9,361 250.4,360.2 249.9,362.2 249.4,361.3 248.9,360 248.4,360.1 247.9,361.1 247.4,362.1 246.9,362.8 246.4,363.1 245.9,361.6 245.4,360.8 244.9,360.3 244.4,361.6 243.9,362.4 243.4,362.6 242.9,363 242.4,362.7 241.9,362.3 241.4,362.4 240.9,362.1 240.4,361.2 239.9,361.2 239.4,361.2 238.9,360.7 238.4,359.7 237.9,360.4 237.4,361.1 236.9,360.4 236.4,359.9 235.9,358.3 235.4,357.8 234.9,358.3 234.4,359 233.9,359 233.4,358.8 232.9,358.5 232.4,358.4 231.9,359.3 231.4,359.9 230.9,360.6 230.4,360.2 229.9,358.6 229.4,359.4 228.9,360.4 228.4,357.6 227.9,356.2 227.4,358.3 226.9,358.9 226.4,359.3 225.9,358.6 225.4,358.4 224.9,358.2 224.4,358.5 223.9,357.9 223.4,358.5 222.9,358.9 222.4,358.5 221.9,358 221.4,357 220.9,356.9 220.4,358.7 219.9,360.4 219.4,358.6 218.9,357.8 218.4,358.9 217.9,357.7 217.4,357.4 216.9,358.7 216.4,358.8 215.9,357.6 215.4,357.2 214.9,358.5 214.4,358 213.9,357.3 213.4,357.3 212.9,357 212.4,357.8 211.9,357.4 211.4,357.7 210.9,358.4 210.4,356.2 209.9,355.7 209.4,358.3 208.9,359.1 208.4,357.5 207.9,358.2 207.4,358.8 206.9,358.6 206.4,358.5 205.9,358.1 205.4,357.2 204.9,358.3 204.4,358.3 203.9,356.3 203.4,355.9 202.9,358.1 202.4,358.5 201.9,360.1 201.4,360 200.9,359.6 200.4,358.6 199.9,357.8 199.4,359.6 198.9,359.1 198.4,359.6 197.9,359 197.4,358.3 196.9,358.1 196.4,357.3 195.9,359.3 195.4,359.6 194.9,358.3 194.4,359.8 193.9,359 193.4,357.6 192.9,357.2 192.4,357.9 191.9,358.4 191.4,359.1 190.9,359.7 190.4,360 189.9,361 189.4,359.8 188.9,357.8 188.4,359.8 187.9,359.4 187.4,359.2 186.9,358.9 186.4,359.9 185.9,360.2 185.4,358.8 184.9,357.4 184.4,359.7 183.9,360 183.4,358.6 182.9,358.9" fill="#bdbdbd"/><polygon points="182.9,355.3 183.4,355.7 183.9,356.8 184.4,356 184.9,354.2 185.4,354.9 185.9,356.8 186.4,357.2 186.9,355.6 187.4,356.1 187.9,356 188.4,355 188.9,354.8 189.4,356.2 189.9,357.5 190.4,356.3 190.9,356.3 191.4,356.2 191.9,355 192.4,353.8 192.9,354.2 193.4,354.9 193.9,355.5 194.4,355.9 194.9,354.8 195.4,355.7 195.9,354.9 196.4,353.9 196.9,354.6 197.4,354.7 197.9,355.5 198.4,356.8 198.9,356.2 199.4,355.3 199.9,354.7 200.4,355.3 200.9,356.3 201.4,355.8 201.9,355.7 202.4,354.9 202.9,353.6 203.4,353.9 203.9,352.2 204.4,354.3 204.9,354.8 205.4,353.6 205.9,353.2 206.4,354.9 206.9,354.5 207.4,354.5 207.9,354.1 208.4,354.2 208.9,355.6 209.4,355.3 209.9,351.5 210.4,352.8 210.9,353.4 211.4,353.3 211.9,353.7 212.4,353.8 212.9,353.7 213.4,353.3 213.9,354.1 214.4,354.3 214.9,355 215.4,353.8 215.9,353.8 216.4,355.3 216.9,354.4 217.4,354.1 217.9,354.1 218.4,354.8 218.9,354.6 219.4,354.6 219.9,356.1 220.4,354.7 220.9,353.4 221.4,354.3 221.9,355.2 222.4,355.4 222.9,355.5 223.4,354.6 223.9,354.8 224.4,355 224.9,354.5 225.4,354.6 225.9,354.4 226.4,354.5 226.9,354.5 227.4,354.2 227.9,353.2 228.4,354 228.9,356.4 229.4,355.5 229.9,355.8 230.4,357.4 230.9,357 231.4,356.4 231.9,355.5 232.4,355.4 232.9,355.8 233.4,354 233.9,356.2 234.4,355 234.9,354.9 235.4,354 235.9,354.7 236.4,356.2 236.9,358.2 237.4,356.6 237.9,356.7 238.4,356.3 238.9,357 239.4,357.4 239.9,357.7 240.4,357.2 240.9,358.5 241.4,358.4 241.9,358.7 242.4,359.3 242.9,358.2 243.4,359.2 243.9,358.6 244.4,358.3 244.9,356.1 245.4,356.6 245.9,357.9 246.4,360.3 246.9,359.6 247.4,358.4 247.9,357.6 248.4,356.5 248.9,356 249.4,357.8 249.9,357.6 250.4,356.7 250.9,357.4 251.4,359.8 251.9,359 252.4,358 252.9,356.1 253.4,356 253.9,356.7 254.4,356.9 254.9,354.6 255.4,356.4 255.9,355.7 256.4,356.2 256.9,356.6 257.4,356.4 257.9,356.4 258.4,357.3 258.9,357.7 259.4,355.9 259.9,354.7 260.4,354.7 260.9,354.4 261.4,354.9 261.9,356.8 262.4,357.4 262.9,356.6 263.4,355.5 263.9,355.5 264.4,354.1 264.9,355.4 265.4,354.6 265.9,354.2 266.4,354.8 266.9,354.8 267.4,354.9 267.9,356.2 268.4,355.9 268.9,355 269.4,354.2 269.9,354.8 270.4,355.9 270.9,356.2 271.4,356.1 271.9,356.1 272.4,355.8 272.9,356.6 273.4,356.5 273.9,354.9 274.4,354.9 274.9,354.4 275.4,354.9 275.9,356 276.4,357.1 276.9,356.3 277.4,354.2 277.9,354.4 278.4,355.5 278.9,355.1 279.4,356.1 279.9,353.8 280.4,353.8 280.9,355.5 281.4,356.1 281.9,354.2 282.4,354.4 282.9,355 283.4,354.3 283.9,353.7 284.4,354.7 284.9,355.3 285.4,355.5 285.9,354.4 286.4,351.4 286.9,352.5 287.4,352.6 287.9,352.8 288.4,353.6 288.9,354.2 289.4,354.1 289.9,352.2 290.4,354 290.9,355.3 291.4,353.5 291.9,354.2 292.4,354.1 292.9,352.6 293.4,353.7 293.9,353 294.4,352.2 294.9,352.8 295.4,353.1 295.9,352.8 296.4,352.7 296.9,353.8 297.4,352.6 297.9,351.7 298.4,351.6 298.9,352.7 299.4,352.3 299.9,350.9 300.4,351.7 300.9,353.9 301.4,353 301.9,352.4 302.4,351.9 302.4,353.5 301.9,354 301.4,354.4 300.9,355.3 300.4,354.1 299.9,352.8 299.4,353.8 298.9,354.7 298.4,353 297.9,353 297.4,354.1 296.9,355 296.4,354.1 295.9,355.5 295.4,354.6 294.9,354.5 294.4,353.8 293.9,354.4 293.4,354.7 292.9,354.4 292.4,355.6 291.9,355.4 291.4,354.6 290.9,356.6 290.4,355 289.9,354.4 289.4,356.1 288.9,355.4 288.4,355.1 287.9,354.9 287.4,354.5 286.9,353.6 286.4,352.6 285.9,356.5 285.4,356.9 284.9,356.7 284.4,356.7 283.9,355.6 283.4,356.7 282.9,356.5 282.4,356.2 281.9,355.6 281.4,357.1 280.9,357 280.4,355.2 279.9,356 279.4,357.7 278.9,356.4 278.4,356.7 277.9,356.3 277.4,355.6 276.9,357.4 276.4,358.3 275.9,357.3 275.4,356.6 274.9,355.8 274.4,355.9 273.9,356.5 273.4,358.1 272.9,359 272.4,357.3 271.9,357.5 271.4,358.3 270.9,357.7 270.4,357 269.9,356.1 269.4,355.8 268.9,356.4 268.4,357.7 267.9,357.7 267.4,356.1 266.9,356.2 266.4,356.2 265.9,356.1 265.4,356 264.9,357 264.4,356 263.9,356.8 263.4,358.1 262.9,357.7 262.4,358.8 261.9,358.4 261.4,356.7 260.9,356.6 260.4,356.4 259.9,355.9 259.4,357.5 258.9,359 258.4,358.4 257.9,357.7 257.4,358 256.9,358 256.4,357.6 255.9,357.2 255.4,357.3 254.9,356.4 254.4,358.4 253.9,357.8 253.4,357.6 252.9,358.2 252.4,359.3 251.9,360.9 251.4,361.1 250.9,359.2 250.4,357.9 249.9,359.3 249.4,359.8 248.9,358.2 248.4,358.6 247.9,359.2 247.4,360.4 246.9,361.7 246.4,361.4 245.9,359.6 245.4,357.8 244.9,357.8 244.4,359.6 243.9,360.4 243.4,361 242.9,359.7 242.4,360.7 241.9,360 241.4,360.1 240.9,360 240.4,359.5 239.9,358.8 239.4,359.4 238.9,358.5 238.4,358.4 237.9,358.3 237.4,359.1 236.9,359.5 236.4,357.7 235.9,356.2 235.4,355.6 234.9,356.5 234.4,356.8 233.9,357.6 233.4,356.4 232.9,357.6 232.4,357.2 231.9,356.5 231.4,357.6 230.9,358.5 230.4,359.2 229.9,357.3 229.4,357.3 228.9,357.9 228.4,355.6 227.9,354.4 227.4,355.7 226.9,356.1 226.4,355.8 225.9,355.9 225.4,356 224.9,356.1 224.4,356.6 223.9,356.1 223.4,356.3 222.9,356.9 222.4,357 221.9,356.3 221.4,355.9 220.9,355 220.4,356.7 219.9,357.8 219.4,356.5 218.9,355.9 218.4,356.1 217.9,355.8 217.4,356.1 216.9,356.3 216.4,357 215.9,355.7 215.4,355.2 214.9,356.6 214.4,355.8 213.9,356 213.4,354.9 212.9,355 212.4,355.7 211.9,355.3 211.4,355 210.9,355.6 210.4,354.4 209.9,353.4 209.4,357.4 208.9,357.3 208.4,355.5 207.9,356.6 207.4,356.1 206.9,355.7 206.4,356.3 205.9,354.7 205.4,355.9 204.9,356.4 204.4,355.7 203.9,354 203.4,355.1 202.9,354.9 202.4,356.4 201.9,357.5 201.4,357.6 200.9,357.7 200.4,356.4 199.9,356.2 199.4,356.6 198.9,358.6 198.4,358.5 197.9,357.1 197.4,357 196.9,356.3 196.4,355.5 195.9,356.1 195.4,356.9 194.9,356.4 194.4,357.9 193.9,357.1 193.4,356.7 192.9,355.4 192.4,355.3 191.9,356.3 191.4,357.6 190.9,357.6 190.4,357.2 189.9,358.8 189.4,358.1 188.9,356.3 188.4,357.3 187.9,357 187.4,357.2 186.9,357 186.4,358.2 185.9,358.5 185.4,357.2 184.9,356.6 184.4,357.5 183.9,358.2 183.4,356.8 182.9,356.7" fill="#111111"/><path d="M182.4,281.2 V373 H302.7" fill="none" stroke="#222" stroke-width="1.2"/><line x1="180.6" y1="356.3" x2="182.4" y2="356.3" stroke="#222" stroke-width="1"/><line x1="180.6" y1="330.4" x2="182.4" y2="330.4" stroke="#222" stroke-width="1"/><line x1="180.6" y1="304.5" x2="182.4" y2="304.5" stroke="#222" stroke-width="1"/><text x="182.4" y="385.4" font-size="11" text-anchor="middle" fill="#222">−100</text><text x="242.6" y="385.4" font-size="11" text-anchor="middle" fill="#222">0</text><text x="302.7" y="385.4" font-size="11" text-anchor="middle" fill="#222">100</text><line x1="224.6" y1="371.2" x2="224.6" y2="373" stroke="#222" stroke-width="0.9"/><line x1="260.6" y1="371.2" x2="260.6" y2="373" stroke="#222" stroke-width="0.9"/><line x1="242.6" y1="280.7" x2="242.6" y2="373" stroke="#2a2a2a" stroke-width="1.8" stroke-dasharray="7,7.3"/><rect x="253" y="283.4" width="11.2" height="6.8" fill="#a6d9a0"/><line x1="253" y1="286.8" x2="264.2" y2="286.8" stroke="#1b8f1b" stroke-width="1.8"/><rect x="253" y="298.8" width="11.2" height="6.8" fill="#bdbdbd"/><line x1="253" y1="302.2" x2="264.2" y2="302.2" stroke="#000" stroke-width="1.8"/><text x="267.8" y="291.3" font-size="11" fill="#222">GRAB</text><text x="299.3" y="294.8" font-size="6.6" fill="#222">ado1.0</text><text x="267.8" y="306.5" font-size="11" fill="#222">GRAB</text><text x="299.3" y="310" font-size="6.6" fill="#222">ado1.0mut</text><polygon points="34,489.1 34.5,489.6 35,489.5 35.5,488.9 36,488.9 36.5,489.2 37,489.8 37.5,490.3 38,490.5 38.5,490.5 39,489.6 39.5,489 40,489.8 40.5,490.6 41,489.3 41.5,488.4 42,488.2 42.5,488.3 43,489 43.5,489.6 44,489.8 44.5,488.4 45,488.2 45.5,488.7 46,489.3 46.5,489.8 47,490 47.5,490.2 48,490.8 48.5,490.4 49,489.7 49.5,487.9 50,488.8 50.5,489.9 51,490.7 51.5,489.7 52,489.1 52.5,489.8 53,490.4 53.5,489.9 54,489.3 54.5,489.2 55,489.6 55.5,489.8 56,490 56.5,490 57,489.7 57.5,489.8 58,489.2 58.5,489.7 59,489.4 59.5,488.5 60,489.2 60.5,489.1 61,489.4 61.5,489.9 62,489.4 62.5,489.2 63,489.5 63.5,489.2 64,489.1 64.5,488.8 65,490.1 65.5,489.4 66,488.4 66.5,488.5 67,489 67.5,489.6 68,488.9 68.5,487.9 69,488.1 69.5,490.2 70,490.2 70.5,489.4 71,489.1 71.5,489.8 72,490.5 72.5,489.7 73,489 73.5,488.7 74,489 74.5,489 75,489 75.5,489.3 76,490.7 76.5,491.3 77,490.7 77.5,490 78,489.3 78.5,490.3 79,490.2 79.5,489.9 80,489.6 80.5,489.8 81,490.4 81.5,489.1 82,489.3 82.5,489.4 83,489.6 83.5,490.4 84,489.7 84.5,490 85,489.8 85.5,490 86,490.4 86.5,490.8 87,490.1 87.5,489 88,489.3 88.5,488 89,488.8 89.5,490.2 90,490.4 90.5,490.5 91,489.7 91.5,489.5 92,489.4 92.5,489.3 93,489.2 93.5,489.5 94,490.1 94.5,490.3 95,490.5 95.5,491.4 96,491.2 96.5,489.9 97,490 97.5,490.4 98,490.7 98.5,490.6 99,490.3 99.5,490.2 100,489.9 100.5,490.1 101,490 101.5,490.1 102,490.4 102.5,490.2 103,488.7 103.5,489 104,490.3 104.5,490 105,489.7 105.5,489.1 106,490 106.5,490.8 107,490.6 107.5,490.8 108,490.2 108.5,489.9 109,490.1 109.5,490.8 110,490.8 110.5,490.6 111,489.8 111.5,490.3 112,491 112.5,490 113,490.1 113.5,490.7 114,491.1 114.5,491.1 115,491.1 115.5,491.1 116,490.8 116.5,490.8 117,490.5 117.5,490.3 118,490.7 118.5,490.6 119,490.6 119.5,491 120,490.8 120.5,490.2 121,490.5 121.5,492.2 122,491.5 122.5,490.2 123,491.3 123.5,491.6 124,491.1 124.5,492.2 125,492.2 125.5,490.8 126,490.8 126.5,490.4 127,491.2 127.5,491.8 128,490.2 128.5,491.7 129,493 129.5,491.5 130,491.8 130.5,493 131,492.7 131.5,491.6 132,492.1 132.5,492.2 133,491.5 133.5,491.1 134,490.8 134.5,492.3 135,492.7 135.5,493.3 136,493.6 136.5,492.8 137,492.1 137.5,491.6 138,492.5 138.5,493.5 139,494.1 139.5,493.8 140,493.5 140.5,492.5 141,492.1 141.5,491.3 142,493 142.5,493.6 143,493.6 143.5,493.5 144,493.1 144.5,494.1 145,493.1 145.5,492.3 146,492.4 146.5,492.6 147,492.9 147.5,492.9 148,494.3 148.5,494.3 149,493.3 149.5,494 150,495.1 150.5,494.1 151,493.4 151.5,494.3 152,494.1 152.5,493.2 153,493.4 153.5,493.9 153.5,497 153,496.8 152.5,496.2 152,497 151.5,496.9 151,496.5 150.5,496.8 150,498 149.5,497 149,496.3 148.5,497.1 148,497.4 147.5,496.5 147,496 146.5,496.1 146,495.6 145.5,495.1 145,496.8 144.5,497.2 144,496.8 143.5,496.3 143,496.2 142.5,496.5 142,495.6 141.5,494.3 141,494.8 140.5,496.9 140,496.3 139.5,496.6 139,496.9 138.5,496.2 138,495.4 137.5,495.7 137,495 136.5,495.6 136,497 135.5,496.6 135,496.1 134.5,495.7 134,495.2 133.5,494.3 133,494.5 132.5,495.2 132,495.3 131.5,494.7 131,495.4 130.5,496 130,494.8 129.5,494.7 129,495.8 128.5,494.6 128,493 127.5,494.4 127,494.5 126.5,493.4 126,493.6 125.5,493.6 125,494.9 124.5,495.2 124,494.1 123.5,495.1 123,494.2 122.5,493.4 122,494.7 121.5,494.9 121,493.8 120.5,493.3 120,494.2 119.5,494.3 119,493.5 118.5,493.9 118,493.7 117.5,493.1 117,493.9 116.5,493.8 116,493.6 115.5,493.7 115,493.8 114.5,493.7 114,494.2 113.5,494.1 113,493.6 112.5,493.1 112,493.6 111.5,493.3 111,493.2 110.5,494.2 110,493.8 109.5,493.9 109,493.3 108.5,492.9 108,493.4 107.5,493.7 107,493.2 106.5,493.6 106,493.4 105.5,492 105,492.3 104.5,493.5 104,493 103.5,492 103,491.6 102.5,492.9 102,493.2 101.5,492.7 101,493.5 100.5,492.9 100,492.5 99.5,493.1 99,493.7 98.5,494.4 98,494 97.5,493.2 97,493.2 96.5,492.9 96,494.1 95.5,494 95,493.3 94.5,493.1 94,492.9 93.5,492.7 93,492 92.5,492.1 92,492.4 91.5,492.9 91,493.2 90.5,493.6 90,493.3 89.5,493 89,492.4 88.5,491.6 88,492.1 87.5,492.8 87,493.7 86.5,493.4 86,493.1 85.5,493 85,492.8 84.5,493.6 84,493.3 83.5,493.1 83,492.6 82.5,492.4 82,492.3 81.5,492.9 81,493.2 80.5,492.7 80,492.5 79.5,492.5 79,493.1 78.5,493 78,492.5 77.5,492.9 77,493.5 76.5,493.9 76,493.6 75.5,492.8 75,492.2 74.5,492.1 74,492.1 73.5,491.6 73,492.6 72.5,493.2 72,493.4 71.5,492.7 71,492.2 70.5,492.8 70,493.1 69.5,493.1 69,491.8 68.5,491.1 68,492.6 67.5,492.3 67,492.2 66.5,492 66,491 65.5,492.2 65,492.7 64.5,492 64,492.6 63.5,493 63,492.4 62.5,492.1 62,492.4 61.5,493.5 61,493.1 60.5,492.3 60,492.1 59.5,491.9 59,492.5 58.5,492.9 58,492.4 57.5,492.7 57,492.3 56.5,493.3 56,493.5 55.5,493.3 55,492.7 54.5,492 54,492.4 53.5,493 53,493 52.5,492.8 52,492.6 51.5,492.8 51,493.4 50.5,492.9 50,491.8 49.5,492.3 49,492.6 48.5,493 48,493.8 47.5,494.1 47,492.8 46.5,492.6 46,492.1 45.5,492.6 45,491.4 44.5,492.2 44,492.5 43.5,492.7 43,491.8 42.5,491 42,491.6 41.5,490.9 41,492.5 40.5,493.7 40,493.2 39.5,491.8 39,492.4 38.5,493.4 38,493.5 37.5,493.3 37,492.9 36.5,492.6 36,492.2 35.5,491.6 35,492.4 34.5,493 34,492.7" fill="#bdbdbd"/><polygon points="34,490.5 34.5,490.3 35,489.9 35.5,489.5 36,489.2 36.5,490.9 37,490.8 37.5,490.7 38,491 38.5,492 39,490.2 39.5,489.5 40,490.3 40.5,491 41,490.6 41.5,489.1 42,487.7 42.5,489.3 43,489.8 43.5,490.3 44,490.3 44.5,489.2 45,489.9 45.5,489.6 46,489.2 46.5,490.5 47,491.2 47.5,490.2 48,492.3 48.5,491.3 49,489.7 49.5,490.2 50,488.9 50.5,491 51,490.9 51.5,489.6 52,490.7 52.5,490.5 53,491 53.5,490.9 54,489.7 54.5,489.8 55,490.2 55.5,490.2 56,490.9 56.5,490.7 57,490.2 57.5,490.5 58,489.8 58.5,490 59,490.1 59.5,489.5 60,489.7 60.5,489.9 61,490.5 61.5,490.5 62,489.9 62.5,489.7 63,490.8 63.5,490.4 64,490.1 64.5,490.7 65,490.4 65.5,490.2 66,489.1 66.5,489.1 67,489.9 67.5,490.2 68,489.7 68.5,488.7 69,489.7 69.5,490.6 70,490.9 70.5,490.1 71,489.8 71.5,490 72,490.7 72.5,491.2 73,489.9 73.5,489.8 74,489.9 74.5,489.8 75,490.6 75.5,490 76,491 76.5,491.7 77,490.8 77.5,491.2 78,490.7 78.5,490.7 79,490.9 79.5,490 80,490.8 80.5,491.1 81,490.9 81.5,490.3 82,489.9 82.5,490.5 83,490.8 83.5,491.2 84,489.7 84.5,490.4 85,490.9 85.5,490.6 86,490.6 86.5,491.4 87,491.4 87.5,490.7 88,489.7 88.5,489.3 89,490.6 89.5,490.4 90,491.1 90.5,490.5 91,491.3 91.5,491 92,490.4 92.5,489.9 93,489.6 93.5,490.5 94,490.9 94.5,490.6 95,491.2 95.5,491 96,491.3 96.5,489.8 97,490.3 97.5,491.5 98,491.3 98.5,492.6 99,490.8 99.5,491 100,490.3 100.5,490.6 101,490.7 101.5,490.1 102,490.5 102.5,491.3 103,488.8 103.5,490.3 104,490.5 104.5,490.7 105,490.4 105.5,489.7 106,490.5 106.5,491.6 107,491.3 107.5,492 108,491.5 108.5,490.1 109,490.3 109.5,491.8 110,491.1 110.5,491.9 111,490.6 111.5,490.9 112,492.3 112.5,490.4 113,490.4 113.5,491.5 114,492.1 114.5,491.7 115,491.4 115.5,491.6 116,491.3 116.5,491.5 117,491.3 117.5,491.1 118,491.4 118.5,492.1 119,491.1 119.5,492.5 120,491.5 120.5,491.3 121,491.6 121.5,492.1 122,491.1 122.5,490.8 123,490.5 123.5,492.5 124,491.8 124.5,492.1 125,492.1 125.5,491.6 126,491.3 126.5,491.2 127,492.1 127.5,491.8 128,491 128.5,492.2 129,494 129.5,492.8 130,492.6 130.5,493.3 131,493.6 131.5,492.3 132,493.4 132.5,492.7 133,492.4 133.5,492.4 134,492.2 134.5,493 135,493.8 135.5,494.8 136,494.4 136.5,494.3 137,492.6 137.5,493 138,492.6 138.5,494 139,494.5 139.5,494.7 140,494.5 140.5,493.6 141,492.5 141.5,492.1 142,493.6 142.5,494.9 143,494.4 143.5,494 144,494.5 144.5,495.3 145,494.3 145.5,492.7 146,493.6 146.5,493.3 147,493.7 147.5,494.4 148,494.7 148.5,495.6 149,493.2 149.5,494.7 150,494.8 150.5,494.1 151,493.8 151.5,495.2 152,494.8 152.5,493.7 153,495 153.5,494.2 153.5,495.7 153,496.3 152.5,494.7 152,495.7 151.5,496.6 151,495.3 150.5,495.5 150,496.8 149.5,496.3 149,495.6 148.5,496.7 148,496.8 147.5,495.8 147,495 146.5,494.7 146,495 145.5,494.1 145,495.2 144.5,496.7 144,495.7 143.5,495.4 143,496.4 142.5,496.3 142,495.4 141.5,493.7 141,494.1 140.5,495.1 140,496.4 139.5,496.1 139,495.6 138.5,495.7 138,494.1 137.5,494.4 137,493.9 136.5,496.4 136,496.4 135.5,496.1 135,495.5 134.5,494.9 134,493.8 133.5,493.6 133,494.1 132.5,494.8 132,494.8 131.5,494.5 131,494.7 130.5,495.2 130,494.6 129.5,494.5 129,495.5 128.5,493.5 128,492.6 127.5,493.1 127,493.9 126.5,493.2 126,493.3 125.5,492.8 125,493.8 124.5,493.7 124,494 123.5,494.1 123,493.2 122.5,493 122,493.5 121.5,493.9 121,492.6 120.5,493.7 120,493 119.5,494.1 119,493 118.5,494 118,493.2 117.5,493.4 117,493.3 116.5,492.9 116,493.1 115.5,493.1 115,492.4 114.5,493.2 114,493.4 113.5,493.9 113,492.1 112.5,493.1 112,494.2 111.5,492.2 111,492.9 110.5,493.4 110,493.3 109.5,492.7 109,491.7 108.5,492 108,493.1 107.5,493.1 107,492.8 106.5,492.8 106,492.5 105.5,491.1 105,491.7 104.5,492.2 104,491.9 103.5,491.6 103,491.1 102.5,493.3 102,492 101.5,491.7 101,492.6 100.5,492.1 100,491.6 99.5,492.5 99,492.3 98.5,493.8 98,493.2 97.5,492.6 97,492.4 96.5,491.2 96,493.7 95.5,493.4 95,493.1 94.5,492.6 94,492.4 93.5,492.2 93,491.6 92.5,491.2 92,491.7 91.5,492.6 91,492.6 90.5,492.1 90,492.6 89.5,492.4 89,492.3 88.5,490.4 88,491 87.5,492.6 87,493 86.5,493 86,492.4 85.5,492.1 85,492.9 84.5,492.3 84,491.7 83.5,492.5 83,491.9 82.5,491.8 82,492.1 81.5,491.3 81,492.2 80.5,492.4 80,492.2 79.5,491.7 79,492.4 78.5,492.3 78,492 77.5,492.4 77,492.2 76.5,493.3 76,492.4 75.5,491.6 75,491.8 74.5,491.1 74,491.4 73.5,492.1 73,492.3 72.5,492.3 72,492.3 71.5,491.7 71,491.3 70.5,491.4 70,492.5 69.5,492.1 69,491.3 68.5,490 68,491.2 67.5,491.9 67,491.1 66.5,490.5 66,490.7 65.5,491.9 65,491.9 64.5,492.3 64,492.3 63.5,492.3 63,492.6 62.5,491.1 62,491.9 61.5,492.6 61,492.1 60.5,491.3 60,490.9 59.5,491.1 59,491.3 58.5,491.8 58,491.3 57.5,491.8 57,491.7 56.5,492.6 56,492.7 55.5,493 55,491.8 54.5,491.4 54,491.7 53.5,492 53,493.4 52.5,491.9 52,492 51.5,491.5 51,492.6 50.5,492.3 50,490.5 49.5,492 49,491.5 48.5,493 48,493.8 47.5,492.6 47,492.8 46.5,492.3 46,491.1 45.5,491 45,491.2 44.5,490.9 44,492.4 43.5,491.6 43,490.8 42.5,490.4 42,490.2 41.5,490.3 41,491.9 40.5,492.3 40,491.5 39.5,490.7 39,492.2 38.5,493.1 38,492.6 37.5,492.1 37,492.1 36.5,491.8 36,490.9 35.5,491.3 35,491.1 34.5,491.8 34,491.9" fill="#111111"/><polygon points="34,488.1 34.5,489.1 35,489.8 35.5,489.9 36,489.9 36.5,489.1 37,489.1 37.5,489.6 38,490.2 38.5,489.3 39,488.9 39.5,488.8 40,489.4 40.5,489.6 41,490 41.5,490.4 42,490.1 42.5,490.1 43,490.1 43.5,489.8 44,489.6 44.5,489.4 45,489.5 45.5,489.3 46,489.5 46.5,489.1 47,489.6 47.5,489.3 48,489.3 48.5,488.7 49,487.9 49.5,489.2 50,489.4 50.5,490.5 51,489.3 51.5,489.3 52,488.7 52.5,489.2 53,488.8 53.5,489 54,489.2 54.5,490.1 55,490.5 55.5,490.3 56,490.1 56.5,489.8 57,490.1 57.5,488.9 58,489.2 58.5,489.2 59,489.2 59.5,489.7 60,488.7 60.5,489.3 61,489.4 61.5,489.6 62,489.2 62.5,489.5 63,489.1 63.5,489.4 64,488.9 64.5,489 65,489.6 65.5,490.4 66,490.3 66.5,489.8 67,489.3 67.5,488.8 68,488.4 68.5,488.7 69,489.3 69.5,490 70,489.6 70.5,489.3 71,488.8 71.5,489 72,490.1 72.5,490.6 73,490.2 73.5,490.2 74,490.1 74.5,489.9 75,490.8 75.5,490.7 76,490.7 76.5,490.4 77,490 77.5,490.2 78,490.3 78.5,490 79,489.4 79.5,489.5 80,489.7 80.5,489.5 81,489.5 81.5,489.3 82,489.5 82.5,489.2 83,489.1 83.5,488.9 84,488.9 84.5,489.6 85,490.2 85.5,490.9 86,490 86.5,490.1 87,489.7 87.5,489.5 88,489.9 88.5,489.7 89,490.5 89.5,490.8 90,490.5 90.5,490.2 91,489.3 91.5,488.8 92,488.7 92.5,489 93,489.7 93.5,490 94,490.1 94.5,490 95,489.6 95.5,489.4 96,488.8 96.5,488.8 97,488.6 97.5,488.7 98,489.2 98.5,488.5 99,489.5 99.5,488.9 100,489.5 100.5,489.4 101,489.9 101.5,489.4 102,489.6 102.5,488.6 103,487.8 103.5,488.6 104,489.1 104.5,488.1 105,486.5 105.5,487.6 106,488.5 106.5,488.7 107,487.3 107.5,487.1 108,486.9 108.5,487.7 109,488.3 109.5,487.5 110,487 110.5,486.6 111,487 111.5,487.2 112,486.5 112.5,487.2 113,488.1 113.5,487 114,487.5 114.5,485.8 115,485.9 115.5,484.6 116,484.3 116.5,484.3 117,485 117.5,485 118,483.8 118.5,484.5 119,484 119.5,483.3 120,483.8 120.5,483.4 121,483.2 121.5,483.5 122,482.2 122.5,483.5 123,483 123.5,482.1 124,482.4 124.5,482.1 125,482 125.5,479.4 126,479.7 126.5,479.6 127,479 127.5,480.1 128,479.5 128.5,480 129,479.4 129.5,478.2 130,477.4 130.5,477.2 131,477.5 131.5,477.4 132,477 132.5,478 133,478 133.5,477.2 134,475.4 134.5,475.7 135,476.4 135.5,476.1 136,475.2 136.5,474.7 137,473.3 137.5,475.2 138,476 138.5,473.9 139,473.9 139.5,472.7 140,474 140.5,473.7 141,473.6 141.5,473.1 142,472 142.5,472.9 143,471.4 143.5,471.9 144,471 144.5,470.5 145,470 145.5,469.8 146,470.4 146.5,470.4 147,468.6 147.5,470 148,470.5 148.5,471.7 149,469.4 149.5,468.2 150,467.2 150.5,467.6 151,467.9 151.5,466.5 152,466.5 152.5,465.7 153,463.8 153.5,464.9 153.5,473.4 153,473.7 152.5,474.1 152,475.7 151.5,477.1 151,476.5 150.5,475.5 150,475.7 149.5,476.4 149,477.6 148.5,479.1 148,478.7 147.5,478.7 147,478.6 146.5,478.2 146,478.9 145.5,479.1 145,479.4 144.5,478.5 144,479.3 143.5,479 143,480.6 142.5,480.5 142,481.3 141.5,480.8 141,480.5 140.5,480.9 140,481.1 139.5,479.9 139,480.8 138.5,481.8 138,482.7 137.5,482.3 137,482.1 136.5,483 136,483 135.5,484.1 135,482.8 134.5,483.9 134,484.5 133.5,483.8 133,484.4 132.5,484.5 132,484.4 131.5,483.5 131,484.7 130.5,485.5 130,485.6 129.5,484.9 129,485.6 128.5,486.6 128,487.7 127.5,486.4 127,486.9 126.5,486.1 126,485.4 125.5,487.1 125,488.1 124.5,489.5 124,489.9 123.5,489.1 123,489.4 122.5,490.1 122,490.1 121.5,489.3 121,489.4 120.5,490.1 120,489.5 119.5,490.4 119,490 118.5,490.5 118,491 117.5,490.8 117,490.2 116.5,490.8 116,489.9 115.5,490.9 115,491.2 114.5,493.4 114,492.7 113.5,493.7 113,492.8 112.5,491.9 112,493.2 111.5,492 111,492.6 110.5,491.1 110,492.4 109.5,493 109,493.8 108.5,492 108,492.6 107.5,491.8 107,492.9 106.5,492.8 106,493.2 105.5,492.7 105,492.3 104.5,492.6 104,493.1 103.5,493.5 103,491.7 102.5,492.7 102,493.4 101.5,495.5 101,493.6 100.5,493.1 100,493.3 99.5,492.9 99,493.7 98.5,493.1 98,492.9 97.5,492.4 97,493.3 96.5,493.7 96,492.8 95.5,493 95,492.8 94.5,493.7 94,494 93.5,493.6 93,493.6 92.5,492.7 92,492.4 91.5,492.6 91,492.5 90.5,493.7 90,494 89.5,494.9 89,493.8 88.5,493.8 88,493.2 87.5,492.9 87,492.9 86.5,493.1 86,494.6 85.5,493.9 85,494.1 84.5,493.5 84,492.4 83.5,492.6 83,492.1 82.5,493.8 82,492.9 81.5,493 81,492.8 80.5,492.7 80,493.2 79.5,492.7 79,493.2 78.5,493.6 78,493.4 77.5,494 77,493.3 76.5,493.2 76,493.8 75.5,494 75,494.4 74.5,494.2 74,493.7 73.5,493.3 73,493.1 72.5,493.9 72,492.9 71.5,493.6 71,491.6 70.5,492.3 70,492.6 69.5,493 69,492.4 68.5,491.8 68,491.6 67.5,491.9 67,492.2 66.5,493.4 66,493.4 65.5,493.1 65,492.4 64.5,491.8 64,492.3 63.5,493 63,493.2 62.5,492.5 62,492 61.5,493.1 61,492.4 60.5,492.9 60,492.2 59.5,492.4 59,492 58.5,492.9 58,492.3 57.5,492.9 57,492.7 56.5,492.5 56,492.8 55.5,492.8 55,493.3 54.5,493.1 54,491.9 53.5,491.8 53,492.4 52.5,491.9 52,491.9 51.5,491.8 51,492.8 50.5,493.3 50,492.5 49.5,491.8 49,491.7 48.5,491.5 48,492.2 47.5,491.9 47,492.1 46.5,491.8 46,492.8 45.5,492.1 45,492.5 44.5,491.9 44,492.3 43.5,492.6 43,492.3 42.5,492.7 42,493 41.5,492.6 41,492.9 40.5,492.6 40,492.2 39.5,491.8 39,491.6 38.5,492 38,492.4 37.5,491.9 37,491.9 36.5,491.8 36,492.1 35.5,492.9 35,492.6 34.5,491.2 34,490.7" fill="#a6d9a0"/><polygon points="34,488.4 34.5,489.6 35,490.5 35.5,491 36,490 36.5,489.9 37,489.3 37.5,490 38,490.7 38.5,489.8 39,488.8 39.5,488.7 40,490.6 40.5,490.7 41,490.3 41.5,489.9 42,491 42.5,490.7 43,491 43.5,490.9 44,490.3 44.5,490 45,490.3 45.5,489.6 46,490 46.5,488.6 47,490.2 47.5,489.5 48,489.8 48.5,488.8 49,488.5 49.5,490.3 50,490.7 50.5,491.2 51,490.5 51.5,489.9 52,489.3 52.5,489.8 53,489.5 53.5,489.6 54,489.8 54.5,490.9 55,490.8 55.5,491 56,490.8 56.5,490.7 57,489.8 57.5,490.1 58,490.1 58.5,490.6 59,490.6 59.5,490.1 60,489.8 60.5,489.8 61,489.9 61.5,490.7 62,489.1 62.5,490.9 63,490.8 63.5,490.2 64,489.9 64.5,490.8 65,490.5 65.5,491.7 66,490.5 66.5,490.5 67,489.8 67.5,488.3 68,488.8 68.5,489.8 69,489 69.5,490.4 70,490.4 70.5,490.5 71,489.6 71.5,490.8 72,491.1 72.5,492.2 73,490.5 73.5,490.4 74,490.4 74.5,492 75,491.5 75.5,491.6 76,491.6 76.5,490.9 77,491.2 77.5,490.8 78,491.1 78.5,490.4 79,491 79.5,490.3 80,490.3 80.5,490.4 81,490.6 81.5,490.2 82,489.5 82.5,490.4 83,489.9 83.5,491.1 84,489.5 84.5,489.9 85,491 85.5,491.4 86,491.6 86.5,490.9 87,490.7 87.5,490.3 88,491.3 88.5,490.5 89,491.2 89.5,491.9 90,491.2 90.5,490.8 91,490.6 91.5,489.9 92,489.5 92.5,490 93,490.9 93.5,491.5 94,491.3 94.5,491.2 95,490.3 95.5,490.7 96,490.7 96.5,490.4 97,490.7 97.5,489.3 98,489.9 98.5,490.7 99,491.4 99.5,489.8 100,491.4 100.5,491.1 101,491.2 101.5,491 102,490.2 102.5,489.7 103,489.1 103.5,490.2 104,490.2 104.5,489.8 105,488.1 105.5,489.9 106,490 106.5,489.2 107,489.5 107.5,489.3 108,489.2 108.5,488.9 109,489.9 109.5,489.3 110,488.4 110.5,488.2 111,489.4 111.5,488.4 112,488.6 112.5,489.1 113,490.2 113.5,490 114,488.5 114.5,488.1 115,487.5 115.5,486.1 116,486.4 116.5,487.1 117,485.8 117.5,486.3 118,486.2 118.5,486.7 119,486.3 119.5,486.4 120,486.6 120.5,486.8 121,485.8 121.5,485.2 122,485.1 122.5,485.8 123,485.5 123.5,484.4 124,484.4 124.5,485.3 125,485.1 125.5,482.3 126,482 126.5,482.1 127,482.2 127.5,482 128,482.6 128.5,482.7 129,481.1 129.5,480.7 130,481.7 130.5,480 131,479.8 131.5,479 132,479.9 132.5,481 133,480 133.5,480.3 134,479.2 134.5,478.7 135,479.4 135.5,479 136,478.5 136.5,478.2 137,476.4 137.5,477.9 138,478.4 138.5,477 139,476.3 139.5,475.6 140,476.2 140.5,477.1 141,475.8 141.5,476.6 142,476.4 142.5,475 143,476.2 143.5,475.1 144,474.5 144.5,474 145,473.8 145.5,473.2 146,473.4 146.5,473 147,472.8 147.5,473.6 148,474.4 148.5,475 149,473.4 149.5,472.2 150,470.6 150.5,470.9 151,471.8 151.5,471.4 152,470.3 152.5,468.4 153,468.4 153.5,468.5 153.5,469.9 153,469.8 152.5,470.8 152,471.7 151.5,472.7 151,473.2 150.5,473.2 150,472.5 149.5,473.7 149,475.1 148.5,476.6 148,476 147.5,475.1 147,474.5 146.5,474.4 146,475.5 145.5,475.4 145,475.4 144.5,475.3 144,476.8 143.5,476.6 143,478 142.5,477.2 142,477.7 141.5,478.6 141,477.9 140.5,479 140,479.2 139.5,477.8 139,478.1 138.5,479 138,479.9 137.5,479.7 137,478.2 136.5,480.1 136,481.2 135.5,480.8 135,480.9 134.5,480.2 134,480.6 133.5,481.8 133,481.8 132.5,482.1 132,482.1 131.5,480.8 131,481.2 130.5,482.1 130,482.7 129.5,482.6 129,482.9 128.5,484.4 128,484.4 127.5,483.6 127,483.8 126.5,483.1 126,483.8 125.5,484.1 125,486.3 124.5,486.9 124,486.8 123.5,486.6 123,487 122.5,487.2 122,486.5 121.5,487.1 121,486.9 120.5,488.6 120,487.8 119.5,487.6 119,487.6 118.5,488.2 118,488.1 117.5,489.1 117,487.3 116.5,488.8 116,487.8 115.5,487.6 115,489.1 114.5,490.6 114,490.3 113.5,491.3 113,491.8 112.5,490.7 112,491.2 111.5,490.4 111,491 110.5,489.3 110,489.8 109.5,491.4 109,491.8 108.5,490 108,490.4 107.5,490.6 107,491.1 106.5,491.9 106,491.6 105.5,490.9 105,489.7 104.5,491.2 104,491.7 103.5,492.4 103,491.1 102.5,491.7 102,492.2 101.5,493.4 101,493 100.5,492.2 100,492.5 99.5,491.1 99,492.7 98.5,492 98,492.5 97.5,490.4 97,492.4 96.5,492.2 96,491.7 95.5,492.4 95,491.3 94.5,492.6 94,493.1 93.5,492.8 93,492.4 92.5,491.5 92,491.3 91.5,491.2 91,491.7 90.5,492.7 90,493.1 89.5,493.6 89,492.9 88.5,492.4 88,492.5 87.5,491.6 87,493.1 86.5,492.2 86,492.8 85.5,492.8 85,492.6 84.5,491.9 84,491.2 83.5,492.7 83,491.4 82.5,492 82,491.5 81.5,491.6 81,492.2 80.5,492 80,492.6 79.5,492.3 79,493.1 78.5,492.3 78,492.9 77.5,493.2 77,492.7 76.5,492.9 76,492.8 75.5,492.9 75,493.6 74.5,493.6 74,492.3 73.5,491.8 73,492 72.5,493.3 72,492.9 71.5,492.6 71,490.8 70.5,492.2 70,491.6 69.5,492 69,491.8 68.5,491.9 68,490.5 67.5,490.5 67,492.3 66.5,492.2 66,492.1 65.5,492.8 65,491.5 64.5,492.4 64,491 63.5,492.1 63,492 62.5,491.9 62,491.1 61.5,492.1 61,491.7 60.5,491.7 60,490.7 59.5,491.5 59,492.6 58.5,492.9 58,492.4 57.5,491.5 57,492.4 56.5,492.4 56,491.8 55.5,492.8 55,493.4 54.5,492.1 54,491.1 53.5,491.8 53,491.5 52.5,491.3 52,490.8 51.5,491.3 51,492.2 50.5,492.9 50,492.3 49.5,491.4 49,490.1 48.5,491.6 48,491 47.5,490.6 47,491.8 46.5,491 46,491.2 45.5,491.2 45,491.7 44.5,491.2 44,492.1 43.5,492.5 43,492.1 42.5,492.6 42,492.3 41.5,491.7 41,492.1 40.5,492.2 40,492.3 39.5,490.2 39,490.9 38.5,490.9 38,492.8 37.5,491 37,491.2 36.5,491.8 36,491.7 35.5,492.5 35,492.9 34.5,491.2 34,490.1" fill="#1b8f1b"/><path d="M33.5,416 V508 H153.6" fill="none" stroke="#222" stroke-width="1.2"/><line x1="31.7" y1="491.3" x2="33.5" y2="491.3" stroke="#222" stroke-width="1"/><text x="29" y="495.2" font-size="11" text-anchor="end" fill="#222">0</text><line x1="31.7" y1="465.4" x2="33.5" y2="465.4" stroke="#222" stroke-width="1"/><text x="29" y="469.3" font-size="11" text-anchor="end" fill="#222">2</text><line x1="31.7" y1="439.5" x2="33.5" y2="439.5" stroke="#222" stroke-width="1"/><text x="29" y="443.4" font-size="11" text-anchor="end" fill="#222">4</text><text x="33.5" y="520.4" font-size="11" text-anchor="middle" fill="#222">−30</text><text x="93.8" y="520.4" font-size="11" text-anchor="middle" fill="#222">0</text><text x="153.6" y="520.4" font-size="11" text-anchor="middle" fill="#222">30</text><line x1="63.6" y1="506.2" x2="63.6" y2="508" stroke="#222" stroke-width="0.9"/><line x1="123.8" y1="506.2" x2="123.8" y2="508" stroke="#222" stroke-width="0.9"/><line x1="93.8" y1="415.5" x2="93.8" y2="508" stroke="#2a2a2a" stroke-width="1.8" stroke-dasharray="7,7.3"/><polygon points="186.5,479.6 187,479.3 187.5,479.1 188,477 188.5,479.2 189,477.7 189.5,478.6 190,476.4 190.5,477.9 191,477.4 191.5,479.4 192,479.1 192.5,478.5 193,476.4 193.5,475 194,476.4 194.5,475.7 195,477.5 195.5,475.8 196,475.8 196.5,476.3 197,476.9 197.5,476.9 198,477.4 198.5,478 199,477.9 199.5,476.1 200,475.4 200.5,474.1 201,476.4 201.5,477.9 202,476.6 202.5,475.6 203,476.1 203.5,477.1 204,477.6 204.5,476.5 205,477.7 205.5,476 206,474.3 206.5,473.2 207,476.2 207.5,476.7 208,476.1 208.5,474.6 209,475.1 209.5,475.4 210,475.9 210.5,476.1 211,475.9 211.5,475.7 212,475.2 212.5,475 213,475.2 213.5,475.6 214,476.1 214.5,474.4 215,475.2 215.5,475.6 216,474.4 216.5,476.2 217,474.7 217.5,474.3 218,474 218.5,472.9 219,472.9 219.5,475.5 220,477 220.5,477.4 221,475.9 221.5,475.2 222,473.7 222.5,473.2 223,472.7 223.5,473.1 224,472.8 224.5,473.8 225,474 225.5,473.6 226,473.9 226.5,473.7 227,472.1 227.5,472.2 228,473.4 228.5,473.3 229,473.1 229.5,473.2 230,473.2 230.5,473.3 231,472.7 231.5,472 232,471.9 232.5,471.8 233,472.4 233.5,471.4 234,473.8 234.5,471.8 235,473.4 235.5,472.5 236,472.1 236.5,472.4 237,472.7 237.5,471.8 238,472.9 238.5,471.4 239,472.6 239.5,472.6 240,472.4 240.5,472.4 241,472.7 241.5,472.9 242,470.8 242.5,472.1 243,471.1 243.5,470.5 244,470.6 244.5,470.8 245,469.7 245.5,470.8 246,469.7 246.5,471.1 247,470.5 247.5,469.6 248,469.2 248.5,467 249,465.4 249.5,465.8 250,467.4 250.5,464.8 251,463.1 251.5,460.3 252,459.3 252.5,456.8 253,455.5 253.5,453.5 254,452.7 254.5,451.2 255,449.9 255.5,450.1 256,448.7 256.5,447.6 257,444 257.5,444.5 258,441.3 258.5,441.9 259,436.4 259.5,440 260,438.6 260.5,437.1 261,436.4 261.5,434.9 262,434.6 262.5,435.1 263,432.9 263.5,433 264,431.9 264.5,432.8 265,433.3 265.5,434 266,434.1 266.5,431.3 267,433.7 267.5,432.7 268,433.3 268.5,434.5 269,434.5 269.5,435 270,434.6 270.5,434.9 271,436.8 271.5,437.2 272,436.2 272.5,435.3 273,434.5 273.5,436.2 274,437.3 274.5,437.3 275,437.2 275.5,436.5 276,436.6 276.5,438.9 277,437.3 277.5,440.4 278,440.7 278.5,441 279,440.3 279.5,438 280,439.8 280.5,440 281,440.7 281.5,441.8 282,441.5 282.5,440 283,440.7 283.5,441.3 284,441.2 284.5,442.2 285,441.2 285.5,443.4 286,441.1 286.5,443.8 287,441.3 287.5,442 288,443.8 288.5,443.4 289,442.4 289.5,444.8 290,443.9 290.5,444.2 291,443.2 291.5,445.2 292,445.6 292.5,443.4 293,446.4 293.5,446.9 294,446.3 294.5,444.5 295,446.6 295.5,445.2 296,446.4 296.5,446.2 297,448.6 297.5,447.4 298,445.2 298.5,446.7 299,446.1 299.5,448.1 300,449.8 300.5,449.4 301,447.2 301.5,449.7 302,450.5 302.5,448.7 303,447.9 303.5,448.6 304,450.1 304.5,449.1 305,450.1 305.5,450.5 306,451.4 306,464.6 305.5,462.9 305,461.9 304.5,463.3 304,462.6 303.5,463.2 303,463.5 302.5,463.2 302,462.6 301.5,462.7 301,464.2 300.5,462.2 300,462.1 299.5,462.7 299,463.2 298.5,461.9 298,465.1 297.5,463.7 297,460.7 296.5,460.3 296,459.9 295.5,461.1 295,460.1 294.5,461.4 294,459.5 293.5,460.5 293,459.9 292.5,462.8 292,458.9 291.5,459.3 291,460 290.5,456.9 290,457.5 289.5,456.9 289,459.3 288.5,456.8 288,456.3 287.5,460.9 287,458.8 286.5,455.8 286,455.3 285.5,455.2 285,454 284.5,453.9 284,454.4 283.5,456.4 283,456.5 282.5,457.6 282,455.6 281.5,453.6 281,454 280.5,452.8 280,452.4 279.5,453.2 279,452.3 278.5,453.4 278,453 277.5,452.8 277,453.2 276.5,450.9 276,452.6 275.5,451.5 275,450.9 274.5,450.9 274,451.3 273.5,450.7 273,450.4 272.5,449.8 272,450.8 271.5,449.1 271,448.5 270.5,447.8 270,447.2 269.5,447.7 269,448.6 268.5,449.1 268,446.8 267.5,446.7 267,446.2 266.5,448.4 266,447 265.5,446 265,446.5 264.5,444.6 264,444.1 263.5,445.1 263,446.8 262.5,447.1 262,446.9 261.5,447.6 261,447.9 260.5,450.4 260,450.5 259.5,450.9 259,454.5 258.5,452.6 258,453.9 257.5,455.4 257,457.8 256.5,458.2 256,459.6 255.5,460.5 255,462.7 254.5,463.4 254,464.4 253.5,466.8 253,467.9 252.5,469.9 252,471.2 251.5,473 251,474.8 250.5,476 250,477.3 249.5,477.7 249,480.5 248.5,479.1 248,479.7 247.5,480 247,479.8 246.5,481 246,482.4 245.5,482.5 245,483.1 244.5,481.5 244,481.1 243.5,479.9 243,481.1 242.5,481.6 242,484.3 241.5,482 241,482.2 240.5,482.6 240,481.6 239.5,481.9 239,483.8 238.5,484.8 238,482.4 237.5,483 237,483.5 236.5,482.2 236,481.7 235.5,481.9 235,484.3 234.5,484.8 234,483.8 233.5,485.5 233,484.1 232.5,482.7 232,481.4 231.5,483.4 231,484.4 230.5,483.8 230,483.9 229.5,483.7 229,484.4 228.5,483.2 228,483.4 227.5,483.5 227,483.6 226.5,483.6 226,484.8 225.5,485.4 225,483.5 224.5,482.9 224,484.9 223.5,484 223,483.9 222.5,483.2 222,484.2 221.5,485.7 221,487.4 220.5,488 220,487.9 219.5,486.6 219,485.6 218.5,485.8 218,485.2 217.5,486.9 217,485.2 216.5,485.9 216,486.8 215.5,486.7 215,485.3 214.5,486.1 214,485.6 213.5,486.9 213,487.6 212.5,486.4 212,486.1 211.5,486 211,486.6 210.5,486.2 210,486.8 209.5,486.8 209,485.5 208.5,485.2 208,485.8 207.5,486.2 207,485.5 206.5,485.3 206,486.2 205.5,486.9 205,487.7 204.5,488.6 204,487.9 203.5,487.1 203,487.8 202.5,487.9 202,488.1 201.5,487.4 201,487 200.5,487.6 200,485.5 199.5,486.8 199,488.3 198.5,488.4 198,488.5 197.5,488.7 197,488.1 196.5,486.1 196,486.1 195.5,487.9 195,488.9 194.5,489.7 194,487.4 193.5,488.7 193,487.6 192.5,488.4 192,489.2 191.5,488.5 191,487.8 190.5,487.2 190,488.2 189.5,488.2 189,489.2 188.5,489 188,491.2 187.5,489.4 187,490.7 186.5,489.2" fill="#a6d9a0"/><polygon points="186.5,484.4 187,483.7 187.5,483.7 188,483.9 188.5,483.1 189,482.2 189.5,482.5 190,481.2 190.5,481 191,481.9 191.5,483.3 192,483.4 192.5,483.4 193,480.8 193.5,481.2 194,481 194.5,482.3 195,482.4 195.5,481.9 196,479.7 196.5,480.7 197,481.7 197.5,482 198,483 198.5,482.3 199,482.7 199.5,481.3 200,479.1 200.5,480.9 201,481.4 201.5,481.3 202,481.4 202.5,480.4 203,481.1 203.5,481.7 204,482 204.5,481.4 205,481.5 205.5,479.9 206,479.4 206.5,478.6 207,480.4 207.5,480.5 208,479.9 208.5,478.8 209,479.8 209.5,480.2 210,480.3 210.5,480.9 211,480.4 211.5,479.9 212,479.6 212.5,480 213,480.3 213.5,480.8 214,480.6 214.5,479.8 215,479.2 215.5,480.5 216,479.9 216.5,480.5 217,478.8 217.5,479.6 218,478.3 218.5,477.8 219,478.1 219.5,480.4 220,481.4 220.5,482.5 221,481 221.5,478.8 222,478.7 222.5,477.3 223,478.2 223.5,477.6 224,477.5 224.5,477.3 225,478.6 225.5,478.8 226,478.2 226.5,477.5 227,477.1 227.5,477.5 228,477.8 228.5,477.3 229,477.9 229.5,477.5 230,477.9 230.5,476.8 231,477.8 231.5,477.1 232,475.8 232.5,476.2 233,476.9 233.5,477.2 234,478.4 234.5,478.1 235,477.7 235.5,475.3 236,476.1 236.5,476 237,477.5 237.5,476.7 238,476.1 238.5,477.5 239,477.5 239.5,476.8 240,475.5 240.5,476.3 241,477.1 241.5,476.7 242,476.9 242.5,475.8 243,475.3 243.5,474.3 244,475 244.5,475.5 245,475.8 245.5,475.9 246,475 246.5,475.5 247,474.1 247.5,474.5 248,473 248.5,472.1 249,472.3 249.5,470.2 250,471.2 250.5,467.5 251,468.4 251.5,466.2 252,464.2 252.5,462.6 253,460.8 253.5,458.6 254,458 254.5,456.1 255,454.5 255.5,455.3 256,453.6 256.5,451.8 257,451.1 257.5,450 258,447.3 258.5,447.2 259,444.8 259.5,444.6 260,443.4 260.5,442.2 261,441.9 261.5,440.4 262,439.2 262.5,440.8 263,439.8 263.5,438.4 264,436.4 264.5,438.4 265,438.9 265.5,439.3 266,440 266.5,439.3 267,438.9 267.5,438 268,437.9 268.5,441 269,440.7 269.5,440.6 270,440.1 270.5,440.9 271,441.9 271.5,442.7 272,443.2 272.5,441.7 273,441.2 273.5,442.2 274,443.9 274.5,443.1 275,443.6 275.5,443.1 276,444.3 276.5,444.4 277,444.3 277.5,446.3 278,446.1 278.5,446 279,445.8 279.5,444.8 280,446 280.5,445.8 281,447.3 281.5,446.9 282,447.7 282.5,447.6 283,448.4 283.5,448 284,447.4 284.5,446.1 285,446.6 285.5,449.1 286,447.5 286.5,449.1 287,449.8 287.5,451.5 288,448.7 288.5,449.2 289,450.1 289.5,450.5 290,449.1 290.5,449.2 291,450.6 291.5,451.6 292,451.3 292.5,452.9 293,451.6 293.5,452.7 294,451.8 294.5,452.4 295,452.8 295.5,452.2 296,451.9 296.5,452.4 297,453.5 297.5,455.2 298,454.3 298.5,453.2 299,453.3 299.5,455.5 300,455.4 300.5,455.3 301,454.7 301.5,455.3 302,455.8 302.5,455 303,454.5 303.5,454.6 304,455.8 304.5,455.5 305,455.1 305.5,455.5 306,456.6 306,458.5 305.5,457.6 305,456.9 304.5,457 304,456.8 303.5,456.4 303,455.8 302.5,456.6 302,457.6 301.5,456.8 301,456.4 300.5,456.7 300,456.9 299.5,456.8 299,454.8 298.5,454.9 298,456.3 297.5,456.8 297,455.3 296.5,453.8 296,453.9 295.5,454.3 295,454.2 294.5,454.1 294,453.1 293.5,454.3 293,453.1 292.5,454.3 292,453.6 291.5,453.1 291,451.6 290.5,451.1 290,451.8 289.5,451.9 289,451.3 288.5,450.9 288,450.6 287.5,452.8 287,451 286.5,450.6 286,448.7 285.5,450.9 285,448.8 284.5,447.6 284,449.3 283.5,449.4 283,450 282.5,449.6 282,449.3 281.5,448.5 281,449 280.5,447.1 280,447 279.5,446.1 279,447.1 278.5,447.6 278,447.2 277.5,447.7 277,446.4 276.5,445.6 276,446 275.5,444.8 275,445.1 274.5,445.3 274,445.3 273.5,443.5 273,442.8 272.5,444.4 272,444.6 271.5,443.9 271,443.5 270.5,442.6 270,441.8 269.5,441.7 269,442.4 268.5,443.5 268,440.1 267.5,440.3 267,440.6 266.5,441.1 266,442.1 265.5,440.6 265,441 264.5,439.6 264,438.8 263.5,440.1 263,441.5 262.5,442.6 262,440.9 261.5,442.1 261,443.4 260.5,445 260,444.6 259.5,446.4 259,445.9 258.5,448.9 258,449.4 257.5,451.5 257,452.4 256.5,453.9 256,455.1 255.5,456.3 255,456.9 254.5,458.5 254,459.4 253.5,460.7 253,462.1 252.5,463.9 252,465.6 251.5,467.3 251,469.6 250.5,469.8 250,473 249.5,471.6 249,474.1 248.5,473.6 248,475.3 247.5,475.8 247,475.7 246.5,476.4 246,477.1 245.5,477.2 245,477.3 244.5,477.4 244,476.6 243.5,475.3 243,477.6 242.5,477.1 242,478.6 241.5,478.5 241,478.6 240.5,478.5 240,477.5 239.5,478.5 239,479.2 238.5,479.3 238,478 237.5,477.7 237,479.2 236.5,478 236,477.3 235.5,477.7 235,479.3 234.5,479.4 234,480.5 233.5,479.2 233,478.6 232.5,478 232,477.9 231.5,478.9 231,479 230.5,479.1 230,479.4 229.5,479.1 229,479.1 228.5,479.2 228,479.6 227.5,478.8 227,478.6 226.5,479.2 226,479.8 225.5,480.4 225,479.7 224.5,478.5 224,480 223.5,479 223,479.5 222.5,479.1 222,480.4 221.5,481.3 221,482.7 220.5,484.4 220,482.9 219.5,482.1 219,480.2 218.5,479.6 218,480.8 217.5,481.4 217,480.3 216.5,482.5 216,482 215.5,482 215,481 214.5,482.1 214,482.4 213.5,482.3 213,481.9 212.5,481.4 212,481.1 211.5,481.3 211,482.4 210.5,482.4 210,481.5 209.5,482.6 209,481.7 208.5,480.3 208,481.9 207.5,482.2 207,481.7 206.5,480.1 206,481 205.5,482.3 205,483.8 204.5,483.5 204,484.2 203.5,483.1 203,482.8 202.5,482.5 202,483.2 201.5,484 201,482.9 200.5,482 200,481.1 199.5,483.4 199,484.4 198.5,484.4 198,484.3 197.5,483.2 197,483 196.5,482.1 196,480.8 195.5,483.5 195,484.3 194.5,483.6 194,482.3 193.5,483.1 193,481.9 192.5,484.4 192,484.7 191.5,484.8 191,482.8 190.5,483.5 190,482.8 189.5,483.8 189,483.5 188.5,484.9 188,485 187.5,485 187,485.3 186.5,486.2" fill="#1b8f1b"/><polygon points="186.5,492.7 187,493.2 187.5,492.6 188,491.3 188.5,492.5 189,493.1 189.5,492.2 190,492 190.5,491.6 191,492.5 191.5,491.9 192,491.3 192.5,492.9 193,494.5 193.5,494.4 194,492.8 194.5,491.4 195,492.2 195.5,492.8 196,493.7 196.5,493.6 197,492.3 197.5,492.5 198,493 198.5,493 199,493.2 199.5,492.7 200,492.5 200.5,493.6 201,491.6 201.5,491.7 202,493.3 202.5,493.5 203,493.9 203.5,493.9 204,493.8 204.5,493.5 205,493.2 205.5,493.4 206,493.2 206.5,491.7 207,490.9 207.5,491.5 208,492.3 208.5,493.3 209,493.5 209.5,492.3 210,491.6 210.5,490.9 211,492.5 211.5,492.7 212,491.1 212.5,490.9 213,491.4 213.5,491.8 214,491.9 214.5,493.5 215,493 215.5,492.9 216,493.2 216.5,491.8 217,491.9 217.5,491.7 218,491.6 218.5,492.8 219,492.9 219.5,492.4 220,493 220.5,492.6 221,493.4 221.5,492.7 222,492.8 222.5,493.8 223,492.1 223.5,492.9 224,495.6 224.5,493 225,492.5 225.5,491.7 226,492 226.5,493.2 227,492.7 227.5,492.9 228,493.7 228.5,492.7 229,493.6 229.5,494.1 230,494.8 230.5,492.9 231,490.5 231.5,490.5 232,492.3 232.5,493.6 233,493.7 233.5,493.7 234,492 234.5,491.9 235,492.7 235.5,495.2 236,494.9 236.5,493.2 237,494 237.5,492.6 238,492 238.5,492.4 239,491 239.5,493.6 240,495.4 240.5,492.8 241,491.4 241.5,492.9 242,493.5 242.5,493.3 243,492.5 243.5,493.1 244,493.8 244.5,495.1 245,494.4 245.5,493.6 246,494.8 246.5,496.5 247,495.9 247.5,492.9 248,490.8 248.5,489.4 249,491.2 249.5,492.2 250,491.6 250.5,491.1 251,490.6 251.5,490.1 252,489.9 252.5,489 253,489.5 253.5,488.6 254,489.1 254.5,490.2 255,490.5 255.5,489.4 256,489.2 256.5,488 257,487.7 257.5,486.1 258,487.6 258.5,487.8 259,490.5 259.5,489.5 260,486.8 260.5,487.6 261,488.8 261.5,488 262,487.7 262.5,488.6 263,490.1 263.5,491 264,490.7 264.5,489.2 265,489.7 265.5,488.9 266,488.6 266.5,488.2 267,490.8 267.5,490.7 268,489.9 268.5,489.2 269,488.9 269.5,491.1 270,489.9 270.5,488.1 271,488.4 271.5,489.4 272,488.4 272.5,491.1 273,490.6 273.5,487 274,487.7 274.5,489.8 275,490.9 275.5,490.6 276,488.6 276.5,487.2 277,490.7 277.5,489.6 278,487.3 278.5,490.4 279,491.4 279.5,490.6 280,488.9 280.5,488.4 281,491.2 281.5,489.9 282,490.1 282.5,491.6 283,490.9 283.5,488.3 284,488.9 284.5,490.4 285,488.8 285.5,488.4 286,489.6 286.5,492.5 287,491.5 287.5,490.5 288,490.3 288.5,490.1 289,490.2 289.5,489.8 290,490.9 290.5,493.2 291,491 291.5,488.8 292,489 292.5,490.8 293,490.4 293.5,489 294,491.7 294.5,491.5 295,490.3 295.5,490 296,490.2 296.5,490.1 297,490.3 297.5,489.3 298,488.3 298.5,491 299,489.3 299.5,489.8 300,491.8 300.5,491.1 301,490.1 301.5,489.2 302,489.1 302.5,489.4 303,490.3 303.5,489.7 304,490.7 304.5,490.7 305,490.4 305.5,490.6 306,489.9 306,497.7 305.5,497.6 305,495.9 304.5,496.3 304,496.3 303.5,496.1 303,496 302.5,494.7 302,495.3 301.5,496 301,496.1 300.5,498.7 300,497.3 299.5,495.8 299,497.1 298.5,497.6 298,497.6 297.5,495.3 297,497 296.5,497 296,495.7 295.5,495.7 295,496.4 294.5,498.2 294,497.9 293.5,497.8 293,496.6 292.5,496.6 292,496.1 291.5,496.1 291,498.8 290.5,498.8 290,497.3 289.5,496.4 289,496.8 288.5,496.7 288,496.7 287.5,498 287,498.3 286.5,498.3 286,497.5 285.5,494.3 285,496.4 284.5,496.7 284,496.4 283.5,497.4 283,497.4 282.5,497.4 282,496.1 281.5,496.3 281,497.2 280.5,496.4 280,495.2 279.5,496.8 279,497.4 278.5,496.9 278,497.2 277.5,499 277,498.2 276.5,494.2 276,494.8 275.5,497.3 275,497.2 274.5,497.2 274,494.4 273.5,494.9 273,497.6 272.5,498.2 272,496 271.5,496.1 271,496.2 270.5,495.5 270,498.2 269.5,497.3 269,496.3 268.5,495.7 268,496.2 267.5,497.6 267,497.5 266.5,496.7 266,495 265.5,495.4 265,496.6 264.5,495.9 264,498.3 263.5,499.6 263,497.3 262.5,497 262,496.2 261.5,497.1 261,495.3 260.5,496.1 260,496 259.5,497 259,496.9 258.5,496 258,494.7 257.5,494.3 257,494.6 256.5,495.9 256,495.9 255.5,495.9 255,496.9 254.5,497.5 254,495.4 253.5,497.1 253,497.4 252.5,496.1 252,495.1 251.5,496.6 251,496.4 250.5,496.2 250,497.8 249.5,497.3 249,495.9 248.5,494.9 248,496 247.5,498.2 247,499.4 246.5,500.4 246,499.1 245.5,497 245,498 244.5,498.8 244,498 243.5,496.6 243,496 242.5,496.5 242,497.2 241.5,496.7 241,494.9 240.5,496.3 240,499.3 239.5,496.7 239,495 238.5,495.6 238,496.5 237.5,496.4 237,497.3 236.5,497.3 236,498.4 235.5,498.6 235,496.6 234.5,495.9 234,495.7 233.5,496.9 233,497.6 232.5,497.1 232,496 231.5,494.2 231,494.5 230.5,497.2 230,498.6 229.5,498.5 229,496.7 228.5,496.7 228,497.1 227.5,496.1 227,496 226.5,496.5 226,495.9 225.5,496.7 225,495.7 224.5,497 224,498.9 223.5,497.2 223,495.5 222.5,497.3 222,496.3 221.5,496.5 221,497.6 220.5,496.7 220,496.9 219.5,495.9 219,496.4 218.5,496.9 218,494.9 217.5,495 217,495.1 216.5,496.3 216,496.3 215.5,496.1 215,496.8 214.5,496.7 214,495.1 213.5,495.1 213,495.1 212.5,495 212,494.8 211.5,495.9 211,496.4 210.5,494.7 210,495 209.5,495.6 209,496.9 208.5,496.8 208,496.7 207.5,496.2 207,495 206.5,495.3 206,496.8 205.5,497.4 205,496.3 204.5,497 204,497.2 203.5,497.1 203,497.5 202.5,496.7 202,496.5 201.5,495.8 201,495 200.5,496.9 200,497.5 199.5,496.4 199,497.7 198.5,496.8 198,496.2 197.5,496.3 197,496.4 196.5,497.8 196,497.6 195.5,496.7 195,495.6 194.5,495.4 194,496.1 193.5,497.6 193,497.9 192.5,496 192,494.8 191.5,495.7 191,496.4 190.5,495.5 190,495.3 189.5,495.7 189,496.4 188.5,495.8 188,494.7 187.5,496.7 187,497.4 186.5,496.7" fill="#bdbdbd"/><polygon points="186.5,494.7 187,494.3 187.5,493.8 188,493.2 188.5,493.7 189,494.2 189.5,493 190,492.8 190.5,492.6 191,493.5 191.5,493.3 192,492.9 192.5,493.6 193,495.4 193.5,495 194,494.2 194.5,492.8 195,493.2 195.5,494.2 196,494.9 196.5,495.1 197,493.1 197.5,493.8 198,494.1 198.5,493.8 199,494.3 199.5,493.8 200,493.9 200.5,494.8 201,492.6 201.5,492.2 202,493.3 202.5,494.3 203,495 203.5,494.7 204,495.5 204.5,494.5 205,493.7 205.5,495 206,494 206.5,492.9 207,492.3 207.5,493 208,493.6 208.5,494.7 209,494.3 209.5,493.2 210,492.8 210.5,492.4 211,493 211.5,493.5 212,492.1 212.5,492.9 213,491.7 213.5,492.5 214,492.6 214.5,494.1 215,494 215.5,494 216,493.9 216.5,494.2 217,493.1 217.5,493 218,491.9 218.5,494.3 219,494.2 219.5,492.8 220,493.9 220.5,493.8 221,494.6 221.5,494.3 222,493.6 222.5,495.5 223,492.7 223.5,493.9 224,496.7 224.5,494 225,492.8 225.5,493.1 226,493.5 226.5,493.7 227,493.6 227.5,492.6 228,494.5 228.5,495 229,494.6 229.5,496 230,495.7 230.5,493.9 231,491.7 231.5,491.5 232,493.2 232.5,494.2 233,494.8 233.5,494.7 234,491.9 234.5,493.4 235,493.7 235.5,495.8 236,496.1 236.5,495.2 237,494.6 237.5,493.6 238,493.6 238.5,494.2 239,491.9 239.5,495 240,496.8 240.5,492.8 241,492.3 241.5,493.9 242,494.8 242.5,493.4 243,493.4 243.5,494 244,495.5 244.5,495.7 245,495.3 245.5,494.1 246,496 246.5,497.9 247,497.4 247.5,494.9 248,492.5 248.5,491.2 249,491.8 249.5,494.7 250,495 250.5,492.8 251,491.9 251.5,492 252,490.9 252.5,490.7 253,492.8 253.5,492 254,491 254.5,493.2 255,492.7 255.5,491.8 256,492 256.5,490.7 257,490.3 257.5,489.3 258,490.8 258.5,491.3 259,492.6 259.5,491.9 260,490.5 260.5,491.1 261,491 261.5,491.5 262,490.8 262.5,492.8 263,492.4 263.5,493.9 264,494.2 264.5,491.8 265,491.8 265.5,491.1 266,490.8 266.5,492.4 267,493.6 267.5,493.6 268,492 268.5,491.1 269,491.8 269.5,494.2 270,493.1 270.5,490.7 271,491.3 271.5,492.1 272,490.9 272.5,493.3 273,493.5 273.5,489.6 274,489.5 274.5,493.3 275,492.6 275.5,493.5 276,490.5 276.5,489.5 277,493.2 277.5,493.5 278,491.7 278.5,493 279,493.8 279.5,491.6 280,490.8 280.5,490.8 281,493.8 281.5,491.9 282,492 282.5,494 283,493.1 283.5,491.3 284,491.3 284.5,492.8 285,491.5 285.5,490 286,492.4 286.5,494.4 287,493.7 287.5,493.5 288,492.8 288.5,493 289,492.5 289.5,491.8 290,492.9 290.5,494.9 291,493.9 291.5,492.3 292,491.6 292.5,493.2 293,492.8 293.5,492.2 294,494.2 294.5,493.8 295,491.5 295.5,492.1 296,492.3 296.5,492.5 297,493 297.5,491 298,491.7 298.5,494.2 299,492.5 299.5,492.1 300,493.7 300.5,492.6 301,492.7 301.5,492.1 302,491 302.5,490.5 303,492 303.5,492.6 304,492.6 304.5,493 305,492.3 305.5,493.1 306,492.9 306,495 305.5,494.7 305,493.4 304.5,494.8 304,494.9 303.5,494.2 303,493.9 302.5,492 302,492.7 301.5,493.2 301,493.9 300.5,494.7 300,495.3 299.5,493.4 299,494.1 298.5,495.7 298,493.9 297.5,492.6 297,494.4 296.5,494.2 296,494.1 295.5,494.5 295,493.6 294.5,495.5 294,495.6 293.5,494.2 293,494 292.5,494.8 292,493.5 291.5,493.8 291,495.3 290.5,496.5 290,494.1 289.5,494 289,494.4 288.5,494.7 288,494.4 287.5,494.8 287,494.7 286.5,497.1 286,494.2 285.5,491.6 285,492.9 284.5,494.4 284,492.5 283.5,492.9 283,494.7 282.5,495.5 282,493.4 281.5,493.5 281,495.1 280.5,493 280,492.2 279.5,494.2 279,495.5 278.5,494.7 278,493.2 277.5,495.1 277,495.5 276.5,491.4 276,491.5 275.5,494.8 275,494.7 274.5,494.3 274,492.6 273.5,491.2 273,495.2 272.5,494.4 272,492.3 271.5,493.2 271,493.3 270.5,492.6 270,494.3 269.5,495.7 269,493.3 268.5,492.7 268,493.2 267.5,495.1 267,495.9 266.5,493.9 266,492.7 265.5,493 265,494.7 264.5,493.1 264,496 263.5,495 263,495.2 262.5,494.5 262,492.9 261.5,492.8 261,492.9 260.5,492.8 260,493 259.5,494.5 259,494.3 258.5,492.3 258,492.4 257.5,490.6 257,491.7 256.5,492.1 256,493.4 255.5,492.9 255,495 254.5,494.8 254,492.8 253.5,493.9 253,494.4 252.5,493.2 252,492.7 251.5,493.7 251,493.7 250.5,494.3 250,496.2 249.5,496.3 249,494 248.5,492.8 248,493.8 247.5,496.2 247,498.8 246.5,499.2 246,497.3 245.5,496.3 245,496.5 244.5,498 244,497.2 243.5,495.5 243,494.7 242.5,495.5 242,496.5 241.5,495.6 241,493.4 240.5,494.8 240,498.7 239.5,496.5 239,493.4 238.5,495.6 238,495.5 237.5,495.1 237,496.6 236.5,496.6 236,497.6 235.5,498 235,495.5 234.5,494.7 234,493.6 233.5,496.4 233,496.5 232.5,495.8 232,495.8 231.5,493 231,493.5 230.5,495.5 230,497.1 229.5,497.2 229,495.9 228.5,497.3 228,497 227.5,494.5 227,495.7 226.5,495.2 226,494.8 225.5,494.8 225,494.2 224.5,496 224,498.2 223.5,495.8 223,494 222.5,496.8 222,494.9 221.5,495.4 221,496.3 220.5,495.3 220,495.4 219.5,494.9 219,495.7 218.5,495.7 218,493.5 217.5,494.4 217,494.1 216.5,495.2 216,495.2 215.5,495.4 215,495.4 214.5,495.6 214,494 213.5,493.9 213,493.4 212.5,494.2 212,493.6 211.5,495.1 211,494.9 210.5,494 210,494.4 209.5,494.8 209,495.5 208.5,496.6 208,495.2 207.5,494.5 207,493.5 206.5,495.1 206,495.8 205.5,496.6 205,495.8 204.5,496.2 204,497.6 203.5,496.5 203,497 202.5,495.3 202,494.6 201.5,495.2 201,494.2 200.5,495.8 200,495.3 199.5,495.9 199,496.2 198.5,495.5 198,495.5 197.5,495.2 197,494.8 196.5,496.3 196,496.3 195.5,496 195,494.8 194.5,494 194,496.3 193.5,496.9 193,496.7 192.5,495.3 192,494 191.5,494.9 191,495 190.5,495 190,494.4 189.5,494.4 189,495.7 188.5,495.5 188,494.7 187.5,495.5 187,496.3 186.5,495.9" fill="#111111"/><path d="M186,416 V508 H306.4" fill="none" stroke="#222" stroke-width="1.2"/><line x1="184.2" y1="491.3" x2="186" y2="491.3" stroke="#222" stroke-width="1"/><line x1="184.2" y1="465.4" x2="186" y2="465.4" stroke="#222" stroke-width="1"/><line x1="184.2" y1="439.5" x2="186" y2="439.5" stroke="#222" stroke-width="1"/><text x="186" y="520.4" font-size="11" text-anchor="middle" fill="#222">−30</text><text x="246.4" y="520.4" font-size="11" text-anchor="middle" fill="#222">0</text><text x="306.4" y="520.4" font-size="11" text-anchor="middle" fill="#222">30</text><line x1="216.2" y1="506.2" x2="216.2" y2="508" stroke="#222" stroke-width="0.9"/><line x1="276.4" y1="506.2" x2="276.4" y2="508" stroke="#222" stroke-width="0.9"/><line x1="246.4" y1="415.5" x2="246.4" y2="508" stroke="#2a2a2a" stroke-width="1.8" stroke-dasharray="7,7.3"/><text x="170.3" y="537.6" font-size="10.65" text-anchor="middle" fill="#222">Time from transition onset (s)</text><text x="335.2" y="258.8" font-size="16.5" font-weight="bold" fill="#000">d</text><polygon points="380.7,327.9 381.3,328 381.9,332.8 382.5,344.9 383.1,349.4 383.7,344.9 384.3,343.8 384.9,343.3 385.5,340.9 386.1,337.7 386.7,342.8 387.3,341 387.9,336.1 388.5,336.7 389.1,337.1 389.7,334.6 390.3,336.4 390.9,341 391.5,343.4 392.1,342.2 392.7,345.3 393.3,346.1 393.9,342.8 394.5,336.8 395.1,335.9 395.7,330.6 396.3,329.9 396.9,325.9 397.5,328 398.1,334.6 398.7,332.9 399.3,337.3 399.9,342 400.5,343.3 401.1,342.6 401.7,348.3 402.3,342 402.9,340.2 403.5,346.6 404.1,345.9 404.7,341.5 405.3,338.7 405.9,337.4 406.5,336.9 407.1,337.8 407.7,334.5 408.3,334.3 408.9,337.5 409.5,337.7 410.1,339.4 410.7,338.3 411.3,343.5 411.9,340.8 412.5,335.5 413.1,330.7 413.7,327.3 414.3,323.3 414.9,318.8 415.5,292.4 416.1,278.7 416.7,294.9 417.3,300.7 417.9,302.3 418.5,314 419.1,315 419.7,310.8 420.3,313.2 420.9,323.8 421.5,325 422.1,324 422.7,331.5 423.3,327.3 423.9,331.2 424.5,334.4 425.1,334.2 425.7,330.1 426.3,333.2 426.9,324.9 427.5,322.2 428.1,320.9 428.7,326 429.3,321.4 429.9,315.5 430.5,317.3 431.1,314.1 431.7,310.8 432.3,315.5 432.9,313.2 433.5,312.3 434.1,303.1 434.7,306.6 435.3,311.7 435.9,309.8 436.5,303.4 437.1,309.9 437.7,306 438.3,301.7 438.9,300.9 439.5,301.4 440.1,302 440.7,301.4 441.3,299.6 441.9,295.4 442.5,297 443.1,301.3 443.7,303.7 444.3,305 444.9,301.1 445.5,302.7 446.1,301.3 446.7,298.2 447.3,301.3 447.9,300.2 448.5,297.6 449.1,299.5 449.7,298.3 450.3,303.7 450.9,297 451.5,295.7 452.1,304.2 452.7,301.9 453.3,303.8 453.9,296.5 454.5,297.7 455.1,301.1 455.7,297.7 456.3,301.5 456.9,300.7 457.5,300 458.1,301.8 458.7,301.1 459.3,302 459.9,302.6 460.5,299.2 461.1,301.1 461.7,296.9 462.3,296.3 462.9,299.7 463.5,302.9 464.1,301.4 464.7,301.5 465.3,300.6 465.9,300.7 466.5,300.7 467.1,298.3 467.7,298.1 468.3,295.8 468.9,300.2 469.5,300.6 470.1,298.7 470.7,298.6 471.3,299.8 471.9,299.2 472.5,295.8 473.1,299.7 473.7,302.3 474.3,299.8 474.9,294.5 475.5,294.9 476.1,290 476.7,294.7 477.3,298.3 477.9,297 478.5,295.6 479.1,294.6 479.7,295.8 480.3,295.4 480.9,299.6 481.5,296.4 482.1,300.4 482.7,300 483.3,298.3 483.9,298.8 484.5,299.6 485.1,299.3 485.7,294.1 486.3,299.7 486.9,300.9 487.5,302 488.1,298.4 488.7,300.6 489.3,302.8 489.9,304.5 490.5,305.8 491.1,305 491.7,312.3 492.3,309 492.9,306.6 493.5,304.9 494.1,304.3 494.7,308.9 495.3,309.5 495.9,307 496.5,308.5 497.1,306.2 497.7,309.1 498.3,311.8 498.9,308.3 499.5,306.5 500.1,305.1 500.7,302.2 501.3,304.9 501.9,307.1 502.5,303.9 503.1,309.8 503.7,302 504.3,305.7 504.9,309 505.5,306.9 506.1,303.2 506.7,305 507.3,305.7 507.9,300.4 508.5,299 509.1,303.8 509.7,302.9 510.3,297.9 510.9,296.5 511.5,303.8 512.1,303.7 512.7,300.8 513.3,301.8 513.9,301.2 514.5,300.9 515.1,301.3 515.7,301.7 516.3,296.5 516.9,299.1 517.5,302.2 518.1,299.4 518.7,295 519.3,295.4 519.9,298.8 520.5,296.1 521.1,299.6 521.7,303.8 522.3,301.1 522.9,301.6 523.5,303.9 524.1,301.9 524.7,302.5 525.3,303.8 525.9,304.3 526.5,298.2 527.1,301.3 527.7,302 528.3,304.8 528.9,302.7 529.5,306.8 530.1,309.2 530.7,305.2 531.3,306.4 531.9,306.5 532.5,301.3 533.1,305.4 533.7,308.2 534.3,305.5 534.9,305.1 535.5,307.4 536.1,307.2 536.7,305.7 537.3,308.3 537.9,308.6 538.5,311.4 539.1,315.9 539.7,314.3 540.3,311.2 540.9,310.1 541.5,309.5 542.1,306.9 542.7,311.4 543.3,311.4 543.9,312.5 544.5,311.8 545.1,308.5 545.7,310.7 546.3,308.8 546.9,306.2 547.5,307.1 548.1,312 548.7,314.5 549.3,311.5 549.9,305.9 550.5,300.2 551.1,304.2 551.7,307.9 552.3,312.4 552.9,314.1 553.5,319.9 554.1,313.3 554.7,313.8 555.3,312.5 555.9,310.8 556.5,311.4 557.1,314.4 557.7,315.8 558.3,315 558.9,314.2 559.5,319.6 560.1,319.6 560.7,318.9 561.3,318.5 561.9,317.9 562.5,312.5 563.1,319.8 563.7,321.6 564.3,317.8 564.9,316.4 565.5,320 566.1,319.8 566.7,318 567.3,314.4 567.9,319.6 568.5,324 569.1,318.6 569.7,319.5 570.3,323 570.9,321.8 571.5,325.5 572.1,324.3 572.7,323.2 573.3,323.2 573.9,324.3 574.5,331.1 575.1,327.5 575.7,321.4 576.3,322.3 576.9,321.8 577.5,324.2 578.1,326.2 578.7,324.7 579.3,320.8 579.9,320.8 580.5,322.2 581.1,325.4 581.7,324.9 582.3,324.1 582.9,321.4 583.5,321.2 584.1,323.3 584.7,322.5 585.3,321.4 585.9,316.5 586.5,317.3 587.1,314.6 587.7,318.4 588.3,317.2 588.9,316.4 589.5,314.8 590.1,321.6 590.7,315.2 591.3,314.1 591.9,320 592.5,318.9 593.1,317.1 593.7,318.7 594.3,320.4 594.9,321.1 595.5,323.5 596.1,325.7 596.7,331.2 597.3,329.4 597.9,331.4 598.5,333.2 599.1,332.7 599.7,333.1 600.3,331.5 600.9,329.4 601.5,333.2 602.1,334.2 602.7,331.8 603.3,329.4 603.9,333.3 604.5,330.6 605.1,331.5 605.7,332 606.3,333.5 606.9,333.6 607.5,332.8 608.1,331.2 608.7,328.7 609.3,333.4 609.9,331.7 610.5,333.2 611.1,332.3 611.7,331.9 612.3,335.4 612.9,332.3 613.5,333.5 614.1,328.2 614.7,330.7 615.3,331.8 615.9,336.4 616.5,336.1 617.1,332.9 617.7,333.2 618.3,334.2 618.9,331.9 619.5,334.9 620.1,338.3 620.7,339.1 621.3,333.8 621.9,332.1 622.5,335.1 623.1,333.1 623.7,334.4 624.3,335.2 624.9,334.8 625.5,335.9 626.1,329.7 626.7,337.2 627.3,332.5 627.9,333.9 628.5,335.4 629.1,335.8 629.7,336.7 630.3,340.8 630.9,341.4 631.5,336.9 632.1,341.1 632.7,336.7 633.3,340 633.9,335.6 634.5,333.1 635.1,341.2 635.7,343.3 636.3,342.4 636.9,339.7 637.5,337.1 638.1,341.3 638.7,342.4 639.3,342.2 639.9,335.5 640.5,339.4 641.1,344.3 641.7,340.6 642.3,338.2 642.9,338.1 643.5,339.3 644.1,346.2 644.7,345 645.3,344.9 645.3,357.4 644.7,360 644.1,358.6 643.5,352.4 642.9,352.1 642.3,348.9 641.7,352.3 641.1,356.4 640.5,352.1 639.9,353.9 639.3,354.5 638.7,358.7 638.1,353.3 637.5,348.9 636.9,354.2 636.3,355.3 635.7,354.2 635.1,353.4 634.5,350.6 633.9,348.3 633.3,354.4 632.7,348.7 632.1,352.2 631.5,350.5 630.9,352.5 630.3,354 629.7,349 629.1,349.5 628.5,348.2 627.9,346.7 627.3,346.7 626.7,348.6 626.1,348.9 625.5,349.1 624.9,350.4 624.3,347.9 623.7,346.8 623.1,345.1 622.5,345.9 621.9,344.4 621.3,345.6 620.7,350 620.1,349.7 619.5,348.2 618.9,344.1 618.3,347.2 617.7,345.1 617.1,345 616.5,348.2 615.9,349.9 615.3,342.9 614.7,347.8 614.1,347.5 613.5,346.9 612.9,351.2 612.3,349.3 611.7,344.9 611.1,345.2 610.5,346.7 609.9,347.1 609.3,349.7 608.7,341.1 608.1,345.5 607.5,345.3 606.9,346.2 606.3,348.4 605.7,343.4 605.1,342.8 604.5,344.3 603.9,348.8 603.3,341.6 602.7,343.8 602.1,348 601.5,345.2 600.9,343.3 600.3,342.3 599.7,343.7 599.1,343.8 598.5,346.9 597.9,342.2 597.3,341.7 596.7,342.1 596.1,336.6 595.5,336.8 594.9,333.3 594.3,334 593.7,331.8 593.1,329.9 592.5,332.4 591.9,334.5 591.3,330.8 590.7,334.1 590.1,335 589.5,332.9 588.9,330.7 588.3,331 587.7,332 587.1,329.9 586.5,332.7 585.9,334.2 585.3,336.6 584.7,334.6 584.1,337.4 583.5,335.2 582.9,332 582.3,340 581.7,340 581.1,337.3 580.5,335.1 579.9,333 579.3,332.3 578.7,339.8 578.1,337.2 577.5,336.3 576.9,333.9 576.3,336.5 575.7,333.5 575.1,339.2 574.5,341.7 573.9,336.1 573.3,335.4 572.7,339 572.1,340.3 571.5,338.5 570.9,337.5 570.3,335.6 569.7,333.4 569.1,337.2 568.5,336.5 567.9,332.4 567.3,327.5 566.7,329.5 566.1,331.8 565.5,335.4 564.9,327.3 564.3,330.6 563.7,334.6 563.1,330.5 562.5,324.3 561.9,330.9 561.3,335.6 560.7,333.6 560.1,331.4 559.5,334.8 558.9,328.5 558.3,326 557.7,328.7 557.1,327.8 556.5,325.8 555.9,322.2 555.3,323.6 554.7,333.4 554.1,327.2 553.5,330.8 552.9,326.2 552.3,325.4 551.7,319.5 551.1,317.6 550.5,316.3 549.9,318.3 549.3,324.5 548.7,326.4 548.1,325.2 547.5,322.7 546.9,319 546.3,320.6 545.7,322.4 545.1,324.4 544.5,329.4 543.9,325.5 543.3,324 542.7,324.6 542.1,321.8 541.5,324 540.9,322.2 540.3,326.6 539.7,325.5 539.1,328.2 538.5,325.3 537.9,320.4 537.3,321 536.7,317.9 536.1,319.5 535.5,318.7 534.9,316.3 534.3,320 533.7,320 533.1,318.6 532.5,316.2 531.9,320.5 531.3,321.1 530.7,321.4 530.1,321.1 529.5,318.1 528.9,315.6 528.3,317.7 527.7,313.8 527.1,314.8 526.5,313.6 525.9,323.7 525.3,318 524.7,314.6 524.1,313.2 523.5,316.2 522.9,314.2 522.3,314.5 521.7,315.7 521.1,313.4 520.5,309.5 519.9,317.4 519.3,313.3 518.7,309.2 518.1,314.7 517.5,315.1 516.9,312.3 516.3,315.8 515.7,317.6 515.1,314.3 514.5,314.7 513.9,316.2 513.3,314.7 512.7,319.3 512.1,319.5 511.5,316 510.9,312.1 510.3,313.4 509.7,314.7 509.1,315.7 508.5,313.2 507.9,315.4 507.3,317.4 506.7,318.6 506.1,320.6 505.5,321.6 504.9,321.7 504.3,320 503.7,313.6 503.1,322.7 502.5,320.7 501.9,321.1 501.3,321.1 500.7,315.4 500.1,319.2 499.5,318.2 498.9,321.3 498.3,328.4 497.7,326.3 497.1,320.6 496.5,321.7 495.9,321.4 495.3,321.5 494.7,322.5 494.1,321 493.5,321.9 492.9,325.3 492.3,324.8 491.7,325.3 491.1,321 490.5,321.2 489.9,319.3 489.3,317.6 488.7,315.7 488.1,316 487.5,316.1 486.9,315.6 486.3,313.9 485.7,309.4 485.1,313.9 484.5,317.1 483.9,313.3 483.3,315 482.7,316.1 482.1,320.4 481.5,316.6 480.9,316.2 480.3,310.9 479.7,313.7 479.1,313.9 478.5,314.5 477.9,314 477.3,317 476.7,312.9 476.1,309.5 475.5,314.9 474.9,315 474.3,317.7 473.7,321.2 473.1,319.1 472.5,314.9 471.9,319.8 471.3,322.7 470.7,322.9 470.1,321.2 469.5,325.4 468.9,324.8 468.3,321.3 467.7,319.1 467.1,326.3 466.5,325.3 465.9,322.9 465.3,324.1 464.7,323.6 464.1,325.6 463.5,327.2 462.9,325.6 462.3,320.5 461.7,325.3 461.1,330.3 460.5,324.1 459.9,327.4 459.3,329.8 458.7,325 458.1,328.4 457.5,324.5 456.9,327.1 456.3,333.5 455.7,328.2 455.1,331.8 454.5,324.7 453.9,327 453.3,330 452.7,331.9 452.1,330.7 451.5,325.2 450.9,325.3 450.3,330.9 449.7,330.1 449.1,327.5 448.5,329 447.9,328.5 447.3,332.7 446.7,331.9 446.1,331.3 445.5,332.3 444.9,330.1 444.3,332.9 443.7,335.5 443.1,330.7 442.5,327.7 441.9,325.7 441.3,330.9 440.7,330.2 440.1,334.9 439.5,333.6 438.9,332.8 438.3,334.2 437.7,335.4 437.1,343.7 436.5,341.3 435.9,339.7 435.3,344.1 434.7,343 434.1,341.3 433.5,343.2 432.9,345.9 432.3,348.3 431.7,347.2 431.1,350.4 430.5,354.1 429.9,351.2 429.3,351 428.7,356.6 428.1,354.3 427.5,356.3 426.9,361.1 426.3,362.2 425.7,358.6 425.1,360.4 424.5,361 423.9,358.5 423.3,358.1 422.7,355.3 422.1,348.4 421.5,348.3 420.9,349.7 420.3,342.4 419.7,342.2 419.1,340.4 418.5,335.7 417.9,326 417.3,321.4 416.7,313.8 416.1,298.2 415.5,310.3 414.9,337.5 414.3,342.6 413.7,346.3 413.1,349.3 412.5,356 411.9,360.3 411.3,363.3 410.7,359.8 410.1,357 409.5,355.4 408.9,356 408.3,352.8 407.7,353.9 407.1,357.8 406.5,361.3 405.9,363.2 405.3,364.1 404.7,365.7 404.1,366.5 403.5,364.9 402.9,360.2 402.3,359 401.7,366.1 401.1,363.4 400.5,361.7 399.9,362.6 399.3,356.3 398.7,350 398.1,352 397.5,350.1 396.9,343.2 396.3,349.2 395.7,348 395.1,352.5 394.5,354.5 393.9,361.5 393.3,365.6 392.7,363.4 392.1,364.3 391.5,360 390.9,360.1 390.3,355 389.7,350.8 389.1,356.3 388.5,356.2 387.9,355.5 387.3,356.8 386.7,359.6 386.1,357.9 385.5,359 384.9,361.4 384.3,365.4 383.7,363.7 383.1,365.7 382.5,360.7 381.9,355.1 381.3,347.2 380.7,345.8" fill="#a6d9a0" opacity="0.85"/><polygon points="380.7,325.3 381.3,325.2 381.9,329.4 382.5,341.3 383.1,345.7 383.7,342.3 384.3,339.2 384.9,338.2 385.5,338.2 386.1,333.9 386.7,337.3 387.3,336.3 387.9,329.6 388.5,332.6 389.1,331.6 389.7,331.7 390.3,333.6 390.9,338.2 391.5,341.2 392.1,339.4 392.7,342.5 393.3,340.7 393.9,336.2 394.5,331.7 395.1,331.3 395.7,327.9 396.3,327.3 396.9,322.9 397.5,321.5 398.1,332.4 398.7,328 399.3,334.1 399.9,335.9 400.5,337.1 401.1,339.8 401.7,345.7 402.3,339.2 402.9,336.6 403.5,344.1 404.1,342.4 404.7,335.4 405.3,332.6 405.9,334.2 406.5,332.8 407.1,334 407.7,329.8 408.3,329.6 408.9,334.7 409.5,334.1 410.1,336.7 410.7,334.6 411.3,339.2 411.9,337.6 412.5,328.1 413.1,327.6 413.7,324.4 414.3,318.2 414.9,315.6 415.5,289.9 416.1,274.5 416.7,288.5 417.3,297.6 417.9,296.9 418.5,310.6 419.1,310.7 419.7,305 420.3,308.3 420.9,319.9 421.5,320.4 422.1,319.6 422.7,326.9 423.3,321.2 423.9,326 424.5,329.9 425.1,330.9 425.7,325.3 426.3,327.1 426.9,319.8 427.5,315.9 428.1,316.6 428.7,322 429.3,315.5 429.9,310.4 430.5,311.4 431.1,307.6 431.7,303 432.3,310.7 432.9,308.3 433.5,306.5 434.1,294.8 434.7,300.8 435.3,305.5 435.9,304 436.5,298.3 437.1,302.8 437.7,301.8 438.3,296.7 438.9,294.2 439.5,297.2 440.1,297.1 440.7,296.4 441.3,295.1 441.9,290.4 442.5,292.5 443.1,296.2 443.7,298.2 444.3,300.7 444.9,297.2 445.5,299 446.1,297.4 446.7,290 447.3,295.5 447.9,295.9 448.5,293.5 449.1,294.9 449.7,293.4 450.3,299.9 450.9,292.6 451.5,287.7 452.1,299.3 452.7,296.9 453.3,299.8 453.9,291.5 454.5,292.7 455.1,296.9 455.7,292.4 456.3,296.7 456.9,295.6 457.5,296.1 458.1,295.7 458.7,295.1 459.3,297.6 459.9,297.9 460.5,294.8 461.1,296.7 461.7,292.1 462.3,292.3 462.9,296.2 463.5,298.4 464.1,297.4 464.7,298.3 465.3,297.3 465.9,292 466.5,297.3 467.1,294 467.7,293.9 468.3,290 468.9,295.7 469.5,296.3 470.1,292.7 470.7,294.1 471.3,296.7 471.9,296.4 472.5,288.8 473.1,294.1 473.7,299.2 474.3,294.9 474.9,289.5 475.5,290.1 476.1,286.2 476.7,291.9 477.3,290.5 477.9,294.9 478.5,290.5 479.1,291.2 479.7,291.2 480.3,292.8 480.9,295.2 481.5,292.7 482.1,296 482.7,297 483.3,296.1 483.9,296.7 484.5,297.2 485.1,296.2 485.7,292 486.3,297.2 486.9,297.6 487.5,295 488.1,295 488.7,297.3 489.3,299.9 489.9,300.9 490.5,303.2 491.1,302.4 491.7,310 492.3,306.9 492.9,303.7 493.5,299.3 494.1,299.9 494.7,305.4 495.3,307.5 495.9,302 496.5,305.2 497.1,304.4 497.7,303.9 498.3,308.8 498.9,306.3 499.5,303.2 500.1,299 500.7,299.7 501.3,302.5 501.9,300.8 502.5,299.8 503.1,307.8 503.7,299.9 504.3,300.7 504.9,305.7 505.5,302.4 506.1,299.6 506.7,302.6 507.3,304.1 507.9,296.2 508.5,293.6 509.1,298.9 509.7,301 510.3,294.3 510.9,292.3 511.5,300.1 512.1,300 512.7,295 513.3,298 513.9,298.9 514.5,298.6 515.1,298.3 515.7,295.1 516.3,292.7 516.9,297.1 517.5,299.9 518.1,297.3 518.7,293.2 519.3,293 519.9,294.4 520.5,293.8 521.1,295.2 521.7,300.1 522.3,298.6 522.9,297.7 523.5,301.2 524.1,299.2 524.7,300.8 525.3,299 525.9,299.2 526.5,295.3 527.1,295.2 527.7,300.1 528.3,302.6 528.9,300 529.5,303.6 530.1,305.5 530.7,301.9 531.3,304.5 531.9,303.1 532.5,297 533.1,302.2 533.7,304.9 534.3,302.8 534.9,300.7 535.5,305.4 536.1,304.5 536.7,303.4 537.3,305.6 537.9,304.9 538.5,308.1 539.1,313.6 539.7,312.7 540.3,309.2 540.9,306.6 541.5,305.5 542.1,304.7 542.7,308 543.3,309.7 543.9,309.2 544.5,309.2 545.1,305.4 545.7,305.9 546.3,306.5 546.9,301.8 547.5,303.5 548.1,308.1 548.7,312.7 549.3,309.6 549.9,301.4 550.5,295.7 551.1,300.9 551.7,304.6 552.3,310.4 552.9,312.5 553.5,316.2 554.1,310.9 554.7,308.7 555.3,307.7 555.9,306.5 556.5,308.4 557.1,311.2 557.7,313.7 558.3,312.3 558.9,308.2 559.5,316.9 560.1,316.5 560.7,315.3 561.3,312.2 561.9,311.9 562.5,309.5 563.1,318.1 563.7,319.8 564.3,313.9 564.9,313.8 565.5,314.7 566.1,317.8 566.7,316.2 567.3,310.5 567.9,313.9 568.5,321.2 569.1,316 569.7,316.4 570.3,320.7 570.9,315.7 571.5,322.5 572.1,322.2 572.7,319.6 573.3,319.8 573.9,322.7 574.5,326.6 575.1,324 575.7,317.7 576.3,318.9 576.9,320.3 577.5,322.6 578.1,324.6 578.7,320.8 579.3,317.8 579.9,318.4 580.5,317.6 581.1,323.3 581.7,320.5 582.3,319.7 582.9,320 583.5,317.2 584.1,319.4 584.7,318.8 585.3,316.4 585.9,312.6 586.5,315.2 587.1,311.5 587.7,316.3 588.3,310.8 588.9,313.6 589.5,311.4 590.1,319.2 590.7,312.1 591.3,311.9 591.9,317 592.5,316.2 593.1,313.8 593.7,317 594.3,317.2 594.9,318.9 595.5,321.7 596.1,323.4 596.7,327.3 597.3,324.6 597.9,329.9 598.5,329.7 599.1,328.5 599.7,329.3 600.3,328.7 600.9,324.2 601.5,326.2 602.1,330.5 602.7,326.8 603.3,327.7 603.9,328.7 604.5,327.1 605.1,328.4 605.7,328.9 606.3,329.6 606.9,330.4 607.5,328.1 608.1,327 608.7,326 609.3,328.7 609.9,324.9 610.5,328.3 611.1,326 611.7,328.9 612.3,333.2 612.9,329.9 613.5,330.7 614.1,323.3 614.7,326.9 615.3,329.4 615.9,333.5 616.5,334.5 617.1,328.4 617.7,331.3 618.3,327.4 618.9,329.8 619.5,332 620.1,332.7 620.7,336.5 621.3,332.3 621.9,329.2 622.5,332.3 623.1,330.5 623.7,330.9 624.3,332.6 624.9,332.7 625.5,333.5 626.1,325.1 626.7,335.4 627.3,329.1 627.9,330.4 628.5,330.3 629.1,333.7 629.7,334.3 630.3,338.7 630.9,339 631.5,334.9 632.1,337.3 632.7,332.7 633.3,333.6 633.9,332.7 634.5,330.9 635.1,338.6 635.7,338.5 636.3,339.9 636.9,336.4 637.5,335.2 638.1,335.5 638.7,339.8 639.3,339.4 639.9,332.4 640.5,337.7 641.1,340.4 641.7,338.5 642.3,336.4 642.9,335.2 643.5,334 644.1,344.4 644.7,340.8 645.3,342.2 645.3,359 644.7,363.3 644.1,361.8 643.5,358.8 642.9,355.5 642.3,351.6 641.7,355.3 641.1,358.5 640.5,354.6 639.9,358.3 639.3,356 638.7,362.1 638.1,356 637.5,350.6 636.9,356.8 636.3,358.1 635.7,356.6 635.1,356 634.5,353.9 633.9,352.2 633.3,357.3 632.7,355.4 632.1,355.5 631.5,353.9 630.9,357.6 630.3,359.4 629.7,351.3 629.1,351.4 628.5,352.2 627.9,348.4 627.3,349.5 626.7,350.4 626.1,352 625.5,352.4 624.9,353.6 624.3,350.9 623.7,349.4 623.1,347.3 622.5,349.4 621.9,346.4 621.3,348.2 620.7,353.1 620.1,353.3 619.5,350.9 618.9,346.3 618.3,350 617.7,347.5 617.1,347.8 616.5,351.7 615.9,352 615.3,345.2 614.7,350.2 614.1,350.5 613.5,350.5 612.9,356.5 612.3,352.3 611.7,348.4 611.1,347.8 610.5,348.6 609.9,352.5 609.3,354.3 608.7,342.7 608.1,350 607.5,347.2 606.9,347.9 606.3,352.1 605.7,344.9 605.1,344.6 604.5,347.1 603.9,351.3 603.3,343.3 602.7,350.6 602.1,350.4 601.5,347.1 600.9,347.3 600.3,344.5 599.7,347.5 599.1,347.8 598.5,350.1 597.9,348.5 597.3,346.4 596.7,348.4 596.1,339.7 595.5,341.2 594.9,336 594.3,337.4 593.7,334.3 593.1,332.3 592.5,336 591.9,338.7 591.3,333.7 590.7,336.9 590.1,337.5 589.5,335.8 588.9,332.8 588.3,332.9 587.7,337.8 587.1,334.2 586.5,335.8 585.9,338.7 585.3,338.6 584.7,336.6 584.1,339.4 583.5,338.8 582.9,336.8 582.3,344.9 581.7,343.3 581.1,339.3 580.5,338.1 579.9,337.7 579.3,333.9 578.7,345.2 578.1,340.9 577.5,339.5 576.9,335.7 576.3,342.1 575.7,337.3 575.1,341.1 574.5,343.5 573.9,339.4 573.3,337.7 572.7,343.5 572.1,342.9 571.5,343.3 570.9,342 570.3,341.1 569.7,336 569.1,341.8 568.5,338.2 567.9,335.4 567.3,334.4 566.7,331.3 566.1,336.6 565.5,338.3 564.9,330.6 564.3,332.9 563.7,337.8 563.1,332.1 562.5,327.8 561.9,333.3 561.3,339.4 560.7,337.5 560.1,334.2 559.5,338.1 558.9,332.3 558.3,329.8 557.7,330.9 557.1,330.3 556.5,329.1 555.9,325.1 555.3,328.3 554.7,336.8 554.1,329.3 553.5,332.3 552.9,328 552.3,330.6 551.7,324.9 551.1,320.4 550.5,318.4 549.9,323.5 549.3,329.1 548.7,328.1 548.1,330.4 547.5,325.9 546.9,322.1 546.3,323.5 545.7,324.4 545.1,326.4 544.5,333 543.9,329.4 543.3,329.4 542.7,327.2 542.1,324.6 541.5,326.6 540.9,323.9 540.3,330.3 539.7,327.3 539.1,332.3 538.5,328.3 537.9,323 537.3,322.7 536.7,321.8 536.1,321.9 535.5,320.6 534.9,319 534.3,323.1 533.7,323 533.1,321.8 532.5,320.2 531.9,327.1 531.3,324.5 530.7,325.9 530.1,325.3 529.5,321.9 528.9,317.9 528.3,321.1 527.7,316.3 527.1,317.9 526.5,318 525.9,328.3 525.3,324.3 524.7,318.5 524.1,318.6 523.5,319.3 522.9,316.9 522.3,318.8 521.7,320.6 521.1,316.7 520.5,312.4 519.9,321.7 519.3,317 518.7,313.3 518.1,319.9 517.5,317.5 516.9,317.2 516.3,323.7 515.7,321.4 515.1,316.2 514.5,318.1 513.9,323.4 513.3,318.8 512.7,324.5 512.1,324.6 511.5,317.6 510.9,315 510.3,315.7 509.7,317.6 509.1,320.9 508.5,316.1 507.9,320.1 507.3,325.9 506.7,321.4 506.1,324.1 505.5,323.6 504.9,330.2 504.3,322.7 503.7,316.9 503.1,324.6 502.5,323.5 501.9,324.4 501.3,323.8 500.7,317.2 500.1,323 499.5,320.1 498.9,327.9 498.3,330.9 497.7,328.5 497.1,322.9 496.5,324.7 495.9,327.4 495.3,324.5 494.7,325.8 494.1,326.7 493.5,324.2 492.9,328.8 492.3,327.7 491.7,327.4 491.1,323.5 490.5,325.9 489.9,322 489.3,321.1 488.7,318.8 488.1,319.8 487.5,321.2 486.9,319.7 486.3,317 485.7,311.6 485.1,318.2 484.5,320.1 483.9,315.6 483.3,317.7 482.7,319.1 482.1,324.1 481.5,319.2 480.9,318.6 480.3,314.5 479.7,316.1 479.1,318.4 478.5,318.9 477.9,318.9 477.3,321.9 476.7,316.6 476.1,313 475.5,319.1 474.9,323.4 474.3,323.8 473.7,324.6 473.1,323.3 472.5,319.5 471.9,322.8 471.3,326.2 470.7,326.2 470.1,324.8 469.5,330.2 468.9,331.3 468.3,326.3 467.7,321.9 467.1,331.6 466.5,329.1 465.9,325.9 465.3,328 464.7,329.2 464.1,329.1 463.5,331.4 462.9,329.9 462.3,325.8 461.7,329.8 461.1,337.8 460.5,327.2 459.9,333.5 459.3,337.2 458.7,330.7 458.1,333.8 457.5,328 456.9,330.7 456.3,338.6 455.7,332.1 455.1,338.9 454.5,329.3 453.9,332.3 453.3,337.7 452.7,338.3 452.1,336.8 451.5,333.2 450.9,329.8 450.3,336.8 449.7,338 449.1,331.9 448.5,336.7 447.9,332.7 447.3,336.7 446.7,337.6 446.1,338.5 445.5,336 444.9,334.8 444.3,336.7 443.7,340.2 443.1,337.2 442.5,332.8 441.9,331.3 441.3,337.4 440.7,334.3 440.1,339.2 439.5,338.9 438.9,339.1 438.3,343.4 437.7,340.6 437.1,348.5 436.5,348 435.9,345.8 435.3,350.4 434.7,348.5 434.1,347.4 433.5,348.6 432.9,350.2 432.3,352.8 431.7,355.2 431.1,357.5 430.5,361.2 429.9,356.6 429.3,356.3 428.7,361.2 428.1,360.4 427.5,360.9 426.9,367.2 426.3,366.4 425.7,363.7 425.1,365 424.5,365.1 423.9,362.3 423.3,363.3 422.7,360.3 422.1,352.4 421.5,352.8 420.9,354.2 420.3,346.9 419.7,349.1 419.1,347.5 418.5,338.7 417.9,329.6 417.3,325.4 416.7,316.7 416.1,301.6 415.5,313.5 414.9,342 414.3,346.2 413.7,350.1 413.1,351.8 412.5,359.5 411.9,366.9 411.3,366.3 410.7,363 410.1,362 409.5,358.1 408.9,359.1 408.3,357.8 407.7,357.6 407.1,361.3 406.5,366.3 405.9,369.5 405.3,367.2 404.7,369.9 404.1,369.6 403.5,367.7 402.9,363.7 402.3,362.6 401.7,368.6 401.1,366.2 400.5,365.4 399.9,367.4 399.3,359.5 398.7,355 398.1,354.8 397.5,354.7 396.9,346.6 396.3,352.1 395.7,352.7 395.1,359.3 394.5,357.6 393.9,364.1 393.3,368.4 392.7,368.4 392.1,368.1 391.5,364.7 390.9,363.2 390.3,357.4 389.7,355.4 389.1,358.9 388.5,359.6 387.9,359.8 387.3,358.9 386.7,363.1 386.1,362.2 385.5,363 384.9,366.4 384.3,368.2 383.7,367.1 383.1,370.1 382.5,364.6 381.9,363.3 381.3,350.8 380.7,353.7" fill="#a6d9a0" opacity="0.4675"/><polygon points="380.7,323.7 381.3,333.8 381.9,334.5 382.5,334.3 383.1,344.3 383.7,341.4 384.3,340.9 384.9,334.1 385.5,334.7 386.1,333.7 386.7,340.7 387.3,346.1 387.9,349.7 388.5,342.6 389.1,340.6 389.7,337.4 390.3,335.7 390.9,336.4 391.5,336.5 392.1,335.2 392.7,329.3 393.3,331.8 393.9,333.3 394.5,336.6 395.1,344 395.7,344 396.3,340.1 396.9,337.6 397.5,334.6 398.1,329.2 398.7,324.7 399.3,325.5 399.9,318.4 400.5,326.4 401.1,329.3 401.7,329.6 402.3,338 402.9,345.4 403.5,342.5 404.1,340.4 404.7,340.6 405.3,341.3 405.9,341.7 406.5,341.6 407.1,341.5 407.7,338.3 408.3,330.2 408.9,332.3 409.5,320.6 410.1,316.2 410.7,320.7 411.3,318.5 411.9,319.2 412.5,326.9 413.1,323.9 413.7,319 414.3,316.3 414.9,307.5 415.5,300.8 416.1,301.8 416.7,302.6 417.3,310.8 417.9,319.2 418.5,315.5 419.1,320.6 419.7,325.4 420.3,327.9 420.9,331.2 421.5,331.7 422.1,335.7 422.7,334 423.3,340.9 423.9,340.7 424.5,339.5 425.1,343.6 425.7,345 426.3,347.7 426.9,342.9 427.5,344.3 428.1,340.8 428.7,341.5 429.3,340.9 429.9,338.8 430.5,341 431.1,340.4 431.7,335.2 432.3,334.6 432.9,340.3 433.5,338.2 434.1,333.9 434.7,341.7 435.3,336 435.9,338.9 436.5,341.3 437.1,337.4 437.7,341.5 438.3,346.8 438.9,344.2 439.5,343.5 440.1,351.7 440.7,352 441.3,348.7 441.9,348.7 442.5,341.1 443.1,341.1 443.7,333.2 444.3,327.7 444.9,326.8 445.5,323.6 446.1,326.8 446.7,326.5 447.3,324.5 447.9,321.8 448.5,324.8 449.1,327.1 449.7,324.2 450.3,328.8 450.9,325.4 451.5,327.9 452.1,327.5 452.7,331.1 453.3,332.4 453.9,334.1 454.5,332 455.1,332 455.7,334.3 456.3,333 456.9,338.7 457.5,340.7 458.1,346.6 458.7,346.1 459.3,345.1 459.9,351.8 460.5,347.8 461.1,338.5 461.7,328.9 462.3,326.5 462.9,330.2 463.5,334 464.1,330.8 464.7,334.1 465.3,335 465.9,338.6 466.5,338.8 467.1,344.8 467.7,342.6 468.3,345.1 468.9,342 469.5,342 470.1,339.2 470.7,344.7 471.3,340.2 471.9,341.7 472.5,341.4 473.1,339.5 473.7,346.3 474.3,348.2 474.9,348.1 475.5,350.7 476.1,348.4 476.7,349 477.3,345.7 477.9,344.1 478.5,348.1 479.1,350.8 479.7,351.2 480.3,350.4 480.9,352.6 481.5,353.6 482.1,358.3 482.7,351 483.3,347.9 483.9,350.8 484.5,357.7 485.1,356.2 485.7,353.8 486.3,346.6 486.9,350.7 487.5,344 488.1,347.2 488.7,342.8 489.3,348.7 489.9,349.8 490.5,344.3 491.1,346.2 491.7,347.5 492.3,341.2 492.9,338.3 493.5,339.1 494.1,338.5 494.7,336 495.3,338.9 495.9,331.1 496.5,331 497.1,331.1 497.7,328.9 498.3,330.9 498.9,331.3 499.5,327 500.1,325.6 500.7,328.7 501.3,333.2 501.9,331 502.5,330.2 503.1,333.1 503.7,337.3 504.3,335.5 504.9,338.9 505.5,340.8 506.1,343.2 506.7,338.1 507.3,342.4 507.9,340 508.5,342.1 509.1,338.6 509.7,344.1 510.3,338.5 510.9,342.6 511.5,344.1 512.1,346.4 512.7,340.5 513.3,343.3 513.9,342 514.5,334.8 515.1,339.6 515.7,348 516.3,341.6 516.9,337.6 517.5,340.7 518.1,338.7 518.7,338.5 519.3,339.5 519.9,340.2 520.5,340.7 521.1,342.6 521.7,339.6 522.3,342.5 522.9,339.4 523.5,344.9 524.1,344.7 524.7,342 525.3,338.2 525.9,340.2 526.5,345.9 527.1,344.2 527.7,346.1 528.3,345.3 528.9,343.9 529.5,343.2 530.1,349.4 530.7,344.2 531.3,347.5 531.9,346.3 532.5,342.7 533.1,348.6 533.7,347.9 534.3,346 534.9,346.1 535.5,343.6 536.1,346.3 536.7,346.6 537.3,344.9 537.9,346.2 538.5,343.6 539.1,338.4 539.7,341.8 540.3,346.2 540.9,340.9 541.5,343.3 542.1,343.5 542.7,343.2 543.3,343.7 543.9,344.9 544.5,344.2 545.1,343.2 545.7,339.5 546.3,343.7 546.9,340.8 547.5,342.2 548.1,339.4 548.7,338.8 549.3,344.8 549.9,341.9 550.5,343.5 551.1,337.1 551.7,342.2 552.3,346 552.9,341.9 553.5,344.4 554.1,339.7 554.7,344 555.3,340 555.9,335.6 556.5,338.4 557.1,340.6 557.7,335.6 558.3,341.3 558.9,340.6 559.5,336 560.1,336.9 560.7,342.7 561.3,340.7 561.9,345.6 562.5,349 563.1,345.9 563.7,343.3 564.3,339.6 564.9,346.7 565.5,346 566.1,345 566.7,344.1 567.3,348.1 567.9,346.4 568.5,347.4 569.1,350.3 569.7,354.2 570.3,348.2 570.9,348.4 571.5,353.2 572.1,353.2 572.7,354.6 573.3,353.6 573.9,354.3 574.5,355.8 575.1,354.4 575.7,355.5 576.3,353.2 576.9,357.1 577.5,355 578.1,349.9 578.7,348.1 579.3,348.6 579.9,349 580.5,345.2 581.1,341.1 581.7,344.1 582.3,341.5 582.9,343.7 583.5,344.3 584.1,347.4 584.7,344.2 585.3,342.3 585.9,344.7 586.5,343.6 587.1,343.9 587.7,343.3 588.3,341.3 588.9,342.2 589.5,342.7 590.1,342.7 590.7,338.9 591.3,340.7 591.9,336.8 592.5,337.7 593.1,337.6 593.7,338.4 594.3,334.6 594.9,345 595.5,341.5 596.1,348.1 596.7,344.7 597.3,347.4 597.9,343.2 598.5,344.6 599.1,343.6 599.7,342.7 600.3,347 600.9,352.4 601.5,348.4 602.1,349.8 602.7,343.8 603.3,349.1 603.9,340.7 604.5,348 605.1,355.1 605.7,350 606.3,351.9 606.9,353.2 607.5,352.1 608.1,353.9 608.7,358.1 609.3,346.3 609.9,343 610.5,356.7 611.1,355.9 611.7,353.6 612.3,357.2 612.9,360.4 613.5,353.1 614.1,354.7 614.7,353.6 615.3,358.1 615.9,355.2 616.5,352.6 617.1,355.6 617.7,363.4 618.3,360.6 618.9,360.8 619.5,359.8 620.1,364.4 620.7,358.9 621.3,361.3 621.9,360.2 622.5,362.3 623.1,359.4 623.7,362.2 624.3,365.4 624.9,359.9 625.5,358.5 626.1,361.9 626.7,365.1 627.3,356.4 627.9,361.1 628.5,361.2 629.1,361.2 629.7,359.6 630.3,357.1 630.9,356.6 631.5,359.7 632.1,361.7 632.7,363 633.3,362.2 633.9,357.3 634.5,355.6 635.1,352 635.7,356.5 636.3,354.1 636.9,355.9 637.5,357.2 638.1,351.1 638.7,353 639.3,351.7 639.9,354.1 640.5,359.5 641.1,351.3 641.7,351 642.3,344.8 642.9,351.9 643.5,357.1 644.1,360.4 644.7,358.2 645.3,357.6 645.3,371 644.7,370.8 644.1,373.2 643.5,370.9 642.9,370.7 642.3,367.6 641.7,367.6 641.1,365.2 640.5,372.2 639.9,369.8 639.3,365.6 638.7,365.9 638.1,366 637.5,370.7 636.9,369.7 636.3,367 635.7,374.3 635.1,364.8 634.5,367.2 633.9,373.7 633.3,376 632.7,375.4 632.1,375.3 631.5,374.8 630.9,369.5 630.3,370.7 629.7,373.6 629.1,376.2 628.5,376.6 627.9,374.4 627.3,372.9 626.7,380.7 626.1,377 625.5,374.9 624.9,374.6 624.3,379.8 623.7,379.8 623.1,376.2 622.5,374.7 621.9,375.3 621.3,373.5 620.7,373.7 620.1,376.6 619.5,377.7 618.9,372.1 618.3,374.9 617.7,374.9 617.1,370.2 616.5,367.1 615.9,367 615.3,369.9 614.7,366.7 614.1,366.1 613.5,367.9 612.9,372.8 612.3,371.9 611.7,367.5 611.1,368.8 610.5,370.8 609.9,360 609.3,360.4 608.7,370.4 608.1,365.7 607.5,367 606.9,366.4 606.3,366.9 605.7,361.5 605.1,366.6 604.5,363.1 603.9,355.9 603.3,360.7 602.7,357.1 602.1,362.9 601.5,360.4 600.9,364.2 600.3,361.9 599.7,356.8 599.1,357.9 598.5,362.5 597.9,357.4 597.3,359.2 596.7,359.6 596.1,359.7 595.5,355.6 594.9,356.6 594.3,347.5 593.7,349.4 593.1,350.1 592.5,351.3 591.9,351.4 591.3,353.7 590.7,353.2 590.1,354.2 589.5,354.8 588.9,354.4 588.3,354.7 587.7,354.7 587.1,355.8 586.5,358.4 585.9,360.5 585.3,358.2 584.7,361.8 584.1,362.9 583.5,357.5 582.9,357.2 582.3,359.4 581.7,363.3 581.1,360.4 580.5,357.2 579.9,362.9 579.3,359.3 578.7,360.1 578.1,363.5 577.5,367.4 576.9,368.2 576.3,365.2 575.7,366.8 575.1,365.7 574.5,366.5 573.9,367.9 573.3,365.7 572.7,365.8 572.1,368.2 571.5,371.9 570.9,363.8 570.3,359.6 569.7,367.4 569.1,367.1 568.5,364.7 567.9,365.8 567.3,359.4 566.7,361.4 566.1,358 565.5,359.2 564.9,358.6 564.3,351.4 563.7,359 563.1,359.2 562.5,359.8 561.9,358.5 561.3,353.6 560.7,358.4 560.1,350.8 559.5,353.8 558.9,353.2 558.3,352.4 557.7,349.8 557.1,355 556.5,355.1 555.9,353.4 555.3,355.5 554.7,354.7 554.1,354.6 553.5,359.1 552.9,353.5 552.3,360 551.7,354.2 551.1,348.8 550.5,354.1 549.9,355.4 549.3,357.7 548.7,354 548.1,353.6 547.5,355.7 546.9,355.5 546.3,359.1 545.7,354.8 545.1,359 544.5,360 543.9,360.2 543.3,355.7 542.7,354.2 542.1,355.4 541.5,354.8 540.9,352.7 540.3,358.4 539.7,354.2 539.1,350.8 538.5,357.9 537.9,357.6 537.3,360.6 536.7,358 536.1,360.6 535.5,356.3 534.9,358.7 534.3,359 533.7,360 533.1,360.4 532.5,355.3 531.9,359.3 531.3,360.3 530.7,359.9 530.1,361 529.5,354.7 528.9,354.4 528.3,356.5 527.7,357 527.1,359.4 526.5,358 525.9,357.2 525.3,352.2 524.7,353.6 524.1,355.4 523.5,357.9 522.9,354.7 522.3,353.4 521.7,351.9 521.1,355.4 520.5,351.7 519.9,357.3 519.3,356.8 518.7,355.4 518.1,354.9 517.5,356.2 516.9,355.5 516.3,352.3 515.7,361 515.1,360.3 514.5,354.4 513.9,355.4 513.3,356.4 512.7,354.8 512.1,357.1 511.5,356 510.9,355.9 510.3,354.5 509.7,358.3 509.1,354.9 508.5,354.6 507.9,353.1 507.3,353.9 506.7,353 506.1,354.8 505.5,354.3 504.9,351.8 504.3,347.1 503.7,348.1 503.1,346.4 502.5,344.8 501.9,342.9 501.3,345.9 500.7,340.2 500.1,341.4 499.5,342 498.9,342.4 498.3,343.4 497.7,340.1 497.1,344 496.5,341.8 495.9,349.1 495.3,352.3 494.7,349.7 494.1,350.9 493.5,351.5 492.9,350.4 492.3,354.1 491.7,358.2 491.1,358.4 490.5,356.7 489.9,362.1 489.3,365.2 488.7,355.5 488.1,358.5 487.5,358.9 486.9,364.3 486.3,365 485.7,366.3 485.1,375.6 484.5,370.6 483.9,364.9 483.3,364.4 482.7,363.2 482.1,370.5 481.5,366.2 480.9,367 480.3,366.1 479.7,363.3 479.1,366.4 478.5,360.5 477.9,361.4 477.3,358.4 476.7,362.8 476.1,359.5 475.5,361.9 474.9,359.7 474.3,360.2 473.7,361.5 473.1,356.6 472.5,354.1 471.9,356.4 471.3,354.8 470.7,359.3 470.1,352.8 469.5,354.1 468.9,354.5 468.3,357.2 467.7,356.5 467.1,357 466.5,350.3 465.9,351.2 465.3,347.9 464.7,348.7 464.1,346.7 463.5,347.8 462.9,342 462.3,341.3 461.7,344.9 461.1,350.6 460.5,362.1 459.9,366.5 459.3,357.7 458.7,358 458.1,358.3 457.5,352.4 456.9,350.4 456.3,348 455.7,350 455.1,344.7 454.5,349.9 453.9,347.6 453.3,348 452.7,343.8 452.1,342.1 451.5,340.3 450.9,342.2 450.3,341.5 449.7,343.2 449.1,343 448.5,339.2 447.9,337 447.3,339.9 446.7,341.6 446.1,341.8 445.5,338.6 444.9,342.1 444.3,343.7 443.7,350.6 443.1,356.4 442.5,357.3 441.9,364.8 441.3,362.7 440.7,366.2 440.1,368.6 439.5,360.8 438.9,358.1 438.3,360.4 437.7,358.1 437.1,354.3 436.5,360.1 435.9,364.5 435.3,355.9 434.7,355.2 434.1,349.4 433.5,352.9 432.9,353.9 432.3,349.2 431.7,352.5 431.1,357.2 430.5,357.3 429.9,355.9 429.3,357.5 428.7,355.1 428.1,361.1 427.5,360.2 426.9,361.3 426.3,362.6 425.7,361.3 425.1,358.1 424.5,358.5 423.9,358.5 423.3,358.5 422.7,352.5 422.1,352.6 421.5,347 420.9,350.4 420.3,346.8 419.7,340.7 419.1,335 418.5,329.6 417.9,333.4 417.3,324.9 416.7,319.4 416.1,318.1 415.5,317.3 414.9,323.1 414.3,332.8 413.7,336 413.1,339 412.5,341.7 411.9,333.8 411.3,333.3 410.7,335.6 410.1,330.4 409.5,334.9 408.9,347.5 408.3,344.6 407.7,352 407.1,359.1 406.5,357 405.9,357.9 405.3,355.1 404.7,354.3 404.1,355.7 403.5,359.6 402.9,361.1 402.3,351.9 401.7,345 401.1,343.8 400.5,342.3 399.9,333.5 399.3,340.3 398.7,348 398.1,346.8 397.5,348.7 396.9,351.1 396.3,354.1 395.7,358.9 395.1,360.2 394.5,351.1 393.9,356.2 393.3,352.7 392.7,344.4 392.1,350.8 391.5,350.1 390.9,351.9 390.3,352.2 389.7,355.2 389.1,354.4 388.5,356.6 387.9,363.1 387.3,358.7 386.7,356.6 386.1,349.1 385.5,348.1 384.9,348.4 384.3,353.9 383.7,356 383.1,360.1 382.5,350.8 381.9,351.6 381.3,345.7 380.7,336.1" fill="#bdbdbd" opacity="0.75"/><polygon points="380.7,321.6 381.3,330.2 381.9,331.8 382.5,330.7 383.1,340 383.7,337.9 384.3,337.8 384.9,331.5 385.5,332.3 386.1,331.6 386.7,337.4 387.3,343.6 387.9,347 388.5,340 389.1,337.7 389.7,333.2 390.3,331.7 390.9,333.8 391.5,332.7 392.1,330.4 392.7,327.2 393.3,326.9 393.9,330.4 394.5,332.9 395.1,341.9 395.7,341 396.3,336.3 396.9,332.4 397.5,331.5 398.1,325.3 398.7,321 399.3,323.6 399.9,316.2 400.5,322.6 401.1,326.2 401.7,326.4 402.3,335.7 402.9,342.8 403.5,338.9 404.1,334.8 404.7,336.7 405.3,339.4 405.9,336.6 406.5,338.8 407.1,337.5 407.7,336.4 408.3,327.7 408.9,328 409.5,317.5 410.1,313 410.7,317.2 411.3,316.3 411.9,316.7 412.5,324.4 413.1,319.3 413.7,316.7 414.3,312.4 414.9,305.3 415.5,295.7 416.1,299.3 416.7,298.9 417.3,308 417.9,317.2 418.5,312.6 419.1,317.8 419.7,322.5 420.3,325.3 420.9,328.3 421.5,328.1 422.1,332.4 422.7,331.5 423.3,336.8 423.9,336.5 424.5,335.9 425.1,340 425.7,342.6 426.3,345.3 426.9,340.2 427.5,339.9 428.1,335 428.7,338.1 429.3,337.5 429.9,334.4 430.5,338.4 431.1,338.2 431.7,332.2 432.3,331.9 432.9,338 433.5,334.1 434.1,331.4 434.7,339.3 435.3,332.1 435.9,334.4 436.5,337.2 437.1,334.3 437.7,338.5 438.3,345 438.9,341.6 439.5,340.2 440.1,345.9 440.7,349.1 441.3,344.6 441.9,344.9 442.5,337.4 443.1,338.9 443.7,329.9 444.3,323.8 444.9,324.4 445.5,320.5 446.1,324.9 446.7,324.3 447.3,319.1 447.9,316.3 448.5,321.2 449.1,325 449.7,320.5 450.3,326.9 450.9,321.9 451.5,322.7 452.1,324.2 452.7,328.4 453.3,328.3 453.9,329.8 454.5,328.4 455.1,328.4 455.7,330.6 456.3,329.7 456.9,336.7 457.5,337 458.1,344.2 458.7,343.5 459.3,342.5 459.9,348.7 460.5,346 461.1,336.5 461.7,326.8 462.3,324.6 462.9,326.8 463.5,329 464.1,328.8 464.7,332.1 465.3,333.1 465.9,335.5 466.5,336.2 467.1,343.1 467.7,340.6 468.3,342.7 468.9,338.7 469.5,339.7 470.1,336.8 470.7,340 471.3,337.3 471.9,339.2 472.5,337.3 473.1,334.9 473.7,344 474.3,343.5 474.9,346.2 475.5,346 476.1,346.4 476.7,344.5 477.3,341.7 477.9,340.7 478.5,346.2 479.1,348.3 479.7,347.9 480.3,346.1 480.9,349.5 481.5,351.5 482.1,355 482.7,347.8 483.3,345 483.9,347.5 484.5,354 485.1,351.5 485.7,349 486.3,344 486.9,347.3 487.5,340.6 488.1,342.8 488.7,339.3 489.3,344 489.9,346.9 490.5,341.5 491.1,344.3 491.7,345.1 492.3,338 492.9,336.6 493.5,336.5 494.1,334.9 494.7,334.2 495.3,332.4 495.9,328.7 496.5,328.9 497.1,328.5 497.7,326.3 498.3,329.1 498.9,326.8 499.5,324 500.1,322.6 500.7,326.3 501.3,330.6 501.9,329.2 502.5,326.6 503.1,330.6 503.7,332.4 504.3,332.7 504.9,336.6 505.5,337.8 506.1,339.8 506.7,334.5 507.3,340.9 507.9,337.4 508.5,340.1 509.1,336.3 509.7,338.4 510.3,335.1 510.9,338.1 511.5,342.5 512.1,344.8 512.7,338.3 513.3,341.3 513.9,337.5 514.5,331.8 515.1,336.9 515.7,344.6 516.3,338.7 516.9,334.9 517.5,338.7 518.1,335.8 518.7,333.2 519.3,336.3 519.9,336.9 520.5,337.4 521.1,338.3 521.7,335.4 522.3,338.9 522.9,336.1 523.5,343.1 524.1,341.8 524.7,339.7 525.3,335.8 525.9,335.8 526.5,339.8 527.1,342.1 527.7,340.5 528.3,343.7 528.9,342.1 529.5,340.3 530.1,346.1 530.7,340.8 531.3,342.5 531.9,344 532.5,340.8 533.1,346.7 533.7,344.9 534.3,344.1 534.9,343.6 535.5,341.5 536.1,341.4 536.7,344.4 537.3,341.6 537.9,340.4 538.5,340.8 539.1,336.3 539.7,338.6 540.3,343.8 540.9,339 541.5,341.1 542.1,341.5 542.7,341.5 543.3,341.2 543.9,341.3 544.5,339.7 545.1,338.2 545.7,337.1 546.3,341.1 546.9,338.2 547.5,339 548.1,337 548.7,333.6 549.3,342.4 549.9,340 550.5,341.9 551.1,334.1 551.7,339.1 552.3,343.7 552.9,338.5 553.5,342.5 554.1,337.8 554.7,341.5 555.3,336.9 555.9,331 556.5,336.1 557.1,337.3 557.7,333.4 558.3,338.4 558.9,337.1 559.5,333.3 560.1,335.1 560.7,340.5 561.3,338 561.9,343.2 562.5,347.3 563.1,342 563.7,340.7 564.3,337.6 564.9,344.1 565.5,344.2 566.1,341.2 566.7,340.8 567.3,346.5 567.9,343.9 568.5,343.8 569.1,347.1 569.7,350.9 570.3,346.7 570.9,346.2 571.5,348.8 572.1,350.7 572.7,352.5 573.3,349.7 573.9,351.6 574.5,352 575.1,352.9 575.7,352.9 576.3,350.9 576.9,355.4 577.5,350.9 578.1,347.1 578.7,343.6 579.3,347 579.9,346.6 580.5,342.1 581.1,336.6 581.7,341.4 582.3,337.1 582.9,341.9 583.5,342 584.1,345.1 584.7,341.4 585.3,339.2 585.9,342.5 586.5,341.6 587.1,342 587.7,338.9 588.3,338 588.9,337.6 589.5,339.7 590.1,340.7 590.7,336.6 591.3,338.4 591.9,331.8 592.5,333.5 593.1,335 593.7,334.5 594.3,332 594.9,342.7 595.5,339.7 596.1,345.5 596.7,342.6 597.3,344.3 597.9,340.8 598.5,339.7 599.1,339.7 599.7,340.6 600.3,344 600.9,348.4 601.5,343.7 602.1,348 602.7,339.1 603.3,346.8 603.9,338 604.5,345.5 605.1,351.9 605.7,347.1 606.3,349.8 606.9,350.5 607.5,345.1 608.1,351.8 608.7,355.6 609.3,343.9 609.9,339.4 610.5,353.8 611.1,353.2 611.7,349.6 612.3,354.9 612.9,354.7 613.5,349.5 614.1,352.5 614.7,350.3 615.3,355 615.9,350.1 616.5,348.3 617.1,353.4 617.7,360 618.3,358.5 618.9,359.1 619.5,355.6 620.1,362.8 620.7,354.8 621.3,357.3 621.9,358 622.5,358.6 623.1,356.1 623.7,359.9 624.3,363.5 624.9,356.2 625.5,354.6 626.1,357.6 626.7,361.2 627.3,351.1 627.9,358.8 628.5,357.5 629.1,356.9 629.7,355.9 630.3,354.7 630.9,354.5 631.5,357.4 632.1,359.4 632.7,361.5 633.3,360.3 633.9,354.2 634.5,352.3 635.1,348.8 635.7,351.9 636.3,352.3 636.9,353.6 637.5,352.7 638.1,346.7 638.7,350 639.3,349.1 639.9,351.9 640.5,357.5 641.1,347.8 641.7,345.6 642.3,341.1 642.9,349.3 643.5,351.4 644.1,356.6 644.7,355.7 645.3,355.1 645.3,372.9 644.7,372.5 644.1,375.2 643.5,373.9 642.9,374.9 642.3,372.1 641.7,370.1 641.1,368.4 640.5,374.9 639.9,374 639.3,370.8 638.7,368.8 638.1,368.1 637.5,376.7 636.9,373.7 636.3,369.3 635.7,380.9 635.1,367.3 634.5,369.6 633.9,377.3 633.3,379.7 632.7,377.6 632.1,377.4 631.5,376.9 630.9,371.9 630.3,372.5 629.7,376.3 629.1,378.5 628.5,379.4 627.9,378.1 627.3,376.6 626.7,383.7 626.1,379.5 625.5,377.1 624.9,378.2 624.3,383.4 623.7,382.8 623.1,379.3 622.5,377.1 621.9,377.2 621.3,376.2 620.7,376.8 620.1,378.3 619.5,380 618.9,377 618.3,376.9 617.7,379.3 617.1,372.7 616.5,371.5 615.9,371.6 615.3,372.1 614.7,368.8 614.1,368.1 613.5,370.6 612.9,376 612.3,374.8 611.7,370.3 611.1,372.3 610.5,374.6 609.9,365.2 609.3,362.6 608.7,374.3 608.1,368.4 607.5,370.1 606.9,368.1 606.3,369.8 605.7,363 605.1,370.5 604.5,366.2 603.9,358.8 603.3,362.3 602.7,359 602.1,366 601.5,363.3 600.9,368.7 600.3,364.2 599.7,360 599.1,361.2 598.5,365 597.9,361.8 597.3,361.6 596.7,363.4 596.1,361.6 595.5,358.5 594.9,358.2 594.3,352.8 593.7,352.8 593.1,352.9 592.5,354.9 591.9,355.5 591.3,357.5 590.7,358.9 590.1,357.6 589.5,357.2 588.9,356 588.3,357.8 587.7,357.3 587.1,357.5 586.5,361.2 585.9,362.7 585.3,362 584.7,367.8 584.1,366.8 583.5,359.4 582.9,360.2 582.3,362.9 581.7,366.2 581.1,363.4 580.5,359.6 579.9,365.4 579.3,362.3 578.7,364.6 578.1,365.7 577.5,371.1 576.9,370.4 576.3,369.2 575.7,370.2 575.1,367.7 574.5,367.9 573.9,370.5 573.3,368.6 572.7,370.5 572.1,371.8 571.5,376.2 570.9,368.4 570.3,362.2 569.7,369.3 569.1,369.3 568.5,368.9 567.9,369.8 567.3,362.4 566.7,363.8 566.1,361.6 565.5,361.4 564.9,362.2 564.3,354.1 563.7,361.9 563.1,362.3 562.5,363.9 561.9,362 561.3,356.4 560.7,362.5 560.1,354.5 559.5,358.5 558.9,357.4 558.3,354.8 557.7,352 557.1,358.2 556.5,357.4 555.9,357.4 555.3,359.3 554.7,357.1 554.1,356.7 553.5,361.4 552.9,358.1 552.3,362 551.7,357.6 551.1,351.4 550.5,357 549.9,358.3 549.3,360.4 548.7,356.6 548.1,357.1 547.5,358.5 546.9,357.6 546.3,362 545.7,358 545.1,362.1 544.5,363.9 543.9,363 543.3,358.7 542.7,356.3 542.1,357.9 541.5,356.3 540.9,355.5 540.3,360.3 539.7,355.8 539.1,352.9 538.5,360.3 537.9,360.3 537.3,364.8 536.7,360.2 536.1,363.8 535.5,358.4 534.9,361.6 534.3,361.9 533.7,364.7 533.1,362.7 532.5,357.6 531.9,361.8 531.3,362.4 530.7,363.7 530.1,364.8 529.5,356.9 528.9,356.4 528.3,358.9 527.7,360.8 527.1,362.2 526.5,362.5 525.9,361.2 525.3,358.5 524.7,355.8 524.1,356.8 523.5,359.9 522.9,359.4 522.3,355.6 521.7,354.1 521.1,359.5 520.5,354.8 519.9,360.5 519.3,363.6 518.7,357.6 518.1,359 517.5,358.1 516.9,359 516.3,355.8 515.7,363.2 515.1,365.4 514.5,358.3 513.9,359.6 513.3,359.2 512.7,357.8 512.1,358.6 511.5,357.5 510.9,359.8 510.3,358.3 509.7,362.5 509.1,357.5 508.5,358 507.9,359 507.3,356.4 506.7,356.5 506.1,356.7 505.5,357.7 504.9,356.2 504.3,349.3 503.7,350.6 503.1,349.2 502.5,347.1 501.9,346.2 501.3,348.6 500.7,344.2 500.1,343.9 499.5,345 498.9,345.3 498.3,346.9 497.7,342.3 497.1,347 496.5,345.2 495.9,352.6 495.3,354.6 494.7,352 494.1,354.5 493.5,353.8 492.9,353 492.3,357.7 491.7,360.8 491.1,360.1 490.5,358.3 489.9,364.3 489.3,367.5 488.7,357.2 488.1,360.6 487.5,361.6 486.9,369.5 486.3,368.9 485.7,368.1 485.1,380.8 484.5,372.8 483.9,368.4 483.3,367.4 482.7,365.8 482.1,373.5 481.5,369.1 480.9,369.6 480.3,371 479.7,365.3 479.1,369.2 478.5,365.3 477.9,364.8 477.3,363.3 476.7,364.6 476.1,362.8 475.5,364.1 474.9,362.4 474.3,361.7 473.7,364.2 473.1,359.6 472.5,358.9 471.9,358.3 471.3,357.5 470.7,361.5 470.1,356.1 469.5,358.2 468.9,356.4 468.3,359.3 467.7,358.4 467.1,360.5 466.5,351.9 465.9,358.2 465.3,351 464.7,350.9 464.1,349.7 463.5,350 462.9,346.5 462.3,346.9 461.7,348.7 461.1,355.2 460.5,363.9 459.9,368.6 459.3,360.7 458.7,360 458.1,361.2 457.5,355.5 456.9,352.4 456.3,350.1 455.7,352.3 455.1,346.5 454.5,352.4 453.9,350.3 453.3,350.2 452.7,346.1 452.1,344.5 451.5,343.6 450.9,346.7 450.3,344.9 449.7,345.8 449.1,348.8 448.5,342.7 447.9,341.1 447.3,344.5 446.7,346.2 446.1,345 445.5,340.5 444.9,345.7 444.3,346.5 443.7,354.4 443.1,358.6 442.5,359.3 441.9,367.9 441.3,365.6 440.7,370.3 440.1,370.8 439.5,363.9 438.9,361 438.3,364.2 437.7,362.2 437.1,358.2 436.5,362.7 435.9,367.9 435.3,360.9 434.7,358.5 434.1,351.9 433.5,355.4 432.9,357.1 432.3,352.6 431.7,355.7 431.1,360.3 430.5,360 429.9,360.9 429.3,361.9 428.7,358.3 428.1,363.7 427.5,364.5 426.9,365 426.3,364.8 425.7,363.9 425.1,361.1 424.5,361.6 423.9,360.9 423.3,361.8 422.7,357.7 422.1,357.1 421.5,350.3 420.9,352.9 420.3,351 419.7,346.5 419.1,337.6 418.5,331.6 417.9,335.9 417.3,327.5 416.7,322.7 416.1,322.3 415.5,320.8 414.9,326.4 414.3,336.1 413.7,338.4 413.1,341 412.5,344.6 411.9,336.3 411.3,337.1 410.7,341.8 410.1,332.8 409.5,338.1 408.9,349.4 408.3,348.1 407.7,355.2 407.1,361.8 406.5,359.7 405.9,361.7 405.3,360.4 404.7,356.1 404.1,358.8 403.5,363.1 402.9,365.2 402.3,355.2 401.7,347.4 401.1,346.5 400.5,345 399.9,335.9 399.3,342.5 398.7,352.5 398.1,349.3 397.5,351.1 396.9,353.2 396.3,356.9 395.7,361.1 395.1,365.1 394.5,354.2 393.9,359.8 393.3,357.1 392.7,346.4 392.1,355 391.5,352.6 390.9,354.4 390.3,358.8 389.7,358 389.1,356.5 388.5,358.7 387.9,366.3 387.3,360.5 386.7,358.9 386.1,352 385.5,350.3 384.9,351.5 384.3,356.2 383.7,358.1 383.1,363.7 382.5,354.5 381.9,354.2 381.3,349.7 380.7,339.8" fill="#bdbdbd" opacity="0.41250000000000003"/><polyline points="380.7,336.8 381.3,337.2 381.9,343.4 382.5,352.8 383.1,357.1 383.7,354.1 384.3,354 384.9,351.7 385.5,349.7 386.1,347.7 386.7,352.3 387.3,348.9 387.9,346.3 388.5,346.8 389.1,346.9 389.7,342.5 390.3,346 390.9,350.8 391.5,351 392.1,353.6 392.7,354.3 393.3,355.1 393.9,351.8 394.5,346 395.1,344.7 395.7,339.3 396.3,340.2 396.9,335 397.5,338.3 398.1,342.8 398.7,341.7 399.3,346.4 399.9,352 400.5,352.6 401.1,352.8 401.7,356.9 402.3,349.8 402.9,351.3 403.5,355.1 404.1,356 404.7,354.1 405.3,351.4 405.9,349.8 406.5,348.5 407.1,348.4 407.7,344.6 408.3,342.6 408.9,346.1 409.5,346.9 410.1,349 410.7,348.8 411.3,353.9 411.9,349.7 412.5,344.9 413.1,339.4 413.7,337 414.3,333.1 414.9,328.5 415.5,300.5 416.1,289.3 416.7,304.2 417.3,312.4 417.9,314.3 418.5,324 419.1,327.7 419.7,326.1 420.3,328.6 420.9,336.8 421.5,337.3 422.1,335.8 422.7,343 423.3,342.8 423.9,344.9 424.5,347.2 425.1,347.6 425.7,345 426.3,347.5 426.9,342.8 427.5,339 428.1,337.9 428.7,341.3 429.3,336.4 429.9,333.9 430.5,335.6 431.1,332.1 431.7,328.9 432.3,332.7 432.9,329.5 433.5,327.8 434.1,322 434.7,325.2 435.3,328.1 435.9,324.2 436.5,322.8 437.1,327.1 437.7,321.3 438.3,318.2 438.9,316.8 439.5,317 440.1,319 440.7,316.4 441.3,314.8 441.9,310.5 442.5,312.6 443.1,315.9 443.7,319.8 444.3,318.7 444.9,315.3 445.5,318.1 446.1,315.4 446.7,315.4 447.3,316.6 447.9,314.4 448.5,313 449.1,313.6 449.7,313.9 450.3,317.5 450.9,310.4 451.5,309.9 452.1,317.3 452.7,317.2 453.3,316.5 453.9,312.7 454.5,311 455.1,316.8 455.7,312 456.3,317 456.9,313.4 457.5,311.7 458.1,314.3 458.7,312.8 459.3,315.5 459.9,315.9 460.5,311.6 461.1,315.8 461.7,310 462.3,309.2 462.9,313.4 463.5,314.5 464.1,312.9 464.7,312.2 465.3,313.1 465.9,311.1 466.5,312.5 467.1,311.5 467.7,308.7 468.3,309 468.9,312 469.5,313.6 470.1,310 470.7,310.3 471.3,311.5 471.9,310.1 472.5,306 473.1,309.7 473.7,312.4 474.3,308.8 474.9,304.9 475.5,305.8 476.1,299.6 476.7,303.4 477.3,307 477.9,305.2 478.5,304.1 479.1,303.8 479.7,304.2 480.3,303 480.9,307.2 481.5,306.5 482.1,310.4 482.7,308.5 483.3,307.2 483.9,306.9 484.5,308.2 485.1,305.9 485.7,302.2 486.3,307 486.9,308 487.5,309.5 488.1,308.2 488.7,308.3 489.3,310 489.9,312 490.5,313.1 491.1,314 491.7,318.2 492.3,316.4 492.9,316.5 493.5,313.3 494.1,312.1 494.7,316.2 495.3,316.1 495.9,313.4 496.5,315.4 497.1,313.9 497.7,318.7 498.3,320.4 498.9,315.2 499.5,312.4 500.1,312.5 500.7,309.7 501.3,313.4 501.9,313.8 502.5,312.2 503.1,317.3 503.7,307.1 504.3,312.6 504.9,315.1 505.5,314.9 506.1,311.4 506.7,311.6 507.3,311.5 507.9,308.2 508.5,306.4 509.1,309.1 509.7,308.2 510.3,304.9 510.9,304.9 511.5,309.8 512.1,311.7 512.7,310.1 513.3,307.5 513.9,307.9 514.5,307.2 515.1,308.8 515.7,309.5 516.3,306.4 516.9,305.2 517.5,310 518.1,307.1 518.7,301.3 519.3,304.1 519.9,308.3 520.5,303.3 521.1,306.4 521.7,310.1 522.3,307.9 522.9,308 523.5,309.9 524.1,307.7 524.7,309.1 525.3,310.9 525.9,313.8 526.5,307.3 527.1,308.4 527.7,308.3 528.3,310.5 528.9,309.8 529.5,311.7 530.1,315.7 530.7,313.5 531.3,313.5 531.9,313.2 532.5,308.9 533.1,311.8 533.7,313.3 534.3,313.3 534.9,309.9 535.5,313 536.1,313.1 536.7,312.6 537.3,313.9 537.9,315 538.5,318.6 539.1,320.6 539.7,319.2 540.3,318.6 540.9,315.6 541.5,316.9 542.1,314.7 542.7,318.5 543.3,317.3 543.9,319.2 544.5,320.5 545.1,316.7 545.7,316.5 546.3,314.7 546.9,312.4 547.5,315.1 548.1,318.7 548.7,319.9 549.3,317 549.9,312.6 550.5,308.6 551.1,310.9 551.7,314.3 552.3,318.9 552.9,320.1 553.5,325.1 554.1,320.9 554.7,324.5 555.3,317.9 555.9,316.2 556.5,319.2 557.1,321.6 557.7,322.6 558.3,319.8 558.9,321.5 559.5,327.3 560.1,325.4 560.7,326.5 561.3,327 561.9,324.6 562.5,318.4 563.1,325 563.7,329 564.3,324.2 564.9,322.2 565.5,328.2 566.1,325.3 566.7,323.7 567.3,320.5 567.9,325.9 568.5,329.7 569.1,328.3 569.7,326.5 570.3,328.7 570.9,329.9 571.5,331.5 572.1,331.6 572.7,331.3 573.3,329.3 573.9,329.9 574.5,336.8 575.1,333.6 575.7,327.6 576.3,329.9 576.9,328 577.5,330.9 578.1,331.9 578.7,332.4 579.3,325.2 579.9,326.7 580.5,329.6 581.1,331.1 581.7,332.4 582.3,331.9 582.9,325.8 583.5,328.5 584.1,331.3 584.7,329.4 585.3,328.9 585.9,324.9 586.5,324.8 587.1,322.5 587.7,325 588.3,324.5 588.9,323.7 589.5,323.3 590.1,327.8 590.7,325.1 591.3,322.9 591.9,327.3 592.5,326.4 593.1,323.5 593.7,325.1 594.3,327.2 594.9,327.5 595.5,329 596.1,331.2 596.7,336.7 597.3,335.1 597.9,336.4 598.5,340.7 599.1,338 599.7,338.3 600.3,337.4 600.9,335.7 601.5,340.4 602.1,340.7 602.7,337.5 603.3,334.8 603.9,340.8 604.5,337 605.1,336.9 605.7,337.1 606.3,339.8 606.9,340.5 607.5,339.4 608.1,338.7 608.7,335.2 609.3,341.9 609.9,339.1 610.5,341.4 611.1,338.5 611.7,337.8 612.3,343.4 612.9,341.6 613.5,340.2 614.1,337.3 614.7,339.1 615.3,337.6 615.9,343.3 616.5,341.5 617.1,339.3 617.7,338.8 618.3,339.9 618.9,338.5 619.5,341.7 620.1,343.9 620.7,344.2 621.3,340.1 621.9,338.1 622.5,340.2 623.1,339.4 623.7,340.7 624.3,341 624.9,343.2 625.5,341.7 626.1,338.9 626.7,343.1 627.3,339.5 627.9,340.7 628.5,342.1 629.1,341.5 629.7,343.5 630.3,347.1 630.9,347 631.5,343.3 632.1,346.1 632.7,343 633.3,347.4 633.9,342.1 634.5,341.5 635.1,348.1 635.7,348.9 636.3,349.1 636.9,347 637.5,343.1 638.1,347.9 638.7,351.1 639.3,348.9 639.9,344.8 640.5,345.8 641.1,349.8 641.7,346.3 642.3,343.3 642.9,344.7 643.5,345.9 644.1,352.4 644.7,352.2 645.3,350.3" fill="none" stroke="#0e820e" stroke-width="1.2" stroke-linejoin="round"/><polyline points="380.7,329.8 381.3,339.7 381.9,343.2 382.5,342.1 383.1,351.6 383.7,347.8 384.3,347.4 384.9,340.9 385.5,341.7 386.1,340.7 386.7,349.3 387.3,352.3 387.9,356.3 388.5,349.7 389.1,347.9 389.7,346.7 390.3,343.1 390.9,343.9 391.5,343.5 392.1,343.2 392.7,337 393.3,341.8 393.9,345 394.5,343.8 395.1,352.1 395.7,352 396.3,347.1 396.9,344.6 397.5,342.4 398.1,338.5 398.7,335.7 399.3,332.4 399.9,325 400.5,334.9 401.1,336.5 401.7,337.1 402.3,344.9 402.9,352.7 403.5,351.3 404.1,347.6 404.7,347.9 405.3,348.3 405.9,349.8 406.5,349.6 407.1,350.2 407.7,345.1 408.3,338 408.9,340.7 409.5,328 410.1,324 410.7,327.4 411.3,326 411.9,326.5 412.5,334.1 413.1,331.7 413.7,328.5 414.3,324.8 414.9,315.9 415.5,309.8 416.1,310.6 416.7,311 417.3,317.6 417.9,326.9 418.5,323 419.1,327.6 419.7,333.9 420.3,337 420.9,340.2 421.5,339.3 422.1,343.5 422.7,343.2 423.3,349.7 423.9,349.3 424.5,349 425.1,350.2 425.7,352.1 426.3,355.6 426.9,352.6 427.5,352.7 428.1,350.8 428.7,348.5 429.3,349.1 429.9,348 430.5,348.6 431.1,349 431.7,343.6 432.3,342.2 432.9,347.2 433.5,344.7 434.1,341.5 434.7,348 435.3,346.2 435.9,352.1 436.5,350.1 437.1,346.1 437.7,349.3 438.3,353.4 438.9,351.3 439.5,352.8 440.1,360.4 440.7,359.4 441.3,355.5 441.9,356.7 442.5,349.5 443.1,348.9 443.7,342 444.3,335.9 444.9,335.3 445.5,331.8 446.1,335 446.7,334.3 447.3,331.8 447.9,328.8 448.5,332.1 449.1,334.6 449.7,332.7 450.3,335 450.9,334.9 451.5,334.2 452.1,334.9 452.7,337.4 453.3,340.3 453.9,340.2 454.5,341.1 455.1,338.8 455.7,342.3 456.3,340.7 456.9,344.6 457.5,347 458.1,351.9 458.7,351.1 459.3,351.2 459.9,359.2 460.5,355.3 461.1,344.2 461.7,337 462.3,333.9 462.9,336.5 463.5,340.7 464.1,339.1 464.7,341.8 465.3,341.4 465.9,344.9 466.5,344.3 467.1,350.6 467.7,349.2 468.3,350.6 468.9,348.6 469.5,348.3 470.1,346 470.7,352.1 471.3,347.6 471.9,349.8 472.5,348.2 473.1,347.9 473.7,354.3 474.3,353.4 474.9,353.7 475.5,356 476.1,354.1 476.7,355.7 477.3,351.7 477.9,352.4 478.5,353.6 479.1,358 479.7,356.8 480.3,358.4 480.9,359.9 481.5,360.3 482.1,365.2 482.7,357.6 483.3,355.3 483.9,357.6 484.5,364.9 485.1,366 485.7,360.3 486.3,355.9 486.9,356.8 487.5,351.7 488.1,352.8 488.7,348.7 489.3,357.1 489.9,356.8 490.5,350.4 491.1,351.7 491.7,352.8 492.3,347.2 492.9,343.2 493.5,345.1 494.1,344.9 494.7,342.4 495.3,345.6 495.9,340 496.5,336.2 497.1,337.4 497.7,334.4 498.3,337 498.9,336.8 499.5,334.8 500.1,333.3 500.7,334.1 501.3,339.8 501.9,336.7 502.5,338.5 503.1,339.6 503.7,343.7 504.3,341.5 504.9,345.5 505.5,348 506.1,349.2 506.7,345.5 507.3,348 507.9,346.1 508.5,347.9 509.1,347.2 509.7,350 510.3,347.4 510.9,349.7 511.5,349.9 512.1,352.6 512.7,348.6 513.3,350.4 513.9,347.5 514.5,343.6 515.1,350.3 515.7,353.9 516.3,347.2 516.9,346.4 517.5,348.6 518.1,346.6 518.7,346.9 519.3,347.3 519.9,348.7 520.5,345.7 521.1,349.5 521.7,345.4 522.3,348.2 522.9,347.3 523.5,351.3 524.1,349.7 524.7,347.9 525.3,345.1 525.9,349 526.5,351.5 527.1,351.2 527.7,351.8 528.3,351 528.9,349.7 529.5,349.6 530.1,354.2 530.7,352.2 531.3,353.9 531.9,352.8 532.5,349.5 533.1,355.4 533.7,353.8 534.3,352.4 534.9,352.7 535.5,350.3 536.1,353.4 536.7,352.7 537.3,353.4 537.9,351.6 538.5,351.3 539.1,344.2 539.7,348.6 540.3,351.8 540.9,346.3 541.5,348.3 542.1,349.3 542.7,348.6 543.3,349.6 543.9,352.3 544.5,351.9 545.1,350.8 545.7,346.9 546.3,351.4 546.9,347.8 547.5,348.9 548.1,345.9 548.7,345.7 549.3,351.5 549.9,348.2 550.5,348.7 551.1,342.4 551.7,347.4 552.3,352.3 552.9,347.2 553.5,352.3 554.1,346.7 554.7,349.4 555.3,347.5 555.9,344.5 556.5,346.1 557.1,348.3 557.7,342.7 558.3,346.5 558.9,347.2 559.5,344.1 560.1,343.4 560.7,350.6 561.3,347.8 561.9,351.8 562.5,355.2 563.1,353.1 563.7,350.7 564.3,345.7 564.9,353.2 565.5,352.1 566.1,352.2 566.7,352 567.3,354.4 567.9,356.6 568.5,356.8 569.1,359.1 569.7,360.9 570.3,353.1 570.9,356.9 571.5,362.8 572.1,361.1 572.7,359.9 573.3,358.5 573.9,361.3 574.5,360.7 575.1,360 575.7,361.4 576.3,358.5 576.9,362.9 577.5,360.8 578.1,356.4 578.7,354.4 579.3,353.1 579.9,355.6 580.5,351 581.1,351.2 581.7,353.6 582.3,350.7 582.9,349.9 583.5,350.1 584.1,355 584.7,353.7 585.3,350.5 585.9,352.3 586.5,350.7 587.1,350.5 587.7,349.3 588.3,347.2 588.9,347.3 589.5,349.7 590.1,348.4 590.7,346 591.3,347.3 591.9,344 592.5,344.4 593.1,343.7 593.7,342.9 594.3,340.8 594.9,350.5 595.5,349.1 596.1,354.3 596.7,351.9 597.3,353.2 597.9,350.3 598.5,354.4 599.1,351.2 599.7,349.4 600.3,355.1 600.9,357.8 601.5,354.9 602.1,356.4 602.7,349.8 603.3,354.6 603.9,348.2 604.5,356 605.1,361.4 605.7,354.8 606.3,359.1 606.9,360.3 607.5,359.7 608.1,360 608.7,364.6 609.3,353.7 609.9,352.1 610.5,363.5 611.1,361.2 611.7,360.7 612.3,364.2 612.9,365.8 613.5,360.4 614.1,360 614.7,360 615.3,362.9 615.9,361.3 616.5,359.7 617.1,362.9 617.7,368.7 618.3,367.3 618.9,366.8 619.5,369 620.1,370.3 620.7,365.7 621.3,367.6 621.9,367.4 622.5,368.9 623.1,367.4 623.7,371 624.3,372.7 624.9,366.9 625.5,366.9 626.1,368.7 626.7,373.5 627.3,364.4 627.9,367.5 628.5,368.8 629.1,368.4 629.7,366.2 630.3,363.9 630.9,362.7 631.5,367 632.1,368.6 632.7,369.1 633.3,368.7 633.9,365.8 634.5,362.3 635.1,358 635.7,365.8 636.3,360.2 636.9,362.6 637.5,363.4 638.1,358.2 638.7,359 639.3,358.6 639.9,361.7 640.5,366.8 641.1,357.8 641.7,359.6 642.3,356.6 642.9,360.4 643.5,363.2 644.1,367.2 644.7,363.9 645.3,364.1" fill="none" stroke="#161616" stroke-width="1.2" stroke-linejoin="round"/><path d="M380.4,262 V392.1 H645.5" fill="none" stroke="#222" stroke-width="1.5"/><line x1="378.6" y1="371.6" x2="380.4" y2="371.6" stroke="#222" stroke-width="1"/><text x="376.9" y="375.5" font-size="11" text-anchor="end" fill="#222">0</text><line x1="378.6" y1="335" x2="380.4" y2="335" stroke="#222" stroke-width="1"/><text x="376.9" y="338.9" font-size="11" text-anchor="end" fill="#222">5</text><line x1="378.6" y1="298.4" x2="380.4" y2="298.4" stroke="#222" stroke-width="1"/><text x="376.9" y="302.3" font-size="11" text-anchor="end" fill="#222">10</text><line x1="378.6" y1="261.8" x2="380.4" y2="261.8" stroke="#222" stroke-width="1"/><text x="376.9" y="265.7" font-size="11" text-anchor="end" fill="#222">15</text><line x1="415.9" y1="392.1" x2="415.9" y2="394.3" stroke="#222" stroke-width="1"/><text x="415.9" y="405.3" font-size="11" text-anchor="middle" fill="#222">0</text><line x1="492.4" y1="392.1" x2="492.4" y2="394.3" stroke="#222" stroke-width="1"/><text x="492.4" y="405.3" font-size="11" text-anchor="middle" fill="#222">1</text><line x1="568.9" y1="392.1" x2="568.9" y2="394.3" stroke="#222" stroke-width="1"/><text x="568.9" y="405.3" font-size="11" text-anchor="middle" fill="#222">2</text><line x1="645.4" y1="392.1" x2="645.4" y2="394.3" stroke="#222" stroke-width="1"/><text x="645.4" y="405.3" font-size="11" text-anchor="middle" fill="#222">3</text><text transform="translate(360.8,314.6) rotate(-90)" font-size="11" text-anchor="middle" fill="#222">ΔF/F (%)</text><text x="530.9" y="417" font-size="10.6" text-anchor="middle" fill="#222">Time after injection (h)</text><text x="384.4" y="261.3" font-size="10.5" fill="#222">Drug injection</text><line x1="415.9" y1="263.8" x2="415.9" y2="274.5" stroke="#111" stroke-width="0.9"/><path d="M413.59999999999997,273.2 L418.2,273.2 L415.9,278 Z" fill="#111"/><rect x="447" y="279.1" width="9.1" height="1.9" fill="#111"/><rect x="460" y="279.1" width="17" height="1.9" fill="#111"/><rect x="483" y="279.1" width="1.6" height="1.9" fill="#111"/><rect x="492.6" y="279.1" width="18.4" height="1.9" fill="#111"/><rect x="513.6" y="279.1" width="2.7" height="1.9" fill="#111"/><rect x="520.2" y="279.1" width="30.2" height="1.9" fill="#111"/><rect x="554.4" y="279.1" width="3.9" height="1.9" fill="#111"/><rect x="560.6" y="279.1" width="1.2" height="1.9" fill="#111"/><rect x="567.5" y="279.1" width="4" height="1.9" fill="#111"/><rect x="591.2" y="279.1" width="7.8" height="1.9" fill="#111"/><rect x="607" y="279.1" width="2.5" height="1.9" fill="#111"/><rect x="611.5" y="279.1" width="2" height="1.9" fill="#111"/><text x="569.6" y="293.6" font-size="10.5" fill="#222"><tspan font-style="italic">Q</tspan> &lt; 0.01</text><text x="576.5" y="262.1" font-size="11.2" font-weight="bold" fill="#111">GRAB</text><text x="610.4" y="264.7" font-size="6.3" font-weight="bold" fill="#111">ado1.0</text><rect x="441.7" y="377" width="10.5" height="6.6" fill="#bdbdbd"/><line x1="441.7" y1="380.3" x2="452.2" y2="380.3" stroke="#000" stroke-width="1.8"/><text x="456" y="384.1" font-size="10.6" fill="#222">Vehicle</text><rect x="497.6" y="377" width="11.3" height="6.6" fill="#a6d9a0"/><line x1="497.6" y1="380.3" x2="508.9" y2="380.3" stroke="#1b8f1b" stroke-width="1.8"/><text x="512.3" y="384.1" font-size="10.5" fill="#222">CNO, 0.3 mg·kg<tspan font-size="6.5" dy="-4">-1</tspan></text><text x="353" y="435.4" font-size="16.5" font-weight="bold" fill="#000">e</text><path d="M400.7,441.8 V541.1 H499.5" fill="none" stroke="#222" stroke-width="1.1"/><line x1="398.7" y1="541.1" x2="400.7" y2="541.1" stroke="#222" stroke-width="1"/><text x="395.7" y="545" font-size="11" text-anchor="end" fill="#222">0</text><line x1="398.7" y1="516.3" x2="400.7" y2="516.3" stroke="#222" stroke-width="1"/><text x="395.7" y="520.2" font-size="11" text-anchor="end" fill="#222">2</text><line x1="398.7" y1="491.5" x2="400.7" y2="491.5" stroke="#222" stroke-width="1"/><text x="395.7" y="495.4" font-size="11" text-anchor="end" fill="#222">4</text><line x1="398.7" y1="466.6" x2="400.7" y2="466.6" stroke="#222" stroke-width="1"/><text x="395.7" y="470.5" font-size="11" text-anchor="end" fill="#222">6</text><line x1="398.7" y1="441.8" x2="400.7" y2="441.8" stroke="#222" stroke-width="1"/><text x="395.7" y="445.7" font-size="11" text-anchor="end" fill="#222">8</text><rect x="415.6" y="510.7" width="29.1" height="30.4" fill="#fff" stroke="#222" stroke-width="1"/><rect x="456.1" y="461.7" width="29" height="79.4" fill="#077607" stroke="#222" stroke-width="1"/><line x1="430.1" y1="491.5" x2="430.1" y2="529.9" stroke="#333" stroke-width="0.9"/><line x1="427.1" y1="491.5" x2="433.1" y2="491.5" stroke="#333" stroke-width="0.9"/><line x1="427.1" y1="529.9" x2="433.1" y2="529.9" stroke="#333" stroke-width="0.9"/><line x1="470.6" y1="458" x2="470.6" y2="473.5" stroke="#333" stroke-width="0.9"/><line x1="467.6" y1="458" x2="473.6" y2="458" stroke="#333" stroke-width="0.9"/><line x1="467.6" y1="473.5" x2="473.6" y2="473.5" stroke="#333" stroke-width="0.9"/><path d="M430.1,483 V438.6 H470.6 V444.8" fill="none" stroke="#444" stroke-width="0.9"/><text x="449.8" y="434.4" font-size="10.2" text-anchor="middle" fill="#222">P = 0.004</text><circle cx="430.1" cy="485.3" r="2.6" fill="#fff" stroke="#333" stroke-width="0.9"/><circle cx="430.1" cy="501.4" r="2.6" fill="#fff" stroke="#333" stroke-width="0.9"/><circle cx="430.1" cy="508.4" r="2.6" fill="#fff" stroke="#333" stroke-width="0.9"/><circle cx="430.1" cy="519.8" r="2.6" fill="#fff" stroke="#333" stroke-width="0.9"/><circle cx="430.1" cy="536.7" r="2.6" fill="#fff" stroke="#333" stroke-width="0.9"/><circle cx="470.6" cy="448" r="2.6" fill="#fff" stroke="#333" stroke-width="0.9"/><circle cx="470.6" cy="453.5" r="2.6" fill="#fff" stroke="#333" stroke-width="0.9"/><circle cx="465.3" cy="464.7" r="2.6" fill="#fff" stroke="#333" stroke-width="0.9"/><circle cx="475.2" cy="464.7" r="2.6" fill="#fff" stroke="#333" stroke-width="0.9"/><circle cx="470.6" cy="476.3" r="2.6" fill="#fff" stroke="#333" stroke-width="0.9"/><text transform="translate(374.4,492) rotate(-90)" font-size="10.9" text-anchor="middle" fill="#222">Mean ΔF/F for 3 h (%)</text><text x="429.1" y="551.5" font-size="10.5" text-anchor="middle" fill="#222">Vehicle</text><text x="469.6" y="551.5" font-size="10.5" text-anchor="middle" fill="#222">CNO</text><text x="0.5" y="580" font-size="16.5" font-weight="bold" fill="#000">g</text><polygon points="46.8,678.3 47.4,678.9 48,680.4 48.6,679.2 49.2,681.4 49.8,682.2 50.4,680.2 51,681.4 51.6,680.5 52.2,680.2 52.8,679.9 53.4,676 54,676.8 54.6,677 55.2,676.1 55.8,676.1 56.4,674.1 57,672.2 57.6,671.5 58.2,670.4 58.8,671.1 59.4,671.8 60,669.6 60.6,667.8 61.2,668 61.8,669.6 62.4,670.7 63,668.8 63.6,668.9 64.2,669.3 64.8,669.4 65.4,669.8 66,666.6 66.6,664.8 67.2,666.7 67.8,666.4 68.4,664.9 69,663.9 69.6,664.2 70.2,664.8 70.8,666.1 71.4,666.3 72,664.9 72.6,665.2 73.2,666.9 73.8,665.2 74.4,664.5 75,665.2 75.6,665.3 76.2,665.7 76.8,665.4 77.4,668 78,667.8 78.6,668 79.2,668.1 79.8,670 80.4,671.3 81,669.1 81.6,671.6 82.2,670.9 82.8,671 83.4,670.6 84,672.2 84.6,671.3 85.2,666.7 85.8,661.7 86.4,660.3 87,655.7 87.6,653.8 88.2,654.5 88.8,654.8 89.4,657.5 90,658.7 90.6,655.8 91.2,657.3 91.8,658.1 92.4,653.9 93,653 93.6,655.4 94.2,652.4 94.8,652.3 95.4,650.1 96,650.3 96.6,649.5 97.2,648.2 97.8,644.5 98.4,643.6 99,643.1 99.6,640.8 100.2,638.1 100.8,637.5 101.4,638.3 102,639.3 102.6,639.6 103.2,637.6 103.8,636.2 104.4,637.2 105,636.8 105.6,634.9 106.2,634 106.8,634 107.4,632 108,632.3 108.6,630.5 109.2,628.8 109.8,627 110.4,629.1 111,627.7 111.6,628 112.2,628.7 112.8,630 113.4,629.8 114,627.1 114.6,627.5 115.2,628.8 115.8,628.3 116.4,630.3 117,629.8 117.6,632.4 118.2,633.8 118.8,632.5 119.4,633.8 120,630.4 120.6,632.7 121.2,633.4 121.8,631.8 122.4,629 123,632.5 123.6,633.4 124.2,634.4 124.8,633.2 125.4,634 126,634.1 126.6,634.4 127.2,637.2 127.8,635.8 128.4,634.4 129,634.3 129.6,633.6 130.2,632.3 130.8,632 131.4,633.3 132,633.8 132.6,633.6 133.2,633.1 133.8,633.9 134.4,634.8 135,637.4 135.6,634.5 136.2,632.3 136.8,631.4 137.4,631.8 138,632.2 138.6,632.4 139.2,631.9 139.8,632.7 140.4,632.8 141,634.4 141.6,633.9 142.2,631.3 142.8,630.7 143.4,630.9 144,633.3 144.6,630.3 145.2,630.2 145.8,628.5 146.4,627.9 147,627.7 147.6,627.6 148.2,629.3 148.8,629.9 149.4,629.5 150,628.9 150.6,628.6 151.2,629.9 151.8,630.5 152.4,629.5 153,628.7 153.6,633 154.2,633.3 154.8,633 155.4,631.1 156,633.3 156.6,636.6 157.2,631.2 157.8,631 158.4,633.2 159,634.2 159.6,634 160.2,636.2 160.8,632.8 161.4,633.4 162,631.1 162.6,632.2 163.2,632.7 163.8,632.5 164.4,630.9 165,631.3 165.6,632.3 166.2,630.8 166.8,632.9 167.4,631.6 168,634.6 168.6,631.9 169.2,630.6 169.8,632 170.4,632.1 171,633.4 171.6,633 172.2,631.1 172.8,631.8 173.4,634.4 174,632 174.6,632.2 175.2,632.4 175.8,631.7 176.4,632.4 177,635.3 177.6,634 178.2,633 178.8,634.3 179.4,631.7 180,634.6 180.6,633.6 181.2,634.4 181.8,634.6 182.4,638.8 183,635.8 183.6,633.6 184.2,633.2 184.8,633.3 185.4,632.7 186,632.5 186.6,634.3 187.2,634.1 187.8,633.3 188.4,635.6 189,635.6 189.6,635.3 190.2,636.1 190.8,632.9 191.4,634.3 192,636.3 192.6,634.3 193.2,633.2 193.8,633.3 194.4,632.5 195,632.6 195.6,635.1 196.2,634.5 196.8,634.7 197.4,636.5 198,633.6 198.6,634.5 199.2,634 199.8,633.5 200.4,635 201,635 201.6,636.1 202.2,634.7 202.8,631.4 203.4,631.4 204,629.2 204.6,632.3 205.2,634.8 205.8,634.6 206.4,634.4 207,634 207.6,634.9 208.2,635.7 208.8,634.3 209.4,634.4 210,630.9 210.6,633.9 211.2,634.2 211.8,632.1 212.4,633.5 213,634 213.6,631.4 214.2,629.8 214.8,630.6 215.4,630.9 216,631.8 216.6,632.3 217.2,634.4 217.8,633.3 218.4,632.4 219,632.1 219.6,629.6 220.2,629.5 220.8,630.3 221.4,632.6 222,633.5 222.6,631.8 223.2,632.6 223.8,631.3 224.4,632.3 225,633.5 225.6,633.2 226.2,632.6 226.8,633.4 227.4,634.7 228,633.2 228.6,631.1 229.2,632 229.8,632.7 230.4,632.8 231,632.9 231.6,632.4 232.2,629.4 232.8,630.1 233.4,633.4 234,632.7 234.6,632.7 235.2,633.4 235.8,633.2 236.4,632.5 237,633.8 237.6,634.2 238.2,632.6 238.8,632.9 239.4,631.1 240,632.8 240.6,635 241.2,632.2 241.8,633.1 242.4,631.9 243,632.6 243.6,633.7 244.2,635.2 244.8,634.6 245.4,636.1 246,633.4 246.6,633.1 247.2,632.3 247.8,633.3 248.4,635.5 249,634.2 249.6,633.6 250.2,632.2 250.8,633.5 251.4,631.9 252,633.9 252.6,635.1 253.2,635.2 253.8,634 254.4,634.2 255,633.3 255.6,632.2 256.2,633.8 256.8,633.7 257.4,632.6 258,634.1 258.6,635.2 259.2,633 259.8,631.7 260.4,634 261,633 261.6,633 262.2,635 262.8,632.4 263.4,633.6 264,634 264.6,632.9 265.2,632.1 265.8,631.9 266.4,631.7 267,633.1 267.6,633.6 268.2,634.1 268.8,632 269.4,630.8 270,629.3 270.6,630.4 271.2,629.6 271.8,631.5 272.4,630.9 273,631.6 273.6,632.3 274.2,634.4 274.8,634.4 275.4,633.5 276,632.1 276.6,632.1 277.2,632.5 277.8,631.2 278.4,630 279,633 279.6,631.4 280.2,629.8 280.8,631.2 281.4,629.8 282,629.7 282.6,630.7 283.2,631.5 283.8,632.9 284.4,634.9 285,632.5 285.6,631.6 286.2,632.8 286.8,630.3 287.4,630.2 288,629.8 288.6,628.8 289.2,630.7 289.8,628.5 290.4,629.8 291,632 291.6,629 292.2,632 292.8,632.8 293.4,631.1 294,630.5 294.6,629.2 295.2,629.4 295.8,631.1 296.4,631.6 297,627 297.6,627.5 298.2,630 298.8,629.4 299.4,628.3 300,625.3 300.6,627 301.2,631 301.8,629.2 302.4,628.1 303,626.8 303.6,628.6 304.2,630.3 304.8,629.7 305.4,627.2 306,628 306.6,628.1 307.2,628 307.8,630.2 308.4,628 309,627.3 309.6,627.4 310.2,626 310.8,624.2 311.4,626.5 312,628.5 312.6,628.2 313.2,625.1 313.8,628 314.4,630.7 315,627.6 315.6,626.6 316.2,626 316.8,626.7 317.4,626.3 318,624.5 318.6,624.4 319.2,625.9 319.8,628.8 320.4,626.7 321,624.6 321.6,624.9 322.2,626.6 322.8,625.7 323.4,624.5 324,623.6 324.6,626 325.2,625.3 325.8,624.1 326.4,623.1 327,623.1 327.6,624.9 328.2,625.6 328.8,624.8 329.4,625.9 330,626.4 330.6,624.2 331.2,624.1 331.8,622.3 332.4,620.5 333,622.3 333.6,621.9 334.2,622.3 334.8,624.8 335.4,625.1 336,623.8 336.6,622.6 337.2,623 337.8,623.4 338.4,621.3 339,623.2 339.6,625.6 340.2,624.4 340.2,645.5 339.6,647.8 339,645.1 338.4,642.6 337.8,644.3 337.2,644.5 336.6,644 336,645.5 335.4,646.8 334.8,646.2 334.2,643.6 333.6,644.2 333,644.6 332.4,642.1 331.8,643.9 331.2,646.6 330.6,645.8 330,647.6 329.4,647.3 328.8,645.9 328.2,647.1 327.6,646.6 327,645.7 326.4,645.8 325.8,645.5 325.2,646.5 324.6,647 324,645 323.4,645.8 322.8,647.4 322.2,648.3 321.6,646.3 321,645.5 320.4,649.2 319.8,650.8 319.2,647.7 318.6,646.7 318,647.4 317.4,649.6 316.8,649.4 316.2,647.1 315.6,648.4 315,649.6 314.4,651.8 313.8,648.7 313.2,646 312.6,649.7 312,649.4 311.4,647.5 310.8,645.9 310.2,648.2 309.6,650.1 309,648.8 308.4,649.3 307.8,652 307.2,651.6 306.6,649.3 306,648.8 305.4,649.2 304.8,650.3 304.2,651.2 303.6,649.7 303,647.6 302.4,648.9 301.8,651.7 301.2,654 300.6,649 300,646.1 299.4,649.3 298.8,650.4 298.2,650.8 297.6,648.4 297,647.9 296.4,652.2 295.8,652.2 295.2,650.6 294.6,650.5 294,651.5 293.4,651.8 292.8,654.1 292.2,653.3 291.6,650 291,653.7 290.4,650.9 289.8,649.8 289.2,651.5 288.6,650.9 288,653.3 287.4,653.7 286.8,653.5 286.2,654.3 285.6,653.3 285,653.3 284.4,655.4 283.8,654.2 283.2,652.4 282.6,651.6 282,650.6 281.4,650.7 280.8,653.2 280.2,651.9 279.6,655 279,655.4 278.4,652 277.8,652.5 277.2,653.2 276.6,653.5 276,653.8 275.4,654.4 274.8,654.8 274.2,655.7 273.6,653.9 273,652.7 272.4,652.4 271.8,652.4 271.2,651.4 270.6,651.5 270,651.2 269.4,653.5 268.8,655.4 268.2,654.6 267.6,655.7 267,657.4 266.4,654.7 265.8,654.8 265.2,654 264.6,654.8 264,654.8 263.4,654.6 262.8,653.2 262.2,655.6 261.6,653.8 261,653.6 260.4,654.6 259.8,652.7 259.2,654.2 258.6,655.7 258,654.5 257.4,653.9 256.8,654.7 256.2,654.7 255.6,654.7 255,655 254.4,655 253.8,654.7 253.2,656 252.6,655.8 252,654.5 251.4,653.3 250.8,654.6 250.2,653.3 249.6,654.4 249,654.7 248.4,656.4 247.8,655.5 247.2,653.7 246.6,654.6 246,653.7 245.4,656.9 244.8,655.2 244.2,657 243.6,656.3 243,655 242.4,653.8 241.8,653.8 241.2,652.7 240.6,655.9 240,655 239.4,653.1 238.8,654.1 238.2,652.9 237.6,654.4 237,655 236.4,653 235.8,653.7 235.2,654.6 234.6,653.1 234,653 233.4,654.3 232.8,650.8 232.2,649.8 231.6,652.7 231,653.4 230.4,653.8 229.8,653.1 229.2,652.3 228.6,652.1 228,654.2 227.4,655.5 226.8,654.1 226.2,653.1 225.6,653.8 225,654 224.4,653.6 223.8,651.7 223.2,652.9 222.6,652 222,654.3 221.4,653.8 220.8,652.2 220.2,651.2 219.6,651.1 219,652.4 218.4,654.5 217.8,655 217.2,655 216.6,654 216,653.7 215.4,652 214.8,652.8 214.2,652.7 213.6,652.4 213,655.1 212.4,654.5 211.8,652.3 211.2,654.4 210.6,654.7 210,652.9 209.4,655.8 208.8,655.5 208.2,656.4 207.6,654.9 207,654.2 206.4,654.9 205.8,655 205.2,656.1 204.6,652.6 204,650 203.4,651.5 202.8,651.4 202.2,654.7 201.6,656.6 201,655.4 200.4,655.1 199.8,654 199.2,655 198.6,655.7 198,654.2 197.4,657 196.8,654.7 196.2,655.3 195.6,655.4 195,654 194.4,652.8 193.8,653.4 193.2,654.2 192.6,656.5 192,656.3 191.4,654.5 190.8,655 190.2,657.7 189.6,656.3 189,655.6 188.4,656.2 187.8,654.9 187.2,655.7 186.6,656 186,653.6 185.4,653.7 184.8,653.6 184.2,654.1 183.6,654.7 183,656.5 182.4,659.2 181.8,655.3 181.2,654.8 180.6,654.9 180,654.7 179.4,652.6 178.8,656.8 178.2,654.1 177.6,654 177,655.9 176.4,653.6 175.8,652.1 175.2,653.2 174.6,652.4 174,654.3 173.4,656 172.8,654.5 172.2,651.7 171.6,654.3 171,654.6 170.4,653.1 169.8,652.1 169.2,652 168.6,651.8 168,654.6 167.4,652.5 166.8,653 166.2,650.8 165.6,653.2 165,653.1 164.4,652.2 163.8,654.1 163.2,655.7 162.6,656.8 162,654.8 161.4,654.2 160.8,653.5 160.2,656.2 159.6,655.4 159,654.5 158.4,653.7 157.8,651.6 157.2,653.4 156.6,656.8 156,654.4 155.4,651.6 154.8,653.5 154.2,653.7 153.6,654.1 153,649.5 152.4,650.9 151.8,652.4 151.2,651.3 150.6,649.6 150,650.7 149.4,651 148.8,652 148.2,649.7 147.6,649.1 147,649.1 146.4,648.2 145.8,650.9 145.2,652.2 144.6,651.4 144,653.7 143.4,651.6 142.8,651.2 142.2,652.7 141.6,654.4 141,654.9 140.4,653.7 139.8,653.5 139.2,652.5 138.6,652.9 138,652.8 137.4,654 136.8,653.2 136.2,653.7 135.6,656.2 135,658.2 134.4,655.7 133.8,655.1 133.2,654.9 132.6,654.6 132,655.2 131.4,654.8 130.8,654.6 130.2,653.6 129.6,654.8 129,655.3 128.4,655.4 127.8,657.4 127.2,658.2 126.6,656 126,655.2 125.4,654.7 124.8,654.9 124.2,655.9 123.6,654.3 123,654.1 122.4,650.8 121.8,653.7 121.2,654.6 120.6,654.8 120,654.2 119.4,656.9 118.8,654.7 118.2,655.3 117.6,654.5 117,651.2 116.4,651.6 115.8,649.8 115.2,650.3 114.6,649 114,648.3 113.4,651.2 112.8,652.3 112.2,650.2 111.6,650.6 111,649.8 110.4,649.9 109.8,648.6 109.2,650.4 108.6,651.9 108,652.9 107.4,653.3 106.8,654.7 106.2,655.9 105.6,656 105,656.1 104.4,656.6 103.8,656.2 103.2,657.8 102.6,659.4 102,657.9 101.4,658.9 100.8,658.3 100.2,657.9 99.6,659.8 99,660.9 98.4,661.8 97.8,662.5 97.2,665.7 96.6,668.3 96,669.3 95.4,668.7 94.8,669.6 94.2,669.6 93.6,672.3 93,670.2 92.4,671 91.8,675 91.2,673.5 90.6,672.3 90,674.4 89.4,673.5 88.8,671.3 88.2,670.7 87.6,669.2 87,671.8 86.4,675.8 85.8,676.9 85.2,683 84.6,687.1 84,688.1 83.4,685.8 82.8,686.1 82.2,686.4 81.6,687.3 81,684.7 80.4,687.2 79.8,686 79.2,684.2 78.6,683.5 78,683 77.4,683.1 76.8,680.4 76.2,681.4 75.6,681.6 75,681 74.4,679.4 73.8,680.5 73.2,681.6 72.6,681.4 72,681.3 71.4,681.9 70.8,680.9 70.2,680.1 69.6,680 69,679.3 68.4,680.6 67.8,681.4 67.2,683 66.6,679.7 66,681.2 65.4,684.4 64.8,684.9 64.2,684.7 63.6,683.8 63,683.3 62.4,685.9 61.8,684.8 61.2,683.2 60.6,683.2 60,685.2 59.4,687.3 58.8,686.9 58.2,685.2 57.6,687.6 57,687.2 56.4,689.2 55.8,692.1 55.2,692.3 54.6,692.6 54,690.9 53.4,690.7 52.8,694.4 52.2,694.6 51.6,695 51,695.8 50.4,695 49.8,697.7 49.2,695.8 48.6,693.8 48,694.9 47.4,693.7 46.8,693.4" fill="#b0dbab" opacity="0.95"/><polygon points="46.8,675.3 47.4,676.9 48,677.6 48.6,677 49.2,678.8 49.8,677.9 50.4,678.2 51,679.3 51.6,678 52.2,677.6 52.8,678.1 53.4,672.9 54,674.3 54.6,672.7 55.2,673.9 55.8,672.6 56.4,670.6 57,670.1 57.6,669.5 58.2,668.4 58.8,668.1 59.4,669.1 60,666.9 60.6,664.9 61.2,665.5 61.8,667.6 62.4,666.9 63,666.6 63.6,666.6 64.2,667.1 64.8,667.3 65.4,665.8 66,663.5 66.6,662.1 67.2,663.9 67.8,664.5 68.4,662.4 69,661.7 69.6,661.3 70.2,662.1 70.8,662.4 71.4,661.9 72,662.6 72.6,663.1 73.2,663.3 73.8,662.8 74.4,661.9 75,662.9 75.6,663 76.2,661.9 76.8,660.5 77.4,665.8 78,664.8 78.6,665.5 79.2,665.2 79.8,667.1 80.4,669.2 81,666.1 81.6,669.2 82.2,668 82.8,668.2 83.4,667.8 84,668.7 84.6,669.3 85.2,662.7 85.8,658.8 86.4,657.5 87,651.8 87.6,651.6 88.2,652.1 88.8,650.4 89.4,654.1 90,655.7 90.6,652.2 91.2,653.4 91.8,654.9 92.4,651 93,650.7 93.6,653 94.2,649.8 94.8,649.4 95.4,646.2 96,647.9 96.6,646.6 97.2,644.6 97.8,642.1 98.4,640.1 99,640.2 99.6,636.8 100.2,634.9 100.8,633.8 101.4,635.2 102,635.7 102.6,635.6 103.2,634.7 103.8,633.2 104.4,634.2 105,634.3 105.6,632 106.2,631 106.8,629.7 107.4,629.3 108,629.3 108.6,626.3 109.2,624.9 109.8,624.2 110.4,626 111,624.3 111.6,623.8 112.2,624.6 112.8,625.9 113.4,626.2 114,623.3 114.6,624.7 115.2,625.8 115.8,624.7 116.4,627 117,626.6 117.6,629.3 118.2,630.7 118.8,628.8 119.4,630.3 120,626.8 120.6,629.4 121.2,630.1 121.8,628.2 122.4,624.7 123,629.4 123.6,628.9 124.2,629.9 124.8,630.4 125.4,631.2 126,631.3 126.6,629.6 127.2,633.4 127.8,632.1 128.4,630.9 129,630.4 129.6,630.3 130.2,629.6 130.8,628.3 131.4,629.6 132,629.5 132.6,630.6 133.2,629.7 133.8,630.9 134.4,631.6 135,634 135.6,630.3 136.2,628.6 136.8,628.7 137.4,628.8 138,629.4 138.6,628.9 139.2,628 139.8,628.4 140.4,629.3 141,631.4 141.6,629.9 142.2,628.5 142.8,627.6 143.4,627.9 144,629.2 144.6,626.6 145.2,626.5 145.8,625.1 146.4,624.6 147,624.2 147.6,624.3 148.2,626.7 148.8,626.3 149.4,625.6 150,626 150.6,625.6 151.2,626.5 151.8,627.1 152.4,625.3 153,626 153.6,629.8 154.2,630.5 154.8,630 155.4,628.4 156,630.4 156.6,631.9 157.2,626.6 157.8,627.5 158.4,630.6 159,629.7 159.6,630.6 160.2,631.8 160.8,630 161.4,629.9 162,625.7 162.6,628 163.2,629.4 163.8,629.3 164.4,627.9 165,628 165.6,629.1 166.2,627.1 166.8,629.7 167.4,627.4 168,631.8 168.6,629.2 169.2,627.5 169.8,628.9 170.4,629.5 171,630.4 171.6,629.3 172.2,626.7 172.8,628.3 173.4,631.2 174,629 174.6,629.1 175.2,628.7 175.8,629 176.4,629.3 177,632.4 177.6,631 178.2,630.4 178.8,630.9 179.4,628.6 180,631.5 180.6,628.9 181.2,630.1 181.8,631.7 182.4,635.4 183,633 183.6,630.8 184.2,630.5 184.8,630.7 185.4,629.9 186,629 186.6,631 187.2,631.4 187.8,628.7 188.4,632.2 189,632.7 189.6,632.6 190.2,631.5 190.8,629.3 191.4,629.7 192,633.1 192.6,631.4 193.2,630.5 193.8,629.8 194.4,629.7 195,629 195.6,632 196.2,629.7 196.8,632.1 197.4,632.3 198,630.4 198.6,630.6 199.2,630.1 199.8,630.6 200.4,632.5 201,631.1 201.6,632.8 202.2,632 202.8,628.6 203.4,627.5 204,625.2 204.6,629.2 205.2,631.3 205.8,632 206.4,631 207,630.7 207.6,631.3 208.2,632.9 208.8,631.4 209.4,631.5 210,628 210.6,630.7 211.2,630.6 211.8,628.3 212.4,630.9 213,629.1 213.6,626.6 214.2,626 214.8,626.3 215.4,628.3 216,628.7 216.6,628.9 217.2,631.7 217.8,630.4 218.4,628.9 219,629.5 219.6,625.7 220.2,626.3 220.8,626.9 221.4,629.1 222,629.8 222.6,629 223.2,630 223.8,627.1 224.4,627.5 225,630.8 225.6,630.6 226.2,629.5 226.8,630.6 227.4,629.8 228,629.8 228.6,626.8 229.2,628.9 229.8,629.2 230.4,630.1 231,630 231.6,627.9 232.2,625.8 232.8,626 233.4,630.4 234,630 234.6,630 235.2,629.6 235.8,630.6 236.4,629.9 237,630.8 237.6,630.3 238.2,629.5 238.8,630 239.4,628.1 240,628.6 240.6,632.3 241.2,628.5 241.8,630.3 242.4,627.8 243,629.6 243.6,630.3 244.2,631.5 244.8,630.8 245.4,632.8 246,630.7 246.6,629.3 247.2,629.3 247.8,628.8 248.4,630.9 249,631.4 249.6,630.9 250.2,629.2 250.8,630.6 251.4,629.1 252,630.9 252.6,632.2 253.2,631.6 253.8,630.7 254.4,631.6 255,630.5 255.6,629.2 256.2,630.4 256.8,629.8 257.4,627.9 258,631.1 258.6,631.8 259.2,630.2 259.8,628.4 260.4,630.5 261,629.1 261.6,630.4 262.2,632 262.8,629 263.4,629.5 264,631.4 264.6,629.8 265.2,628.4 265.8,628.5 266.4,627.7 267,629.7 267.6,630.7 268.2,631 268.8,628.9 269.4,624.6 270,626.4 270.6,626.8 271.2,625.2 271.8,627.8 272.4,627.7 273,628 273.6,628.2 274.2,630.4 274.8,631 275.4,630.2 276,629 276.6,629.4 277.2,629.4 277.8,627.5 278.4,626.6 279,629.9 279.6,627.2 280.2,626.4 280.8,627.3 281.4,624.4 282,625.9 282.6,627.8 283.2,627.2 283.8,630.3 284.4,631.8 285,629.8 285.6,628.2 286.2,630.1 286.8,626.4 287.4,626.9 288,626.3 288.6,625.1 289.2,626.3 289.8,625.7 290.4,627.2 291,629 291.6,625.4 292.2,628.9 292.8,629.1 293.4,628.3 294,626.7 294.6,626.2 295.2,626.3 295.8,626.3 296.4,628 297,622.8 297.6,624.2 298.2,627.1 298.8,626 299.4,625.5 300,622.2 300.6,622.8 301.2,627.8 301.8,626.1 302.4,625 303,622.5 303.6,624.7 304.2,626.9 304.8,625.9 305.4,624.2 306,625.1 306.6,624.2 307.2,624.5 307.8,627.4 308.4,624.1 309,624.4 309.6,623.2 310.2,622.6 310.8,621.2 311.4,623.2 312,625.9 312.6,624.8 313.2,622 313.8,624.2 314.4,627.7 315,623.2 315.6,623.7 316.2,622.9 316.8,623.3 317.4,623 318,620.5 318.6,621.1 319.2,622.6 319.8,625.3 320.4,623.5 321,621.2 321.6,621.2 322.2,623.1 322.8,621.8 323.4,620.9 324,620.8 324.6,621.6 325.2,622 325.8,620.4 326.4,619.8 327,618.2 327.6,621.3 328.2,622.6 328.8,620.7 329.4,622.9 330,623.2 330.6,621.2 331.2,620.5 331.8,618.1 332.4,615.6 333,619.4 333.6,618.4 334.2,619.1 334.8,621.5 335.4,620.8 336,619.9 336.6,619.7 337.2,619.5 337.8,619.6 338.4,618.2 339,620 339.6,620.6 340.2,621.1 340.2,648.6 339.6,650.7 339,648.1 338.4,645.7 337.8,648.9 337.2,648.5 336.6,648.1 336,649.5 335.4,651.5 334.8,648.9 334.2,647.1 333.6,647.1 333,648.5 332.4,645 331.8,646.8 331.2,650.2 330.6,648.7 330,650.6 329.4,650.5 328.8,648.6 328.2,650.6 327.6,650 327,648.6 326.4,649.3 325.8,648.4 325.2,650.4 324.6,650 324,649.8 323.4,649.7 322.8,651.3 322.2,652.1 321.6,650.2 321,648.2 320.4,653.1 319.8,654.4 319.2,650.8 318.6,650.4 318,651.3 317.4,653.1 316.8,652.7 316.2,651.3 315.6,652 315,652.7 314.4,655.2 313.8,652.4 313.2,649.1 312.6,652.9 312,652.8 311.4,652.1 310.8,649.6 310.2,651.4 309.6,653.6 309,652.3 308.4,652.1 307.8,654.8 307.2,655.4 306.6,652.6 306,652.6 305.4,652.9 304.8,653.5 304.2,654.3 303.6,652.8 303,651.4 302.4,652 301.8,654.7 301.2,658.5 300.6,653.6 300,650.3 299.4,652.3 298.8,654.4 298.2,653.9 297.6,652.4 297,651.2 296.4,655.7 295.8,655.8 295.2,653.4 294.6,654.8 294,654.3 293.4,655.2 292.8,656.8 292.2,656.2 291.6,652.8 291,657.6 290.4,654.7 289.8,652.7 289.2,655.7 288.6,653.9 288,656.5 287.4,657.4 286.8,658.1 286.2,658 285.6,656.2 285,656.2 284.4,658 283.8,657.2 283.2,656.3 282.6,655.6 282,653.6 281.4,653.8 280.8,656.6 280.2,657.1 279.6,659 279,658.6 278.4,654.7 277.8,655.6 277.2,656.9 276.6,657.9 276,656.9 275.4,657 274.8,658.3 274.2,658.5 273.6,657.6 273,655.8 272.4,655.7 271.8,656.5 271.2,656.2 270.6,654.4 270,654.1 269.4,656.6 268.8,659.3 268.2,657.6 267.6,659.9 267,661.8 266.4,658.4 265.8,658.5 265.2,657.5 264.6,658.5 264,658.7 263.4,658.2 262.8,656.1 262.2,658.5 261.6,656.7 261,656.5 260.4,658.9 259.8,655.6 259.2,658.4 258.6,659.1 258,657.1 257.4,656.7 256.8,658.4 256.2,658.3 255.6,658.2 255,659.2 254.4,657.9 253.8,657.8 253.2,658.7 252.6,659.4 252,658.9 251.4,657.6 250.8,657.3 250.2,656.9 249.6,657.4 249,658.5 248.4,659.3 247.8,658.6 247.2,657.8 246.6,657.4 246,657.1 245.4,660.5 244.8,658.1 244.2,660.2 243.6,660.7 243,658.2 242.4,657.1 241.8,656.5 241.2,656.4 240.6,659.8 240,658.3 239.4,656.9 238.8,656.9 238.2,656.1 237.6,657.6 237,658.6 236.4,656.9 235.8,656.4 235.2,657.9 234.6,656.5 234,656.2 233.4,657.9 232.8,655.1 232.2,653.2 231.6,656.7 231,657 230.4,657.6 229.8,657.1 229.2,656.2 228.6,655.2 228,657.2 227.4,658.9 226.8,659.4 226.2,657 225.6,657.6 225,657.6 224.4,656.4 223.8,654.4 223.2,656.1 222.6,655.8 222,657.8 221.4,657.5 220.8,656.5 220.2,655.4 219.6,655.4 219,655.1 218.4,657.4 217.8,658.9 217.2,658.1 216.6,658.5 216,657.2 215.4,655.3 214.8,655.9 214.2,656.1 213.6,655.9 213,660.5 212.4,658 211.8,656.7 211.2,657.3 210.6,658.1 210,656.2 209.4,658.8 208.8,658.3 208.2,659.1 207.6,658 207,657.8 206.4,657.8 205.8,658.6 205.2,660.4 204.6,656.5 204,653.6 203.4,654.1 202.8,654.9 202.2,657.4 201.6,660.5 201,658.4 200.4,658.7 199.8,657.4 199.2,658 198.6,659.4 198,657.3 197.4,660.7 196.8,658 196.2,657.9 195.6,658.3 195,657.2 194.4,657.7 193.8,656.9 193.2,657.9 192.6,661.2 192,660.8 191.4,657.5 190.8,658.4 190.2,661.6 189.6,659 189,658.8 188.4,660.3 187.8,658.9 187.2,658.6 186.6,659 186,656.5 185.4,658.1 184.8,657.5 184.2,657.8 183.6,657.4 183,660 182.4,663 181.8,658.9 181.2,658.6 180.6,661 180,657.9 179.4,656.3 178.8,660.8 178.2,656.8 177.6,657.7 177,658.7 176.4,657.3 175.8,655 175.2,656.3 174.6,655.1 174,658 173.4,660.4 172.8,658.4 172.2,654.4 171.6,657.2 171,658.6 170.4,657.2 169.8,655.1 169.2,655.8 168.6,655.2 168,657.2 167.4,656.8 166.8,655.6 166.2,655.1 165.6,657.8 165,658.3 164.4,655.4 163.8,656.9 163.2,659.6 162.6,662.1 162,658.6 161.4,658.2 160.8,656.1 160.2,659.6 159.6,659.2 159,658.1 158.4,656.7 157.8,655.3 157.2,657.7 156.6,660.3 156,658.3 155.4,654.2 154.8,657.5 154.2,656.8 153.6,657.5 153,653.3 152.4,654 151.8,655.7 151.2,654.5 150.6,652.5 150,653.8 149.4,653.8 148.8,657.4 148.2,652.9 147.6,653.6 147,653.3 146.4,652.3 145.8,653.7 145.2,655 144.6,654.3 144,657.1 143.4,655 142.8,653.8 142.2,655.7 141.6,657.2 141,657.7 140.4,656.7 139.8,658.1 139.2,655.4 138.6,656.2 138,655.6 137.4,657.4 136.8,656.9 136.2,656.4 135.6,660.9 135,661.3 134.4,659.5 133.8,659.6 133.2,659.3 132.6,658.8 132,657.9 131.4,658.7 130.8,657.5 130.2,656.8 129.6,658 129,658 128.4,659.2 127.8,660.3 127.2,662.9 126.6,658.9 126,657.8 125.4,657.5 124.8,658.5 124.2,659.2 123.6,657.1 123,657.3 122.4,653.6 121.8,656.6 121.2,658.7 120.6,657.6 120,658 119.4,660.5 118.8,659.2 118.2,658.7 117.6,658.8 117,654.7 116.4,655.2 115.8,652.7 115.2,653 114.6,651.9 114,651.5 113.4,654.1 112.8,657.2 112.2,653.4 111.6,653.9 111,654.1 110.4,653.3 109.8,651.8 109.2,654.2 108.6,654.8 108,655.7 107.4,657.5 106.8,657.9 106.2,659.6 105.6,659.5 105,659.2 104.4,659 103.8,661.2 103.2,660.9 102.6,662.8 102,660.6 101.4,662.6 100.8,661.6 100.2,661.4 99.6,662.3 99,663.5 98.4,664.8 97.8,666 97.2,668.1 96.6,670.9 96,671.9 95.4,672 94.8,672.5 94.2,673.7 93.6,676.1 93,672.9 92.4,673.9 91.8,677.3 91.2,675.8 90.6,675.4 90,677.1 89.4,678.3 88.8,674.4 88.2,673.1 87.6,672.6 87,674.7 86.4,678.2 85.8,679.2 85.2,685.9 84.6,689.5 84,691.8 83.4,690.2 82.8,689.9 82.2,688.6 81.6,691.3 81,687.3 80.4,690.1 79.8,690 79.2,687.8 78.6,687.4 78,685 77.4,685 76.8,682.8 76.2,684.3 75.6,683.9 75,683.9 74.4,681.3 73.8,683.2 73.2,685.6 72.6,684 72,683.7 71.4,684.7 70.8,682.9 70.2,682.1 69.6,682.3 69,682.7 68.4,682.9 67.8,683.8 67.2,686.5 66.6,683.7 66,683.6 65.4,686.4 64.8,688 64.2,686.9 63.6,685.7 63,685.2 62.4,688.9 61.8,686.8 61.2,685.9 60.6,685.4 60,687.5 59.4,689.4 58.8,689.3 58.2,688.1 57.6,690.8 57,692.2 56.4,691.6 55.8,695.2 55.2,695.6 54.6,694.5 54,694.5 53.4,692.6 52.8,697 52.2,696.4 51.6,697.9 51,698.7 50.4,698.3 49.8,701.3 49.2,698.3 48.6,695.8 48,697.2 47.4,695.9 46.8,696" fill="#b0dbab" opacity="0.5225"/><polygon points="46.8,678.7 47.4,678.2 48,677.3 48.6,676 49.2,673.2 49.8,672.3 50.4,672 51,672.7 51.6,670.4 52.2,668.2 52.8,666.9 53.4,667.2 54,667.2 54.6,666.3 55.2,664.7 55.8,667.7 56.4,668.2 57,667.1 57.6,666 58.2,664.6 58.8,666.4 59.4,667.7 60,668.1 60.6,666.8 61.2,667.1 61.8,668.7 62.4,667.2 63,667.1 63.6,665.6 64.2,665.1 64.8,662.9 65.4,662.7 66,661.1 66.6,659.3 67.2,663.3 67.8,663.8 68.4,663 69,662.4 69.6,660.7 70.2,661.8 70.8,663.9 71.4,664.5 72,667.5 72.6,667.6 73.2,667 73.8,666.6 74.4,668.4 75,667.7 75.6,667.6 76.2,667.8 76.8,666.4 77.4,665.4 78,665.9 78.6,666.2 79.2,664.7 79.8,666.2 80.4,665.1 81,662.1 81.6,660.5 82.2,659.3 82.8,659.5 83.4,660 84,659.1 84.6,660.7 85.2,663.1 85.8,664.8 86.4,665.6 87,661.6 87.6,658.1 88.2,657.9 88.8,655.3 89.4,657.7 90,657.8 90.6,658 91.2,660 91.8,661.7 92.4,667 93,668.5 93.6,667.4 94.2,665.6 94.8,666.5 95.4,668 96,668.6 96.6,670.2 97.2,669.1 97.8,670.6 98.4,671.6 99,670.3 99.6,670.4 100.2,673.7 100.8,672.8 101.4,671 102,673.5 102.6,672.4 103.2,673.1 103.8,673.4 104.4,673 105,672.4 105.6,671.5 106.2,672.4 106.8,672.3 107.4,674.8 108,672.1 108.6,671.6 109.2,674.5 109.8,674.7 110.4,675.3 111,676.3 111.6,677.9 112.2,676.3 112.8,678.8 113.4,678.2 114,676 114.6,675.8 115.2,677.9 115.8,676.3 116.4,675 117,674.8 117.6,673.7 118.2,677 118.8,676.3 119.4,675.7 120,676.1 120.6,673.7 121.2,673 121.8,675.6 122.4,676 123,675.4 123.6,672.7 124.2,675.2 124.8,673.7 125.4,676.5 126,678.1 126.6,676.2 127.2,676.3 127.8,678.2 128.4,678.3 129,678.7 129.6,678.7 130.2,680 130.8,679.1 131.4,679.7 132,681.3 132.6,681.2 133.2,681.3 133.8,680.2 134.4,678.3 135,680.3 135.6,680.5 136.2,677.6 136.8,680.8 137.4,679.9 138,678.3 138.6,676.9 139.2,677.3 139.8,676.6 140.4,676 141,677.5 141.6,676.7 142.2,676 142.8,676.5 143.4,674 144,674.2 144.6,677.9 145.2,677.4 145.8,677.2 146.4,675.1 147,674.6 147.6,676.5 148.2,675.6 148.8,677.7 149.4,678.9 150,678.7 150.6,678.5 151.2,679.3 151.8,679.5 152.4,679.4 153,681.3 153.6,680.6 154.2,681.2 154.8,682.4 155.4,682 156,680.7 156.6,679.7 157.2,680.5 157.8,679.8 158.4,677.7 159,677.4 159.6,679.5 160.2,679.5 160.8,678.1 161.4,678.5 162,678.7 162.6,676.7 163.2,679.1 163.8,678.5 164.4,680.7 165,679.8 165.6,679 166.2,677.6 166.8,675.8 167.4,677.1 168,678.5 168.6,677.9 169.2,678.3 169.8,676.6 170.4,679.8 171,680.1 171.6,677.4 172.2,677.1 172.8,677 173.4,679.2 174,679 174.6,679.5 175.2,680.5 175.8,678.1 176.4,680.4 177,679.4 177.6,680.5 178.2,681.6 178.8,681.6 179.4,679.6 180,680 180.6,680.4 181.2,678.7 181.8,675.6 182.4,679.6 183,681.5 183.6,677.3 184.2,679.4 184.8,675.7 185.4,673.8 186,677.8 186.6,675.1 187.2,675.6 187.8,677.4 188.4,676.6 189,677.8 189.6,677.2 190.2,677.4 190.8,680.1 191.4,679.8 192,679.9 192.6,681.4 193.2,680.3 193.8,679.9 194.4,682.3 195,681.6 195.6,682.4 196.2,681.6 196.8,680.9 197.4,680.8 198,681.9 198.6,682.4 199.2,682.1 199.8,683.9 200.4,681.9 201,682.3 201.6,685.2 202.2,682.8 202.8,682.3 203.4,682.6 204,681.9 204.6,682.5 205.2,680.7 205.8,681.3 206.4,682.8 207,683 207.6,683.6 208.2,680.7 208.8,678 209.4,680.5 210,682.1 210.6,681.9 211.2,681.6 211.8,683.8 212.4,682.5 213,681.8 213.6,680.7 214.2,682 214.8,682.7 215.4,682.2 216,683 216.6,682.1 217.2,681.3 217.8,680.6 218.4,681 219,683.7 219.6,687.5 220.2,683.5 220.8,683.1 221.4,680.6 222,680.9 222.6,681.7 223.2,680.2 223.8,679.7 224.4,679.5 225,678 225.6,678.5 226.2,678.8 226.8,680.1 227.4,680.3 228,677.8 228.6,675.8 229.2,673.7 229.8,676.4 230.4,675.2 231,675.5 231.6,677 232.2,677.4 232.8,677.8 233.4,678.2 234,677.5 234.6,676 235.2,677.4 235.8,677.5 236.4,677.5 237,677.7 237.6,680.3 238.2,679.5 238.8,678 239.4,679.4 240,679.8 240.6,680.6 241.2,679.4 241.8,681.1 242.4,679.2 243,678.6 243.6,678.7 244.2,678.5 244.8,678.1 245.4,677.8 246,677.9 246.6,679.3 247.2,678.5 247.8,679.8 248.4,679.2 249,678.4 249.6,681.6 250.2,680.2 250.8,680.7 251.4,682.4 252,679.3 252.6,678.3 253.2,679.9 253.8,679.9 254.4,680.4 255,679.5 255.6,681.1 256.2,682 256.8,680.6 257.4,678.8 258,678.8 258.6,679.6 259.2,682.2 259.8,683.5 260.4,682.2 261,682.2 261.6,681.3 262.2,680.7 262.8,682.5 263.4,683.1 264,680.8 264.6,679.2 265.2,679.9 265.8,681.7 266.4,678.7 267,681.5 267.6,682 268.2,681.8 268.8,682.1 269.4,679.8 270,679.8 270.6,679.9 271.2,682.9 271.8,681.8 272.4,678.5 273,675.5 273.6,677.9 274.2,679.4 274.8,677.6 275.4,678 276,679.3 276.6,679.2 277.2,679 277.8,678.3 278.4,677.2 279,680 279.6,680.5 280.2,679.5 280.8,678.4 281.4,679.3 282,678.9 282.6,678.8 283.2,678.4 283.8,679 284.4,677.8 285,674.9 285.6,675.6 286.2,676.5 286.8,678.4 287.4,677 288,676.7 288.6,676 289.2,678.6 289.8,677.4 290.4,676.3 291,676.6 291.6,674.5 292.2,676.1 292.8,678.3 293.4,676.3 294,674.8 294.6,678.4 295.2,677.6 295.8,676.3 296.4,675.7 297,674.9 297.6,676.1 298.2,676.7 298.8,676.7 299.4,675.9 300,673.7 300.6,673.9 301.2,673.4 301.8,674 302.4,676.3 303,672.9 303.6,675.2 304.2,676.1 304.8,674.6 305.4,672.6 306,674.1 306.6,672.6 307.2,673.8 307.8,674.3 308.4,674.9 309,675.9 309.6,674 310.2,675.2 310.8,675.5 311.4,675.9 312,678.3 312.6,675.6 313.2,675.5 313.8,674.9 314.4,675 315,675.1 315.6,674.7 316.2,675.8 316.8,672.5 317.4,673.7 318,675.1 318.6,675.6 319.2,676 319.8,674.9 320.4,673.4 321,671.4 321.6,671.3 322.2,674.4 322.8,674.9 323.4,673.9 324,673.8 324.6,674.6 325.2,675.3 325.8,675.2 326.4,672.6 327,673.9 327.6,673.2 328.2,672 328.8,674.1 329.4,674 330,674.2 330.6,673.3 331.2,671.2 331.8,673.5 332.4,673 333,674 333.6,672.6 334.2,671.4 334.8,670.6 335.4,671.5 336,671.3 336.6,670.6 337.2,669.9 337.8,668.6 338.4,671.6 339,669.7 339.6,671.5 340.2,670.6 340.2,684.8 339.6,686.4 339,682.9 338.4,684 337.8,681.8 337.2,682.4 336.6,682.9 336,683.7 335.4,683.8 334.8,683.6 334.2,683.8 333.6,685.2 333,686.4 332.4,685.5 331.8,686.5 331.2,686.2 330.6,687.1 330,687.2 329.4,687.2 328.8,686.8 328.2,684.3 327.6,686.6 327,686.8 326.4,687 325.8,687.4 325.2,687.8 324.6,687.3 324,686.5 323.4,687.2 322.8,688.1 322.2,688.5 321.6,686.4 321,686.4 320.4,687.1 319.8,688.3 319.2,689.4 318.6,688.5 318,688.2 317.4,686.2 316.8,684.7 316.2,688.7 315.6,687.7 315,688.4 314.4,689.5 313.8,687.2 313.2,688.7 312.6,688.6 312,690.8 311.4,689.3 310.8,687.9 310.2,687.4 309.6,686.3 309,688.8 308.4,689.3 307.8,688.4 307.2,687.6 306.6,686.1 306,687.1 305.4,686.3 304.8,686.9 304.2,688.5 303.6,687.5 303,686.7 302.4,688.7 301.8,687.1 301.2,688.3 300.6,688.1 300,687.1 299.4,688.8 298.8,690.6 298.2,688.9 297.6,688.5 297,688.3 296.4,687.9 295.8,689.7 295.2,690.5 294.6,691.2 294,687 293.4,689.2 292.8,691.2 292.2,689.4 291.6,689.1 291,690.6 290.4,690.4 289.8,691.2 289.2,690.9 288.6,689.4 288,688.9 287.4,690.8 286.8,691.3 286.2,690.7 285.6,689.6 285,688.7 284.4,692.4 283.8,693.5 283.2,692.7 282.6,692 282,691 281.4,691.9 280.8,692.2 280.2,693 279.6,693.8 279,692.8 278.4,691.5 277.8,692.1 277.2,691.9 276.6,691.8 276,692.8 275.4,691.1 274.8,692.1 274.2,692.2 273.6,690.3 273,688.7 272.4,691.5 271.8,694.4 271.2,696 270.6,692.5 270,693.9 269.4,693.1 268.8,695.8 268.2,695.2 267.6,694.4 267,694.2 266.4,692.2 265.8,695.3 265.2,692.5 264.6,691.5 264,694.7 263.4,695.7 262.8,694.9 262.2,693.9 261.6,694.6 261,694.8 260.4,694.9 259.8,696.9 259.2,695.9 258.6,692.7 258,691.5 257.4,691.7 256.8,693.1 256.2,695.2 255.6,694.5 255,692.9 254.4,693.2 253.8,692.3 253.2,692.4 252.6,690.5 252,692.3 251.4,694.6 250.8,693 250.2,693.2 249.6,694.1 249,691.8 248.4,692.4 247.8,692.1 247.2,692.5 246.6,693.2 246,690.6 245.4,690.9 244.8,691.1 244.2,690.8 243.6,692.2 243,691.5 242.4,691.5 241.8,694.5 241.2,693.2 240.6,693.5 240,692.4 239.4,692.2 238.8,691.1 238.2,692.5 237.6,692.8 237,690.8 236.4,691.4 235.8,690.6 235.2,690.1 234.6,689.1 234,691 233.4,690.6 232.8,690.1 232.2,690 231.6,690 231,688.2 230.4,687.6 229.8,689.5 229.2,686.5 228.6,688.4 228,690.5 227.4,692.5 226.8,692.5 226.2,691.6 225.6,690.9 225,690.4 224.4,692 223.8,693.3 223.2,693 222.6,694.2 222,694.1 221.4,693.1 220.8,695.7 220.2,696.6 219.6,699.9 219,698 218.4,695.3 217.8,694.3 217.2,693.6 216.6,694.4 216,695.6 215.4,694.5 214.8,695 214.2,695.3 213.6,694.4 213,695.7 212.4,695.7 211.8,696.7 211.2,694.5 210.6,695.5 210,695.2 209.4,694 208.8,693 208.2,694.3 207.6,697.5 207,696.1 206.4,696.3 205.8,694.1 205.2,693.4 204.6,694.9 204,695 203.4,695.8 202.8,697 202.2,696.9 201.6,697.4 201,694.6 200.4,694.7 199.8,696.8 199.2,696.4 198.6,695.3 198,694.6 197.4,693.4 196.8,693.2 196.2,694 195.6,695.5 195,693.9 194.4,694.6 193.8,692.5 193.2,692.9 192.6,693.9 192,693.5 191.4,692.6 190.8,692.8 190.2,690.1 189.6,690.2 189,690.8 188.4,690.3 187.8,690.2 187.2,688.2 186.6,688.3 186,692.1 185.4,689.5 184.8,688.9 184.2,692.1 183.6,691.4 183,695.2 182.4,694.3 181.8,692 181.2,693.5 180.6,694.9 180,692.6 179.4,691.9 178.8,694.2 178.2,694.3 177.6,693.3 177,692.6 176.4,693 175.8,690.7 175.2,693.2 174.6,692.7 174,692.2 173.4,693.4 172.8,691.7 172.2,692.9 171.6,692.4 171,693.6 170.4,693.6 169.8,690.7 169.2,693 168.6,692.1 168,691.3 167.4,690 166.8,688.7 166.2,690.2 165.6,692.9 165,692.1 164.4,693.5 163.8,691.3 163.2,692.4 162.6,691 162,693.5 161.4,692.3 160.8,691.7 160.2,692.3 159.6,692.3 159,691.2 158.4,691.6 157.8,692.1 157.2,693.4 156.6,693.7 156,694.1 155.4,695.2 154.8,695 154.2,693.6 153.6,693.8 153,694.6 152.4,692.3 151.8,692.1 151.2,692 150.6,691.1 150,691.2 149.4,692.7 148.8,690.6 148.2,688.2 147.6,689.6 147,687.4 146.4,687.8 145.8,689.5 145.2,691.1 144.6,692.3 144,687.6 143.4,687.2 142.8,689.3 142.2,688.6 141.6,689.5 141,689.8 140.4,688.7 139.8,689 139.2,690.2 138.6,689.6 138,690.7 137.4,692.5 136.8,693.7 136.2,690.2 135.6,692.7 135,694.5 134.4,691.8 133.8,693.4 133.2,693.7 132.6,693.7 132,693.8 131.4,692 130.8,691.8 130.2,692.7 129.6,692.2 129,691.2 128.4,691.9 127.8,692 127.2,690.9 126.6,689.8 126,690.6 125.4,689.2 124.8,688.1 124.2,690 123.6,687.9 123,688.4 122.4,689 121.8,689.7 121.2,687.7 120.6,688.6 120,691.1 119.4,688.7 118.8,689.8 118.2,691.4 117.6,687.6 117,689.3 116.4,689.3 115.8,689.6 115.2,691.5 114.6,690.1 114,689.8 113.4,693.1 112.8,693.9 112.2,691.4 111.6,692.3 111,690.4 110.4,689.4 109.8,689.2 109.2,688.6 108.6,685.9 108,686.5 107.4,689 106.8,686.3 106.2,686.5 105.6,686.3 105,686.7 104.4,687.8 103.8,688.9 103.2,689.1 102.6,687.9 102,688.1 101.4,686.3 100.8,688 100.2,688.7 99.6,685.5 99,685.8 98.4,686.2 97.8,685.8 97.2,684 96.6,684.9 96,683.9 95.4,684.1 94.8,682.9 94.2,681.1 93.6,682.4 93,683.5 92.4,681.8 91.8,678.1 91.2,675.8 90.6,674.1 90,673.2 89.4,673.4 88.8,671.6 88.2,673.6 87.6,673.3 87,676.7 86.4,681.1 85.8,681.2 85.2,679.3 84.6,675.9 84,674.4 83.4,675.5 82.8,674.9 82.2,675 81.6,676.4 81,678.1 80.4,680.9 79.8,681.6 79.2,681 78.6,682.2 78,682.2 77.4,681.4 76.8,682.2 76.2,683.7 75.6,684.9 75,684.4 74.4,684.2 73.8,681.3 73.2,681.7 72.6,682.5 72,682.8 71.4,679.7 70.8,679.2 70.2,677.2 69.6,675.9 69,677 68.4,677.7 67.8,678.5 67.2,678.1 66.6,675 66,677.1 65.4,678.6 64.8,679.3 64.2,681.5 63.6,681.9 63,682.4 62.4,681.9 61.8,683.6 61.2,682.1 60.6,682 60,684.1 59.4,683.1 58.8,681.5 58.2,680.9 57.6,682.5 57,682.6 56.4,683.5 55.8,685 55.2,680.6 54.6,681.3 54,682.6 53.4,682.5 52.8,682.4 52.2,683.5 51.6,684.8 51,687.2 50.4,687.2 49.8,686.7 49.2,687.7 48.6,690.7 48,691.3 47.4,692.2 46.8,694.2" fill="#c8c8c8" opacity="0.85"/><polygon points="46.8,675 47.4,675.6 48,674.2 48.6,672.6 49.2,671.1 49.8,669.9 50.4,669.2 51,670.6 51.6,667.2 52.2,666.3 52.8,664.9 53.4,664.5 54,663.9 54.6,664.1 55.2,662.1 55.8,665.3 56.4,665.7 57,664.9 57.6,662.4 58.2,661 58.8,664.1 59.4,665 60,665.6 60.6,664.5 61.2,664.7 61.8,666.2 62.4,664.4 63,665 63.6,663.2 64.2,662.1 64.8,659.8 65.4,659.8 66,657.9 66.6,656.5 67.2,660.4 67.8,660.7 68.4,660.7 69,659.2 69.6,658.1 70.2,659.7 70.8,660.6 71.4,662.4 72,664.8 72.6,665.1 73.2,663.8 73.8,663.8 74.4,665.3 75,665.1 75.6,665.3 76.2,664.7 76.8,663.9 77.4,663.2 78,663.5 78.6,662.8 79.2,661.8 79.8,664 80.4,662.7 81,659.9 81.6,658.3 82.2,657 82.8,657.4 83.4,658 84,656 84.6,657.8 85.2,661 85.8,662.6 86.4,663.4 87,658.9 87.6,655.8 88.2,655.1 88.8,651.5 89.4,654.8 90,654.9 90.6,654.8 91.2,657.2 91.8,658.7 92.4,663.8 93,665.6 93.6,665.4 94.2,663.5 94.8,663.7 95.4,665.4 96,666.3 96.6,667.1 97.2,667.1 97.8,667.9 98.4,669.4 99,668.2 99.6,668.3 100.2,670.3 100.8,669.7 101.4,668.2 102,670.2 102.6,669.3 103.2,670.6 103.8,670.8 104.4,671.1 105,669.7 105.6,668.9 106.2,669.8 106.8,669.9 107.4,673 108,670.1 108.6,669.2 109.2,671.8 109.8,671.8 110.4,673.2 111,673.6 111.6,676 112.2,674.2 112.8,675.4 113.4,675.1 114,673.5 114.6,673.6 115.2,675.7 115.8,673.7 116.4,673 117,672.2 117.6,671.8 118.2,674.3 118.8,673.4 119.4,673.1 120,672.9 120.6,670.6 121.2,670.5 121.8,672.9 122.4,673.4 123,673.6 123.6,670.7 124.2,672.1 124.8,671.4 125.4,674.8 126,675.3 126.6,673 127.2,673.9 127.8,673.8 128.4,675.9 129,675.7 129.6,676.2 130.2,676.7 130.8,676.4 131.4,677.6 132,679.5 132.6,678.9 133.2,679.2 133.8,675.8 134.4,675.9 135,678.5 135.6,678.4 136.2,674.7 136.8,677.9 137.4,677.2 138,675.8 138.6,675.3 139.2,674.3 139.8,674.3 140.4,672.8 141,674.1 141.6,674.6 142.2,672.1 142.8,674.3 143.4,670 144,672.3 144.6,675.7 145.2,675.2 145.8,674 146.4,671.6 147,672.8 147.6,673.1 148.2,673.9 148.8,674.6 149.4,675.9 150,676.2 150.6,676.8 151.2,677.4 151.8,677.5 152.4,677.1 153,678.9 153.6,677.6 154.2,678.9 154.8,680.3 155.4,680 156,678.9 156.6,677.6 157.2,678 157.8,677.5 158.4,676 159,674.7 159.6,676.6 160.2,677.5 160.8,675.2 161.4,674.3 162,675.3 162.6,674.1 163.2,677.3 163.8,676.9 164.4,678.3 165,677.6 165.6,676.2 166.2,675.9 166.8,674.1 167.4,675.5 168,676.9 168.6,675.9 169.2,676.4 169.8,674.2 170.4,677.2 171,678 171.6,674.5 172.2,673.8 172.8,674.4 173.4,677.1 174,676.3 174.6,677.4 175.2,678.3 175.8,675 176.4,678.6 177,676.4 177.6,678.7 178.2,680 178.8,679.9 179.4,677.8 180,676 180.6,677.5 181.2,676.7 181.8,671.7 182.4,677.4 183,679 183.6,675.3 184.2,677.6 184.8,673.3 185.4,671.6 186,675.3 186.6,673.3 187.2,673.4 187.8,675.1 188.4,674.7 189,675.7 189.6,675.6 190.2,675.2 190.8,678.3 191.4,677.2 192,677.9 192.6,679.7 193.2,678.6 193.8,678 194.4,679.8 195,679 195.6,680.6 196.2,678.7 196.8,678 197.4,678 198,680.1 198.6,680.2 199.2,680.3 199.8,681.7 200.4,679.5 201,679.9 201.6,683.4 202.2,680.9 202.8,678.3 203.4,680.3 204,679 204.6,679.7 205.2,678.2 205.8,678.5 206.4,679.8 207,681 207.6,680.7 208.2,678.8 208.8,675.9 209.4,678.7 210,678.9 210.6,679.7 211.2,678.8 211.8,680.9 212.4,679.9 213,680.1 213.6,678.8 214.2,679 214.8,680.6 215.4,680.5 216,680.3 216.6,680.3 217.2,679.6 217.8,677.3 218.4,678.8 219,679.5 219.6,684.5 220.2,680.7 220.8,680.6 221.4,678.3 222,678.4 222.6,678.6 223.2,678.3 223.8,677.6 224.4,676.9 225,675.9 225.6,675.6 226.2,677.1 226.8,678.1 227.4,678.2 228,675.2 228.6,673.3 229.2,671.2 229.8,673.2 230.4,672.8 231,673.8 231.6,675.3 232.2,675.7 232.8,675.1 233.4,676.6 234,674.3 234.6,674.2 235.2,674.1 235.8,675.4 236.4,675 237,674.5 237.6,677.1 238.2,677.8 238.8,675.9 239.4,677.3 240,677.4 240.6,678.2 241.2,677.6 241.8,678.5 242.4,676.8 243,676.9 243.6,676.1 244.2,676.4 244.8,676.2 245.4,675.6 246,675.4 246.6,677 247.2,675.7 247.8,677.1 248.4,677.2 249,676.5 249.6,678.6 250.2,677.4 250.8,678.7 251.4,680.6 252,677.4 252.6,675.2 253.2,678 253.8,677 254.4,678 255,677.7 255.6,679 256.2,679.6 256.8,679 257.4,676.4 258,676.4 258.6,677.7 259.2,680.2 259.8,680.7 260.4,679.3 261,680 261.6,678.8 262.2,677.1 262.8,679.3 263.4,680.8 264,677.1 264.6,677.4 265.2,678.3 265.8,679.7 266.4,675.4 267,678.7 267.6,679.3 268.2,678.5 268.8,679.7 269.4,677.3 270,677.3 270.6,677.5 271.2,680.3 271.8,680.1 272.4,676.5 273,673.1 273.6,676 274.2,676.9 274.8,675.6 275.4,675.1 276,677.5 276.6,677.4 277.2,676.7 277.8,675.4 278.4,675.2 279,677.4 279.6,678.3 280.2,677.1 280.8,675.9 281.4,677.3 282,676.6 282.6,676.2 283.2,675.5 283.8,675.8 284.4,675.7 285,673 285.6,672.7 286.2,674.2 286.8,675.5 287.4,674.9 288,675.1 288.6,672.6 289.2,676.4 289.8,675.4 290.4,673.5 291,674.4 291.6,672.2 292.2,673.9 292.8,675.3 293.4,672.9 294,672.6 294.6,676.4 295.2,675.9 295.8,673.1 296.4,672.7 297,672.6 297.6,672.9 298.2,673.9 298.8,674.3 299.4,673.5 300,671.7 300.6,671.8 301.2,670.8 301.8,671.6 302.4,674.7 303,670.2 303.6,672.9 304.2,674 304.8,672.2 305.4,670.2 306,671.7 306.6,670.5 307.2,671.6 307.8,671 308.4,672.6 309,673.6 309.6,670.8 310.2,673.6 310.8,673.9 311.4,674.1 312,675.5 312.6,672.5 313.2,673.3 313.8,673.2 314.4,672.2 315,672.3 315.6,671.9 316.2,674.1 316.8,670.5 317.4,671.7 318,672.7 318.6,673.2 319.2,673.4 319.8,672.7 320.4,670.6 321,669.3 321.6,668.3 322.2,672 322.8,673.1 323.4,671.8 324,671.9 324.6,672.8 325.2,672.9 325.8,673.1 326.4,670.3 327,671.6 327.6,670 328.2,670.4 328.8,672.4 329.4,671.6 330,670.8 330.6,671.4 331.2,669 331.8,670.7 332.4,670.8 333,671.7 333.6,670.7 334.2,668.8 334.8,668.7 335.4,669.4 336,669.5 336.6,668.1 337.2,667.2 337.8,666.7 338.4,669.1 339,667.1 339.6,668.7 340.2,668.7 340.2,687 339.6,688.3 339,685.7 338.4,686.1 337.8,684.4 337.2,684 336.6,685 336,686.7 335.4,685.6 334.8,685.2 334.2,686.1 333.6,687.3 333,689.7 332.4,687.3 331.8,688.6 331.2,689.7 330.6,688.9 330,689.4 329.4,689.5 328.8,688.8 328.2,686.3 327.6,689.2 327,689.9 326.4,689.5 325.8,689.6 325.2,690 324.6,689.1 324,689.8 323.4,689.6 322.8,690.4 322.2,691.6 321.6,689.6 321,689.7 320.4,690.7 319.8,690.5 319.2,691.3 318.6,691.4 318,690 317.4,687.9 316.8,686.7 316.2,690.4 315.6,690.9 315,690.3 314.4,691.3 313.8,689.2 313.2,690.8 312.6,690.5 312,692.7 311.4,692.2 310.8,690.5 310.2,690.5 309.6,688.8 309,691.2 308.4,692 307.8,691.4 307.2,690.1 306.6,688 306,689.9 305.4,688.1 304.8,688.6 304.2,690.3 303.6,689.6 303,689.9 302.4,690.8 301.8,689 301.2,690.4 300.6,691 300,689.6 299.4,691 298.8,692.4 298.2,692.1 297.6,691 297,692 296.4,690.2 295.8,691.7 295.2,692.2 294.6,694.5 294,689.3 293.4,692.5 292.8,693.1 292.2,691.7 291.6,692.7 291,693 290.4,692.2 289.8,694 289.2,692.7 288.6,691.6 288,691.5 287.4,694.2 286.8,694.1 286.2,692.7 285.6,692.6 285,691.4 284.4,694.7 283.8,695.5 283.2,694.9 282.6,694 282,693.3 281.4,694.1 280.8,694.7 280.2,695 279.6,695.5 279,694.8 278.4,693.7 277.8,696.4 277.2,694 276.6,694.7 276,694.7 275.4,693.4 274.8,694.4 274.2,694 273.6,692.4 273,690.8 272.4,693.3 271.8,697.5 271.2,699.3 270.6,694.4 270,695.7 269.4,695.6 268.8,698.4 268.2,697.1 267.6,697.7 267,697.2 266.4,694.4 265.8,697.3 265.2,695 264.6,694.3 264,698.1 263.4,698.1 262.8,696.7 262.2,696.8 261.6,697.4 261,696.9 260.4,697.3 259.8,698.8 259.2,698.9 258.6,695.2 258,693.3 257.4,693.4 256.8,695.6 256.2,696.9 255.6,696.3 255,696 254.4,695.2 253.8,694.8 253.2,694.3 252.6,692.4 252,696 251.4,696.9 250.8,694.7 250.2,695.8 249.6,696.1 249,693.7 248.4,695 247.8,693.7 247.2,694.4 246.6,695.2 246,693.9 245.4,692.8 244.8,692.9 244.2,692.4 243.6,694.7 243,695.5 242.4,693.2 241.8,697 241.2,695.5 240.6,695.8 240,694.1 239.4,694.2 238.8,693.9 238.2,694.7 237.6,694.6 237,693.6 236.4,693.8 235.8,693.2 235.2,692.2 234.6,691 234,693.7 233.4,692.5 232.8,692.5 232.2,692.1 231.6,691.9 231,690 230.4,690 229.8,692.3 229.2,689.1 228.6,690 228,694.6 227.4,694.5 226.8,695.4 226.2,693.4 225.6,693.1 225,692.3 224.4,694.2 223.8,695.3 223.2,694.6 222.6,696.2 222,696.3 221.4,696.4 220.8,698.7 220.2,700.1 219.6,701.6 219,700.2 218.4,697.8 217.8,698.2 217.2,695.8 216.6,696.1 216,697.2 215.4,696.7 214.8,696.9 214.2,697.8 213.6,698.4 213,697.9 212.4,698.3 211.8,699.4 211.2,696.6 210.6,697.8 210,697.6 209.4,697.7 208.8,695.5 208.2,696.1 207.6,699.5 207,698.1 206.4,698.8 205.8,696 205.2,695.6 204.6,696.6 204,696.7 203.4,697.8 202.8,699.2 202.2,699.5 201.6,699.8 201,696.5 200.4,696.6 199.8,698.5 199.2,698.9 198.6,697 198,697.3 197.4,696.1 196.8,695.5 196.2,696.6 195.6,697.9 195,696.1 194.4,698.1 193.8,694.9 193.2,694.7 192.6,696.5 192,695.4 191.4,694.2 190.8,695.6 190.2,693 189.6,693.2 189,693 188.4,693.8 187.8,692.9 187.2,690 186.6,690 186,695.1 185.4,692.6 184.8,691.9 184.2,694.5 183.6,694.6 183,697.8 182.4,697.1 181.8,694.4 181.2,695.4 180.6,697.8 180,694.3 179.4,693.9 178.8,697.4 178.2,696.2 177.6,695.7 177,695 176.4,695 175.8,693.3 175.2,695.7 174.6,694.7 174,694.4 173.4,695.3 172.8,693.9 172.2,696.4 171.6,694.3 171,695.7 170.4,695.6 169.8,692.6 169.2,695.6 168.6,694.7 168,693.2 167.4,692.5 166.8,691 166.2,693 165.6,695.2 165,693.7 164.4,695.3 163.8,694 163.2,694.2 162.6,693.2 162,695.8 161.4,694.4 160.8,694.3 160.2,695 159.6,694.1 159,693.6 158.4,694.9 157.8,694.8 157.2,695.1 156.6,696.2 156,697 155.4,699.3 154.8,696.6 154.2,695.4 153.6,695.7 153,696.6 152.4,694.2 151.8,693.9 151.2,694.3 150.6,693.5 150,693.4 149.4,695.7 148.8,694 148.2,690.4 147.6,691.7 147,690.7 146.4,690.3 145.8,691.4 145.2,693.2 144.6,694.4 144,689.6 143.4,688.9 142.8,691.7 142.2,690.4 141.6,691.8 141,692 140.4,691.5 139.8,690.9 139.2,692.6 138.6,692.4 138,693.5 137.4,698.1 136.8,695.7 136.2,692.8 135.6,694.4 135,698.9 134.4,695.2 133.8,695.5 133.2,696.2 132.6,695.3 132,696.2 131.4,694.3 130.8,693.7 130.2,695.4 129.6,694 129,693 128.4,694.2 127.8,694.2 127.2,693 126.6,691.9 126,692.2 125.4,690.8 124.8,690.5 124.2,692.2 123.6,690.9 123,690.4 122.4,691.2 121.8,691.9 121.2,690.1 120.6,690.7 120,693.7 119.4,690.4 118.8,692.9 118.2,693.4 117.6,689.6 117,692 116.4,691.3 115.8,692.8 115.2,694 114.6,693.2 114,693.1 113.4,695.4 112.8,696.1 112.2,693.8 111.6,694.7 111,692.6 110.4,692 109.8,692.4 109.2,690.7 108.6,688 108,688.8 107.4,692 106.8,689.2 106.2,689.1 105.6,688.8 105,689.3 104.4,691.9 103.8,691.3 103.2,691.7 102.6,690.4 102,690.1 101.4,689 100.8,690.7 100.2,690.7 99.6,688 99,688.1 98.4,688.4 97.8,687.7 97.2,686.4 96.6,688.1 96,686.6 95.4,688.6 94.8,685.2 94.2,683.6 93.6,684.3 93,686.9 92.4,684.2 91.8,682.5 91.2,678.9 90.6,676.9 90,675.6 89.4,675.7 88.8,674 88.2,675.7 87.6,675.6 87,678.9 86.4,683 85.8,683.4 85.2,681.7 84.6,678.6 84,676.5 83.4,678.9 82.8,677.2 82.2,677.4 81.6,679.3 81,680.6 80.4,682.8 79.8,684 79.2,684.5 78.6,685.7 78,684.4 77.4,684.1 76.8,686.5 76.2,685.7 75.6,687.1 75,687.1 74.4,687.5 73.8,683.6 73.2,684.1 72.6,686.6 72,685.1 71.4,682.9 70.8,681.2 70.2,680.1 69.6,678.3 69,680.2 68.4,680.7 67.8,680.8 67.2,680.5 66.6,677.2 66,679.5 65.4,682.5 64.8,681.8 64.2,684.1 63.6,685.4 63,684.4 62.4,684.1 61.8,686.2 61.2,685.7 60.6,684.4 60,687.2 59.4,685.2 58.8,684.3 58.2,683.7 57.6,685 57,685.3 56.4,685.9 55.8,687.7 55.2,683.5 54.6,683.8 54,685.2 53.4,684.7 52.8,684.8 52.2,686 51.6,687 51,690.5 50.4,689.1 49.8,688.6 49.2,689.8 48.6,693.1 48,693.3 47.4,694.2 46.8,696.5" fill="#c8c8c8" opacity="0.4675"/><polyline points="46.8,685.7 47.4,686.7 48,687.6 48.6,686.7 49.2,688.5 49.8,689.9 50.4,688.1 51,688.3 51.6,687.9 52.2,686.9 52.8,687.1 53.4,683.6 54,684.5 54.6,685 55.2,684.3 55.8,684 56.4,681.5 57,679.7 57.6,679.6 58.2,678.2 58.8,678.7 59.4,679.3 60,677.7 60.6,675.7 61.2,675.5 61.8,677.1 62.4,678.5 63,676 63.6,676.1 64.2,677 64.8,677.4 65.4,676.9 66,673.8 66.6,672.4 67.2,674.3 67.8,673.8 68.4,673 69,671.3 69.6,672.3 70.2,673.2 70.8,673.7 71.4,673.8 72,673.8 72.6,673.5 73.2,674.6 73.8,673 74.4,671.7 75,673.1 75.6,673.4 76.2,674.1 76.8,673.3 77.4,675.4 78,675.5 78.6,676 79.2,676.5 79.8,678.3 80.4,678.9 81,677.2 81.6,679.1 82.2,678.5 82.8,678.1 83.4,678.1 84,680.4 84.6,679.2 85.2,675.2 85.8,669.6 86.4,667.9 87,663.6 87.6,661.9 88.2,662.8 88.8,663.3 89.4,665.9 90,666.4 90.6,663.9 91.2,665.5 91.8,666.4 92.4,662.3 93,661.4 93.6,663.8 94.2,660.9 94.8,661.1 95.4,659.6 96,660.2 96.6,659 97.2,657 97.8,653.6 98.4,652.7 99,652.1 99.6,650.2 100.2,648 100.8,647.5 101.4,648.9 102,648.7 102.6,649.6 103.2,647.3 103.8,646 104.4,646.7 105,645.9 105.6,645.7 106.2,645.1 106.8,644.3 107.4,643 108,642.1 108.6,640.9 109.2,639.9 109.8,638 110.4,639.5 111,638.9 111.6,639.3 112.2,639.3 112.8,641 113.4,640.2 114,637.7 114.6,638.2 115.2,639.8 115.8,638.6 116.4,640.9 117,640.4 117.6,643.2 118.2,644.4 118.8,644 119.4,645.9 120,641.6 120.6,644 121.2,643.5 121.8,642.4 122.4,639.6 123,642.9 123.6,644.2 124.2,645.6 124.8,643.5 125.4,644.5 126,644.8 126.6,645.1 127.2,647.6 127.8,646.5 128.4,644.8 129,644.5 129.6,644.1 130.2,643 130.8,643.3 131.4,643.7 132,644.7 132.6,643.7 133.2,643.8 133.8,644.1 134.4,644.7 135,647.8 135.6,645.1 136.2,643.4 136.8,642.2 137.4,643.1 138,642.2 138.6,642.4 139.2,642.3 139.8,642.9 140.4,643 141,644.6 141.6,644.4 142.2,642.1 142.8,641.1 143.4,642 144,643.7 144.6,640.7 145.2,641.2 145.8,639.3 146.4,637.9 147,638.8 147.6,638.5 148.2,639.2 148.8,640.7 149.4,639.8 150,640.4 150.6,638.9 151.2,640.2 151.8,641.9 152.4,640.2 153,638.8 153.6,643.2 154.2,643.1 154.8,643.2 155.4,641.3 156,644 156.6,646.4 157.2,642.1 157.8,641.4 158.4,643.8 159,644.9 159.6,645 160.2,645.8 160.8,643 161.4,644 162,642.7 162.6,644.1 163.2,643.7 163.8,643.3 164.4,641.3 165,642.1 165.6,642.4 166.2,640.9 166.8,642.7 167.4,641.7 168,644.3 168.6,641.5 169.2,641.5 169.8,642.2 170.4,642.4 171,643.7 171.6,644.3 172.2,641.6 172.8,643.5 173.4,645.3 174,643.1 174.6,642.4 175.2,643.2 175.8,642.5 176.4,643.1 177,645.6 177.6,644.3 178.2,643.8 178.8,645.5 179.4,642 180,644.4 180.6,644.7 181.2,644.5 181.8,644.9 182.4,648.9 183,645.8 183.6,644.3 184.2,643.6 184.8,643.6 185.4,643.6 186,643 186.6,645.2 187.2,644.7 187.8,644.4 188.4,646 189,645.9 189.6,646.3 190.2,646.5 190.8,644.4 191.4,644 192,646 192.6,644.8 193.2,644.2 193.8,643.2 194.4,642.8 195,643.1 195.6,645.8 196.2,644.5 196.8,644.7 197.4,646.4 198,643.8 198.6,645.5 199.2,644.6 199.8,643.8 200.4,645.3 201,645.1 201.6,646 202.2,644.3 202.8,641.2 203.4,641.8 204,639.6 204.6,642.3 205.2,645.5 205.8,644.6 206.4,644.9 207,644.3 207.6,644.7 208.2,646.6 208.8,644.5 209.4,645.3 210,641.8 210.6,644.5 211.2,644.6 211.8,642.2 212.4,644.1 213,644.1 213.6,641.4 214.2,641.2 214.8,641.8 215.4,641.3 216,642.9 216.6,643.5 217.2,644.2 217.8,644.3 218.4,644 219,642.3 219.6,640.3 220.2,640.3 220.8,641.4 221.4,642.4 222,644.1 222.6,641.8 223.2,642.9 223.8,641.3 224.4,642.9 225,643.8 225.6,643.8 226.2,642.8 226.8,643.9 227.4,644.8 228,643.7 228.6,641.7 229.2,642.7 229.8,642.7 230.4,643.3 231,643 231.6,642.7 232.2,639.3 232.8,640.7 233.4,643.5 234,643.4 234.6,642.9 235.2,643.9 235.8,643.5 236.4,642.9 237,644.5 237.6,644.6 238.2,642.7 238.8,643.3 239.4,641.7 240,643.7 240.6,645.2 241.2,642.7 241.8,643.1 242.4,642.7 243,643.9 243.6,645.4 244.2,645.7 244.8,644.8 245.4,646.8 246,643.1 246.6,644.1 247.2,642.3 247.8,644.4 248.4,645.7 249,644.3 249.6,644.1 250.2,643.2 250.8,643.8 251.4,643.1 252,644.7 252.6,645 253.2,645.6 253.8,644.5 254.4,645 255,644.4 255.6,643.3 256.2,644.1 256.8,644.4 257.4,643 258,644.4 258.6,645.5 259.2,643.4 259.8,642.9 260.4,644.4 261,644 261.6,643.8 262.2,645.6 262.8,642.6 263.4,644 264,644.4 264.6,643.8 265.2,642.7 265.8,644.1 266.4,643.9 267,645.5 267.6,644.7 268.2,644.2 268.8,643.4 269.4,642.3 270,640.3 270.6,641.2 271.2,640.8 271.8,642.6 272.4,641.6 273,642.2 273.6,643 274.2,645.2 274.8,644.3 275.4,644.4 276,643.1 276.6,642.4 277.2,642.8 277.8,642.2 278.4,641.2 279,644 279.6,643.4 280.2,641 280.8,642 281.4,640.4 282,639.8 282.6,641 283.2,641.5 283.8,643.9 284.4,645.5 285,642.8 285.6,642.5 286.2,644 286.8,641.5 287.4,641.9 288,641.7 288.6,640 289.2,641 289.8,638.5 290.4,640.2 291,643.1 291.6,639.3 292.2,642.7 292.8,643.4 293.4,641.7 294,640.8 294.6,640 295.2,640.1 295.8,641.3 296.4,642 297,637.8 297.6,638 298.2,640.2 298.8,639.7 299.4,638.4 300,635.4 300.6,637.4 301.2,642.6 301.8,640.4 302.4,638.5 303,637.9 303.6,639.2 304.2,641 304.8,639.6 305.4,638.1 306,638.2 306.6,638.7 307.2,639.5 307.8,640.9 308.4,638.4 309,638.1 309.6,638.3 310.2,637.2 310.8,635.2 311.4,637 312,639.3 312.6,639 313.2,635.6 313.8,638.4 314.4,641.5 315,638.8 315.6,637.5 316.2,636.7 316.8,637.8 317.4,638.2 318,635.6 318.6,636 319.2,636.6 319.8,639.7 320.4,637.9 321,635.2 321.6,635 322.2,637.3 322.8,636.7 323.4,635.2 324,634 324.6,636.9 325.2,636.5 325.8,634.5 326.4,634.3 327,634 327.6,635.6 328.2,636.3 328.8,635.9 329.4,636.2 330,637.6 330.6,635 331.2,635.3 331.8,632.9 332.4,631.5 333,633.3 333.6,633 334.2,632.9 334.8,635.5 335.4,636 336,634.6 336.6,633.1 337.2,633.9 337.8,633.9 338.4,632 339,633.5 339.6,636.7 340.2,634.7" fill="none" stroke="#0e800e" stroke-width="1.4" stroke-linejoin="round"/><polyline points="46.8,686.2 47.4,685.1 48,684 48.6,682.8 49.2,680.1 49.8,679.7 50.4,679.5 51,679.7 51.6,677.6 52.2,675.2 52.8,675.1 53.4,675.1 54,674.8 54.6,673.9 55.2,672.5 55.8,676.2 56.4,675.8 57,674.6 57.6,674.4 58.2,672.4 58.8,674.1 59.4,675.1 60,676.1 60.6,674.7 61.2,675.1 61.8,675.7 62.4,674.7 63,675.1 63.6,673.7 64.2,673.7 64.8,670.9 65.4,670.6 66,669.7 66.6,667.4 67.2,671 67.8,671.1 68.4,670.3 69,670 69.6,668.3 70.2,670 70.8,671.3 71.4,671.9 72,675.3 72.6,674.6 73.2,674.5 73.8,674.4 74.4,676.9 75,675.7 75.6,676.1 76.2,676 76.8,674.2 77.4,673.5 78,673.6 78.6,674.1 79.2,673 79.8,673.7 80.4,673.1 81,670.1 81.6,668.3 82.2,666.8 82.8,667.1 83.4,667.9 84,666.7 84.6,668.5 85.2,671.3 85.8,672.6 86.4,673.3 87,669.4 87.6,665.9 88.2,665.7 88.8,663 89.4,665.6 90,665.5 90.6,666.4 91.2,667.9 91.8,669.9 92.4,674.5 93,676.4 93.6,675.2 94.2,673.9 94.8,674.5 95.4,676.4 96,676.3 96.6,678 97.2,676.4 97.8,678.4 98.4,679.1 99,677.8 99.6,678 100.2,681.2 100.8,680.2 101.4,678.5 102,680.4 102.6,680.3 103.2,681.1 103.8,681.2 104.4,680.4 105,679.6 105.6,678.7 106.2,679.1 106.8,679.4 107.4,682 108,679.5 108.6,678.9 109.2,681.2 109.8,681.6 110.4,682.2 111,683.9 111.6,685.3 112.2,683.5 112.8,686.7 113.4,685.9 114,682.8 114.6,683.2 115.2,684.8 115.8,682.9 116.4,682.3 117,682.4 117.6,680.9 118.2,683.7 118.8,682.9 119.4,682.6 120,684.2 120.6,680.8 121.2,680.7 121.8,682.2 122.4,682.9 123,681.9 123.6,680.6 124.2,682.8 124.8,680.7 125.4,682.5 126,684 126.6,682.4 127.2,682.6 127.8,684.8 128.4,685.1 129,684.8 129.6,685.6 130.2,686.2 130.8,685.6 131.4,686 132,687.5 132.6,687.1 133.2,686.9 133.8,687 134.4,685.1 135,686.9 135.6,686.4 136.2,683.8 136.8,687.7 137.4,686.5 138,684.5 138.6,683.4 139.2,683.3 139.8,682.7 140.4,682.2 141,683.2 141.6,683.5 142.2,682.2 142.8,683.3 143.4,680.1 144,681.1 144.6,685.3 145.2,683.9 145.8,683.5 146.4,681.6 147,681.2 147.6,683 148.2,681.6 148.8,683.8 149.4,685.9 150,684.8 150.6,684.8 151.2,684.9 151.8,685.7 152.4,685.4 153,688 153.6,687.6 154.2,687.5 154.8,688.6 155.4,688.9 156,686.8 156.6,686.5 157.2,687.2 157.8,685.8 158.4,684.1 159,684 159.6,686 160.2,686.1 160.8,685 161.4,685.7 162,686.1 162.6,683.9 163.2,686.1 163.8,684.4 164.4,688 165,686.1 165.6,686.7 166.2,684 166.8,682.7 167.4,683.7 168,685.1 168.6,685 169.2,685.6 169.8,684.1 170.4,686.9 171,687.4 171.6,684.5 172.2,684.5 172.8,684.5 173.4,686.8 174,685.3 174.6,685.8 175.2,686.6 175.8,684.3 176.4,687 177,686 177.6,687 178.2,687.5 178.8,687.3 179.4,685.8 180,686.4 180.6,687.5 181.2,686.2 181.8,683.9 182.4,687.2 183,688.2 183.6,684.4 184.2,686.3 184.8,682.1 185.4,681.5 186,684.8 186.6,681.9 187.2,681.7 187.8,683.4 188.4,683.2 189,683.9 189.6,683.8 190.2,684.3 190.8,686.7 191.4,686.4 192,686.9 192.6,687.6 193.2,686.1 193.8,685.9 194.4,688.7 195,687.4 195.6,689.5 196.2,687.5 196.8,686.9 197.4,686.9 198,687.9 198.6,688.7 199.2,689.2 199.8,690.2 200.4,688.4 201,688.5 201.6,691.7 202.2,689.7 202.8,689.4 203.4,689 204,688.4 204.6,689 205.2,687.1 205.8,687.6 206.4,689.6 207,689.2 207.6,690.4 208.2,687.3 208.8,685.2 209.4,687.4 210,688.4 210.6,688.5 211.2,687.7 211.8,690.3 212.4,688.8 213,689.4 213.6,687.2 214.2,688.9 214.8,689 215.4,688.6 216,689.3 216.6,687.9 217.2,688.1 217.8,687.5 218.4,687.8 219,691.3 219.6,693.7 220.2,689.8 220.8,689.6 221.4,686.9 222,687.7 222.6,687.9 223.2,686.9 223.8,686.6 224.4,685.6 225,684.2 225.6,685 226.2,685.2 226.8,686.1 227.4,686.4 228,684.4 228.6,682.2 229.2,679.7 229.8,682.6 230.4,681.3 231,682.1 231.6,683.5 232.2,684.2 232.8,684.4 233.4,684.6 234,684.3 234.6,682.5 235.2,683.5 235.8,684.1 236.4,684.1 237,684.6 237.6,686.1 238.2,686.3 238.8,684.5 239.4,685.6 240,686.1 240.6,687.1 241.2,686.3 241.8,687.4 242.4,684.6 243,685.4 243.6,685.5 244.2,684.9 244.8,683.9 245.4,684.2 246,684 246.6,686.2 247.2,685.8 247.8,685.6 248.4,685.9 249,685.3 249.6,687.2 250.2,686.7 250.8,686.8 251.4,688.4 252,686 252.6,684.8 253.2,686.3 253.8,686.4 254.4,687 255,686.1 255.6,687.7 256.2,688.3 256.8,686.3 257.4,685.1 258,685.2 258.6,686.1 259.2,689 259.8,690.5 260.4,688.9 261,688.5 261.6,687.9 262.2,686.9 262.8,689.1 263.4,689.3 264,687 264.6,685.4 265.2,686.1 265.8,688.7 266.4,685.4 267,688 267.6,688.1 268.2,688.8 268.8,688.6 269.4,686.4 270,686.9 270.6,686.1 271.2,689.7 271.8,688.2 272.4,685.1 273,682.2 273.6,684.2 274.2,686 274.8,684.6 275.4,684.5 276,686 276.6,685.4 277.2,685.4 277.8,685.2 278.4,684 279,686.3 279.6,687.5 280.2,686.5 280.8,684.7 281.4,685.4 282,685.1 282.6,685 283.2,685.6 283.8,686.7 284.4,685.2 285,681.5 285.6,682.7 286.2,683 286.8,684.8 287.4,683.3 288,682.6 288.6,682.1 289.2,684.6 289.8,684.2 290.4,683.6 291,683.7 291.6,682.4 292.2,683.1 292.8,684.8 293.4,683 294,680.6 294.6,684.8 295.2,683.9 295.8,682.7 296.4,682.1 297,681.4 297.6,682.4 298.2,682.7 298.8,683.9 299.4,682.5 300,679.9 300.6,681.1 301.2,681.6 301.8,680.8 302.4,682.9 303,679.9 303.6,681.8 304.2,682.2 304.8,680.6 305.4,679.3 306,680.2 306.6,679 307.2,681 307.8,681.2 308.4,681.9 309,682.7 309.6,680.3 310.2,681.2 310.8,681.5 311.4,682.5 312,684.6 312.6,682.4 313.2,682.2 313.8,680.8 314.4,682.2 315,681.3 315.6,681.1 316.2,682.7 316.8,678.2 317.4,679.8 318,681.9 318.6,682.1 319.2,682.6 319.8,681.4 320.4,680 321,679.1 321.6,678.9 322.2,681.6 322.8,681.7 323.4,680.1 324,679.6 324.6,681.1 325.2,681.8 325.8,681.3 326.4,680.1 327,679.9 327.6,679.8 328.2,678 328.8,680.3 329.4,680.7 330,679.9 330.6,680.1 331.2,679 331.8,679.9 332.4,678.9 333,680.3 333.6,678.5 334.2,677.9 334.8,676.9 335.4,678 336,677.6 336.6,676.4 337.2,676.1 337.8,675.1 338.4,678 339,675.8 339.6,679.2 340.2,677.4" fill="none" stroke="#555555" stroke-width="1.2" stroke-linejoin="round"/><path d="M46.5,618.3 V709.8 H340.8" fill="none" stroke="#222" stroke-width="1.5"/><line x1="44.7" y1="690.8" x2="46.5" y2="690.8" stroke="#222" stroke-width="1"/><text x="42.5" y="694.7" font-size="11" text-anchor="end" fill="#222">0</text><line x1="44.7" y1="654.5" x2="46.5" y2="654.5" stroke="#222" stroke-width="1"/><text x="42.5" y="658.4" font-size="11" text-anchor="end" fill="#222">10</text><line x1="44.7" y1="618.2" x2="46.5" y2="618.2" stroke="#222" stroke-width="1"/><text x="42.5" y="622.1" font-size="11" text-anchor="end" fill="#222">20</text><line x1="87.5" y1="709.8" x2="87.5" y2="712" stroke="#222" stroke-width="1"/><text x="87.5" y="726" font-size="11" text-anchor="middle" fill="#222">0</text><line x1="171.9" y1="709.8" x2="171.9" y2="712" stroke="#222" stroke-width="1"/><text x="171.9" y="726" font-size="11" text-anchor="middle" fill="#222">1</text><line x1="256.4" y1="709.8" x2="256.4" y2="712" stroke="#222" stroke-width="1"/><text x="256.4" y="726" font-size="11" text-anchor="middle" fill="#222">2</text><line x1="340.8" y1="709.8" x2="340.8" y2="712" stroke="#222" stroke-width="1"/><text x="340.8" y="726" font-size="11" text-anchor="middle" fill="#222">3</text><text transform="translate(23.6,655.3) rotate(-90)" font-size="11" text-anchor="middle" fill="#222">ΔF/F (%)</text><text x="209.5" y="736.7" font-size="10.6" text-anchor="middle" fill="#222">Time after injection (h)</text><text x="55.2" y="605.2" font-size="10.5" fill="#222">Drug injection</text><line x1="87.5" y1="610" x2="87.5" y2="618" stroke="#111" stroke-width="0.9"/><path d="M85.2,617 L89.8,617 L87.5,621.8 Z" fill="#111"/><rect x="101.2" y="613.8" width="239.6" height="1.8" fill="#111"/><text x="202.8" y="609.4" font-size="10.5" fill="#222"><tspan font-style="italic">Q</tspan> &lt; 0.05</text><text x="280.3" y="603.4" font-size="11.2" font-weight="bold" fill="#111">GRAB</text><text x="314.3" y="606" font-size="6.3" font-weight="bold" fill="#111">ado1.0</text><rect x="102.5" y="576.4" width="11.8" height="6.6" fill="#c8c8c8"/><line x1="102.5" y1="579.7" x2="114.3" y2="579.7" stroke="#333" stroke-width="1.8"/><text x="117.7" y="583.1" font-size="10.6" fill="#222">Vehicle</text><rect x="159" y="576.4" width="11.5" height="6.6" fill="#b0dbab"/><line x1="159" y1="579.7" x2="170.5" y2="579.7" stroke="#1b8f1b" stroke-width="1.8"/><text x="174" y="583.1" font-size="10.5" fill="#222">CNO, 0.3 mg·kg<tspan font-size="6.5" dy="-4">-1</tspan></text><text x="353.3" y="578.6" font-size="16.5" font-weight="bold" fill="#000">h</text><line x1="400.8" y1="581.7" x2="400.8" y2="730.5" stroke="#222" stroke-width="1.1"/><line x1="400.8" y1="693.3" x2="499.3" y2="693.3" stroke="#222" stroke-width="1.1"/><line x1="398.8" y1="730.5" x2="400.8" y2="730.5" stroke="#222" stroke-width="1"/><text x="396.2" y="734.4" font-size="11" text-anchor="end" fill="#222">-10</text><line x1="398.8" y1="693.3" x2="400.8" y2="693.3" stroke="#222" stroke-width="1"/><text x="396.2" y="697.2" font-size="11" text-anchor="end" fill="#222">0</text><line x1="398.8" y1="656.1" x2="400.8" y2="656.1" stroke="#222" stroke-width="1"/><text x="396.2" y="660" font-size="11" text-anchor="end" fill="#222">10</text><line x1="398.8" y1="618.9" x2="400.8" y2="618.9" stroke="#222" stroke-width="1"/><text x="396.2" y="622.8" font-size="11" text-anchor="end" fill="#222">20</text><line x1="398.8" y1="581.7" x2="400.8" y2="581.7" stroke="#222" stroke-width="1"/><text x="396.2" y="585.6" font-size="11" text-anchor="end" fill="#222">30</text><rect x="414.5" y="687.2" width="28.5" height="6.1" fill="#fff" stroke="#222" stroke-width="1"/><rect x="456.7" y="644.9" width="28.5" height="48.4" fill="#077607" stroke="#222" stroke-width="1"/><line x1="428.7" y1="680.3" x2="428.7" y2="694" stroke="#333" stroke-width="0.9"/><line x1="425.7" y1="680.3" x2="431.7" y2="680.3" stroke="#333" stroke-width="0.9"/><line x1="425.7" y1="694" x2="431.7" y2="694" stroke="#333" stroke-width="0.9"/><line x1="471" y1="634.9" x2="471" y2="654.2" stroke="#333" stroke-width="0.9"/><line x1="468" y1="634.9" x2="474" y2="634.9" stroke="#333" stroke-width="0.9"/><line x1="468" y1="654.2" x2="474" y2="654.2" stroke="#333" stroke-width="0.9"/><path d="M428.7,654.3 V589.3 H471 V598.5" fill="none" stroke="#444" stroke-width="0.9"/><text x="451.3" y="586.1" font-size="10.2" text-anchor="middle" fill="#222">P = 0.004</text><circle cx="422.6" cy="664.2" r="2.6" fill="#fff" stroke="#333" stroke-width="0.9"/><circle cx="434.3" cy="666.2" r="2.6" fill="#fff" stroke="#333" stroke-width="0.9"/><circle cx="422.6" cy="686.1" r="2.6" fill="#fff" stroke="#333" stroke-width="0.9"/><circle cx="422.6" cy="692.3" r="2.6" fill="#fff" stroke="#333" stroke-width="0.9"/><circle cx="434.3" cy="690.3" r="2.6" fill="#fff" stroke="#333" stroke-width="0.9"/><circle cx="434.3" cy="697.3" r="2.6" fill="#fff" stroke="#333" stroke-width="0.9"/><circle cx="428.6" cy="711.9" r="2.6" fill="#fff" stroke="#333" stroke-width="0.9"/><circle cx="471" cy="606.7" r="2.6" fill="#fff" stroke="#333" stroke-width="0.9"/><circle cx="471" cy="615.1" r="2.6" fill="#fff" stroke="#333" stroke-width="0.9"/><circle cx="471" cy="627" r="2.6" fill="#fff" stroke="#333" stroke-width="0.9"/><circle cx="471" cy="638.9" r="2.6" fill="#fff" stroke="#333" stroke-width="0.9"/><circle cx="465.3" cy="661" r="2.6" fill="#fff" stroke="#333" stroke-width="0.9"/><circle cx="477.3" cy="656.8" r="2.6" fill="#fff" stroke="#333" stroke-width="0.9"/><circle cx="471" cy="670" r="2.6" fill="#fff" stroke="#333" stroke-width="0.9"/><circle cx="471" cy="682.4" r="2.6" fill="#fff" stroke="#333" stroke-width="0.9"/><text transform="translate(377,655.5) rotate(-90)" font-size="10.9" text-anchor="middle" fill="#222">Mean ΔF/F for 3 h (%)</text><text x="430.2" y="736.7" font-size="10.5" text-anchor="middle" fill="#222">Vehicle</text><text x="468.5" y="736.7" font-size="10.5" text-anchor="middle" fill="#222">CNO</text>
</svg>
</body></html>
